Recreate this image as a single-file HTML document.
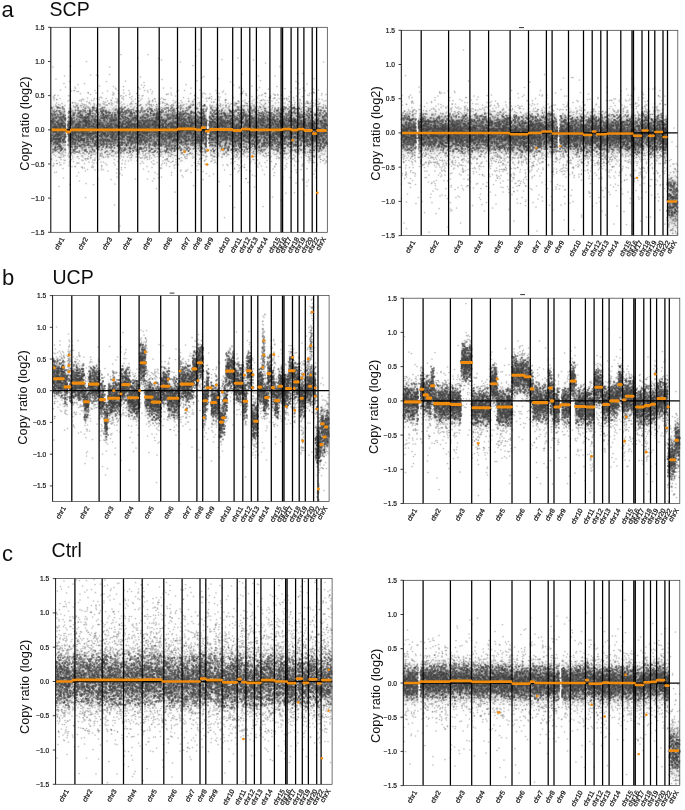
<!DOCTYPE html><html><head><meta charset="utf-8"><title>CNV scatter</title><style>
html,body{margin:0;padding:0;background:#fff}
svg{display:block}
text{font-family:"Liberation Sans",sans-serif;fill:#111}
.p{fill:none;stroke:none;marker-start:url(#d);marker-mid:url(#d);marker-end:url(#d)}
.q{fill:none;stroke:none;marker-start:url(#e);marker-mid:url(#e);marker-end:url(#e)}
.v{fill:none;stroke:#000;stroke-width:1.25}
.o{fill:none;stroke:#f28c0d;stroke-width:2.2;stroke-linecap:round}
.f{fill:none;stroke:#333;stroke-width:.7}
.k{fill:none;stroke:#111;stroke-width:.8}
.t{font-size:6.6px;text-anchor:end;stroke:#111;stroke-width:.2px}
.x{font-size:6.8px;text-anchor:middle;stroke:#111;stroke-width:.22px}
.yl{font-size:12.75px;text-anchor:middle}
.lt{font-size:22px}
.tt{font-size:19.5px}
</style></head><body>
<svg width="685" height="810" viewBox="0 0 685 810">
<defs><filter id="bp" x="-2%" y="-2%" width="104%" height="104%"><feGaussianBlur stdDeviation=".7"/></filter><filter id="bl" x="-5%" y="-5%" width="110%" height="110%"><feGaussianBlur stdDeviation=".35"/></filter><filter id="bt" x="-20%" y="-20%" width="140%" height="140%"><feGaussianBlur stdDeviation=".3"/></filter><marker id="e" markerWidth="6" markerHeight="6" refX="3" refY="3" markerUnits="userSpaceOnUse"><circle cx="3" cy="3" r="1.7" fill="#5a5a5a" fill-opacity=".36"/></marker><marker id="d" markerWidth="6" markerHeight="6" refX="3" refY="3" markerUnits="userSpaceOnUse"><circle cx="3" cy="3" r="2" fill="#404040" fill-opacity=".55"/></marker></defs>
<rect width="685" height="810" fill="#fff"/>
<g><linearGradient id="gAL" x1="0" y1="0" x2="0" y2="1"><stop offset="0.000" stop-color="#585858" stop-opacity="0.002"/><stop offset="0.036" stop-color="#585858" stop-opacity="0.003"/><stop offset="0.071" stop-color="#585858" stop-opacity="0.006"/><stop offset="0.107" stop-color="#585858" stop-opacity="0.012"/><stop offset="0.143" stop-color="#585858" stop-opacity="0.023"/><stop offset="0.179" stop-color="#585858" stop-opacity="0.043"/><stop offset="0.214" stop-color="#585858" stop-opacity="0.076"/><stop offset="0.250" stop-color="#585858" stop-opacity="0.128"/><stop offset="0.286" stop-color="#585858" stop-opacity="0.202"/><stop offset="0.321" stop-color="#585858" stop-opacity="0.297"/><stop offset="0.357" stop-color="#585858" stop-opacity="0.400"/><stop offset="0.393" stop-color="#585858" stop-opacity="0.497"/><stop offset="0.429" stop-color="#585858" stop-opacity="0.574"/><stop offset="0.464" stop-color="#585858" stop-opacity="0.623"/><stop offset="0.500" stop-color="#585858" stop-opacity="0.640"/><stop offset="0.536" stop-color="#585858" stop-opacity="0.625"/><stop offset="0.571" stop-color="#585858" stop-opacity="0.579"/><stop offset="0.607" stop-color="#585858" stop-opacity="0.505"/><stop offset="0.643" stop-color="#585858" stop-opacity="0.410"/><stop offset="0.679" stop-color="#585858" stop-opacity="0.308"/><stop offset="0.714" stop-color="#585858" stop-opacity="0.213"/><stop offset="0.750" stop-color="#585858" stop-opacity="0.137"/><stop offset="0.786" stop-color="#585858" stop-opacity="0.083"/><stop offset="0.821" stop-color="#585858" stop-opacity="0.048"/><stop offset="0.857" stop-color="#585858" stop-opacity="0.027"/><stop offset="0.893" stop-color="#585858" stop-opacity="0.015"/><stop offset="0.929" stop-color="#585858" stop-opacity="0.008"/><stop offset="0.964" stop-color="#585858" stop-opacity="0.004"/><stop offset="1.000" stop-color="#585858" stop-opacity="0.002"/></linearGradient>
<clipPath id="cAL"><rect x="50.8" y="27.3" width="276.5" height="205"/></clipPath>
<g clip-path="url(#cAL)" fill="url(#gAL)">
<rect x="50.8" y="88.2" width="14.9" height="83.3"/>
<rect x="67.9" y="90.2" width="2.4" height="83.3"/>
<rect x="70.3" y="88.2" width="27.5" height="83.3"/>
<rect x="97.8" y="88.2" width="21.5" height="83.3"/>
<rect x="119.3" y="88.2" width="18.5" height="83.3"/>
<rect x="137.8" y="88.2" width="21.5" height="83.3"/>
<rect x="159.3" y="88.2" width="18.5" height="83.3"/>
<rect x="177.8" y="87.3" width="18" height="83.3"/>
<rect x="195.8" y="88.2" width="5.5" height="83.3"/>
<rect x="201.3" y="86.1" width="4" height="83.3"/>
<rect x="205.3" y="89.5" width="1.7" height="83.3"/>
<rect x="209.1" y="89.5" width="0.2" height="83.3"/>
<rect x="209.3" y="87.8" width="8.5" height="83.3"/>
<rect x="217.8" y="87.8" width="15" height="83.3"/>
<rect x="232.8" y="88.8" width="8.5" height="83.3"/>
<rect x="241.3" y="87.5" width="8.5" height="83.3"/>
<rect x="249.8" y="88.2" width="6.5" height="83.3"/>
<rect x="256.3" y="88.2" width="13.5" height="83.3"/>
<rect x="269.8" y="88.2" width="11.5" height="83.3"/>
<rect x="281.3" y="88.2" width="1.5" height="83.3"/>
<rect x="282.8" y="87.5" width="8.5" height="83.3"/>
<rect x="291.3" y="88.5" width="6.5" height="83.3"/>
<rect x="297.8" y="87.5" width="6" height="83.3"/>
<rect x="303.8" y="88.8" width="8.5" height="83.3"/>
<rect x="312.3" y="91.9" width="4.5" height="83.3"/>
<rect x="316.8" y="88.8" width="10.5" height="83.3"/>
</g>
<g filter="url(#bp)" transform="scale(.5)"><path class="p" d="M102 282l1-39 0 40 0-34 0-21 0 14 0 34 0-5 0-56 0 62 0 2 1 3 0-38 0-27 1 53 0-23 0 14 0-31 0 13 0-6 0-5 1 48 0 19 0-44 0-11 0 60 0-50 0-15 1 50 0-51 0 11 0-21 0 49 0 1 0-39 0 2 0 4 0 29 0-12 0 3 1-30 0 38 0-18 0 8 0-9 0 31 0 1 0-25 1 12 0-25 0 16 0 13 0-53 0 28 0-21 1 11 0 57 0-27 0-15 0-29 0 50 0-18 0-7 0 31 0 12 0-39 0 44 0-23 1-29 0-19 0 40 0 25 0-14 0 5 0-27 0 36 0-33 0-26 0 58 0-32 0-8 1-31 0 58 0-19 0 11 0-8 0 19 0-14 0-7 0-9 0 35 0 12 0-40 0-4 0-5 1 35 0-51 0 27 0 15 0-34 0 19 0 1 0-6 0-24 0 21 0-2 1 15 0-24 0-23 0 65 0-9 0-17 0 39 0-31 0-12 0 23 0-2 1-4 0-2 0 17 0-10 0-63 0 79 0-6 0-43 0-30 1 52 0 12 0-25 0-24 0 19 0 10 0 14 0 11 0 1 0-44 1 5 0 13 0 19 0 3 0-29 0-3 0 20 0-9 0 11 0-56 0 77 0-25 0-19 0-4 1 34 0-1 0-43 0-12 0 48 0-13 0 35 0-12 0 9 0-7 0-18 0 41 1-68 0 40 0 17 0 3 0-30 0 16 0 1 0-14 0 0 1-15 0 3 0-18 0 49 0-31 0 34 0-63 0 52 0-29 0-36 0 32 0 14 0-37 0 24 0 14 0 17 1-15 0 17 0-12 0-14 0-1 0 7 0-27 0 26 0 15 0-23 0 24 0 25 0-47 0 38 0-29 0 14 1-28 0 26 0 21 0-51 0 27 0-44 0 55 0 11 0-61 0 66 0-51 0-12 0-11 1 24 0 12 0-20 0-2 0 17 0-8 0 51 0-32 0-21 1 1 0 20 0-16 0 11 0-25 0 11 0 49 1-34 0 16 0-34 0 51 0-80 0-3 0 49 0-29 0 8 1 31 0-30 0 42 0-33 0 30 0-3 0-46 1 31 0-11 0 29 0-31 0-18 0 28 0-5 0-26 1 4 0 44 0-9 0-23 0 7 0-16 0-19 0 61 0-18 1 15 0-53 0 16 0 17 0-3 1 46 0-47 0-21 0 43 0 0 0-4 0 14 0-26 0 5 0-26 1 1 0 2 0 44 0-33 0 18 0-21 0 9 0-1 0-20 1 37 4-16 0-6 0 10 0-18 0 7 0 40 0-42 0 5 0 15 1 4 0-46 0 33 0-5 0 8 0-17 0-11 0 32 0 15 1-35 0 23 0-6 0 0 0 14 0-54 1 39 0-8 0-6 0 15 0-40 0 57 0-37 0 14 0 18 0-20 0 9 1-28 0 68 0-33 0 15 0-60 0 23 0 33 0-28 0 20 0-18 1 43 0-56 0 33 0-31 0 24 0-44 0 53 0 12 0-52 0 37 0-58 1 6 0 70 0-7 0-38 0 26 0-14 0-20 0 35 0-15 0-11 1 19 0 37 0-58 0-4 0-2 0-5 0 35 0-36 0 54 0-19 1-19 0-9 0 6 0-10 0 6 0 2 0 37 0-19 0-7 0 23 0 14 0-25 0-5 0-26 0 37 0 3 0-2 1-8 0-7 0-16 0 31 0-14 0 10 0 10 0 5 0-22 0 18 0-11 1-6 0 23 0-33 0 44 0-24 0 28 0-73 0 39 1-12 0 9 0 11 0-51 0 19 0-4 0 2 0 16 1 18 0-11 0-37 0 70 0-15 0-49 0-7 0 52 1-22 0 43 0-14 0-26 0-1 0 17 0-6 0-9 0 36 0-30 0-14 1 31 0-30 0 7 0-37 0 39 0 25 0 3 0-29 1 22 0-23 0 7 0-4 0-16 0 29 0 19 0-77 0 45 0 18 0 10 1-13 0 23 0-53 0 28 0-27 0-4 0 22 0-14 1 5 0 4 0 10 0 18 0-38 0-5 0 9 0 15 1 22 0-37 0 3 0-13 1 4 0-4 0 39 0 5 0-60 0 71 0-16 0-24 0-8 1-1 0 2 0 15 0-56 0 28 0 36 0-1 0-59 0 7 0 49 1 6 0-34 0 0 0 7 0 10 0-14 0 19 0 2 0-26 0 28 1 0 0-15 0-3 0 26 0-30 0 25 0 14 0-25 0 17 0-57 0 79 0-51 0 11 1-25 0 9 0 7 0-33 0 79 0-68 0 15 1-5 0 19 0-4 0-15 0-18 0 66 0-11 0-36 0-14 0 61 0-37 1 25 0-7 0 11 0-35 0 3 0 23 0-52 0 6 0 45 0-39 1 9 0 27 0 7 0-43 0-13 0 8 0 35 0 14 1-24 0 22 0-19 0 34 0-29 0-31 0 32 0-4 0 20 1-22 0 20 0-13 0 14 0-48 0 37 0 12 0-44 0 43 0-48 0 58 0-25 0 0 1 8 0-2 0-24 0 11 1 11 0-10 0-19 0 3 0-7 0 34 0-2 0-5 0 3 0 0 0-9 0-5 0 19 0-47 0 58 0-15 1 5 0-51 0 60 0 5 0-28 0 32 0-10 0-27 0 4 0-7 0-7 0 10 1 26 0 11 0-46 0 39 0-29 0 28 0-3 0-15 0-27 0 42 1 2 0 5 0-19 0-29 0 64 0-9 0-51 0-7 0 28 0-21 0 1 1 7 0-7 0-19 0 44 0-4 0-24 0 2 0 59 0-79 0 39 0-21 0 28 1-15 0-9 0 1 0 15 0 43 0-57 0 5 0-15 0-18 0 40 0-22 0 6 1 45 0 5 0 8 0-65 0 2 0 15 0 18 0-27 0 0 0 5 0-17 0-5 1 25 0-12 0 5 0 5 0-3 0 1 0-11 0 34 0-17 0 23 0-25 0 28 0-15 0 20 0-38 1 26 0 13 0-39 0 22 0-3 0 40 0-61 1 22 0-31 0 20 0-11 0 24 0 12 0-4 1-16 0 12 0-44 0 63 0-55 0-6 0 11 0-4 0 32 0-21 0-14 0 37 0 12 0-4 0-18 0 30 1-32 0-17 0 10 0-7 0 11 0 29 0 4 0 0 0-28 0 12 1-31 0 54 0-62 0 8 0 21 0-14 0-4 0-7 0 11 0 22 0-8 0-32 0 23 0-25 1 26 0-37 0 30 0 5 0 14 0-38 0 47 0-6 0-1 1 35 0-20 0-57 0-3 0 3 0 65 0-69 0 9 0-10 0 0 0 47 0 1 0-2 1-8 0-10 0 4 0-25 0 15 0 15 0 15 0-1 0-4 1 8 0 16 0-14 1 17 0-26 0-2 0 37 0-72 0 13 0-3 0 25 1-8 0-36 0 48 0-32 0 12 0 2 1 40 0 5 0-18 0 20 0-65 0 48 0-5 0-25 0 24 0-57 0-5 0 18 1-18 0 37 0 6 0 27 0-22 0-16 0 33 0-14 0-39 0 5 0-16 0 52 0-9 0 19 0-21 1 20 0-11 0-5 0-8 0 21 0-9 0-16 1-9 0-3 0 16 0 39 0-44 0-28 1 81 0-40 0 28 0 14 0-47 0 11 0-51 0 51 0 20 0-45 1 20 0-14 0-5 0 0 0 44 0-48 0 0 0-11 0 63 0-2 0-23 0 16 0-28 0 7 1-2 0 7 0-31 0-3 0 33 0 1 0 6 0-28 1 17 0 22 0-25 0 14 0 2 0-22 0 21 0-50 0 51 0 11 0-29 0 11 0 16 0 6 1-6 0-33 0 9 0 26 0-41 0-23 0 45 0-45 0-5 1 76 0-67 0 55 0-48 0-7 0 15 0 49 0-41 0 49 0-18 0-27 0 22 0-34 0-21 0 31 1 2 0-27 0 14 0 57 0-5 0-49 0 14 0 13 0-49 0 42 0-2 0 33 0-25 0-14 1-25 0 30 0 21 0-51 0 32 0-13 0 16 0 12 0-13 0-1 0 15 0-12 0 20 0-34 1 5 0-9 0 39 0 3 0-18 0-25 0 35 0 18 1-5 0-44 0 2 1-3 0 15 0-16 0 45 0-34 0-19 0 5 1 27 0-16 0 1 0-12 0 3 0 34 0-10 1-31 0 10 0-33 0 18 0 44 0-1 0 6 0 2 1 3 0-29 0 8 0-46 0 8 0-9 0 32 0 9 0-15 0 23 1 9 0-27 0 37 0-19 0-10 0 13 1-40 0 11 0-21 0 75 0-35 0-39 0 12 0 35 0 10 0-55 0 23 0 39 0-21 0-51 1-2 0 62 0-29 0 19 0-14 0-17 0 30 0-43 0 41 1-33 0 47 0-25 0-33 0 39 0 0 0-2 0-29 0 66 1-10 0-16 0 15 0 8 0-10 0 6 0-52 0-14 0 7 0 21 0 2 0-21 0 0 0 53 0-23 1-25 0 32 0-13 0-16 0 51 0-24 0-30 0 6 0 13 0 12 0 15 0-14 1 20 0-18 0-27 0 14 0 13 0-11 0-20 0 34 0-39 0-18 1 54 0-13 0 10 0 14 0 25 1-82 0 57 0-11 0 10 0-12 0-34 0 25 1-22 0 26 0-32 0 2 0-10 0 13 0-10 0 48 0 16 0-39 0 6 0 47 1-9 0-50 0 38 0-30 0 3 0 3 0-32 0 57 0 3 0-52 0-9 1 46 0-16 0 33 0-15 0-12 0 30 0-18 0-12 0 32 1-58 0 44 0 0 0-8 0-20 0-13 0-7 0 23 0-7 0 18 1-9 0 11 0 13 0-32 0 23 0 12 0-27 0-24 1 22 0 26 0-33 0 23 0-11 0 2 0-37 0 30 0 6 0-31 1-3 0 57 0-31 0 11 0-27 0 25 0-3 1 23 0-20 0-30 0 50 0-29 0 36 0 6 1-49 0 38 0-45 0 15 0-27 0-1 0 17 0 8 0 2 0 16 1-27 0 19 0 2 0 2 0 10 0-18 1-9 0 9 0 14 0 22 0-40 0-14 0 46 0-9 0 14 0-1 0 8 0-61 0 22 1-27 0 39 0-4 0-3 0-14 0-16 0 18 0-8 0 6 0-5 1-13 0 28 0 16 0-14 0 16 0 18 0-28 0 9 0-39 0 38 0-34 0 42 0-27 1 14 0 3 0-31 0 15 0 27 0-18 0-1 0-8 0 14 0-44 0 77 0-50 0-19 1 7 0 30 0-33 0 25 0 39 0-55 0 32 0-2 0-4 1-32 0 27 0 19 1-47 0 19 0-10 0 42 0-22 0-2 1 13 0-45 0 4 0 36 0 8 0 13 0-55 0 38 0-49 1 15 0-15 0 26 0-30 0 37 0-13 0 22 0-20 0 13 0-32 1-13 0 10 0 11 0 45 0-10 0-11 0-24 0 40 0-2 1-41 0 17 0-4 0-3 0 11 1 1 0 2 0 17 0-41 0 15 0 21 0-39 0 38 0-3 1-20 0 14 0 5 0-29 1 13 0 13 0 26 0-41 0 32 0-58 0 67 1-47 0 60 0-52 0 26 0-10 0-43 0 25 0-29 0 68 1 1 0-37 0 31 0-28 0 6 0-31 0 30 0-2 0 7 1-34 0 14 0 7 0 9 0 30 0-31 0-9 0 6 0 42 0-13 1-28 0 32 0-68 0 20 0 24 0-48 0 65 0-33 0 26 0-20 0 7 0-28 0 62 0-53 0-18 0-11 0 12 1 67 0-40 0 20 0-32 0-18 0 11 1-11 0 64 0 15 0-9 0-73 0 8 0 54 0-25 0-9 1-12 0 30 0-5 0-17 0 31 0-12 0-13 0 17 0 30 1-48 0 5 0-42 0 68 0-17 0 24 0-3 0-27 0 6 1-45 0 31 0 20 0 6 0-23 0 47 0-50 0-1 0-32 0 67 0-53 0 52 0-22 0-39 0 31 0-31 0 32 0-6 0 17 0-49 0 42 0-30 0 49 0-4 0-24 0 46 0-64 1 14 0 43 0-46 0 19 0 10 0 13 0-20 0 6 0-2 0-10 0-5 0-6 0 0 0 4 1-16 0 37 0-27 0 7 0 9 0-28 0 26 0-32 1 14 0-2 0 26 0-5 0-29 0 23 0-38 0 7 0 48 1-25 0 38 0 14 0-43 0 3 0-35 0 33 0 22 0-24 0 9 0 9 1 11 0-23 0-1 0-46 0 86 0-30 1-48 0 41 0-9 0-18 0 12 0 21 0 27 0-37 0-18 0-8 0-5 1 18 0 13 0-26 0 22 0 11 0 32 0-60 1 21 0-35 0 21 0 10 0-29 0 42 0 19 0-29 0-1 0-3 0-33 1 70 0-40 0 38 0-24 0 24 0-23 0-14 1 25 0-24 0-29 0 10 0 19 0-10 0 8 0-9 0-22 0 33 0 51 1-42 0 11 0 6 0-7 0 13 0-39 0-11 1 19 0-5 0 40 0-53 0 45 0-36 0 12 0-13 1 23 0-30 0-14 0 17 0 19 0 0 0-3 0-2 0 30 0 1 1-37 0 17 0-5 0-4 0-10 0-4 0 31 0-21 0 21 0-53 0 29 0 30 1-14 0-34 0 26 0-13 0 32 0-16 0 34 0 2 0-53 0 24 0-45 0 73 0-14 0-2 0-41 0 15 1 21 0-12 0 2 0 39 0-75 0 31 0-10 0 14 0 17 1-36 0-2 0 13 0 21 0-16 0 3 0-22 0 61 0-7 0 2 0-14 0-40 0 37 0-1 0-28 0-26 0 6 1-12 0 58 0-46 0 58 0-40 0-26 0 46 0-43 0 47 0 1 1 12 0-33 0 34 0-64 0 3 0 24 0-2 0 23 0 16 0-37 0 24 0-21 0 6 0-19 1 17 0 16 0-6 0-21 0 1 0 35 0-44 0-11 0 28 0-25 1 51 0-55 0 9 0 38 0-15 0 38 0-14 0-14 0-8 1 4 0-13 0 32 0-34 0 26 0 1 0 24 0-66 0 13 0 22 0 17 0-37 1 8 0-8 0-1 0 17 0-28 0 26 0-24 0 62 0-30 1 21 0-68 0 40 0-4 0-26 0 15 1 7 0-31 0 60 0-5 0-32 0 31 0-22 0 20 0-24 0 5 0-10 0 18 0-13 0 3 0-4 0 43 1-43 0-4 0-18 0 12 0 33 0-19 0 3 0-11 0-13 0 48 1-50 0 2 0 58 0-36 0-22 0 22 0 12 0-6 1-12 0 34 0-64 0 32 0-13 0 43 0 15 0-24 0-36 0 35 0-7 0-12 1-17 0-1 0 12 0 53 0-22 0 4 0-60 0 39 0-30 0 45 0-2 0 2 0-11 1-51 0 31 0 20 0 6 0-42 0 47 0-56 0 14 0 31 1 2 0 6 0 24 0-67 0-6 0 21 0 3 0 14 0 10 1-27 0-5 0 19 0 0 0 26 1-17 0 5 0-53 0 41 0 9 0-21 0 12 1-1 0-20 0 18 0 40 0-29 0-26 0 11 0 48 0-52 0 10 0 19 0-17 0-3 0 8 1-24 0 5 0 3 0 22 0-7 0-5 0-1 0-2 0 2 0 20 0 2 1 12 0-27 0-22 0 6 0 36 0-9 0-55 0 37 0 35 0 1 1-29 0-17 0 27 0-23 0 15 0-30 0 16 0 12 0 11 0-35 0-10 0 26 0-3 0 18 0 0 0 21 1-52 0 7 0-30 0 60 0 6 0-3 0 10 0-11 0-20 0-28 0 19 1 24 0-29 0 21 0-24 0-29 0 80 0-34 1-10 0 10 0-6 0 9 0 15 0-67 0 25 0 10 0 25 1-3 0-30 0-9 0 22 0 16 0 8 0-45 0 18 0 20 0 3 1-42 0 39 0-6 0-9 0-15 0 61 0-39 0 24 0-50 0 24 0 3 1-23 0 4 0 14 0-6 0 35 0-29 0-10 0 30 0-51 0 18 0 31 1-56 0 52 0-6 0-20 0 17 0-15 0 46 0-39 0 23 0-15 0-4 0 1 1-5 0-3 0 9 0 19 0-47 0 32 0-20 0-3 1 33 0-12 0 37 0-51 0 30 0-7 0 12 0 8 0-72 0 19 0 6 0-2 0 20 1 21 0-2 0-56 0 43 0-29 0-6 0 30 0-8 0-22 1 22 0 3 0 29 0-38 0 31 0-41 0 25 0-17 0 4 1 26 0-25 0 12 0 29 0-66 0 35 0-4 0 39 0-24 0-12 1-19 0 17 0-43 0 50 0-29 0 13 0 14 0-9 0 26 0-2 0-54 0 17 1-3 0 24 0-12 0 22 0-22 0 17 0-31 0-8 1 33 0-17 0-25 0 27 0 0 0-20 0-7 0 57 1-47 0 46 0-24 0-14 1 15 0-2 0-7 0 55 0-51 0 1 0 20 0-29 0 13 1 39 0-57 0-23 0 68 0-38 0 43 0-25 0 2 0 26 0-27 0-45 0 58 0-37 1 62 0-13 0-39 0 20 0 12 1-64 0 24 0-17 0 6 0 16 0-20 0 42 0 7 0-2 1-13 0 14 0-22 0 5 0-16 0-15 0 43 1 12 0 16 0-33 0-47 0 22 0-18 0 56 0-57 1 28 0-28 0 77 1-31 0 23 0-39 0-1 0-9 0 9 0 21 0-34 0 3 1-10 0 31 0-5 0-13 0 5 0-25 0 24 0 14 1-26 0 23 0 6 0-17 0 1 0-18 1 13 0 37 0-20 0-6 0-25 0 41 0-24 0 38 0 20 0-77 0 63 0-3 0-14 0-15 1 17 0 17 0-4 0-23 0-16 0 20 0-12 0-26 0 21 0-9 0 20 1-20 0 59 0-10 0-50 0 14 0 46 0-56 0 39 1-37 0-4 0-9 0 51 0-57 0 25 0-1 0-2 0-3 0-10 1 20 0-12 0 23 0 18 0-23 0 19 0-40 0 21 0-12 0 37 0-24 1-21 0-3 0 47 0-54 0 26 0-32 0 6 0 2 0 1 0 20 0-5 0-35 1 12 0 37 0-8 0-21 0-1 0-6 0 2 0 12 0 13 0 0 0-36 0 6 0 23 0 29 0-8 0-8 0-17 1-21 0 14 0 33 0-3 0-30 0-15 0 25 0 55 0-75 0 45 0-46 1 39 0-6 0-22 0-5 0 47 0-31 0 16 0 31 0-58 0-1 0 52 0-18 0-21 1-33 0 19 0-3 0 56 0-7 0-29 0 24 0-43 1-8 0 33 0 27 0-20 0-12 0 11 1 19 0-52 0 20 0-30 0 48 0 28 0-49 0 24 0 14 0-42 0 35 1-22 0-16 0 19 0-38 0 62 0-43 0 8 0-16 0 5 0 23 0-4 0 14 0-14 0 5 0 17 0-57 0 32 0-3 1-8 0 21 0-7 0 44 0-12 0-19 0-9 0 27 0-50 0-12 0 39 1 1 0-18 0 26 1-52 0 65 0-64 0 58 0-14 0-33 0 56 0-72 0 14 0 22 0 31 0-25 0 1 0-23 1 38 0-21 0-6 0 23 0-16 0-11 0 26 1-26 0 37 0-12 0 6 0-8 0-30 0 10 0 11 0-2 0-5 0-4 0 2 1 27 0-58 0 22 0 6 0 21 0-46 0 30 0-12 0 25 1-26 0 31 0-11 0 16 0-38 0 21 0 17 0 11 0-40 0 13 0-6 0-2 0 5 2 24 0-13 0 15 0 17 0-21 0-38 1 34 0-9 0-12 0-25 0 29 0 35 0-76 0 28 1 13 0 16 0-5 0-6 0-9 0 8 0 40 0-59 0 44 0-42 0 37 0-21 1-21 0 16 0 34 0 13 0-24 0-25 0 0 0-4 0 19 0-46 0 19 0 35 0-37 0 7 0 6 0 18 1 12 0-68 0 24 0 14 0 48 0-2 0-36 0 29 1-35 0 14 0 26 0-68 0 61 0 5 0-10 1-16 0 29 0-65 0 31 0-7 0-27 0 46 0-26 0-14 1 20 0-6 0 54 0-89 0 13 0 21 1 47 0-34 0-28 0 32 0-19 0 26 0-7 0 1 0-30 0-16 0 51 0 19 0-16 0 14 1-70 0 33 0 24 0-29 0 39 0-13 0-6 0-38 0 39 1 3 0-24 0 28 0-10 0-4 0-24 0 46 0 9 1-20 0-10 0-27 0 62 0-27 0 2 0-12 0 29 0-3 1-34 0 47 0-50 0 15 0-19 0-9 0 8 0 30 0-3 0 12 0-50 1 45 0-22 0 19 0-59 0 31 0 7 0-33 0 52 0-19 0 14 0-2 1-18 0 19 0 1 0 2 0-4 0-5 0-9 0 2 0-10 0-14 0 71 0-9 1-19 0-1 0-11 0 29 0-55 0 20 0 42 0-2 1-46 0-25 0 23 0-33 0 32 0 37 0-31 0-24 0 68 0-48 0 31 1-9 0-9 0 20 0-62 0 32 0 3 0-24 0 11 0 40 0-43 0 27 1-11 0 2 0-23 0-2 0 12 0-21 1 54 0-40 0 53 0-25 0-11 0 25 0-61 0 60 0-25 0 6 0 38 0-32 0-19 0 27 1 20 0-11 0-51 0 49 0 22 0-81 0 45 0 4 0 32 0-31 0 26 0-39 0 23 0-54 1 19 0 53 0-12 0-29 0-15 0 3 0 33 0-11 1-14 0 38 0 0 0-55 0 21 0 21 0-24 0 18 0-37 1 45 0-1 0-45 0 45 0-21 0 10 0-38 0 30 0 6 0 13 0-36 0 34 0-23 0 8 1-33 0 25 0 27 0-32 0 8 0 9 0 29 0-59 1-5 0 66 0-81 0 31 0 24 0-39 0 52 0-55 0 17 1-21 0 31 0-14 0 1 0 1 0 42 0-19 0-32 0 53 0-20 0-21 0 15 1-23 0 8 0 27 0-60 0 60 0-6 0-29 0 15 0-8 0 10 0-34 0 74 0-21 1 3 0 2 0-2 0-1 0-42 0 61 0-49 0 14 0 5 0 8 0-3 0-8 0-13 0 17 1-5 0-15 0 15 0-2 0 5 0-18 0 3 0 21 0-16 0-28 0 33 0 2 0-29 0 6 1-5 0 37 0-30 0 32 0-37 0 57 0-66 0 10 0 33 0 15 0-13 0-41 1-2 0 66 0-11 0-7 0-21 0 5 0-8 0-8 0-21 0 40 0-13 1 48 0-44 0-38 0 46 0 1 0-40 0 43 0-31 0 11 1 6 0-23 0 32 0-29 0 50 0-42 0-1 0-26 0 70 0 16 0-74 0 31 0 22 0-28 0 7 0 11 0 3 1-21 0 3 0 7 0 25 0 11 0-47 0-12 0 44 0-35 0 10 0-29 0 53 1-28 0 15 0-31 0 36 0-26 0 15 0-30 0 22 0 1 0 5 0-17 0-6 1 14 0-28 0 36 0 5 0 10 0-29 0 11 0-28 1 61 0-68 0 51 0-13 0-2 0-7 0-22 1-1 0 1 0 9 0 25 0-6 0 19 0-33 0 8 0-6 0 3 0-7 0 43 1-31 0 15 0 10 0-31 0-11 0 18 1 5 0 12 0-21 0 22 0-34 0 34 0-21 0-11 0 15 0-8 0 48 0-44 0-24 1 38 0 15 0-32 0-15 0 18 0-6 0 43 0-48 0 37 1-6 0-49 0 5 0 32 0-4 0 46 0-26 0 7 0 3 1-12 0-4 0 14 0-57 0 53 0-47 0 22 0-16 0 3 0 8 0 39 1-23 0 10 0 6 0-15 0 26 0-10 0-31 0-35 0 66 1-61 0 78 0-2 0-8 0-61 0 16 0 19 0-13 0 17 0 14 1-36 0 18 0 2 0 3 1-40 0 7 0 14 0 3 0-1 0 22 0-20 0-16 0 26 0 25 1-53 0 22 0 45 0-83 0 55 0 28 0-45 0 21 0-11 0 28 0-14 1-16 0 15 0-35 0-31 0 15 0 11 0 38 1-25 0-37 0 19 0-1 0 30 0-1 0 10 0-18 0-14 0 3 0-9 1 63 0-53 0 34 0-35 0-6 0-8 0 33 0 0 0 5 0-32 1 30 0-14 0 12 0-14 0 11 0-3 0-7 0-6 0-31 0 68 1-16 0 24 0-67 0 29 0 8 0-5 0-6 0-23 0 6 0 32 0 23 0-60 1 42 0-46 0 54 0-28 0-4 0 1 0 21 0-27 1 12 0-10 0 39 0-35 0-9 0 17 0-21 0 6 0-14 0 50 0-31 1 43 0-1 0-24 0 9 0 11 0-35 0 29 0-17 0-12 0 1 1 42 0-34 0 16 0-21 0 24 1-7 0-2 0 19 0-5 0-12 0 13 0-34 0-22 0 31 1-23 0 35 0 6 0-38 0 7 0 54 0-50 0 10 1 4 0-35 0 11 0 26 0-3 0-1 1 8 0 14 0 7 0-18 0 17 0-31 0 37 0-14 0-13 0-20 0-4 0 21 0-6 1-8 0 16 0 19 0-40 0 10 1 14 0-19 0-9 0 40 0-36 0 20 0-2 0 40 1-54 0 13 0-10 0-21 0-13 0 68 0-6 0-48 0 20 0 36 1-8 0-5 0-31 0 34 0-4 0-33 0 15 1 30 0-25 0-26 0 22 0-11 0 35 0-36 0 26 0-10 0-43 0 25 0 26 1-16 0 29 0-48 0 49 0-19 0-39 0 51 0-21 0-8 0 36 1-44 0 59 0-25 0-28 0-4 0 21 1-11 0 29 0-36 0 32 0 8 0-47 0 38 0-4 0-10 0-13 1 9 0 30 0-10 0-22 0-2 0 39 0-26 0-39 0 58 0-23 1-27 0 46 0 0 0-21 0-13 0 42 0 13 1-45 0-10 0 57 0-10 0-46 0 48 0-60 0 1 0-8 0 41 1 29 0-35 0-11 0 29 0 13 1-76 0 39 0-30 0 16 0 41 0-64 1 61 0-28 0 21 0 21 0-69 0 10 0 11 0 14 1-41 0 37 0-12 0-4 0 29 0-8 0-24 0 59 0-42 0-19 0 29 0 9 0-26 0 31 1-46 0 26 0 17 0-43 0-21 0 75 0-8 0-52 0 29 0 14 0 12 1-6 0-10 0-3 0-1 0-16 0-23 0 17 0-2 0 22 0-33 0 54 0-31 0-32 0 52 0 1 0-3 1-13 0 7 0 2 0 3 0-34 0-9 0 33 0-1 0-18 0 24 0-11 1-15 0 9 0 3 0-1 0 16 0-7 0 20 0-46 0 33 0-9 0-18 0 27 0-53 0 2 0-2 0 31 1-3 0 37 0-1 0-7 0-35 0 57 0-46 0 44 0 13 1-12 0-9 0 8 0-36 0 41 0-30 0-16 0 58 0-30 0 13 1-65 0 71 0 0 0-31 0-18 0 4 0 37 0-46 0 11 0-4 0 20 0 12 0-16 0 27 0-31 0 10 1-20 0 28 0-30 0 5 0-9 0 28 0 12 0-1 0-62 0 46 1 37 0-33 1-28 2 36 1 0 0-8 0 17 0-38 1 22 0-34 0 45 0-24 0 15 0-39 0 44 0-34 0 7 0 27 0-25 0 10 1 23 0 6 0-27 0-30 0 22 0 18 0-14 0-16 0 27 1-1 0 2 0-27 0-1 0 14 0 10 0-17 0-4 0-1 0-21 0 48 1 6 0-52 0 38 0 36 0-47 0-10 0 22 0-6 0 29 0-43 0-8 0 10 0-33 0 70 0-13 0-55 0 32 0-13 1 23 0-7 0-8 0 34 0-40 1 20 0-7 0 29 0-15 0-33 0 12 0 24 0 10 0-5 1-42 0 12 0 34 0-56 0-2 0 66 0-21 0 27 0-63 0 12 1-8 0 48 0-36 0 14 0 20 0-16 0 36 0-19 0-39 1 11 0 15 0-19 0 10 0-23 0 8 1 11 0-20 0 22 0 20 0-50 0 41 0 36 0 0 1-58 0-22 0 40 0 23 0-47 0 7 1 23 0 12 0-36 0 18 0 14 0-48 0 63 1 1 0-32 0-13 0 12 0 8 0-18 0 4 0 0 0-15 0 16 0 11 0 11 1-22 0-7 0 18 0 19 0-20 0-8 0-29 0 1 0 49 0 8 1-12 0-33 0 32 0-38 0 38 0-52 0 43 0 5 0 19 0-39 0-29 1 60 0-14 0-29 0 16 0 6 0 6 0-48 0 65 0-53 0-2 1 45 0-33 0 4 0 23 0 0 0 5 0-11 0-17 0 10 0-11 0-9 1 10 0 14 0 19 0-12 0 20 0-67 0 32 0-10 0 35 0-11 0 13 0-44 0 3 0 53 0-35 0-13 1 10 0 5 0 11 0-3 0-36 0 54 1-35 0 24 0-17 0-30 0 51 0-35 0 50 0-16 0-20 0-14 0 16 0-19 0 24 1-12 0 25 0-7 0-8 0 6 0-35 0 23 0 10 1 22 0-13 0-30 0 52 0-59 0 16 0 37 0 4 1-25 0-2 0-26 0 41 0-44 0 13 0-2 0 29 1-33 0 9 0 2 0 24 0-4 0-31 0 5 0-8 0-11 0 9 0 47 1-48 0 59 0-26 0 30 0-39 0 10 0-22 0-25 0 6 0 14 0 24 1-46 0 79 0-48 0 7 0-25 0 39 0-32 0 9 0 20 0-24 0 4 0 2 0 22 0-47 0 18 0 19 1-7 0-3 0 11 0-31 0 20 0-9 0 36 1-22 0-15 0-4 0 20 0 4 0 14 0-11 1-22 0 17 0 18 0-16 0-12 0-4 1 24 0-30 0 39 0-38 0 31 0-46 0 25 0 14 0-1 0 6 0-44 0 25 0-27 1 24 0 17 0-20 0 51 0-32 0 4 0-39 0 1 0 66 0-19 0-7 1-17 0-12 0 2 0 33 0-21 0-29 0 43 0-41 0 62 1-1 0-28 0-25 0 9 0 16 0-16 0 42 0-23 0-35 0 44 0 13 0-23 0 11 1-43 0 35 0 37 0-27 0-43 0 42 0 9 0-33 0 28 0-19 0-9 0-4 1-2 0 14 0 26 0-50 0 37 0-40 0 47 0-19 0 6 0-11 0 17 1-8 0-22 0 32 0-29 0 24 0-8 1 3 0-24 0 35 0 20 0 3 0-35 0-18 0 11 0 21 1-35 0 58 0-59 0-10 0 36 0-17 0-15 0 24 0-16 0 57 1-7 0-25 0 29 0-51 0 9 0 12 0-25 1 51 0-24 0-10 1 16 0 1 0-57 0 67 0-40 0 14 0-30 0 37 1 20 0-41 0-21 0-4 0 56 0-47 0 29 0-38 0 36 0-25 0 10 0 26 0-21 0 23 0-30 0 23 1-11 0 26 0-8 0-33 0 22 0-16 0 38 0-38 1 23 0-44 0 9 0 46 0-28 0 50 0-60 0-17 0 24 1 27 0-22 0 2 0-15 0 43 0-36 0-10 0 18 0 12 0-11 0-7 1 41 0-42 0 30 0-53 0 40 0-27 0 36 0 7 0 20 0-69 0 34 0-11 0 17 0-30 0 57 0-27 0-45 1 20 0 41 0-37 0 16 0-21 0 25 1 1 0 31 0-4 0-41 0-27 0 39 0 15 0-63 0 44 0 6 0 5 1-31 0-5 0 18 0 10 0 24 0-18 0-15 0 1 1 2 0-13 0-19 0 28 0-24 0 55 0 5 0-19 0-27 0 44 0-18 0-49 0 44 1 7 0-10 0 12 0-23 0-2 0 30 0-2 1-39 0 41 0-2 0-59 0 44 0-33 0 4 0 47 0 1 0 13 0-14 0-20 0 7 1 0 0-13 0 9 0-13 0 2 0 32 0-48 0 31 1-19 0-29 0 60 0 18 0-26 0-37 0 32 0 22 0 9 1-18 0-10 0-23 0-29 0 35 0-6 0 5 0-3 1-13 0 12 0 8 0 39 0-39 0-24 0 29 0-27 1 39 0 4 0-17 0 17 0 25 0-74 0 22 0 7 0-21 0 19 0 29 1-39 0-29 0 7 0 52 0-29 0 33 0-17 0 7 0 0 1-2 0 20 0 9 0-18 0-1 0-64 0 56 0-11 0 6 0-12 0-18 1 17 0-24 0 10 0-14 0 41 0 19 0-39 0 3 0 19 0 24 0-17 0-33 0 12 0 33 1-24 0 12 0 0 0 7 0-24 0-3 0-14 0 10 0 15 0-36 0 13 0 13 1 30 0-30 0-23 0 69 0-83 0 75 0 1 0-34 0 3 0 14 0-34 1 43 0-28 0-23 0 20 0-4 0 17 0 22 0-16 0 0 0-48 0 39 0-23 1-16 0 14 0-17 0 65 0-47 0 21 0 23 0-23 0 29 0-30 0-22 0 36 0-15 0 28 1-53 0 18 0-19 0-4 0 57 0-44 0 22 0 7 0-11 1-24 0 27 0-32 0 11 0 54 1-61 0-5 0 35 0-49 0 41 0-15 0-13 0 36 0 13 1-46 0 11 0 13 0 18 0-19 0 2 0-35 0 11 0 8 1-18 0 2 0 3 0 49 0-8 0 21 0-72 0-1 1 52 0 0 0 16 0-8 0 23 0-30 0-41 0 21 0 15 0-14 0 28 0-19 0 9 1 28 0-76 0 70 0-22 0-11 0-4 1 8 0-34 0 26 0 13 0-20 0-22 0 21 0 1 1 1 0 20 0-40 0 13 0 16 0 24 0-13 0-41 0 18 1 28 0-35 0-5 0-3 0 62 0-49 0 37 0-45 1 29 0-4 0-18 0-4 0 19 0 11 0-21 0-5 0 17 1 13 0 9 0-26 0-16 0 23 0 34 0-41 0-28 1 68 0-34 0-5 0-26 0 41 0-29 0-4 0 13 0 23 0-35 0 31 0-22 1 12 0-31 0 37 0-49 0 21 0 9 0-1 1 8 0-3 0 25 0-24 0 29 1-27 0 24 0-57 0 52 0 10 0-37 0 13 0 22 0-53 0 41 0-20 0-6 0-8 1 30 0 3 0 26 0-12 0-18 0 5 0 21 0-55 1-8 0 39 0-42 0 21 0 22 0-18 1-3 0 18 0-28 0 7 0 6 0 37 0-27 0-2 1-26 0-18 0 34 0 7 0-25 0 12 0 31 0 20 1-54 0 28 0-48 0 62 0-13 0 0 0-28 0 23 0 7 0 15 0-20 0-22 1-9 0 24 0-14 0 27 0-40 0 48 0-55 0 12 1 54 0-29 0-26 0 28 0-3 0-40 0 66 1-35 0-2 0 30 0-45 0 35 0 10 0 7 0-43 1 7 0-14 0 27 0 38 0-60 1-6 0-17 0 47 0 10 0-2 0-21 0 34 0-17 0-23 1 40 0-18 0-15 0 10 0 0 0-24 0 43 0 6 0-18 1 22 0-37 0-7 0 34 0-9 0-29 0 24 0-16 0 38 0-42 0-8 0 31 0-15 0 35 0 5 0-25 1-8 0-9 0-11 0-10 0 23 0-3 0 8 0 7 0 0 0-45 0 9 0 47 0-52 0-12 0 23 1 6 0-23 0 21 0 16 0-35 0 71 0-29 0 14 0-43 0 27 0-16 0 4 0 2 0 0 0 21 0-10 0-42 1 47 0-2 0 7 0 10 0-57 1 21 0-4 0 49 0-18 0-2 0-14 0 24 0-27 0 7 0 23 0 3 0-30 0 2 1 25 0-42 0 18 0 17 0-52 0 23 0 3 0 19 0 7 0-20 0 2 0-19 0 31 1-1 0-37 0 46 0-15 0 17 0-41 0 36 0-59 1 13 0 18 0 35 0-34 0-15 0 29 0-26 0 6 1 12 0 36 0-2 0-51 0 14 0-26 0 71 1-17 0-45 0-13 0 56 0 13 1-57 0 42 0-14 0 14 0-12 0-25 0 2 1-30 0 43 0 6 0-15 0-1 1-16 0 8 0 62 0-57 0 5 0-19 0 37 0-27 1 52 0-57 0 6 0-15 0 29 0 13 0-20 0 25 0-5 0-3 1-16 0-13 0 28 0 28 0 7 0-48 0-14 0 3 0 24 0 22 1-43 0-7 0-13 0 64 0-27 0-11 0 1 0 7 0 46 0-13 1 0 0-33 0-20 0 30 0-28 0 25 0-36 0 14 1-10 0 13 0 5 0-22 0 36 0-4 0-16 0-13 0 33 0 3 0-25 0 43 1-35 0 30 0-12 0-34 0 47 0-8 0 12 0 13 0-73 0 41 0 0 0 13 0-42 0 51 1-44 0 18 0-46 0 71 0 2 0-49 0 35 1-11 0-5 0 26 0-33 0-32 0 52 0-39 0 51 1-68 0 24 0 51 0-35 0 19 0-29 0-8 0-8 0 46 0-16 1-7 0 0 0 12 0-3 0 8 1-10 0-7 0 6 0 8 0 11 0 6 0 3 0-37 1 15 0-11 0-5 0 44 0-60 0 45 0 2 0-29 0 8 0 10 0-46 1 42 0 10 0-46 0 13 0-8 0 4 0 47 1-16 0 15 0-36 0-10 0-2 0 27 0-23 0 26 0-16 1 12 0-38 0 23 0 10 1 13 0-14 0 1 0 29 0 3 0-53 0 19 0 0 0 5 0-22 1 44 0-33 0-24 0 46 0 2 0-29 0 15 0 15 0 7 1 4 0-29 0-17 0 38 0-3 0 17 0-47 1-8 0-4 0 30 0-10 0 19 0-2 0 0 0-38 0 28 0 18 0-19 0 24 1-42 0 9 0 24 0 12 0-41 0-5 0 10 0 10 0-34 1 52 0 15 0-4 0-16 0-43 0 54 0-11 0-21 0 45 0-41 0-17 1 52 0-46 0 52 0-63 0 40 0-48 1 53 0 1 0-43 0 52 0 1 0-42 0 26 0-32 0 42 0-17 0-22 1 2 0 11 0 12 0-31 0 42 0-42 0 31 1-12 0 13 0-21 0-15 0 64 0-44 0-6 0 18 0-38 1 11 0-8 0 35 0-1 0 14 0-41 0-4 0 34 0 7 0-1 1 12 0-7 0-3 0-16 0 22 0-61 1 22 0 41 0-44 0-23 0 28 0 28 0 6 0 2 0-40 1 15 0-3 0 6 0-19 0 58 0-68 0 12 0 18 1 26 0-39 0 1 0 9 0 7 0 3 0-5 1 35 0-22 0-28 0 45 0-25 0 25 0-15 0-10 0 0 0-35 0 24 0 12 1-48 0 63 0-19 0 13 0-40 0 14 0-9 0 18 0-40 0 44 0 36 1-37 0-15 0-28 0 39 0-8 0 14 0-27 0-12 0 52 1 10 0-39 0 40 0-52 0 6 0 53 0-25 0 11 0 18 0-51 0 53 0-44 1-8 0 17 0-6 0-8 0 1 0 0 0 16 0 15 0-23 0-1 0 8 0-22 0 13 0 33 0-78 1 9 0 70 0-6 0-15 0-10 0 2 1-24 0 9 0 18 0-6 0 10 0-10 0 27 0-47 1 42 0-41 0 24 0-22 0 39 0-19 0-24 0-10 0 33 0 21 0-40 0-19 1 41 0-34 0 37 0 2 0-33 1 7 0 5 0-24 0 49 0-14 0-30 0 37 0-42 0 35 0-15 0-5 0 5 1-21 0 63 0 4 0-22 0-1 0-19 0 23 0-5 0-2 1-9 0 30 0-10 0-58 0 26 0-12 0 42 0-5 0 7 0-62 1 43 0 16 0 15 0-45 0 52 0-54 0-4 0 5 0 4 0 6 0 17 0-27 0 0 0 27 0-1 0 23 0 1 1-53 0-19 0 30 0 9 0-2 0 12 1 29 0-22 0-32 0 2 0-10 0 8 0 11 0-7 0-32 0 3 0 23 1 43 0 9 0-61 0-22 0 4 0 66 0-25 0 5 0-16 1-9 0 6 0-12 0 17 0-6 0 17 0 3 0-8 0 19 0 3 0 4 0-27 0 33 0 14 0-36 1 30 0-46 0 31 0-5 0-15 0 12 0-18 0 3 0 19 1 11 0-14 0-34 0 22 0-12 1-23 0 24 0-36 0 40 0-15 0-11 0 25 0-18 0 23 0 16 0-1 1-5 0-22 0 37 0-23 0-1 0-24 0 5 1 33 0-20 0 18 0-40 1 58 0-39 0 1 0 11 1 11 0-37 0-19 0 10 0 65 0-46 0 43 0-23 1-8 0 27 0-28 0-18 0 4 0 18 0-20 0-3 0-8 1-4 0 25 0 26 0-28 0-26 0 47 0 7 0-18 0 12 0-29 1 31 0-34 0 16 0-33 0 19 0 15 0-21 0 23 1 8 0-3 0-22 0-12 0 57 0-36 0 17 0 6 0 20 0-73 0 67 0-25 1-27 0 68 0-62 0 1 0 33 0-40 0 5 0 1 0 45 0-52 1 28 0-24 0-7 0 24 0 28 0-52 0 28 0-2 0 6 0 10 0-10 1 11 0-8 0-6 0-36 0 43 0 18 0-27 0 12 0-15 0-31 0 74 0-73 0 46 0-11 0 4 0 4 1 32 0-84 0 22 0 46 0-43 0 18 0 1 0-11 1-2 0-4 0 17 0 5 0 0 1-24 0 8 0 18 0-52 1 9 0 33 0 33 0-54 0 6 0-5 0 55 0-78 0 60 0-19 1 6 0-46 0 30 0 10 0 25 0-19 0-1 0-14 0 4 0 38 0-40 0-7 1 11 0-37 0 2 0 36 0-32 0 38 0 14 0-34 0 3 0-3 1 35 0-48 0 47 0-31 0 57 0-34 0-6 0-20 0 49 0-46 0-5 1 53 0-25 0 8 0-13 0-21 0 51 0 12 0-44 0-14 1-2 0 34 0-26 0 6 0-2 0 12 0 23 0-1 0-44 0 1 0 37 0-57 0-8 0 45 0 22 1-33 0-7 0 23 0-12 0-24 1 9 0 9 0 3 1 10 0-12 0 25 0-3 0 20 0-75 1 38 0 26 0 3 0-24 0-14 0 41 0-62 0 67 0-17 0-54 0 42 0-36 0 36 1 4 0 35 0-26 0 15 0-32 0-13 0 21 0-12 0 44 1-74 0 7 0 39 0-33 0 8 0-13 0-17 0 0 0 29 1 6 0 4 0 41 0-33 0-35 0 20 0 23 0-31 0 38 0-44 1 35 0-11 0-26 0-3 0 19 0 42 0-24 0 10 0-15 1-13 0-5 0 33 0 4 0-25 0-21 0 1 1 37 0-16 0 43 0-46 0-12 0 2 0 43 0 4 0-48 0 13 0 0 0 1 0 33 1-33 0-16 0 4 0 10 0-9 0 7 0-5 1 12 0 11 0 10 0-27 0 19 0-15 0-24 0 49 0-28 0-25 0 45 0-8 1-18 0 14 0-16 0 1 0 1 0-16 1 39 0-25 0 23 0 0 0 7 0-25 0 12 0-14 1 21 0-30 0 18 0-25 0 37 0 2 0-39 0 8 0 7 1 54 0-48 0 41 0-57 0 22 0 5 0 6 0-25 0-19 0 66 1-47 0-2 0 0 0 18 0 12 0-13 0-23 0 24 0-37 0 22 0 36 0-40 0 20 0 0 0-15 0 34 0-38 1 53 0-15 0-29 0 26 0-32 0-10 0 54 0 13 0-60 0-1 0 19 0-12 1 2 0-12 0 15 1-18 0 42 0 4 0-8 0-1 0-27 0 25 1-5 0-16 0 8 0-31 0 23 0 12 0 7 1-3 0 2 0 12 0-2 0 11 0-24 0-4 0 16 0-56 0 60 0 3 1-29 0 24 0-30 0-19 0 56 0-15 0 17 1-17 0-28 0-4 0 27 0-3 1 17 0-62 0 15 0 13 0 31 0-57 0-5 1 45 0-24 0 51 0-54 0-1 0-7 0 66 0-27 0-18 0 4 0 15 1-18 0-20 0 16 0 15 0 24 0 20 0-45 0-5 0 17 1-24 0 41 0-33 0 13 0-4 0 11 0-23 0 18 0 30 1-43 0-11 0 31 0-15 0 13 0 14 0-48 0 39 0-38 0 48 1-73 0 84 0-77 0 27 0 15 0-43 0 33 0-9 0-17 0 50 0-14 0-19 0 2 0 28 1 9 0-17 0-15 0-19 0 12 0-15 0 34 0-15 0-28 0 2 1 48 0-35 0-7 0 21 0 15 0-6 0 22 0-38 0 11 0-4 0 10 0 19 0-8 0-33 1 56 0-6 0-12 0-27 0 27 0-23 1 32 0-39 0-13 0 14 0 63 0-44 0-19 0-6 0 31 0-32 0 17 0 21 0 3 0-26 1 24 0-31 0 28 0-18 0 19 0-4 0-23 0 0 0 1 1 47 0-48 0 18 0-23 0 11 0 35 0 8 1-46 0-1 0-9 0 30 0-46 0 17 0 2 0 24 0-28 0 36 0-33 1 10 0 26 0-10 0-9 0 7 0 0 0-24 0 25 0 4 0-3 0-9 1 13 0-7 0-39 0-1 0 9 1-12 0 20 0 9 0 23 0 2 0-24 1-13 0-3 0 11 0 17 0-17 0 46 0-23 1-2 0-10 0 11 0-26 0 15 0-15 0 11 0 2 0-36 0 60 1-44 0-1 0 34 0 11 0-45 0 20 0 12 0-16 0 11 1-8 0-41 0 48 0 25 0-49 0-21 0 54 0-7 0 19 0-19 0-13 0 24 0-32 0 18 0-36 0 29 0 4 0 8 0 22 1-24 0-4 0 4 0 35 0-65 0 9 0 32 0-20 1 3 0 10 0-12 0 15 0-17 0 6 0 20 0-21 0-32 1 27 0 3 0 2 0 34 0-17 0-16 0-1 0 39 0-34 0 18 0-28 0 9 0 18 1 11 0-17 0 18 0-17 0-54 0 33 0 33 0-49 1 50 0-64 0 44 0-3 0-13 0-36 0 21 0 47 0-8 0-39 0 56 1-6 0-32 0-16 0 44 0 0 0-29 0-10 1 19 0 4 0-28 0 27 0-4 0-22 0 1 0 17 0 38 0-80 1 40 0-6 0-14 0 10 0 9 0-15 1 32 0-5 0 13 0-50 0 30 0 29 1-60 0-18 0 80 0-12 0-51 0 44 0-14 0 20 0-28 0-29 1 41 0 15 0-3 0 3 0-1 0-34 0-9 0 57 1-35 0 35 0-72 0 18 0 27 0 9 0 10 0-34 0 39 0-41 0 15 0 4 0-19 1-4 0 6 0 5 0-23 0 17 0 14 0-35 0 10 0 22 0 15 1 8 0-64 0 10 0 19 0 39 0-26 0-7 0-9 0 31 0-25 0 37 0-50 1 23 0-25 0 18 0-17 0 32 0-30 1 4 0 38 0 2 0-26 0-2 0-42 0 43 0-11 0 18 0-16 0-8 0-16 0 39 0-35 0 45 0-10 1-37 0 56 0-13 0 16 0-6 1 5 0-35 0-1 0 38"/><path class="q" d="M102 256l0 31 1 0 0-46 0 11 0 21 0 46 0-2 0-61 1 37 0-59 0 29 0 43 0-24 0-55 0 25 1 1 0-29 0 17 0 20 0-40 0 45 0-4 0-7 1-121 0 113 0 43 0 10 0 32 0-109 1 31 0-58 0 26 0 109 0-33 0-105 0 46 0-25 0 28 0 27 0-24 1 54 0-74 0-25 0 127 0-43 0 25 0-89 1-24 0 62 0-35 0 122 0-126 0 52 0-21 0-59 0 108 0-40 0 29 1-41 0 56 0-21 0-23 0-20 0 11 0-3 0-57 1 59 0-14 0 77 0-21 0-81 1 51 0 18 0-43 0 31 0-109 0 75 0 45 0-65 0 70 0-12 1 73 0-145 0 85 0 37 0-68 0-41 0-6 0 78 1-57 0 58 0 42 0-83 0 83 0-128 0 28 1 5 0 53 0 18 0-27 0 22 0-68 0 29 1-26 0 46 0-19 0-7 0-19 0-43 0 65 1 41 0 17 0-105 0 63 0-31 1 10 0-7 0 25 0-46 0 64 0-2 0 14 0-48 0 122 0-119 0-38 1 109 0-60 0-13 0 15 0-13 0 39 0-11 0 24 0-66 0 33 1-23 0-11 0-29 0 105 0-118 0 65 0 53 0 15 0-109 0 31 0 39 0-9 0-45 0 15 1 9 0-37 0 36 0-11 0 46 0-74 0-41 0 82 0 5 1 43 0-3 0-78 0 63 0 27 0-57 0-10 0 77 1-58 0 23 0-21 0 19 0-57 0 79 0-87 1-20 0 55 0-39 0 17 1-1 0 66 0 3 0-41 1-7 0-35 0 54 0-51 0 6 0 103 0-123 0 81 0-65 0 43 1-12 0 95 0-101 0 27 0-18 0 9 0 37 0-7 0-56 0 5 0 14 0 47 1-23 0 10 0-16 0-57 0 55 0-21 0 65 0-105 0 99 0-64 0-89 1-15 0 88 0 32 0-34 1 25 0-25 0 21 0-4 0 66 0-10 0-100 0 71 1 19 0 4 0-75 0-56 0 116 0-28 0-19 0 55 5 13 0-32 0-21 0-22 0-34 1 80 0-22 0 47 0-55 0-61 0 58 0 4 1 35 0-44 0 30 0 57 0-17 0-83 0 3 1 1 0 78 0-43 0 1 0 6 0 15 0-49 0-80 0 163 0-70 0-56 0 95 0-79 0-24 0 57 0 74 0-84 0 14 1 38 0-32 0 19 0-3 0-66 0 41 0 119 0-128 0 73 1-52 0-32 0-4 0 48 0-25 0 51 0-58 0 35 0 45 0-57 0-133 0 79 0-33 0 99 1 15 0 15 0 3 0-29 0-4 0-16 0-14 0 31 0 3 0-37 1-25 0 59 0 30 0-30 0 41 0-88 0-49 0 118 0-23 1-21 0 28 0-52 0 101 0-38 0-5 0 4 0-9 0-55 1 67 0-53 0-38 0-1 0 80 0-40 0-24 0 91 0-65 1 39 0-40 0 17 0-14 0-25 0 0 0 4 0 26 0 62 1 7 0-65 0-10 0-22 0 57 0 23 0-94 0 90 0-49 1 33 0-72 0 39 0-19 0 51 0 8 0-19 0-93 0 104 0-18 0-21 1-65 0 62 0-3 0-35 0 55 0 47 1-4 0-89 0 82 0 37 0-159 0 88 0-18 0 8 0 28 0 26 0-65 1 2 0-25 0 34 0 5 0-43 0 71 0-108 0 95 0 17 0-5 0-18 0 33 0 34 1-79 0-44 0 67 0 5 0-10 0-65 0 56 1 8 0-41 0 8 0-25 0 83 0-57 1-7 0 25 0 69 0-84 0 110 0-97 0 59 0-56 0-21 0 14 0-40 0-28 0 56 0-28 1 115 0-78 0-27 0 63 0-54 0-18 0 67 0-5 0 11 0-25 1-22 0-30 0-39 0 144 0-66 1 33 0-47 0 27 0-34 0-11 0 14 0-4 0 45 0-44 0 119 0-162 1 143 0-105 0 20 0-8 0 18 0 31 0-48 0 83 1-70 0 10 0 105 0-71 0-34 0-6 0-50 0 53 1 35 0-22 0-16 0-15 1 52 0-17 0-36 0-48 0 65 0 43 0-31 0 14 0-67 0 96 0-42 0-22 1 18 0-17 0-44 0 75 0-14 0-50 1 123 0-132 0 12 0 98 0-16 0-52 0 26 0-30 1-33 0 20 0 38 0 36 0-21 0-9 0-9 0 17 0-54 0 10 0 7 0 78 0-26 0-65 0 69 1 36 0-71 0-44 0 15 0 62 0 40 0-138 0 98 0-86 0 101 0-22 1 32 0-22 0 15 0-45 0-24 0 61 0 0 0-74 0 50 0-44 0 22 1-61 0 37 0 16 0 43 0-61 0 45 0-65 0 46 1-46 0 92 0-41 0-56 0 83 0-22 0-17 0-27 0 30 1-40 0 111 0-90 0 8 0-35 0 85 0-128 0 169 0-55 1-46 0 34 0 1 0 5 0 43 0-16 0-63 0 70 1-60 0 68 0-23 0-37 0 32 0 106 0-53 1-128 0-4 0 89 0 68 0-65 0 18 1-48 0-15 0-20 0 21 0-18 0 19 0-136 0 106 1-16 0 104 0-114 0 31 0 53 0-3 0-9 0 28 1 36 0-97 0 25 0-45 0 36 0-62 0 84 0-12 0 16 0-56 1 52 0 7 0-66 0 96 0-47 0-42 0 32 0-8 0 66 0-103 0 54 0-84 1 29 0 92 0-120 0 73 0 24 0 30 0-51 0 46 1 16 0-65 0-23 0-30 0 17 0 52 1 32 0-21 0-35 0 55 0-101 1 69 0 26 0-80 0 8 0 24 0 18 0-2 0 2 0-44 0 34 0-34 1 12 0-30 0 106 0-59 0 29 0-40 0 26 0-81 0 128 0-57 0-24 0 8 0-94 0 71 1 94 0-50 0 46 0-35 0 10 0 24 0-62 0 31 0-45 1 44 0-17 0-3 0 18 0-5 0-70 0 22 0 111 0-47 0-43 1 0 0 7 0-25 0 14 0 67 0 3 0-54 1 21 0-25 0 78 0-6 1 11 0-15 0 13 0-115 1-18 0 169 0-65 0-29 0-11 0 19 1-76 0 119 0-24 0-63 0-25 0 28 0-31 0 52 0 45 0-43 0 8 0-4 0-55 0 85 1 21 0-88 0-23 0-12 0 90 0-46 0 16 1 31 0-13 0 41 0 4 0 20 0-85 0-34 0 52 0-7 0 7 0-92 0 85 1 43 0-36 0-31 1 46 0 6 0 12 0-24 0-22 0 23 0-97 1 55 0 56 0-4 0-143 0 142 1-82 0 72 0 44 0-92 0-37 0 80 1-27 0-39 0 102 0-101 0 58 0-5 0-8 0 48 0 2 1-67 0-88 0 133 0 73 0-151 0 113 0-37 0 15 0 42 0-60 0-36 1 48 0-34 0-34 0 9 0 15 0 32 0 14 0-31 0-26 0-2 1 4 0-30 0 90 0-56 0 27 0-71 0 94 0-41 1-80 0 61 0-8 0-30 0 24 0 99 0-55 1-35 0 51 0-19 0 5 0 22 0 24 0-63 0 59 0-95 0-4 0 105 1-48 0 45 0-2 0-25 0-73 0 33 0 7 0 16 0-9 1 44 0-30 0-77 0 51 0 7 0 24 0-5 0 53 0-92 0-12 0 37 1 29 0-15 0 35 0-70 0 75 0-15 0 35 0 9 0-4 0-110 1 40 0 47 0-39 0 1 0-18 0 10 0 65 0-42 0-13 0 30 0-111 1 49 0 42 0-8 0-93 0 124 0-81 0 26 1 16 0-26 0-38 0 77 0 3 0 6 0-4 1 25 0-37 0-74 0 55 0-36 0 93 0-93 0-6 0 72 0-52 0 88 0-97 0 112 1-115 0 11 0 30 0 0 0-56 0 32 1-19 0 30 0-23 0 16 0 6 0-45 0 14 0 19 1 30 0 8 0-1 0-14 0 1 1 8 0-29 0 85 0-71 0-9 0-25 0 51 0-16 0 40 0-93 0 6 0 104 1-33 0-4 0-20 0 1 0 36 0-54 0-43 0 79 0-57 1 14 0-70 0 63 0 69 0-26 1 27 0-86 0 120 0-99 0 20 0 58 0-99 0 92 1 10 0-81 0 10 0 68 0-43 0-84 0 43 0 66 0 11 0-100 0 63 0 15 1-26 0 50 0-82 0 120 0-27 1-29 0 3 0-30 0 21 0 0 0-23 0-9 0 65 1-106 0 25 0 51 0-5 0 17 0 14 0-58 0-7 0-37 0 48 0 2 1 51 0-35 0-8 0 3 0 11 0-145 0 15 0 112 0 1 0 26 0-68 1 87 0-11 0-32 0-15 0 13 1-13 0-13 0 11 0-16 0 38 0-11 0 43 0-62 1 0 0 37 0-24 0 26 0 81 0-120 0 17 0-7 0 16 0-65 0 8 0 74 1-77 0 91 0-62 0-33 0 104 0-38 0-30 0 63 0-49 0 16 0-4 0 48 0-44 1-37 0 12 0 58 0-90 0 69 0 0 0 32 1-24 0-98 0 88 0 24 0-12 0-93 0 22 0-11 0 73 0-24 1-10 0-61 0 99 0-49 1 48 0-93 0 65 0 30 0 6 0 22 0-140 0 49 1 44 0 11 0 1 0-13 0 45 0-67 0 18 0-74 0 90 0-61 0 72 0-28 0 66 1-92 0 69 0-60 0 47 0-21 0 17 0 33 0-49 0-6 0 146 0-148 0-16 0-17 0-4 1-21 0 48 0-22 0 35 0-10 0 75 0 38 0-149 0 47 1-2 0 26 0-114 0 129 0-42 0 44 0-50 0-2 0 20 1 32 0-129 0 98 0-64 0-15 0 40 0 1 0-21 0 13 1 116 0-111 0 50 0-39 0 58 0-72 0 15 0-18 0 84 0-95 1 120 0-134 0 14 0 136 0-134 0 2 0 6 0 10 0 52 0-37 0-50 0 84 0-27 0-5 1-14 0-35 0 28 0 45 0-8 0-28 0 32 1-52 0 100 0-94 0-30 0 54 0-55 0 3 0-20 0 121 0-52 1 14 0-42 0 71 0-106 0 115 0 11 0-76 0 60 0-55 0 50 0-10 0-28 1 58 0-17 0-25 0-67 0 104 1-14 0-54 0 5 0 20 1-17 0 56 0 13 0-109 0 9 0 2 0 129 0-69 0 174 0-163 1 18 0-39 0-44 0 68 0-46 0 64 0-93 0-25 0 72 0 2 0-30 1 1 0-128 0 197 0-34 0-43 1-25 0 10 0 91 0 34 0-4 0-66 0-78 0 122 0-24 0-20 0-6 0-15 1-23 0 5 0-8 0-26 0 90 0 64 0-61 0-44 0 7 0 6 0 29 0 40 0-47 0-70 0 74 1-30 0 66 0-43 0-22 1 7 0-4 0 22 0-11 0-41 0 37 0-69 0 103 0 4 1-2 0-121 0 115 0-53 0-49 0 121 0-88 0-53 0 131 0-105 1 108 0-99 0 62 0-16 0 23 0-91 0 71 0 16 0-36 0 28 1 33 0-77 0 52 0 17 0-5 0 11 0-54 0 16 1 70 0-58 0 65 0-112 0 61 0 11 0-49 0-6 0-25 0 25 0-18 0 56 0-16 1 2 0-102 0 104 0 56 0-108 0 77 0-4 0-18 0-40 0 55 1-49 0 31 0-27 0-48 0 71 0-23 0 24 0 36 0-1 0-35 0-4 0-10 0 8 1-18 0 24 0 4 0-5 0 6 1-10 0-7 1 63 0-56 0-38 0 1 0-10 0 55 0-47 0 8 0 51 0 18 1-9 0-11 0-58 0 82 0-59 0-10 1 56 0 19 0-85 0 40 0-44 0 42 0 63 0-62 0 7 0-2 1-12 0 12 0-34 0-10 0 85 0 5 0-93 0-37 1 121 0-70 0-43 0 112 1-92 0-23 0 85 0 21 0-26 0 37 0-60 0 73 0-121 0 72 1-23 0-5 0 53 0-85 0 18 0 20 0 12 0-9 0-14 1 86 0-53 0 16 0 15 0-67 0 54 0-72 0 44 0 50 0-70 0 73 1-103 0-9 0 111 0-17 0-58 0 81 0-73 0-38 0 110 0-62 1 6 0-65 0 64 0-49 0 55 1-44 0 31 0 61 0-92 0 29 0 57 0-54 0 23 1-72 0 35 0 26 0 17 0-40 0 31 0-32 0 30 1 0 0 1 0-3 0-15 0 44 0-58 0-20 0 29 0-31 0 4 1 19 0-18 0 46 0-18 0-8 0 56 0-66 0 34 1-10 0 45 0-34 0-38 0 51 0-47 0-18 1 61 0-29 1 6 0 106 0-86 0 7 0 13 0-85 0 83 0-92 0 92 0-10 1-25 0-15 0 26 0 48 0-62 0 37 0-29 1 49 0-51 0-36 0 47 0 27 0-24 0 27 0-41 0-26 0 5 0-30 0 55 0-5 0 20 1-90 0 88 0 3 0 29 0 14 0-35 0-99 0 115 0-92 0 103 1-31 0-10 0-43 0-10 1 69 0-56 0 40 0 36 0-192 0 59 1 0 0 110 0-73 0 31 0-40 0 103 1-21 0 2 0-96 0 5 0 6 0 74 0 38 0-29 0-32 1 11 0-54 0 86 0-58 0 70 0-21 0-53 1 56 0-8 0-71 0-33 1 32 0 32 0 8 0-50 0 49 0 48 0-61 0 91 0-11 0-162 1 82 0 5 0 75 0-92 0-4 0 53 0-64 0 52 1 18 0-27 0 44 0-65 0 29 0-90 1 132 0 21 0-26 0 2 0-102 0 88 0-33 0-14 0 45 0-62 0 43 0-72 0 72 0-12 1 22 0-54 0 38 0 57 0-81 0 34 0 29 0-73 1 39 0-46 0 23 0 47 0-64 0 2 0 82 0-116 1 120 0-13 0-33 0-33 0 3 0 37 0 54 0-63 0-8 0 2 0-82 0 83 0 80 0-81 1-92 1 60 0 4 0-58 0 113 0 33 0-136 0 50 1 29 0-23 0 40 0 3 0-10 0 41 0-35 0 15 0 23 0-76 0 34 1-6 0-9 0 5 0 5 0-22 0 2 0 62 0-56 1 62 0-94 0 86 0-72 0-26 1 22 0 28 0-7 0 18 0-59 0 52 0 26 0-20 1 10 0 34 0 20 0-48 0 30 1-107 0-27 0 177 0-77 0-45 0 33 0-35 0 1 0 84 1-101 0-2 0-32 0-75 0 178 0-42 0-40 0 43 0 25 0-14 0 47 1-109 0 81 0 16 0-35 0 30 0 54 0-90 1-12 0-38 0 4 0 90 0-66 0 75 0-97 0 82 0 1 0 0 0-13 1-3 0-28 0 70 0-114 0 92 0-95 0 114 0-38 0 33 1-59 0-9 0 70 0-26 0-12 0-24 0 49 0-44 0-6 0 22 0 33 0-95 1 51 0-50 0 51 0-82 0 122 0-44 0-38 0 28 1-16 0 25 0 14 0-35 0 37 0-20 1 72 0-113 0 86 0 8 0-69 0 1 0 62 0-90 0 57 0 17 0 33 0-80 1-18 0 72 0-45 0 18 0 3 0-53 0 122 0-148 0 58 1 60 0-43 0 100 0-135 0 78 0-102 0-2 0 85 0-4 0-3 0-25 0 6 0-77 1 145 0-19 0-68 0 63 0-17 0-87 0 47 0-4 1-33 0 95 0-24 0 40 0-22 1-36 0 94 0-104 0 58 0-1 0-64 0 11 0 40 1-70 0 49 0-16 0-63 0 131 0-109 0 19 1-18 0 94 0-116 0 52 0-30 0 54 0 71 0-79 0-44 0 71 1-20 0-27 0 18 0-61 0 92 0-33 0-4 1 28 0-22 0 33 0-60 0 48 0-15 0 30 0-16 0 7 0-65 0-13 1 32 0 52 0-77 0-11 0 168 0-71 0-59 0 14 0 5 1-1 0 14 0-7 0 20 0-63 0 45 0-65 0 116 0-97 1 56 0-15 0 79 0-135 0 24 0 76 1-79 0 38 0-13 0 12 0 26 0-33 0-2 0-34 0 30 1 5 0 33 0 60 0-239 0 110 0 15 0 8 0-19 0 22 0 55 0-38 0 17 1-20 0-35 0-26 0 82 0-18 0-45 1 40 0 43 0-44 0-45 0 94 0-25 0-57 0-10 0 26 1 32 0-76 0 69 0 63 0-104 0 15 0-48 0 19 0-10 0 22 0 50 0-16 0-8 1 8 0 13 0 34 0-80 1 40 0-35 0 70 0-90 0 89 0-63 0-10 0 106 0-25 0-67 0 12 0 3 1 70 0-40 0-50 0 36 0-50 0 128 0-18 0-86 0-54 0 41 0 22 0 40 0-179 1 168 0-129 0 149 0-73 0-15 0 39 0 32 1-87 0 75 0 48 0-24 0-28 0-18 0 24 0-59 0-6 0 50 0 16 0-76 1 97 0 11 0-72 0 80 0-45 0-28 1 14 0-46 0 43 0-8 0-47 0 84 0-1 0-3 0-43 0-44 0-22 0 53 1 61 0-48 0 47 0-48 0 31 0-73 0 40 1 87 0-66 0-14 1-20 0-11 0 105 0-113 0 50 0-20 0 66 0-26 1 30 0-96 0 30 0 22 0 56 0-66 0 16 0-70 0 56 1 5 0 28 0-29 0-7 1 17 0-20 0 77 0-73 0 27 0 1 0-54 0-7 0 110 0-141 1-1 0 44 0-24 0 77 0 35 0-30 0-81 0 109 0-110 0 109 0-51 1 11 0 41 0-64 1-12 0 33 0 47 0-85 0 2 1-18 0-33 0 125 0-103 0 57 0-52 0 95 0-84 0 78 1-11 0-4 0-12 0 24 0-43 0 65 0-38 1-3 0-46 0 23 0 47 0-26 0 53 0-101 1 63 0 11 0 6 0-85 0 17 0 36 0-35 0 31 1 16 0-80 0 42 0 59 0-78 0 18 0-25 0 58 0-37 1-63 0 83 0-6 0-16 0 15 0-14 0 77 0-97 0 81 0-52 0-81 0 43 0 56 1-60 0 93 0-118 0 91 0-49 0-22 0 101 0 39 0-133 0 128 0-134 0 57 1-55 0 77 0-56 0 48 0-55 0 15 0 63 0-17 1-79 0 11 0 28 0 32 0 43 0-57 1 0 0 56 0-76 0-14 0 30 0 23 0-31 0 55 0-70 0 31 0 46 1-88 0-17 0-10 0 20 0 13 0 26 0 4 0-54 1 121 0-98 0 69 0-27 0 19 0-28 0-60 1 38 0 51 0-44 0 34 0-12 0 8 0-4 0-23 0-7 0 4 0-17 0 102 0-77 1 70 0-105 0 87 0 73 0-104 0-5 0 36 0-32 1-87 0 89 0-47 0-9 0 58 0-78 1 12 0 50 0 16 0 15 0 21 0 5 0-121 0 87 0-27 1-2 0-28 0-22 0 74 0-24 0-16 0-4 0 49 1 20 0 116 0-182 0 17 0 51 0-129 0 60 0 86 0-103 0-10 1 17 0 3 0-28 0 59 0-14 0 17 0 20 0-91 0 84 1-5 0 2 0-50 0 55 0-3 1-101 0 101 0 7 0 28 0 12 0-45 0-11 0-15 1-18 0-26 0 58 0-18 0 63 0-64 0 7 0-48 0 72 0-78 0 85 1 27 0-87 0 41 0-19 0 64 0-74 1 36 0-40 0 53 0-33 0-5 1 16 0-146 0 136 0 14 0 48 0-111 0 131 0-56 0-16 0-48 0 53 0-64 0 84 0-29 1 74 0-78 0-61 0 70 0 17 0-46 0 63 0 3 0-98 1 105 0-67 1 19 0 38 0-75 0 75 0 46 0-95 0-51 0 73 0-13 0 56 0-37 0 5 0 18 0-49 1-41 0 16 0 30 0 7 0 15 0-73 0 94 0-52 0 33 0-32 1 18 0-22 0-16 0 25 0 94 0-69 0-11 0-64 0 89 1-65 0-17 0 38 0-60 0 114 0-86 0 6 0 4 1 26 0 24 0-56 0 60 0 23 0-55 0-29 0 74 0-91 0 65 0-19 1 26 0 9 0-109 0 43 0 61 0-26 1 55 0-55 0-10 0 55 0 10 1-46 0-12 0-16 0 56 0 21 0-30 0-46 0 101 1-83 0 4 0 33 0-15 0 3 0-115 0 72 0 2 1 0 0 34 0 33 0-102 0 134 1-25 0-4 0-94 0 50 0-1 0-41 1 112 0-58 0 16 0-46 0 32 0 11 0-49 0 64 1-1 0-69 0-24 0 67 0-4 1 11 0-92 0 89 0-84 0 30 0 9 0-14 1 73 0-88 0 83 0-23 0 24 0-93 0 29 0 29 1 3 0 15 0 28 1-45 0 26 0-26 0-27 0-24 0 96 1-92 0 91 0-119 0 52 0 66 0-23 1-72 0 47 0-81 0 70 0-38 0 37 0 100 0-62 1 25 0-55 0 1 0-18 0 36 0 14 1-75 0 63 0 57 0-67 0 3 0-7 1-58 0 96 0-25 0 43 0-47 0 38 0-102 0 64 0 18 0 4 0-67 1 88 0-102 0 52 0-26 0-27 0 65 0-143 0 79 1 20 0 42 0 99 0-168 0 5 0 82 0-64 0 23 1-39 0 62 0-10 0 16 0 37 0-116 0 40 0 36 1-12 0-72 0 134 0-33 0-41 0 37 1-90 0-8 0 70 0-44 0 56 0 16 1 49 0-144 0 77 0 40 0-85 0 51 0 26 1-90 0 80 0 26 0-54 0-22 0-130 1 182 0-26 0 8 0-49 0 1 0 25 0-37 0 66 0-45 0 19 0 41 1-136 0 146 0-75 0 5 0 44 0-26 0 77 0-97 1-27 0 33 0 23 0-1 1-7 0 24 0 11 0-95 0 43 0 88 0-53 0-24 0 25 0 65 1-31 0-85 0 99 0-36 1-82 0-106 0 160 0 17 0-3 0 54 1-121 0 19 0-13 0 29 0-16 0 0 0 15 0 70 0 9 1-139 0 104 0-75 0 108 0-52 0 7 0 57 0-56 1 44 0-54 1 35 0-16 0-44 0 18 0 46 0 31 0-46 0 3 0 6 0-39 0-31 1 79 0-17 0-11 0-30 0 30 0-73 1-49 0 162 0-8 0-72 0-47 0 107 1-22 0 29 0-51 0-66 0 7 0 109 0-62 0 6 1 96 0-33 0-70 0 119 0-136 0 75 0-21 0 7 0-52 1-12 0 65 0 18 0-49 0 1 0-26 0 37 0-43 0 46 1-13 0 5 0 18 0-48 0-78 0 158 0-82 0-43 0 57 1 28 0 50 0-25 0 1 0-31 0 56 0-53 1 37 0-62 0 29 0 55 0-67 0 42 0-55 0-1 1-59 0 24 0 69 0-5 0 38 1-44 0-11 0-40 0 74 0-96 0 122 0-47 0-3 1 78 0-35 1-16 0-100 0 20 0-2 0 99 0-96 0-15 2 127 1-78 1-55 0 1 0 88 1 67 0-68 0-44 0-6 0 8 0 30 0 15 0-24 0 29 1-97 0-7 0 65 0-41 0-2 1 64 0 32 0-62 0 2 1 20 0-11 0 56 0 12 0-100 0 42 0-19 0 26 0-16 0 53 1-52 0-53 0 54 0-60 0 14 0 110 0-66 0 46 0-35 0-22 0-52 1 59 0 38 0-18 0 18 0-43 0 33 0 37 0-55 0 22 0 9 0 17 0-63 0 2 1-38 0 79 0-13 0 35 0-50 0 27 1 31 0-30 0 14 0-90 0 67 0-51 0 69 0-50 0 0 0 6 1 1 0-18 0-34 0 109 0 35 0-123 0 78 0-31 1-68 0 48 0 6 0 36 0-3 0 10 0 5 0 8 0-45 0 14 1-54 0 75 0-56 0 16 0 48 0-91 0 52 0-34 0 86 1-47 0-31 0 19 0-45 0 2 0 97 0-7 0-46 0-52 0 92 0-42 1-16 0 51 0-1 0-9 0 34 0-125 1 35 0 45 0-98 0 94 0-15 0 13 0 7 1-70 0 104 0-21 0-21 0-26 1 8 0-46 0 75 0 44 0-29 0-75 0 63 0 18 0 5 0-123 1 22 0 60 0 47 0-43 0 17 0-43 0 7 1 34 0-21 0-8 0 23 0-87 0 77 0 14 0-92 0 114 0-76 1-7 0 86 0-4 0-28 0 10 0-77 0 101 0-49 0-106 1 41 0 49 0-46 0 58 0 37 0 67 0-176 0 61 0-37 1 37 0-9 0-19 0 53 0 10 0-41 0 1 0 13 1-49 0 83 0-4 0-92 1 19 0 40 0 8 0-50 0 82 0-84 0 93 1-58 0 27 0-48 0 31 1-7 0 32 0 5 0-4 0-47 0 33 1 17 0 30 0-71 0-123 0 173 0-19 0-33 0 31 0-14 0 58 1-98 0 38 0-8 0 1 0-64 0 52 0 72 0-17 0-10 0-10 1-32 0 36 0 4 0-69 0 86 0-53 0 8 0 79 1-51 0-5 0-92 0 126 0-45 0-19 0 58 0-38 0 1 0-3 0-46 0 32 1 58 0-45 0 11 0-9 0 46 0-42 1-34 0 67 0 9 0-2 0-48 0 19 0 62 0-107 0 202 1-167 0-23 0-18 0 65 0-71 0 28 0 45 1-52 0 48 0-90 0 46 0-41 0 91 0-1 0-56 0-38 0-1 0-12 0 67 0-22 0 49 1-71 0 1 0-2 0 96 0-58 0 0 0-49 0 16 1 68 0-12 0 25 0-29 0 26 0-21 0-25 0-3 0 68 0-25 0-39 1 59 0 22 0-98 0-3 0-2 0 23 0 43 0-16 0-4 0 8 1-38 0 14 0-14 0-14 1 53 0-74 0 37 0 87 0-34 0-34 0-9 0 55 0-93 1 16 0 3 0 37 0 37 0-47 0-32 0 41 1-33 0-25 0 7 0 36 0 10 0 25 0-21 0 31 0-74 0 6 0-17 1-4 0 68 0-5 0 11 0 10 0-55 0 46 1 85 0-118 0 10 0-7 0 21 0-29 1-85 0 73 0 112 0-77 0 17 0-81 1 75 0 43 0-42 0 34 0-54 0 3 1-33 0 22 0-8 0 22 1 47 0-25 0-54 0-31 0 98 0-25 0-18 0-1 1 62 0-33 0-7 0-18 0-44 0 109 0-24 1 11 0-70 0 79 0-7 0 7 0-14 0-56 0-37 1 35 0-28 0 58 0-23 0 15 0-8 0 9 0-31 0 71 0-122 0 54 0 4 0 61 0-4 0-140 0 60 1-22 0 49 0 21 0-10 0 6 0 32 0-67 0 20 0 27 0-45 0-6 1 16 0 61 0-77 0-24 0 92 0-61 0 173 0-138 0 61 0-35 0-3 0 36 1-13 0-118 0 81 0 11 0 2 0-91 0 58 0-20 1-26 0 95 0-104 0 58 0-32 1 43 0-4 0 17 0 6 0-92 0 84 0-18 0-65 0 53 0 17 0 31 0-8 0-61 0-21 1 79 0-91 0 26 0 49 0 31 0-23 1 20 0-32 0-65 0 50 0 20 0 0 0-77 0 72 0-71 0 103 0-54 0 26 0-36 0-32 1 52 0 63 0-111 0 21 0 75 1 30 0-103 0 19 0 42 0-100 0-86 0 98 0-1 1 8 0-6 0 5 0 88 0-106 0 76 0 40 0-46 0-24 1-29 0-16 0 128 0-50 0 60 0-64 0-101 0 125 0-95 0 58 1-51 0 78 0-117 0 84 0 38 0 40 0-68 0 47 0-78 0-4 0 55 0-9 1-10 0 25 0-30 0 2 0-44 0 48 1 42 0-97 0 62 0-89 0 52 0 43 1-47 0 99 0-67 0-47 0 164 0-77 0-53 0 17 0 53 0-110 0 49 0 7 0-12 1 18 0-4 0 41 0 8 0-111 0 18 0 92 0-59 0-25 0-15 0 81 0-78 0 48 0 9 1-48 0-9 0-48 0 7 0 111 0-15 0 52 0-184 0 63 0 14 0 43 1-82 0 114 0-30 0 17 0-70 0-30 0 120 1-61 0 27 0-14 0-5 0-25 0-2 0 81 0-34 0-63 0-9 1 33 0 74 0-21 0-106 0 32 0 92 0-40 1-16 0 25 0-9 0-3 0-7 0 9 0-53 0 18 0 104 1-22 0-89 0 61 0-54 0 99 0-104 0 42 0-56 0 69 0-61 0 116 1-95 0 22 0-62 0 63 0 13 0-36 0 66 0-95 0 59 0-65 1 43 0 18 0-33 0 40 0 31 1-57 0-41 0 151 0-129 0-41 0 80 0 30 0-16 0-92 0 107 0-4 0-35 0 22 0-20 0-14 0 112 1-68 0-36 0 40 0-59 0 106 0-77 0-52 0 42 0-29 0 3 0-36 0 44 0 53 1 26 0-107 0 30 0 47 0-2 0 22 0-13 0 12 1-57 0 6 0-13 0-32 0 40 0-36 1 154 0-97 0 44 0-100 0 36 0-32 0 36 0 15 0 4 0 25 0-38 1-35 0 71 0-24 0-8 0 16 0 26 1 0 0-37 0 9 0-9 0 8 0-38 0 1 0 15 0-9 0-41 1 75 0-29 0 69 0-85 0 34 0-29 0 42 0-13 1-29 0 48 0-38 0 53 0-25 0-24 0-27 0 102 0-93 0 21 0 12 1-32 0 51 0-75 0 8 0 47 0 76 0-50 0-77 0 9 0 20 0-28 1 30 0-32 0 109 0-51 0-59 0 87 0-27 0-55 1 41 0-27 0 23 0-10 0 6 0-13 0 5 0 46 1-82 0 98 0-112 0-21 1 107 0-77 0 18 0 88 0-48 0 90 1-65 0-16 0 50 0-79 0-10 0 39 0-19 0-39 0 10 0 76 0-25 0-17 1-22 0 21 0 52 0-89 0 47 0-144 0 136 1 14 0 49 0-40 0-67 0 12 0-25 0 62 0-16 0-36 0 98 0-42 0-10 1-33 0-3 0-6 0 161 0-75 0-32 0 46 0-57 0 0 1-21 0 117 0-129 0 103 0-95 0 25 0-41 0 46 0-37 0 85 0-72 1-23 0 46 0-42 0 38 0 34 0-34 0-21 1 59 0 2 0-91 0 53 0-31 0 32 0 54 0-59 0-9 0-7 0-16 1 81 0-29 0-62 0 20 0 35 0-20 0 25 0 31 0-38 1-61 0 74 0 25 0 28 0-118 0 44 0 5 0 36 0-23 0-70 0 75 0 27 0-66 1 8 0 49 0-104 0 84 0-98 0 17 0 39 0 84 0-77 1 91 0-56 0 22 0-25 1-51 0-8 0 9 0-73 0 133 0-5 0-25 0 26 1-17 0 19 0-10 0 0 0-82 0 137 0-23 0-79 1 4 0 1 0 35 0 59 0-78 0-34 0 81 0-69 0 7 0 59 0-116 0 83 0 15 1-67 0 25 0 77 0-95 0 70 1-57 0 80 0-4 0-62 0 42 0-81 0 99 0-139 0 135 0-25 0 28 1-56 0-1 0 16 0-5 0-26 0 21 0 29 0-50 0 21 0 7 1 43 0-107 0 28 0 18 0-36 0 66 0-58 0 123 0-31 0-26 0 1 0 10 1-86 0 90 0-64 0 19 0-19 0 30 0-17 0-3 1-47 0 65 0 37 0-16 0 65 0-107 0 0 1 180 0-143 0-22 0 9 0-26 0 5 0-24 0 99 0-64 1-33 0 78 0-5 0-59 0 32 0 50 0-111 0 34 1-21 0 76 0-28 0 32 0 2 0-47 0 54 0 1 0-68 0 25 0-3 0 16 1 41 0-78 0 58 0-9 0 65 0-87 0-7 0-10 0 19 0-10 0-45 0 47 1-69 0 112 0-113 0 96 0-60 0-21 0 124 1-99 0-3 0-97 0 136 0 44 0-113 0 106 0-45 0-48 0 86 0-85 1 52 0 48 0-10 0 17 0-127 0 63 0 57 0-45 0 1 0-22 0-20 0 6 0 23 1-12 0-1 0 74 0-83 0 24 0 82 0-110 1 43 0 17 0 2 0-6 0-37 0 48 0 30 1-37 0-4 1-11 0 23 0-61 0 23 0 36 0-9 0-38 0 68 0-110 1 40 0-27 0 18 0-54 0 82 0-16 0 33 0 28 0-68 0-12 0 0 0 63 0-31 1 1 0 53 0-116 0 111 0-75 0-26 0 25 0 9 1 31 0 47 0-26 0-60 0 32 0-10 1-57 0 33 0 54 0 32 0-86 0 26 0 21 0-5 0 14 0-90 1 58 0-4 0-58 0 97 0-9 0-86 0 85 0-50 0 48 0 0 1 2 0-26 0 17 0-21 0-20 0 40 0 4 0-17 0 4 0-39 0 93 1 10 0-80 0 15 0 26 0-21 1-11 0-40 0 53 0-47 0 68 0-84 1 13 0 56 0 2 0 15 0-54 0 6 0 43 0 111 0-137 1 11 0 70 0-127 1-14 0 48 0 49 0-66 0 58 0-98 0 118 0-13 0-56 0 8 1 106 0-112 0 30 0 4 0-19 0 46 1 45 0-11 0-25 0-56 0 26 0-15 0-35 0-33 0 99 0-61 0 32 0-42 1-28 0 136 0-66 0-35 0-41 0 109 0-44 0-5 0-98 0 63 0-25 0 78 1-18 0 39 0-10 0-20 0-53 1 73 0-54 0 103 0 0 0-73 0 18 0 36 1-45 0 22 0-33 0-1 0 65 0-62 0 23 1-78 0 38 0-16 0 91 0-140 0 55 0 58 0-37 0 58 0-74 0 8 0-13 1 17 0-10 0 23 0 7 0-27 0-49 0 91 0-2 0-4 0 1 1-55 0 23 0 49 0-20 0 27 0 2 0-12 0 4 0-60 0-43 0 93 1-31 0 63 0-84 0 54 0-62 0 41 0-35 0-9 0 49 0-50 0-14 1 25 0 87 0-62 0-12 0 41 0-87 0 60 0 43 1 15 0-82 0 62 0 13 1-43 0-13 0 53 0-1 0-40 0-31 0 14 0-10 0-9 0 44 0-139 1 109 0-23 0 68 0-30 0 20 0-44 0 64 0-59 0 47 0 21 0-27 0 4 1-9 0 33 0-49 0 23 0-52 0 39 0-6 0 18 0-13 0 133 0-110 0-43 0-29 1-28 1-38 0 119 0-19 0-95 0 106 0 51 0-123 0 52 0 6 0-50 1 40 0-8 0-10 0 95 0-99 1 95 0 42 0-45 0-60 0-2 0 24 0 25 0-90 0 48 1 62 0-41 0-17 0-17 0 26 0-41 0 39 1-33 0-34 0 81 0 29 0-82 0 10 0 10 0 61 0-43 1-67 0 107 0-1 0-25 0 4 0 25 0-30 0-63 1 101 0-38 0-26 0-45 0-29 0 161 0-92 0 25 1-54 0 78 0-62 0 42 0 22 0 10 0-90 0 40 0-2 0 76 1-44 0 99 0-166 0-4 0 91 0-61 1 88 0-15 0-53 0-70 0 92 0-57 0-34 0 49 1 60 0 21 0-85 0 14 0 19 0-33 0 66 0-108 0 57 0 35 1-37 0 22 0 12 0-32 0 8 0-12 0 24 1-68 0 44 0-4 0 26 0-44 1 46 0 39 0-37 0-10 0-71 0 102 0-63 0 69 1-103 0 21 0-31 0 21 0 71 0 0 0-23 1-28 0-31 0 70 0 39 0-91 0 2 0 64 0-71 1 139 0-76 0 23 0-53 0 37 0-73 0 56 0-36 1-21 0 82 0-47 0 13 0 40 0-28 1 44 0-8 0-29 0-31 0 47 0 16 0-106 0 118 0-139 0 63 0 12 0 48 0-52 1-24 0 42 0 16 0 54 0-115 0 67 1-45 0 7 0-28 0 58 0-49 0 11 0 46 1-45 0 34 0-65 0-9 0 79 0 29 0-40 0-18 0-34 0 5 0 15 0 22 1-3 0 8 0-34 0 12 0 33 0-41 0 44 0-44 0 20 0 54 1-93 0 57 0-86 1 55 0 50 0-54 0-11 0 41 0 40 0-40 0-18 0 43 0-46 0-30 0-25 0 46 0-29 0 55 0 38 0-53 1 0 0 4 0 124 0-172 0 118 0-106 0-10 0 105 0-65 0 7 0-53 1 59 0-47 0 53 0-10 0-20 0-17 0-22 0 51 0 12 0 22 1-35 0 21 0 14 0-6 0 29 0-13 1-12 0 5 0 9 0-26 0-113 0 99 0 104 0-43 0-147 0 164 0-36 0-42 1-5 0-11 0-54 0 107 0 6 0 40 0-54 1-69 0 43 0 6 0 4 0-7 0-30 1 12 0-103 0 95 0-2 0 41 0-16 0 33 0-14 0 15 0-29 0 0 0-70 0 105 0-41 0 2 1 42 0-3 0-85 0 31 0-12 0 12 0 25 0-62 1 57 0-57 0 108 0-61 0 12 0-41 0 50 0-115 1 110 0-53 0 23 0-61 0 32 0 13 0 27 0-23 0-28 1 3 0 97 0-52 0 6 1-57 0-25 0 91 0-53 0-17 0 37 0 33 0-57 0-14 0 64 0 3 1 9 0-12 0-35 0 60 0-69 0 24 1 56 0-53 0 1 0 31 0-52 0 75 0 38 0-54 0-13 1-1 0-20 0-5 0-2 0 0 0-21 0 92 0-108 0 16 0-5 1 29 0 83 0-96 0 24 0-29 1-36 0 38 0 36 0 93 0-2 0-91 0 65 0-33 0-84 0 42 0-9 1 18 0 62 0-181 0 158 0-44 0-85 0 71 1 13 0 25 0-31 0 50 0-23 0-25 0-17 0 18 0-5 0-2 0 26 0 22 0-20 0-32 0 55 1-53 0 4 0 0 0 137 0-91 0-22 0-2 0 3 0 15 1-34 0 34 0-17 1 35 0-129 0 82 0 27 0-14 0-44 0 41 0 20 0-60 1-13 0 66 0 21 0-5 0-34 0-22 0 9 0-48 0 43 1-37 0 0 0 29 0-12 0-1 0 24 1 15 0-12 0 20 0 5 0-78 0 109 0-32 0 9 0-27 1 0 0-32 0 43 0 99 0-167 0 159 0-196 0 169 0-74 1-73 0 12 0 102 0-98 0 20 0 65 0-60 0 1 0 60 0-67 0-19 0 46 0 53 0-68 1-22 0 41 0 65 0-114 0 20 0 26 0 3 1-52 0 105 0-41 0 92 0-93 0-10 0 57 1-95 0 106 0-11 0-107 0 79 0-55 0 18 0-58 0 55 0 37 0-67 0 72 1 29 0-38 0-92 0 132 0-88 0 22 0-35 0 43 1 52 0-71 0 6 0 11 0-42 0-5 0 109 1-68 0-6 0-28 0 55 0-12 0 55 0-110 0 87 0-47 0 59 0-84 1 16 0 67 0-71 0 34 0 42 0-73 1-23 0-13 0 3 0 15 0 63 0 23 0-119 1 61 0 30 0 10 0-42 0-34 0 94 1-45 0 24 0 36 0 1 0 3 0 0 0-46 1-41 0 18 0 0 0 32 1-81 0 119 0-65 0 6 0-7 0 22 0-97 0 82 0-88 0 127 0-93 0-27 0 85 0-28 1-85 0 103 0 54 0-18 0 52 0-122 0 32 0-5 1-67 0 73 0 11 0 12 0 31 0-39 0 51 0-11 1-85 0 113 0-100 0 69 0-55 1-3 0 39 0-30 0 19 0-8 0-43 0-21 0-3 0 65 1 6 0 15 0 4 0-96 0 77 0-65 0 143 0-154 0 50 0 87 1-48 0-42 0-17 0 28 0-7 0 2 0 21 0 57 0-46 0-23 0 46 1 21 0-41 0-71 0 59 0-14 0 2 0-9 0-27 0 99 0-82 0-9 0 18 1-24 0 26 0 38 0-20 0 8 0-1 0-47 0 62 0-32 1-44 0-18 0 97 0-64 0 64 0-85 0-6 0 37 1-33 0 63 0-3 0-36 0 41 0-50 0 31 0-16 0-29 0 20 0-54 1 18 0 77 0 2 0 23 0-75 0 68 0-85 0 107 1-37 0-13 0 0 0-32 0-20 0 99 0-85 0-6 0-14 1 41 0-22 0 88 0-82 0-13 0-13 1 59 0 7 0 46 0 6 0-103 0 90 0-50 1 21 0-62 0 43 0-33 0 89 0-94 0 66 0-27 0-51 0 47 1 4 0-20 0 8 0-62 0 67 0 50 0-92 0 36 1 28 0-34 0-14 0 47 0-3 0-76 0-12 0 67 0-8 1 43 0-42 0 0 1 52 0-23 0 45 0-57 0 7 0 11 0-5 0 32 0-57 1 16 0 53 0-66 0-39 0-92 0 88 0-3 0 57 1-17 0 30 0-77 0 19 0 32 1-2 0 40 0 27 0-10 0-22 0-23 0-13 1-6 0 83 0-63 0-6 0-29 0 11 1-29 0 36 0 55 0-90 0 41 0-12 1 80 0-58 0-33 0 94 0-97 0-38 0 12 1 73 0 49 0-90 0-1 1 55 0-55 0 82 0-1 0-79 0 42 0 16"/></g>
<g filter="url(#bl)">
<path class="v" d="M70.3 27.3V232.3M97.6 27.3V232.3M118.9 27.3V232.3M137.7 27.3V232.3M159.2 27.3V232.3M177.5 27.3V232.3M195.5 27.3V232.3M201.2 27.3V232.3M217.5 27.3V232.3M232.7 27.3V232.3M241.3 27.3V232.3M249.8 27.3V232.3M256.4 27.3V232.3M269.9 27.3V232.3M281.1 27.3V232.3M282.6 27.3V232.3M291.1 27.3V232.3M297.8 27.3V232.3M303.9 27.3V232.3M312.2 27.3V232.3M316.6 27.3V232.3"/>
<path class="v" d="M50.8 129.8H327.3"/>
<path class="o" style="stroke-width:2.8" d="M52.4 129.8H65.4M67 131.8H69.7M71.3 129.8H97M98.6 129.8H118.3M119.9 129.8H137M138.6 129.8H158.6M160.2 129.8H176.9M178.5 129H194.8M196.4 129.8H200.6M202.2 127.7H204.7M206.3 131.2H208.8M210.4 129.5H216.9M218.5 129.5H232M233.6 130.5H240.7M242.3 129.1H249.2M250.8 129.8H255.7M257.3 129.8H269.2M270.8 129.8H280.4M282 129.8H281.9M283.5 129.1H290.4M292 130.1H297.1M298.7 129.1H303.2M304.8 130.5H311.5M313.1 133.6H315.9M317.5 130.5H325.7"/>
<path class="o" style="stroke-width:2.5" d="M184.3 151.7h.3M207.7 150.3h.3M206.8 164.6h.3M222.5 149.6h.3M252.3 156.5h.3M292.5 140.3h.3M317.1 192.7h.3"/>
<rect class="f" x="50.8" y="27.3" width="276.5" height="205"/>
<path class="k" d="M50.8 27.3V232.3"/>
<path class="k" d="M48 27.3h2.8M48 61.5h2.8M48 95.6h2.8M48 129.8h2.8M48 164h2.8M48 198.1h2.8M48 232.3h2.8"/>
</g>
<g filter="url(#bt)"><text class="t" x="44.4" y="29.8">1.5</text><text class="t" x="44.4" y="64">1.0</text><text class="t" x="44.4" y="98.1">0.5</text><text class="t" x="44.4" y="132.3">0.0</text><text class="t" x="44.4" y="166.5">−0.5</text><text class="t" x="44.4" y="200.6">−1.0</text><text class="t" x="44.4" y="234.8">−1.5</text><text class="x" transform="translate(59.6 243.7) rotate(-60)" y="2">chr1</text><text class="x" transform="translate(83.1 243.7) rotate(-60)" y="2">chr2</text><text class="x" transform="translate(107.4 243.7) rotate(-60)" y="2">chr3</text><text class="x" transform="translate(127.4 243.7) rotate(-60)" y="2">chr4</text><text class="x" transform="translate(147.5 243.7) rotate(-60)" y="2">chr5</text><text class="x" transform="translate(167.5 243.7) rotate(-60)" y="2">chr6</text><text class="x" transform="translate(185.6 243.7) rotate(-60)" y="2">chr7</text><text class="x" transform="translate(197.4 243.7) rotate(-60)" y="2">chr8</text><text class="x" transform="translate(208.5 243.7) rotate(-60)" y="2">chr9</text><text class="x" transform="translate(224.2 245.3) rotate(-60)" y="2">chr10</text><text class="x" transform="translate(236.1 245.3) rotate(-60)" y="2">chr11</text><text class="x" transform="translate(244.7 245.3) rotate(-60)" y="2">chr12</text><text class="x" transform="translate(252.2 245.3) rotate(-60)" y="2">chr13</text><text class="x" transform="translate(262.2 245.3) rotate(-60)" y="2">chr14</text><text class="x" transform="translate(274.6 245.3) rotate(-60)" y="2">chr15</text><text class="x" transform="translate(280.9 245.3) rotate(-60)" y="2">chr16</text><text class="x" transform="translate(285.9 245.3) rotate(-60)" y="2">chr17</text><text class="x" transform="translate(293.5 245.3) rotate(-60)" y="2">chr18</text><text class="x" transform="translate(299.9 245.3) rotate(-60)" y="2">chr19</text><text class="x" transform="translate(307.1 245.3) rotate(-60)" y="2">chr20</text><text class="x" transform="translate(313.5 245.3) rotate(-60)" y="2">chr22</text><text class="x" transform="translate(321 244) rotate(-60)" y="2">chrX</text><text class="yl" transform="translate(29 123.7) rotate(-90)">Copy ratio (log2)</text><text class="lt" x="1.5" y="17.3">a</text><text class="tt" x="49.6" y="16.2">SCP</text></g></g>
<g><linearGradient id="gAR" x1="0" y1="0" x2="0" y2="1"><stop offset="0.000" stop-color="#585858" stop-opacity="0.000"/><stop offset="0.036" stop-color="#585858" stop-opacity="0.001"/><stop offset="0.071" stop-color="#585858" stop-opacity="0.002"/><stop offset="0.107" stop-color="#585858" stop-opacity="0.003"/><stop offset="0.143" stop-color="#585858" stop-opacity="0.006"/><stop offset="0.179" stop-color="#585858" stop-opacity="0.012"/><stop offset="0.214" stop-color="#585858" stop-opacity="0.024"/><stop offset="0.250" stop-color="#585858" stop-opacity="0.050"/><stop offset="0.286" stop-color="#585858" stop-opacity="0.103"/><stop offset="0.321" stop-color="#585858" stop-opacity="0.197"/><stop offset="0.357" stop-color="#585858" stop-opacity="0.333"/><stop offset="0.393" stop-color="#585858" stop-opacity="0.488"/><stop offset="0.429" stop-color="#585858" stop-opacity="0.621"/><stop offset="0.464" stop-color="#585858" stop-opacity="0.705"/><stop offset="0.500" stop-color="#585858" stop-opacity="0.735"/><stop offset="0.536" stop-color="#585858" stop-opacity="0.712"/><stop offset="0.571" stop-color="#585858" stop-opacity="0.637"/><stop offset="0.607" stop-color="#585858" stop-opacity="0.513"/><stop offset="0.643" stop-color="#585858" stop-opacity="0.366"/><stop offset="0.679" stop-color="#585858" stop-opacity="0.231"/><stop offset="0.714" stop-color="#585858" stop-opacity="0.134"/><stop offset="0.750" stop-color="#585858" stop-opacity="0.074"/><stop offset="0.786" stop-color="#585858" stop-opacity="0.042"/><stop offset="0.821" stop-color="#585858" stop-opacity="0.024"/><stop offset="0.857" stop-color="#585858" stop-opacity="0.014"/><stop offset="0.893" stop-color="#585858" stop-opacity="0.009"/><stop offset="0.929" stop-color="#585858" stop-opacity="0.005"/><stop offset="0.964" stop-color="#585858" stop-opacity="0.003"/><stop offset="1.000" stop-color="#585858" stop-opacity="0.002"/></linearGradient>
<clipPath id="cAR"><rect x="401.3" y="30.3" width="276.5" height="205.3"/></clipPath>
<g clip-path="url(#cAR)" fill="url(#gAR)">
<rect x="401.3" y="88.9" width="14.9" height="88.1"/>
<rect x="418.4" y="88.9" width="2.4" height="88.1"/>
<rect x="420.8" y="88.9" width="27.5" height="88.1"/>
<rect x="448.3" y="88.9" width="21.5" height="88.1"/>
<rect x="469.8" y="88.9" width="18.5" height="88.1"/>
<rect x="488.3" y="88.9" width="21.5" height="88.1"/>
<rect x="509.8" y="90.2" width="18.5" height="88.1"/>
<rect x="528.3" y="88.9" width="13.5" height="88.1"/>
<rect x="541.8" y="87.5" width="4.5" height="88.1"/>
<rect x="546.3" y="87.5" width="5.5" height="88.1"/>
<rect x="551.8" y="89.6" width="5.7" height="88.1"/>
<rect x="559.6" y="89.6" width="8.7" height="88.1"/>
<rect x="568.3" y="89.6" width="15" height="88.1"/>
<rect x="583.3" y="90.9" width="8.5" height="88.1"/>
<rect x="591.8" y="87.5" width="4.5" height="88.1"/>
<rect x="596.3" y="90.2" width="4" height="88.1"/>
<rect x="600.3" y="90.2" width="6.5" height="88.1"/>
<rect x="606.8" y="89.6" width="13.5" height="88.1"/>
<rect x="620.3" y="89.6" width="11.5" height="88.1"/>
<rect x="631.8" y="89.6" width="1.5" height="88.1"/>
<rect x="633.3" y="91.6" width="8.5" height="88.1"/>
<rect x="641.8" y="86.5" width="6.5" height="88.1"/>
<rect x="648.3" y="91.6" width="6" height="88.1"/>
<rect x="654.3" y="88.1" width="8.5" height="88.1"/>
<rect x="662.8" y="93" width="4.5" height="88.1"/>
<rect x="667.3" y="135.3" width="10.5" height="132.2" fill-opacity="0.54"/>
</g>
<g filter="url(#bp)" transform="scale(.5)"><path class="p" d="M803 268l0-30 0 40 0-12 1 19 0 5 0-38 0 6 0 35 0-30 0-3 0 4 1 11 0 4 0-29 0 19 0 4 0 24 0-66 1 28 0 30 0-21 0-32 0 35 0-7 0 8 0-35 0 14 0 23 0-3 1 1 0 11 0-23 0 6 0 1 0-4 0 28 0-7 0-11 0 7 0-9 0-16 0 39 0-54 1 48 0-23 0 30 0-30 0-8 0 24 0-43 0 35 0-20 0 0 0 29 1 2 0-2 0-21 0-1 0 20 0-17 0-11 0 33 0-17 0 2 0-38 0 31 0 9 1-36 0 39 0-7 0-5 0 36 0-21 0-24 1 37 0-46 0-10 0-4 0 56 0-6 0-7 0-17 0-9 0 29 1-28 0 12 0-15 0 23 0 3 0-12 0 17 1-20 0 43 0-47 0 20 0 16 0-9 0-14 0-22 0 14 0-8 0 6 0 6 0 26 0-30 0 21 0-19 0 17 1 16 0-54 0 27 0 13 0-19 0-26 0 61 0-20 0 10 1-49 0 28 0-3 0 5 0 34 0-16 0-46 0 37 0-7 0-3 1-16 0 50 0-24 0-1 0-16 0 27 0-27 0 31 0-5 0 5 0-26 1-16 0 29 0-9 0-10 0 10 0-13 0-3 0-20 0 36 0 8 0-5 0 28 0-60 0 17 0 12 1-12 0 3 0-4 0 30 0-50 0 6 0 6 0 6 0-19 0 22 0 25 0-1 0 9 1-51 0 29 0 34 0-33 0 14 0 1 0-32 0 47 1-56 0-1 0 48 0-45 0 36 0-4 0-29 0 32 0-2 0 0 0-10 1-3 0-4 0-2 0 10 0-7 0-13 0 7 0 9 0-23 0 32 0 12 1-13 0 24 0-8 0 3 0-6 0-28 0 19 0-34 0 49 1 12 0-7 0-23 0-24 0 22 0-15 0 4 0-18 0 60 0-40 1 17 0-39 0 41 0-13 0-5 0 11 0 8 0 6 0-10 0-5 0-21 1-13 0 15 0-22 0 8 0 39 1-16 0 0 0 20 0-3 0-15 0 8 0-12 0 39 0-26 0-4 0 24 0-2 0-62 0 60 1-1 0-38 0 19 0 17 0-48 0 51 0-42 0 29 0 9 0-41 0 11 0 0 0-1 1 22 0-14 0-7 0 16 0-11 0 7 0-7 0 11 0-2 0-18 0 10 1 10 0-3 0 1 0-21 0 36 0-33 0 32 0-2 0 0 1-19 0-7 0 29 0-19 0 31 0-41 0 22 0-21 0-3 1-6 0 14 0 15 0-3 0 10 0-13 0 27 0-35 0-22 0 34 0 10 0-10 0 3 1-6 0-9 0 32 0-13 0-27 0 31 0-47 2 38 1 1 2-29 0 2 0 6 0-2 0 17 0-6 0-23 0 27 0-24 0 22 0 3 0-27 0 24 0 1 1 6 0 19 0-26 0 9 0-2 0-28 0 1 0 28 0-23 0 30 0-27 0 12 1 5 0 4 0 13 0-32 0 9 0 15 0-5 0-28 0 3 0 3 0 3 0 3 0 7 0-15 1-8 0 25 0 17 0-32 0-1 0 24 0-32 0-1 1-13 0 48 0-36 0 52 0 8 0-65 0 64 0-32 0-10 1-6 0-2 0-8 0 6 1 28 0-6 0-8 0 16 0-30 0 12 0 20 0-42 0 57 0-43 0 33 0-35 0 14 0-27 1 36 0-11 0 6 0-27 0 46 0-49 0 27 0-12 0 21 0-41 0 31 1-16 0 40 0-27 0-25 0 14 0 6 0 10 0-23 0 0 1 40 0-47 0-9 0 50 0-16 0-27 0 34 0 18 0-29 0 0 0 0 0 29 0-10 0-36 1 15 0-15 0 8 0 26 0-25 0 2 0 20 0 18 0-53 0 30 0-6 0 17 0 1 1 11 0-42 0 39 0-10 0-25 0 6 0-16 0 14 0-24 0 28 1 12 0-1 0-1 0-29 0 42 0 2 0-37 1 3 0 22 0-24 0-12 0 28 0-23 0-9 0 13 0 0 0 38 1-18 0 0 0 2 0 0 0 9 0-17 0 11 0-29 0 19 0-5 0 27 0-37 0 25 0 26 0-29 0 16 1 3 0-17 0-3 0-22 0-4 0 17 0-6 0 12 0-37 0 20 1 18 0-15 0 9 0-3 0 5 0-5 0-14 0 38 0-18 0 28 0-42 1-6 0 17 0 5 0 19 0-31 0 16 1 3 0 4 0-1 0-25 0 38 0-26 0 13 1-21 0 7 0 16 0-3 0-17 0-17 0 0 0 19 0 39 0-45 0 35 0-29 0-16 0 4 0 27 0-19 1-11 0 16 0 6 0 17 0-28 0 3 0-10 1 10 0-15 0 15 0 18 0-33 0 5 0 43 0-14 0 7 0 8 0-15 0-34 1 40 0 6 0-36 0-12 0 28 0-3 0 8 1-9 0 22 0-4 0-24 0 31 0-22 0 13 0-13 1-13 0-11 0 14 0-22 0 66 0-47 0 35 0-18 0 5 0-34 0 45 1-38 0 6 0 30 0-36 0-6 0 25 0 1 1-13 0 14 0-3 0 26 0-10 0 0 0-11 0-1 0 0 0-6 0-11 0 35 1 4 0-64 0 55 0-41 0 30 0-9 1 10 0-12 0 0 0 3 0 1 0 3 0-6 0-4 0 0 1 14 0-16 0-6 0-9 0 44 0-11 0 7 0-8 0 1 0-17 0 3 0 6 0-1 0 3 0-8 1-19 0 23 0 5 0 17 0-31 0 6 0 8 0-8 0-2 0 4 1 22 0-6 0-15 0 25 0-3 0-46 0-4 0 34 0-16 0 24 0-29 0 0 1 34 0-29 0-3 0-7 0 0 0 1 0 30 0 12 0-20 0 1 1 3 0-31 0 15 0 8 0-11 0 7 0 29 0-8 0-39 0 21 0 21 0-14 0-29 0 35 0-15 0-10 0 5 1-2 0 15 0-12 0-8 0 0 0 21 0-7 0 8 0 6 0-24 0 31 1-17 0-26 0 40 0-29 0 11 0 19 0 3 0-13 1-15 0 5 0 9 0-6 0 15 0-42 0-1 0 42 1-11 0-23 0-4 0 25 0 12 0-7 0-20 0 12 1-7 0 7 0-5 0 14 0 19 0-57 0 38 0-12 0-3 1 37 0-23 0-27 0 19 0-6 0-15 0 15 0-4 0-3 1-15 0 37 0 10 0-22 0 30 0-21 0-11 0 35 0-30 0 8 0-5 0 8 0-19 0 11 1-35 0 2 0 57 0-24 0-1 0 22 0 3 1-52 0 37 0 17 0-57 0 8 0 31 0 3 1-20 0-1 0 26 0-35 0 11 0 8 0-12 0 20 0-17 0 6 0 21 1-19 0 15 0-18 0-6 0 29 0-1 0-25 0 25 0-34 0 25 0-18 0 19 0-13 0 7 0 3 0-32 0 32 1-10 0 36 0-33 0 21 0-3 0-4 0-12 0-5 0-17 0 27 1-27 0 31 0 8 0 8 0-17 0-7 0 3 0-7 0-11 0 3 0-25 1 26 0 3 0-21 0 11 0-9 0 20 0-3 0 28 0 0 0 3 1-25 0 22 0-33 0 31 0-13 0 0 0-19 0 20 0 1 0 8 0-43 0 9 0 1 0 6 0 24 1-20 0-4 0-4 0 49 0-57 0 14 0 14 0 3 0 7 1 8 0-50 0 55 0-32 0 7 0-7 0 34 0-24 0-23 0 5 0 43 0-10 1 3 0-34 0 1 0-6 0 12 0 19 0-22 0 11 1-19 0 4 0-2 0 37 0-33 0 4 1 17 0-11 0-15 0 8 0 4 0 3 0-21 0 18 0-6 1 32 0-36 0 10 0-17 0-16 0 52 0 8 0-33 0-10 0 17 0-13 1-11 0 42 0-43 0 16 0 28 0-11 0-28 0 23 0-18 1 6 0 35 0-35 0 14 1-7 0-11 0 32 0-48 0 55 0-17 0-12 1-5 0-2 0-5 0 22 0 11 0-20 0 3 0 4 0-7 0 15 0 0 0-1 1-2 0 23 0-68 0 16 0 24 0-10 0 5 0-3 0-24 0 26 0 7 0 4 0 6 1-45 0 34 0-7 0-6 0-28 0 47 0-21 0 7 0-15 0 30 0-3 0-21 0 10 0 8 0 14 0-6 1 12 0 0 0-33 0 27 0-12 0-33 0 60 0-29 0-9 0 9 0 8 0-6 0-23 0 29 0-40 0 35 1-11 0 2 0-35 0 11 0 23 0 31 0-41 0 22 0-18 1-3 0 26 0 10 0-22 0-10 0 11 0-1 0-42 1 43 0 4 0-8 0 0 0 29 0-35 0 6 0-2 0 36 0-53 0 25 0-12 0-20 1 23 0 15 0-9 0-21 0 26 0 17 0-26 0-13 0 1 0 3 0 17 1-40 0 2 0 10 0-8 0 23 0 11 0 5 0-11 1 24 0-8 0-33 0-2 0 21 0-13 0-13 0 17 0 3 0 19 0-36 1 27 0 5 0-15 0-10 0-8 0 17 0-3 0-18 0 3 0 24 1-7 0 0 0 1 0-14 0 33 0 19 0-49 0 37 0-46 0-2 0 63 0-17 0-27 0 19 1-16 0-3 0 16 0-8 0-17 0 25 0 28 0-27 0-28 0 3 0 2 0 0 0 11 0-5 1 11 0-11 0-9 0 38 0-35 0 10 0 0 0-30 0 25 0 4 0 6 1-10 0 2 0-5 0 17 0-6 0-21 0-1 0 6 0 20 0 18 1-22 0 5 0-28 0 17 0-11 0 29 0-10 0-15 0 14 0-15 0 46 1-15 0-30 0 22 0-20 0 23 0-1 0-8 0 23 0-11 0-6 1-43 0 56 0-29 0-24 0 61 0-49 0 34 0-17 0 6 0 13 0-23 0 26 1-14 0-14 0-17 0 39 0 6 0-14 0-22 0 15 0-6 0 0 0 0 0 39 0-31 0 10 0 21 0-35 0-16 0-16 0 27 0-7 0-4 1 0 0 10 0 5 0-18 0 16 0 11 0 14 0 5 0-41 0 7 0-14 0 28 0 13 1-16 0 13 0-27 0 3 0 19 0-13 0 20 0-24 0 40 0-15 1-42 0 49 0-27 0 3 0 4 0 3 0 17 0-10 0-27 0-6 0 22 0-21 1 54 0-53 0 41 0-49 0 37 0 2 0-16 0 9 0-9 0-36 0 31 0 3 0-8 0 24 1-44 0 41 0 2 0-6 0 14 0-10 0-32 0 57 1-40 0-15 0 20 0-17 0-7 0 12 0 20 0 11 0-23 0-6 0 14 1-11 0 3 0 6 0 19 0-41 0 39 0 3 0-23 0 27 1-19 0 10 0 11 0-41 0 10 0-8 0-4 0 29 0-2 0-15 0 22 0-28 0 26 0-24 0 44 1-33 0-23 0 11 0 22 0 0 0-36 0 17 1-19 0 20 0 21 0-17 0 9 0 24 0-40 0 7 0 23 0-26 0-27 0 46 0 2 0-27 0 7 0 17 0 17 0-20 1-6 0 24 0 8 0-41 0 41 0-63 0 28 0-26 0 20 0 22 1 2 0-28 0 40 0-52 0 16 0 1 0 22 0-3 0-8 0-19 0 21 0-8 0 23 0 0 0-24 0-26 1 42 0-46 0 30 0 22 0-8 0 0 0-49 0 30 0 15 1-29 0 44 0-36 0 1 0 10 0 4 0-34 0 51 1-40 0 17 0-17 0 6 0 10 0-16 0 27 0-8 0-34 1 28 0 26 0-12 0-41 0 41 0-33 0 49 0-19 0-20 0 14 1 0 0-8 0 5 0-10 0 27 0-11 0-22 0 19 0 14 1-42 0 33 0-40 0 19 0 15 0-15 0 18 0 20 0-7 0 17 1-68 0 27 0 11 0-17 0-8 0-12 0 23 0-23 1 32 0 22 0-14 0-13 0 17 1 0 0 18 0-16 0 3 0 0 0 11 0-27 0 28 0-8 0-4 0 10 0-39 1 5 0 26 0-46 0 17 0 29 0 3 0-15 1-4 0 28 0-19 0-5 0 14 0-19 0-17 0-2 0-5 0 18 0 0 0 0 0 35 0-37 0 44 1-55 0 1 0 1 0 18 0-12 0 40 0-1 0-20 1 8 0-23 0 21 0 9 0-23 0 19 1-21 0 10 0 3 0 22 0-14 0-16 0-12 0 45 0-26 0 6 0-25 0 5 0-9 0 25 1-15 0-21 0 14 0 20 0-42 0 39 0 2 0-3 1 11 0-27 0 9 0-6 0-2 0-18 0 16 0 28 1-26 0-11 0 39 0-25 0 18 0 0 0-14 0-17 1 37 0-2 0 17 0-30 0 11 0-7 0-30 0-2 1-1 0 38 0-19 0 2 0-11 0 52 0-30 0-2 0 23 0-12 0-13 0 36 0-36 0 7 1 28 0-23 0-36 0 39 0-28 0 11 0-4 0 20 0-39 0 40 1-22 0 36 0-17 0 17 0-40 0 15 0-8 0 21 0-29 1 26 0 5 0-16 0-18 0 28 0-10 0-15 0 25 0-24 0 14 1 17 0-38 0-5 0 19 0 26 0-37 0-12 1 14 0 17 0 29 0-22 0-22 0-1 0-13 0 34 0-7 0-29 1 46 0-26 0-8 0 23 0 6 0-11 0 17 0-57 0 40 0-13 0-26 0 28 1 14 0-11 0-5 0-12 0 12 0 22 0 5 1-28 0 5 0-33 0 41 0-26 0 56 0-19 0-4 1 20 0-44 0 19 0-19 0 39 0-13 0-5 0-27 0-11 0 40 0 16 1-1 0-26 0-16 0-15 0 3 0 40 0 14 0-25 0 31 1-38 0 18 0-12 0 20 0 4 1-37 0 22 0 23 0-55 0 59 0-40 0 6 0-24 0 36 0-13 1 0 0 6 0-3 0 15 0 3 1 11 0-17 0-16 0 8 0-20 0 37 0-20 0-33 0 35 0-4 0 18 1-12 0-33 0 41 0-13 0 6 0 1 0-36 0 44 0-16 0-19 0 47 0-17 1-7 0-10 0 0 0-10 0 40 0-11 0-28 0-10 0-10 0 36 0 5 1-19 0 22 0-8 0-6 0 2 0-16 0 10 1 10 0 5 0-41 0 44 0 18 0-49 0 21 0 6 0-2 0 19 0-16 1 9 0-19 0 8 0-39 0 32 0 11 0 28 0-34 0 15 1-15 0-27 0 9 0-3 0 5 0 23 0-10 0-3 0-19 0 35 0-9 0-13 0 17 1-11 0 15 0 4 0-12 0 12 0-27 0-16 0 35 0-12 0-18 1 52 0-59 0 15 0 11 0 16 0 10 0-13 0-8 0-29 0 41 0-34 0 15 0-28 1 40 0-5 0-25 0 33 0 25 0-36 0 7 0-1 0-7 0-6 0-3 0 29 0-14 0 2 0 10 0 2 0 5 1-4 0-21 0-1 0-5 0-4 0 7 0 1 1-27 0 3 0 26 0-24 1 57 0-32 0 9 0-39 0 22 0 15 0-38 0-6 0 34 0 28 0-9 0 3 1-3 0 8 0-39 0 31 0-26 1 7 0-29 0 49 0-17 0-15 0-10 0-3 1 42 0-4 0-20 0 9 0-21 0 42 0-7 0-10 0 11 1-28 0-9 0 39 0-16 0-21 0 30 0 18 0-35 0 28 0-29 0 1 0 11 1 4 0-16 0 9 0 10 0 17 0-26 0 19 0-6 0 11 0-5 0-34 0 39 0 2 0 4 1-35 0-15 0 18 0-6 0 7 0 23 0-27 0 20 0 5 0-27 0-4 0 7 1 10 0 19 0-20 0 3 0-15 0 3 0 7 0-7 0 30 0-33 0 25 0-18 1 16 0-22 0 17 0 21 0-52 0 54 0-55 1 6 0-1 0-5 0-1 0 53 0-30 0-8 0 19 0-20 1 18 0-48 0 13 0 20 0-25 0 3 0 56 0 7 0-20 0-12 1-25 0 0 0 4 0 16 0 1 0 25 1-21 0-27 0-2 0 29 0-8 0-2 0-9 0-22 0 38 0 19 0-11 0 17 0-34 0 21 1-3 0-3 0-21 0 25 0 6 0-13 0-3 0 0 0 32 0-39 0-11 0 24 1-27 0 12 0 29 0-30 0-12 0 26 0 2 0 11 0-37 0 2 0-4 1 39 0 2 0-43 0 54 0-31 0-4 0 29 0-58 0 10 0 21 1 10 0-13 0-2 0-2 1 16 0-1 0-3 0-2 0-10 0-10 0 11 1 4 0 33 0-16 0-17 0-1 0-5 1 19 0 18 0-19 0-12 0 21 0-14 0 19 0-4 0-23 0 22 0 16 1-32 0 31 0-37 0-26 0 32 0-1 0-19 0-1 0 19 0 10 1-4 0 29 0-42 0 13 0 15 0-23 0-17 1 26 0-20 0-2 0 11 0 0 0-2 1 25 0-44 0 19 0-9 0 9 0-13 0 44 0-17 0 20 0-41 0 11 0 22 0-7 0-14 1 13 0 20 0-37 0 5 0 13 0 9 0-7 0-11 0 22 1-45 0-2 0-8 0 57 0-54 0 20 0-6 0 34 0-19 1-6 0 5 0-36 0 57 0-27 0 13 0 14 1-49 0 55 0-50 0 13 0-4 0 15 0-18 0-1 0 17 0 12 0-31 0 20 1-10 0-5 0 22 0 19 0 6 0-12 0-41 0 24 0 24 0-42 0 16 0-5 0 13 1-10 0 12 0 21 0-51 0 36 0 11 0 1 0-20 0-20 0-14 0 2 1-4 0 14 0 4 0 40 0-47 0 15 0-18 0 35 0-16 0 27 0-14 0-21 1 16 0 17 0 3 0-37 0 16 0-30 0 20 0-5 0 8 1-19 0 1 0 25 0-9 0 0 0 10 1-10 0 2 0 29 0-36 0 13 0 10 0-4 0 6 0-25 0-2 1 2 0-19 0 18 0-27 0 12 0 48 0 4 0-27 0-2 0 9 0-6 0 8 1-19 0 21 0-16 0-1 0-19 0 39 0-6 0 11 0-9 0 14 0-28 0 3 1 23 0-62 0 31 0-27 0 22 0-3 0-9 0 18 0-2 0 33 0-34 0 9 0-4 0-11 0 11 0-5 0-24 1 27 0-5 0 12 0-21 0-8 0 16 0 22 0-22 1 1 0 24 0 14 0-14 0-46 0 21 0-11 0 50 0-53 0 49 0-43 0 20 1-25 0 20 0-2 0 5 0-1 0 9 0-21 0 4 0 39 0 3 0-41 0-6 0 48 1-42 0 20 0-35 0 48 0-53 0 43 0 17 0-42 0 21 0-21 0 2 0 13 0-2 0 8 0-38 0 43 1 10 0-22 0 10 0-3 0-12 0 4 0 34 0-42 0 7 0-19 0 29 0-10 0 13 0-6 0-20 1-4 0 4 0 7 0 18 0-48 0 33 0 8 0 3 0-31 0 19 0 25 0-24 1-13 0 44 0-47 0-7 0 15 0 5 0-13 0-9 0-1 0 39 0-11 1-17 0-17 0 36 0-11 0-12 0 24 0-33 0 26 0 17 0-41 0 7 0 29 1-7 0 19 0-45 0 57 0-22 0 23 0-29 0-15 0 15 1-5 0 23 0-52 0 1 0 6 0 2 0 28 0 1 0 11 0-11 0-25 0 52 1-6 0-39 0 17 0-3 0-4 0-9 0 23 0-17 0 1 0 16 0-22 0 24 0-7 0 22 0-31 0-2 0 18 0-33 0 27 1 19 0-32 0 26 0-24 0-29 0 27 1 10 0 26 0-24 0 9 0-14 0 1 0-39 0 7 0 0 0 29 0-22 0 13 1-18 0 38 0-44 0 25 0-15 0-8 0 30 0-32 0 6 0 7 0 28 1 29 0-39 0 5 0 6 0-33 0 40 0 18 0-26 0-5 0 11 0-23 0 10 0-18 1 19 0 9 0-20 0 21 0-26 0 21 0 0 0-7 0-22 0 31 0 0 0-23 0 17 1-10 0 4 0 32 0-53 0-1 0 27 0 12 0 10 0-31 0 11 0-26 0 44 1-19 0 28 0-3 0-37 0-6 0 37 0-28 0 16 1-9 0 3 0-11 0 8 0 32 0-24 0 24 0-34 0 3 1-5 0-5 0 35 0-10 0-5 0 3 0 3 0-11 0-25 0 25 0-8 1 8 0 2 0-21 0 15 0-31 0 30 0-2 0-27 0 54 0-27 0 10 1-44 0-3 0 57 0 7 0-43 0 17 0-7 1 22 0-24 0 30 0-9 0-15 0 13 0-14 0 20 0-16 0-3 0-31 0 26 0-22 1 5 0 15 0-15 0 21 0 7 0-20 0 12 0 10 0-28 0 21 0-30 0 27 1 6 0-29 0 45 0-27 0 6 0-4 0 22 0-26 0 33 0-33 0-23 0 25 1 29 0-25 0 17 0-25 0-24 0 26 0 22 0-2 0-9 0-10 1 23 0-11 0-14 0 34 0-28 0-29 0 39 0-19 0-21 0 26 0 20 1-16 0 44 0-62 0 28 0-36 0 31 0 1 0 14 0-28 1 23 0-22 0 14 0-6 0 33 0-29 0-18 0 31 1-4 0 7 0 8 0-24 0-2 0-1 0-5 0 11 0-5 0 33 0-25 0-33 1 25 0-29 0 27 0 0 0-19 1 7 0 25 0 1 0 23 0-37 0 0 0 23 0-23 0-26 0 9 0 27 0-39 1 40 0-24 0 8 0 1 0-12 0 47 0-9 1-10 0-26 0 42 0 2 0-2 0 9 1-28 0-22 0 35 0-33 0 49 0-42 0 28 0-8 0 4 0-40 0 18 0 6 0 24 0-24 1-15 0 34 0-9 0-9 0 17 1 19 0-48 0-22 0 30 0 12 0 13 0-13 1 11 0-40 0-6 0 7 0-5 0 59 0-47 0 22 0-18 1 10 0-3 0-13 0 29 0-17 0-1 0-6 0 45 0-68 0 36 0 34 1-31 0-12 0 8 0 1 0-9 0 22 0-15 0-7 0-17 0-3 0 32 0 9 0-32 0 39 0-14 0-30 0 16 1 12 0 11 0-8 0 14 0-18 0-8 0-9 0 10 0-8 0-20 1 37 0-2 0-9 0-16 0 44 0-20 0 15 0-9 0-18 0 32 0 3 0-33 0 17 0-27 0 37 1-5 0-38 0 45 0-3 0-2 0-21 0-3 0 26 0-4 0-18 0 32 0-30 0-2 0 13 1-16 0-4 0-2 0 7 0 22 0-13 0 3 0-29 0 31 1-15 0 9 0-30 0 3 0 30 0 29 0-11 0-34 0-13 1 40 0 7 0-25 0 19 0-26 0 8 0 23 0 2 0-48 0 48 1 7 0-48 0 22 0-9 0-7 0 1 0 23 0-48 0 65 1-31 0 17 0-24 0 15 0 24 0-24 0-10 0-6 0 7 0-5 0-27 1 10 0 53 0-41 0-3 0-4 0 45 0 1 0-22 0 17 0-27 0 18 0-13 0-32 0 32 0-17 1 21 0-7 0-2 0 8 1-5 0-25 0 19 0 17 0 6 1 11 0-53 0 32 0-21 0 8 0 6 0 19 0-32 0 38 0-40 0 21 0-6 1-18 0 36 0-27 0-8 0 6 0 23 0-31 0 13 1 9 0-10 0 6 0 1 0 31 0-27 0-36 0 65 0-43 0-28 0 41 0-28 0 53 0 6 0-9 0-12 1-49 0 57 0-25 0-3 0 21 0-30 0 25 0-27 0 33 0-32 0-3 0-4 0-3 0 30 0 13 0-30 1-11 0 33 0-43 0 15 0 54 0-59 0 29 0-2 0-6 0-14 0 37 0-36 0 35 1-43 0 17 0 6 0 19 0-16 0 31 0-55 0 7 0 14 0 37 0-18 0 7 0-6 0-8 1 10 0 3 0-27 0 4 0 13 0-16 0-37 0 20 0 5 0 17 0-20 0 20 0-10 0-27 0 46 0-4 1-40 0 22 0-1 0-6 0-11 0 28 0 4 0-24 0 0 0 21 0 7 0 25 0-27 0 3 0-42 0 24 1 36 0-43 0 36 0-39 0 17 0-5 0 18 0-18 0 10 0 27 0-14 0-45 1 38 0-17 0-4 0 11 0-6 0-16 0 31 0 14 0-16 0-9 0 2 0 3 0-10 0-9 0-15 0 52 1-31 0 21 0-12 0 7 0 2 0 21 0-25 1 14 0-1 0-29 0 22 0-14 0 2 0 12 0-28 0 11 0 2 0-8 1 31 0-4 0-9 0 1 0 1 0 16 0-10 0-16 0-13 0 17 0-26 0 15 1-15 0 19 0 9 0-34 0 48 0 20 0-69 0 20 0 20 0 14 0-34 0-4 0 25 1-41 0 2 0 61 0-55 0 48 0-16 0-13 0-14 1 50 0-54 0 15 0 2 0 0 0 15 0-28 1 49 0-26 0 6 0-13 0-15 0 30 0 8 1-28 0 35 0-12 0-8 0-7 0 14 0-31 0-9 1 2 0 16 0-11 0-15 0 36 0 5 0-21 0 3 0 1 0-27 0 11 0 40 0 6 0-19 0-5 0 19 0 8 0-38 1-6 0 24 0-2 0 27 0-14 0-6 0-8 0 2 0-7 0 31 0-4 0-26 0 28 0-16 0-15 1 12 0 1 0 30 0-55 0 6 0 4 0 38 0 8 0-50 0 31 0-16 0-13 0 32 0-33 1-13 0 35 0-28 0 40 0 6 0-32 0 17 0-3 0-9 0 16 0-17 1 25 0-14 0 5 0-15 0-6 0-12 0-12 0 40 0-10 0-16 0 23 0-1 0 20 0 10 0-51 0-7 0 22 0 10 1 8 0-45 0 34 0-13 0 24 0-9 0-19 0 12 0 20 0-27 0-15 1 40 0 7 0-54 0 51 0-31 0 6 0-15 0 0 0-2 1-16 0 64 0-39 0 25 0 4 0-28 0-10 0 24 0 15 0-7 0-14 0-13 1-8 0 18 0-12 0-17 0 30 0 14 0-16 1-37 0 35 0 2 0 1 0-1 1-28 0 44 0-28 0 13 0 7 0 21 0-38 0-5 0 7 0 22 0-15 1-7 0 11 0 5 0-8 0-32 0 45 0-1 0-9 0-32 0 34 1-14 0 8 0-2 0-3 0 3 0 5 0 23 0-3 0-21 1 23 0-4 0-13 0 5 0-22 0 30 0-22 0 12 0 10 0-20 0-20 1 11 0 24 0-27 0-14 0 16 0 11 0 17 1 1 0-37 0 52 0-55 0 14 0-22 0 58 0-22 0 2 0-2 1-34 0 34 0 23 0-7 0-53 0 32 0 0 0 29 0-4 0-39 0-17 0 22 0-1 0 18 1-41 0 16 0 40 0-21 0-36 0 28 0-6 1 44 0-27 0-35 0 14 0-5 0 27 0-33 0 45 0-29 0 27 0-12 1-8 0 7 0-40 0 30 0 25 0-24 0-4 0 8 1 10 0-47 0 25 0 8 0 6 0-15 0 19 0-9 0 25 0-9 1-13 0-23 0 9 0 1 0 31 0-8 0-15 0 6 0 0 0-19 1-7 0 40 0-28 0 11 0-35 0 42 0-36 0 40 0-19 0 32 0-18 1 0 0-31 0 36 0 1 0-44 0 50 0-35 0 8 0-25 0 54 1-38 0 7 0 23 0 19 0-16 0-16 0 18 1-32 0 31 0-6 0 21 0-15 0-22 0 38 0-51 0 38 1-19 0-35 0 54 0 13 0-64 0 46 0 18 0-11 0-6 0-12 0-35 1 8 0 40 0-11 0-2 0 14 0 8 0 8 0-44 0-1 0 28 1-11 0 15 0-12 0 12 0-21 0 43 0-31 1 4 0-30 0 27 0-9 0 23 0 4 0-10 0-22 0 6 0 22 0-47 0 11 0 31 0-16 0-2 1 4 0-28 0 13 0 16 0 13 0-27 0 8 0 2 0 21 0-34 0 27 0-31 0 18 0-5 0-19 1 2 0 18 0 14 0-45 0 14 0 31 0-25 0 48 0-33 0-22 0 7 1-7 0 26 0 12 0-16 0 37 0-47 0 38 1-59 0 6 0 47 0 5 0 0 0-59 0 41 0-20 0 10 0 0 1 8 0-1 0-5 0 19 0 2 0 4 0-15 0-16 1-13 0 24 0 21 0-34 0 6 0 18 0-14 1 1 0-32 0 31 0-27 0 35 0 13 0-15 0-13 0 21 0-41 1 28 0 5 0-13 0 22 0-12 0 18 0 12 0-25 1-18 0 5 0 20 0-14 0-17 0 26 0-11 0 24 0-31 0 12 0-13 0 1 0-6 1 14 0 2 0 23 1 7 3 1 0-46 0 15 0-7 0-4 1 36 0-34 0 21 0-18 0-26 0 40 0-1 0-17 0 4 0 7 1-24 0 32 0-2 0-16 0-31 0 44 0-7 1-35 0 32 0 11 0 10 0-28 0-27 0 35 0 19 0-27 0-10 0 6 0 25 0-27 0 0 1-17 0 7 0 44 0-50 0 7 0 50 0-1 0-32 0 3 1-10 0 21 0-17 0 24 0-22 0 9 0 15 0-1 0-26 0-5 1 8 0 3 0-2 0 7 0-4 0 33 0-54 0 24 1 9 0-25 0 12 0 16 0-17 0-10 0 0 0 39 0-26 1-7 0 14 0 11 0-19 0 0 0 25 1-48 0 48 0-46 0 39 0-9 0-12 0 22 0 1 0-41 0 1 0 22 1-14 0 37 0 8 0-10 0-24 0-23 0 14 0 24 0-3 0-14 0 5 0-1 0 7 0 4 0 6 0-21 1-30 0 30 0 32 0-8 0-37 0-9 0 47 0 14 0-14 0-12 0 17 1-21 0 10 0 13 0-4 0-41 0 43 0-46 0 57 0-23 0-44 0 6 0 23 1-5 0-1 0 46 0-64 0 35 0-16 0 12 0 17 0-9 0-9 0-7 0 5 0 5 0 14 1-3 0-24 0 16 0-10 0-9 0-12 0 32 0 5 0-4 1-22 0 16 0 16 0-4 0-34 0 20 0 6 0-21 0-8 0 28 0-6 0 26 1-13 0-27 0-7 0 26 0 0 0-24 0 10 0 12 0 13 1-12 0-8 0 17 0-6 0-17 0-5 0 22 0-11 0 4 1-12 0 6 0-14 0 2 0 24 0-37 0 18 0-10 0 5 0 28 0-47 0 50 1-2 0 2 0 2 0-21 0 14 0-12 0 11 0-5 0 6 0-11 0 19 0-18 1-6 0-1 0 25 0 9 0-23 0-11 0-13 0 17 0-8 0 7 0-1 0 25 1-16 0-25 0 7 0 34 0-8 0-2 0-45 0 21 0-1 0 21 0 9 0-26 0-1 0-1 0 39 1-35 0 12 0 8 0 13 0-24 0-2 0-10 0 10 0 11 0-3 0 20 0 5 0-26 0-8 0 28 0 5 1-18 0-11 0-30 0 37 0-37 0 19 0-14 0 18 0 1 0 4 0 19 0-34 1 28 0-22 0 6 0 1 0-8 0 14 0-23 0 37 0-17 0 13 0-29 1 0 0 18 0-26 0 12 0 12 0 14 0-20 0-1 0-19 0 41 0-26 0 11 0 4 0-33 0 27 0-9 1-9 0 37 0-16 0-24 0-8 0 19 0 38 0-58 0 37 0-12 0-8 0 22 0-6 1 5 0-10 0-1 0 5 0 13 1 7 0 1 0-7 0-37 0-3 1 32 0-25 0 50 0-21 0 1 0 0 0 15 0-4 0-46 0 40 0-17 0-7 1 21 0-29 0 20 0 13 0-33 1 42 0-32 0-11 0 29 0-4 0-6 0 4 0 19 0-38 0 5 0 32 0-3 1-29 0 38 0-8 0-17 0 21 0-30 0-3 0 20 0 3 0-43 0 7 0 29 0 3 0-37 0 17 0 16 0-8 1-3 0 12 0-7 0-21 0 29 0-37 0 21 0-17 0 22 0 16 0-28 0 26 1-38 0 34 0-18 0-1 0 35 0-5 0 8 0-49 0 27 0 21 1-18 0 13 0-14 0-4 0-15 0 16 0 17 0 2 0-25 0 14 0-5 0 17 0-57 1 11 0 29 0-6 0-8 0 39 0-30 0 15 0 20 0-31 0-39 1 27 0 38 0-22 0 19 0 7 0-65 0 17 0 14 0 19 0-15 0-17 0-7 1-5 0 21 0-15 0 28 0-4 1-16 0 18 0 5 0-14 0 0 0 2 0-1 0-20 1 3 0 41 0-7 0-19 0 24 0-26 0 2 1 9 0-6 0-26 0 26 0-10 0 4 0-7 0 32 0 4 0-26 0 1 0-2 1 10 0-35 0 41 0-13 0 11 0-48 0 23 0 4 0-8 0 35 0-16 0-7 0-21 1 20 0 1 0 18 0-41 0 34 0-26 0 55 0-51 0 9 0-6 0 42 0-17 0-10 0 28 0-50 0-5 1 40 0-47 0 44 0-38 0 10 0 26 0-15 0-2 0 7 0 32 0-46 0 8 0 10 0 3 0-41 0 27 0 34 1-36 0-9 0 19 0-18 0-16 0 32 0 14 0-21 0-18 0 24 0 15 0-26 0-17 0 19 0 13 0-34 1 51 0-10 0 11 0-47 0 34 0 26 0-26 0-17 0 21 0-28 1 20 0-20 0 0 1 17 0 31 0-45 0 1 0 24 0-13 0 26 0-59 0 30 0-5 1 18 0 19 0-58 0 27 0 7 0-14 0 22 0 17 0-20 0 20 0 5 0-22 0 1 0-7 0 10 0-26 0 16 0 3 0-1 1-23 0 42 0-44 0 19 1-10 0-4 0 20 0 3 0-16 0 19 0-17 1-4 0 0 0-9 0 12 0 20 0-6 0-36 0 23 0-14 0 36 0 6 1-20 0 22 0-32 0-5 0-3 0 9 0 26 0-3 0-34 0 24 0 21 0-25 0 14 1-17 0-14 0 21 0 27 0 3 0-19 0-32 0-15 1 10 0-5 0 14 0 45 0-22 0-1 0-33 0 16 0 6 0 3 1-1 0-1 0 0 0-28 0 21 0 20 0-4 0 10 0-19 0 1 0-11 0 26 0-30 0 18 0 5 1-29 0 54 0-45 0 40 0-23 0-12 0 6 0-28 0 39 1-15 0 1 0 18 0-2 0-49 0 17 0 7 0-14 0-6 0 33 0-31 0 27 0 15 1-39 0 4 0 11 0 4 0-2 0-23 0 14 0 26 1-19 0-2 0 44 0-13 0-26 0 7 0-12 0 13 0 17 0-42 1 6 0 16 0 36 0-21 0 13 0-54 0 0 0 6 0 43 1-14 0 9 0-48 0 43 0-39 1 49 0-31 0 25 0-30 0-11 0 28 0 17 0-7 0-37 0 27 0-4 0-26 0-8 0 21 0 17 0-15 0 12 1-10 0 16 0 7 0-2 0-9 0-33 0 40 0-20 0 47 0-9 0-15 1-18 0 38 0-33 0-17 0 31 0-37 0 43 0-10 0 5 1-37 0 46 0-12 0 6 0-52 0 35 0 23 0-30 0-23 0 26 0-11 0 5 0 42 0-49 0 21 0-14 0 13 0-32 0 30 1 4 0-14 0 40 0-15 0-10 0-22 0-7 0 12 0 20 0-18 0 13 0-23 0 38 1-40 0-2 0 24 0 6 0-38 0 22 0-26 0 3 0 46 0-11 0-11 0 10 1 7 0-6 0-14 0-18 0 13 0 11 1 19 0-6 0 2 0-19 0-22 0 18 0 46 0-70 0 34 0 3 0-12 0 0 0 17 0-9 1 31 0-55 0 32 0 3 0-9 0 19 0-18 0-9 0 6 0 21 0 12 0-23 0-6 0 18 1-12 0-23 0 34 0-31 0 14 0-25 0 41 0-31 0-4 0 3 0 28 0-28 0-9 0 34 0-17 0-12 1 20 0-2 0-31 0 18 0-16 0 20 0 6 0-8 0 11 0 12 0-28 1 16 0 23 0 6 0 8 0-40 0 4 0 15 0 0 0-48 0 70 0-14 0-22 0-27 0 6 0 9 0-13 0 1 1 32 0 1 0-2 0-8 0-10 0 5 0 31 0-34 0-12 1 32 0 0 0-26 0 37 0-27 0 29 0-16 0 16 0-26 0-13 0 15 0-5 0 6 1-3 0 15 0-11 0-13 0-15 0 15 0 0 0 3 0-19 0 27 0-6 1-21 0 46 0-15 0-18 0 22 0-4 0 19 1-13 0-27 0 19 0 1 0 1 0 0 0-33 0 49 0-23 0 30 0-58 0 31 0-28 0 11 1 2 0 40 0-36 0 38 0 3 0-50 0 7 0-11 1 1 0 38 0-8 0 23 0-41 0 20 0-1 0 16 0-23 0 1 0 22 0-12 0 14 1 5 0-37 0 32 0-27 0-6 0-10 0 15 1 24 0-24 0 2 0-3 0 13 0 11 0-42 0 43 0-20 1-15 0 28 0-1 0-51 0 11 0 18 0 8 0 16 0-26 0-14 0 20 0 11 0 19 0-7 0-20 1 32 0-37 0 23 0-50 0 49 0-44 0 34 0-2 0-5 0 12 0-10 1 18 0-28 0-4 0 25 0 18 0-29 0-12 0 15 0-36 0 25 0 3 1-4 0 18 0-35 0 31 0 0 0 4 1-12 0 21 0 4 0-46 0 36 0-23 0 4 0 19 1 18 0-52 0 37 0-19 0-7 0 39 0-18 0-29 0 19 1-17 0 12 0 28 0-8 0-6 0 3 0-19 0-9 0 9 0 8 0-6 0-12 1-7 0 19 0 24 0-17 0 18 1-27 0-6 0-11 0 10 0 3 0 20 0 21 1-38 0 21 0-48 0 16 0 19 0-20 0 40 0 0 1-7 0-16 0-14 0 1 0 24 0-21 0 25 0-40 0 14 1-10 0 7 1 3 0-9 0 40 0-1 0 14 0-41 0 16 0 20 0-23 0 30 0-49 0 47 0-68 1 60 0-47 0 28 0 5 0-35 0 40 1-1 0-6 0 5 0-1 0-29 0-3 0-9 0 15 0 6 0-4 0 49 1-18 0-8 0-2 0-17 0 17 0-45 0 26 0 2 0 17 0 4 0-15 0-3 1-4 0 8 0 28 0-31 0-4 0 17 0-7 0-5 0-15 0 27 1 5 0-19 0 9 0 24 0-8 0-12 0 16 0-26 0-14 0 15 0 24 0 1 0-37 0 22 0-5 0 16 0-25 0 28 0-31 0 11 1 15 0-17 0-14 0 37 0-29 0 28 0-19 0-13 0 11 0-6 0 0 0 5 1 16 0-23 0 17 0-7 0-5 0-10 0 27 0-35 0 12 0 5 1 8 0-12 0 5 0-21 0 34 0-11 0-16 0 11 0-8 0-5 1 26 0-11 0 16 0 0 0-9 0 26 1 6 0-36 0-17 0 6 0-5 0 36 0-14 0 9 0 7 0-32 0-13 0 54 1-55 0 20 0 17 0-9 0-27 0 29 0 9 0-23 0 12 1 3 0 12 0-11 0-25 0 50 0-53 0 35 0-53 0 22 0-1 1 44 0-31 0 6 0-10 0 7 0 13 0-4 0 4 0-40 0-7 1 7 0 23 0 10 0 13 0 5 0-9 0-7 0-15 0 10 1 1 0-24 0-1 0-6 0 30 0 1 0 15 0-19 0 8 0 4 0-46 1 43 0-14 0 28 0-47 0 8 0 20 1-21 0 10 0 17 0-30 0 19 0 21 0 7 0-12 1-19 0 22 0-33 0 19 0 7 0-15 0-8 0-13 0 42 0-27 0 20 1-14 0-7 0 36 0-19 0 10 0-27 0 21 0-20 0 15 0-42 0 20 0 4 0 25 0-11 0-12 0-19 0 7 1 12 0 19 0 15 0-39 0 8 0-14 0 33 0-27 0 48 0-36 0 1 1-6 0 15 0 1 0 20 0-21 0-37 0 26 0-15 0 43 0-14 1-28 0 29 0-1 0 4 0-28 0 31 0-40 0 24 0-2 0 21 0-52 1 34 0 32 0-32 0-6 0 15 0-2 0-22 0 18 0-21 0 21 0 15 0-11 0 10 0-37 0 28 1 3 0-18 0 15 0-2 0-41 0 49 0 21 0-37 0-31 0 46 0-23 0 18 0 20 0-35 0-21 0 20 1 29 0-8 0-41 0 35 0-11 0-34 0 14 0 27 1-39 0 40 0 23 0-16 0-16 0-6 0-17 0 23 0-5 0 2 1 9 0-9 0-6 0 8 0-18 0 23 0 9 0 19 0-27 0-9 0 4 0-15 0-2 0 21 0-6 0-6 0-6 1 12 0-13 0 16 0-27 0 8 0 6 0 6 0-4 0 31 0-21 1-3 0 25 0-14 0 25 0-20 0-32 0 5 0 13 0 16 0 15 1-44 0 44 0-34 0-15 0 13 0-3 0 24 0-34 0 16 0 13 0 21 1-28 0 0 0-3 0 27 0-1 0-46 0 21 0-18 0 19 0 19 0-13 0 6 0-26 0 23 1 13 0-16 0-10 0 15 0-23 0 22 0 8 0-25 0 20 1-20 0 31 0-3 0 3 0-1 0-14 0 9 0-39 1 32 0 0 0-18 0-3 0 16 0 14 0-41 1 21 0-14 0-2 0 24 0-25 0 20 0 16 0-23 0 10 0-15 0 12 1-5 0-33 0 64 0-21 0-9 0 34 0-6 0-10 0-8 1 3 0-7 0-5 0 11 0-10 0 5 0 1 0 1 0 2 0 15 0-46 0 55 0-9 0-18 1 1 0 4 0 1 0-45 0 47 1-33 0 3 0 6 0 34 0-19 0-23 0-9 0 55 0-53 0 49 0-3 0-46 0 59 0-37 1 16 0 10 0-29 0 0 0 14 0 27 0-51 0-17 0 33 0 19 0 0 0-18 0 27 0-28 0 30 1-31 0 12 0-36 0 24 0 2 0 8 0-20 0-24 0 50 0-11 0 28 0-56 0 45 0-8 0 3 0-23 1-8 0 15 0 23 0-24 0 6 0-6 0 11 1-35 0 53 0 2 0 3 0-3 0-28 0-6 0 20 0-32 1 23 0 24 0-19 0-8 0 24 0-38 0 21 0-28 0 21 1-31 0 9 0 16 0 19 0-30 0 43 0-14 0-44 0 30 0-26 0 5 1 22 0-25 0 38 0-22 0 35 0-28 0 11 0-7 0-9 0 9 0 12 1-12 0-19 0 25 0-1 0-33 0 19 0 21 0-9 0-6 1-11 0 34 0-56 0 52 0-6 0-18 0-3 0 32 0-25 0-8 0 12 0 20 1-31 0 16 0-44 0 34 0 11 0 14 0-23 0 10 0-29 0 15 0 18 1-6 0 16 0-14 0 4 0-3 0-20 0 40 0-27 0-4 1 22 0-54 0 62 0-30 0-22 0 28 0 2 1-11 0 41 0-45 0 32 0-17 0 27 0-26 0 10 0-14 1-14 0 13 0 18 0 4 0-35 0 27 0 13 0-18 0 8 1-2 0-22 0-9 0 28 0-1 0-8 0 19 0-2 0-19 0 14 0-7 1-7 0-29 0 15 0 46 0-8 0-7 0-41 0 10 0 15 0 31 1-63 0 27 0-32 0 58 0-42 0 16 0-4 0 22 0 0 0-1 0 14 0-39 0 25 0 14 1-54 0 29 0 13 0-17 0 26 0-31 0 3 0 16 1-23 0 20 0-8 0-1 0 36 0-17 1-39 0-6 0 30 0-33 0 65 0-38 0-19 0 18 1 20 0-4 0-9 0-25 0 37 0 15 0 0 1-15 0-3 0-33 0 36 0-49 0 50 1-1 0 10 0-33 0-30 0 38 0-6 0-17 0 45 0-37 1 46 0-21 0-32 0 40 0-31 0 4 0-13 0 5 0-2 0-16 0 32 0 3 0 1 0 19 1-13 0-24 0 47 0-22 0-2 0 4 0-8 0-10 1 9 0-15 0 27 0-34 0 12 0 15 0-8 0-34 1 24 0 31 0-24 0 21 0-23 0-24 0 26 0-21 0 27 0-14 0-15 0 48 0-33 0 10 0 3 1 16 0-23 0 0 1-17 0 39 0-14 0 15 0-40 0 26 0 5 0 6 1 1 0-22 0-9 0-17 0 35 0-45 0 5 0 19 0-27 1 51 0-54 0 27 0 41 0-29 0-19 0-3 0 1 0 7 0 43 0-60 0 63 0-27 0 5 1-8 0 2 0 11 0-51 0 27 0 5 0-2 0 41 0-14 0-24 0-8 0 9 0 0 0 30 0-42 0 6 1 37 0-19 0 24 0-35 0 21 0-12 0-42 1 34 0-14 0-7 0 31 0-42 0 33 0 9 0-7 0-3 0 7 0-6 1 9 0 6 0-21 0 17 0-7 0-4 1 23 0-46 0 19 0 8 0-20 0 6 0 14 0-6 0-28 0 6 0 16 0 6 0-11 0 19 0 2 0-4 1-12 0 10 0-9 0-21 0 38 0-12 0-27 0 23 1-3 0-9 0-6 0 30 1 19 0-12 0-12 0 20 0-22 0 5 0 13 0-44 0 30 0 18 1-44 0 49 0-22 0-13 0 16 0-20 0-17 0 19 0 10 1-4 0-18 0 21 0 3 0 15 0-49 0 37 0-17 1-13 0 38 0 8 0-5 0-13 0-19 0 16 0-3 0-13 0 4 0 24 0-34 0 40 0-30 0-25 1 25 0 41 0-44 0 21 0 8 0 13 0 4 0-13 0 11 1-5 0-37 0 8 0-2 0-1 0 28 0 15 0-40 0-7 0-15 0 36 0 13 0-16 1 17 0-12 0-27 0 55 0-10 0-27 0 19 0-23 0 9 0-13 1 6 0 0 0 8 0 22 0 16 0-62 0 47 0 14 0-16 0-25 0-13 1 44 0-34 0 14 0-26 0 11 0 26 0-27 0 29 0-34 1 49 0-52 0 18 0 13 0-2 0 9 0 13 0-39 0 4 0-22 0 11 0 22 1-9 0 5 0-32 0 17 0-5 0-19 0 35 0-7 0-27 0 0 0 11 0 5 0 22 0-31 1 36 0-42 0 24 0 3 0 12 0 1 0-8 0 25 1-22 0-8 0-3 0-23 0 33 0-6 0 28 0-8 0-8 0 14 0 8 0-5 0-38 1 11 0 17 0-35 0 5 0 37 0-11 0-7 0-18 0 8 1 33 0-56 0 32 0 3 0 0 0 2 0-36 0 56 0-50 0 2 1 55 0-36 0-10 0 0 0-7 0-8 0 16 0-11 1 48 0-16 0 1 0 8 0-31 0-3 0 17 0-12 0-5 1 28 0-42 0 11 0 2 0 6 0 15 1-1 0-38 0 18 0 15 0-31 0 27 0 26 0-21 0 1 1 4 0 1 0 13 0-27 0 0 0 27 0-31 0-4 0 14 0 5 0-7 0 4 0 19 0-24 1-16 0 19 0 30 0-3 0-21 0-12 0 2 0-8 0-20 0 33 0-14 0 17 1 10 0-12 0-21 0 16 0 31 0-43 0 8 0 32 0-62 0 12 0 50 1-36 0 28 0-31 0 21 0 15 0-24 0-5 0 22 0-43 0-6 0 11 0 14 1-25 0 34 0 12 0-20 0-13 0-18 1 33 0-34 0 49 0-32 0-4 0 30 1 6 0-15 0 4 0-7 0-1 0 34 0-29 0-7 0-15 0 29 0-3 0-4 1 3 0 2 0-15 0 21 0-11 0-26 0 10 0 3 0 47 0-49 0 9 0 22 0 12 0-5 0-41 0 42 1-35 0-6 0 11 0 5 0 14 0-2 0-21 0 18 0-7 0-24 1 32 0 6 0 2 0-16 0 27 0-20 0 14 0-34 0 32 0 12 1-40 0 36 0 0 0-33 0 36 0-55 0 36 0-14 0-36 0 35 0 23 0-44 1 39 0-8 0 12 0-41 0 5 0 34 0-15 0-24 0-9 0 29 0 5 0-38 0 14 1 31 0-10 0-23 0 49 0-57 0 6 0 41 0-18 0 8 1-3 0-20 0 1 0 7 0 17 0 0 0-19 0 32 0-20 1 0 0-22 0 22 0 30 0-40 0 26 0-4 0 15 0-31 1-8 0 2 0 5 0 23 0 15 0-2 0-29 0 2 0 12 0 5 0 19 0-48 0 13 0 2 0-23 0 28 0 7 1-22 0-15 0 18 0 28 0 0 0-49 0 41 0 20 0-41 0 3 0-13 0 42 0-38 0 29 1-25 0 16 0 20 0-30 0 6 0-36 0 25 0-15 0 19 0 12 1-11 0 30 0-42 0 27 0-17 0-2 0 14 0-30 0 27 0-16 0 0 0-4 0 11 0 9 0-13 0-16 1 45 0-9 0-7 0-13 0-6 0 47 0-42 0-5 0-3 0 19 1 14 0 8 0 4 0-36 0-4 0-2 0 21 0 15 0-22 0-29 0-4 0 19 0 31 0-41 1 5 0 36 0-1 0-2 0-23 0-19 0 5 0 33 0-26 0 35 1 131 0-162 0 4 0 15 0-13 0-14 0 36 0-48 1 126 0 74 0-71 0 31 0-31 0 13 0 53 1-29 0-5 0 20 0-44 0 20 0 8 0-13 1 36 0-35 0-21 0 5 0 42 0 8 0-13 0-47 0 1 0 4 0 18 1 27 0-29 0 0 0 34 0 3 0-17 0 23 0-17 0-11 0-38 1 65 0-38 0-12 0 19 0 24 1-10 0-23 0 31 0-31 0-20 0 42 0-5 0-15 0 24 0-50 1 25 0 44 0-63 0 59 0-36 0 21 0-14 0-33 0 10 0 18 1-18 0 11 0-10 0 15 0-14 0-10 0 45 0-47 0 5 1 52 0-60 0 35 0 24 0-31 0 26 0-6 1-17 0 36 0-39 0 29 0-52 0 59 0 0 0-3 0-12 1-43 0 22 0 22 0 14 0-35 0 29 0-49 0 10 0 14 0 10 1-15 0-12 0 22 0-30 0 31 0 20 0-11 0-11 0 12 0-18 1-10 0-22 0 31 0 11 0 7 0-43 0 32 0-2 0 31 0 7 1-50 0 18 0 7 0-4 0-42 0 10 0 1 0 15 0 3 0-22 0 53 0-44 0-16 1-2 0 36 0 22 0-52 0-3 0 38 0 1 0 18 0-14 1 14 0-7 0-16 0-19 0 34 0 6 0-27 0-1 0 11 0-14 1 17 0 11 0-55 0 71 0-56 0 52 0-24 0 11 1 2 0-44 0 33 0 2 0-25 0 7 0 10 0-13 1 21 0-37 0 2 0 45 0-26 0-7 0 38 0-37 0 17 0-25 1-14 0 38 0 9 0-36 0 16 0-16 0 60 1-25 0 8 0-41 0 22"/><path class="q" d="M803 397l0-29 0-139 1-4 0 24 0 54 0-100 0 148 0-160 0 118 1-70 0 29 0-58 0 137 0-33 1-88 0 46 0-22 0 23 1-32 0 82 0 2 0-99 0 66 0-38 0 20 0-36 0 80 0-50 0 29 0 12 1 7 0-4 0-21 0-16 0 7 0-7 0 49 0 122 1-223 0 17 0 40 0 13 0-59 0-12 0 10 0 69 0-14 0-1 0-64 0 135 0-71 1-24 0 50 0-16 1 54 0-199 0 115 0-39 0 109 1-39 0-69 0 118 0-107 0-1 0 112 0-19 0 13 0-42 0-66 0 85 1-34 0-3 0 70 0-6 0-78 0-62 0 78 0 118 0-195 0 248 0-212 1-3 0 12 0 62 0-35 0-51 0-6 0 6 1 158 0-121 0-12 0 50 0 2 0-80 1 45 1-9 0 49 0-8 0-85 0 27 0 60 0-55 0 115 1-113 0-57 0 26 0 36 0 47 0 16 0-53 0 19 0-61 0-33 1 73 0 100 0-31 0-47 0-8 0 10 1 7 0 10 0-79 0 25 0 22 0-48 1 33 0-37 0 40 0 4 0 77 0-94 0 67 0-12 0 62 0 8 0-74 0 56 0-167 1 151 0-26 0-64 0 44 0-39 0 7 0 36 0-61 1 25 0-57 0 117 0-71 0 49 1 5 0 2 0-113 0 9 0 37 0-38 0 12 0 98 0-63 1 59 0-29 0-12 0 61 0-127 0 86 0 37 0-13 0-7 0-81 0 0 0 137 0-49 1 23 0-51 0-26 0 28 0 33 0-22 0-47 0-28 0 123 0-124 1 86 0-73 0-28 0 14 0 36 0 20 0 8 1-31 0 43 0-19 0 23 0-13 0-4 0-27 1 90 0-127 0 90 0-72 0 67 0 7 1 0 0 10 0-54 0 4 0 34 0-61 0-17 0 89 0 36 0-62 0-22 0-29 1 84 0-37 0-17 0 79 0 21 1-106 0 144 0-149 0-1 0-36 0 64 0-38 0-20 1-4 4 66 0 25 0-18 0 19 0 80 0-98 1-123 0 45 0 82 0-2 0-61 0 4 0 65 1-55 0 81 0-149 0 131 0-68 1 15 0-43 0 15 0-7 0 68 0-32 0-13 0 56 1-17 0-50 0 10 0 78 0-49 0-67 0 109 0-7 1-43 0 54 0-25 0-38 0-5 0-29 0 96 0-39 0 100 1-141 0 22 0 37 0-19 0 3 0-45 0 37 0 42 1-51 0 134 0-153 0-24 0 43 0 42 0-2 0-48 0 35 1-34 0 25 0-36 0 49 0 14 0-82 0 99 0-22 1 20 0-81 0-12 0 56 1-13 0-12 0-28 0 10 0 57 0-57 0-28 0 40 0-19 0 32 0 19 1 36 0-102 0 48 0 12 0-26 0-33 1-15 0 69 0 30 0-11 0-38 0 72 0-55 0 10 0 135 1-154 0 41 0 15 0-54 0 69 0-86 0 99 1-47 0-70 0 61 0-72 0 25 0 60 0-63 1 75 0-29 0 10 0-17 0 37 1-102 0 132 0-55 0-44 0 52 0 1 0-30 0-2 0-42 0 42 0-56 1-15 0 35 0 25 0 76 0-85 1 15 0-10 0-34 0 59 0 14 0-48 1 34 0 12 0-10 0-10 0 4 0-29 0 78 0-75 0 38 0-44 1 65 0-35 0 83 0-37 0-31 0-40 0 52 0-22 0 38 0-53 1 193 0-217 0-4 0 107 0-22 0-63 0 29 1-31 0 62 0-36 0 3 0 29 0-68 1-32 0 76 0-60 0 14 0 28 0 32 0-30 0-20 0 3 1 60 0-61 0 40 0 92 1-97 0 16 0-79 0 81 0-30 0-38 0 140 1-147 0 84 0-122 0 32 0 49 0-30 0 44 0-80 0 69 0-82 0 102 0 60 1-53 0-54 0 145 0-157 0 28 0-39 0 41 0-51 0 138 0-74 0-28 1 20 0-27 0 12 0 47 0-16 0-54 0 32 0 6 0 14 1-8 0-3 0 16 0-27 0 21 0-13 0 16 0-40 0-31 0 154 0-80 1 14 0 8 0-95 0 63 0-76 0 40 0-21 0-17 0 20 1 27 0-34 0 68 0 64 0-44 0-23 1 11 0-47 0 17 0 48 0 6 0-44 0 2 0 4 1 74 0-82 0-37 0-48 0 63 0 25 0-93 0 24 0 74 0 49 0-17 1-102 0 154 0-62 0 56 0-92 0-52 0 2 1 95 0-29 0-49 0-34 0 215 0-162 0-43 0 112 0-37 1 64 0-43 0-57 0 7 0 9 1 17 0 32 0 2 0-93 0 5 0 61 0 10 0-13 1-61 0 86 0 56 0-138 0 71 1-67 0-53 0 135 0-57 1 7 0-19 0 42 0-92 0 38 0 24 0 80 0-115 0 59 1 37 0-88 0 27 0-23 0 19 0 62 0 89 0-198 0 64 0 25 1-2 0-122 0 105 0-41 0 72 1-136 0 162 0-12 0-67 0 125 0-115 0-25 0-65 0 48 1 41 0 5 0-39 0 63 0-78 0 33 0-2 1-43 0 11 0 26 0 63 0-27 0 65 0-144 0 83 0-21 0 50 1 29 0-56 0-54 0 100 0-59 0-12 0 7 0-90 0 77 0 34 0 39 1-74 0 31 0 0 0 49 0-68 0 116 1-70 0 2 0 11 0-104 1 7 0 52 0-61 0 102 0-50 0 25 0-92 0 15 0 74 1 25 0-70 0 48 0-55 0 28 1-2 0-39 0 125 0-105 0 84 1-100 0 34 0 47 0 20 0-155 0 46 0 100 1-47 0 21 0-13 0 43 0-68 0-33 0 115 0-39 1 80 0-84 0 36 0-72 0-39 0 38 0 24 0 13 0-2 0 22 0-63 1-50 0 100 0 63 0-53 0-98 0-10 0 94 1-19 0 14 0-47 0 22 0 50 0-23 0-39 0-2 1-10 0 29 0-15 0-46 0 103 0-91 0 65 1 11 0 50 0 35 0-126 0 0 1-89 0 272 0-142 0 9 0-10 0-49 0 36 0-18 0-67 1 120 0-24 0-93 0 5 0 90 0-55 1-22 0 59 0-34 0 57 0-4 0-69 1-1 0-1 0 87 0-20 0-43 0-64 0 47 1 34 0-4 0-52 0 93 0-92 0-32 0 67 0 0 1 85 0-102 0 0 0 113 0-124 0 184 0-13 1-31 0-156 0 0 0 76 0-22 0-38 0 188 0-153 1 10 0-57 0 50 0-29 0 89 0 39 0-79 0-60 0 36 0 11 0 12 0 33 0-57 1-59 0 138 0-67 0 13 0-21 0 23 0 17 0-96 0 205 1-212 0 79 0 15 0 19 0 3 0-64 0 8 0 59 0-69 0-6 0 72 0-94 1 44 0 15 0-22 0-39 0 75 0-27 0-75 0 106 1-79 0 110 0-23 0-84 0 98 1-31 0-23 0 41 0-27 0-15 0-28 0 55 0-59 1-19 0 90 0-131 0 154 1-151 0 194 0-49 0-103 1-13 0 73 0 38 0-70 0 35 0-18 0-48 0 97 0-113 0 82 1-2 0 107 0-146 0 24 1-21 0 164 0-118 0-6 0-6 0 3 0-19 0-7 0-5 0 31 0-42 0 0 1 21 0-25 0-27 0 89 1-25 0 34 0 17 0-80 0-26 0 58 1 109 0-59 0-40 0-20 0 102 0-96 0-19 0-2 1 1 0 22 0 14 0 20 0-81 0-20 0 65 0-3 0-32 0 13 0-33 1 102 0-108 0 59 0 25 0-79 1 171 0-144 0 98 0-18 1-64 0-9 0-58 0 87 0-41 0 61 1 140 0-221 0 38 0-24 0 68 0-18 0-14 1-26 0 101 0-20 0-37 0-76 0 47 0 18 1 30 0-85 0 78 0 66 0-79 0-29 0 67 1-129 0 50 0 53 0-9 0 25 0 0 1-14 0 1 0-1 0 30 0-51 0 92 0-80 0 6 0 41 0-4 0-59 0-28 0-24 0 90 1-1 0 6 0-41 0-50 0 105 0-7 1-24 0-47 0-15 0 31 0 30 0-206 0 244 0-2 0-108 0 146 1-129 0 47 0-56 0 116 0-41 0-16 0 8 0-78 0 20 0 49 1 5 0-67 0-17 0-8 0 107 0-92 0-3 0 87 0-57 1 38 0-88 0 102 0-73 0-17 0 89 0-62 0-29 0 59 1 67 0-74 0-20 0-52 0 137 0-59 0-4 0 35 0-32 1-33 0-27 0 7 0 31 0 25 0 28 0-12 1-39 0-22 0 51 0 7 0-62 0 30 0 56 0-117 0 57 0 70 0-78 0-8 0 137 1-131 0 19 0-22 0 55 0-31 1 40 0-81 0-6 0 71 0 84 0-166 0 92 0-78 0 8 0 5 0 93 0-66 1-38 0-2 0 28 0 113 0-43 0-45 0-3 0 102 0-84 0 52 0-41 0 60 0-68 0 16 0 44 1-28 0-30 0-17 0 15 0-46 0 62 0-144 0 121 0-34 0 60 0 15 1-23 0-54 0-9 0 22 1 115 0-47 0-43 0 73 0-50 1-60 0 40 0-35 0 102 0-41 0 23 0-14 0-33 0-1 1-22 0 96 0-87 0 13 0-55 0 92 0-14 1-92 0 94 0-32 0-59 0 86 1 0 0-60 0 78 0-44 0-83 0 102 0-15 0-19 1 8 0-59 0 15 0 45 0-9 0 4 0 33 0-9 0 19 1-50 0 146 0-106 0-98 0 76 0-16 0 27 1 24 0-51 0-21 0 8 0-36 0 119 0-114 0 67 1 86 0-33 0-114 0 30 0 88 0-95 0 26 1 20 0 18 0-77 0 56 0-103 1 121 0-55 0 38 0 39 0-39 0 1 0-22 1-6 0 46 0-81 0 37 0-4 1-30 0 13 0-30 0 80 0-6 0 43 0-117 0 72 1-47 0-37 0 67 0-42 0 18 0-4 0 56 1 65 0-24 0-114 0-4 0 54 0 5 1 41 0-127 0 118 0 0 0 10 0-8 0-25 0-24 0 0 0-14 1 38 0-13 0 3 0-47 0 4 0-1 0-8 0 135 0-96 0-29 1-34 0 95 0-7 0-65 0 27 0 2 0-66 0 27 0 85 1-61 0 9 0-8 0 52 1-3 0 17 0-67 0 49 0 10 0-71 0 100 1 16 0-77 0-1 0 60 0 7 0-71 0-6 0-43 0 177 0-83 1 1 0-51 1 65 0 61 0-87 0 12 0-16 0 102 0-97 0-70 0 80 1-93 0 89 0-62 0 14 0-25 0 142 0-68 0 24 1-52 0 28 0-33 0 50 0-62 1 60 0-50 0-45 0 67 0 113 0-121 1 16 0-1 0-93 0 139 0-133 0 60 0 74 0-120 1 17 0 30 0 91 0-93 1 8 0 50 0-94 0 43 0-49 1 12 0-27 0 134 0-39 1-45 0-43 0 27 0-25 0-6 0 201 1-140 0 26 0-81 0-12 0 100 0-28 1-3 0 22 0-68 0 34 0-47 0 71 0-3 0-6 0-4 1-70 0 21 0 71 0-15 0-45 1 59 0 68 0-120 0 153 0-178 0 25 0 70 0 51 0-80 1 7 0-95 0 34 0 59 0 67 0-174 1 64 0-9 0 53 0-15 0-28 0-41 0 87 1-8 0-57 0-11 0 29 1 58 0 78 0-95 0 32 0-21 0-46 0 17 0 45 0-33 0-2 1 39 0-38 0 42 0-4 0 49 0-127 0 85 0-26 1-40 0 38 0-13 0-18 0 74 0-137 1 9 0 132 0-148 0 94 0-16 1-71 0 172 0-47 0-95 0 75 0-30 0 3 0-66 0 13 1 83 0 12 0-122 0 20 0 76 1-77 0-26 0-13 0 64 0-2 0 70 0-58 0 0 1-41 0 91 0-27 0 40 0-80 0 26 1 76 0 67 0-99 0 0 0-65 1-35 0 18 0 19 0 22 0-17 1 41 0-63 0 61 0-66 0-10 0 56 0 91 0-64 0-42 0 53 1-10 0-42 0 17 0 40 1-55 0-43 0 88 0-59 0-3 0 92 0-46 0-47 0 4 0-41 0 28 0 2 1 33 0 13 0-46 0-19 1 83 0-41 0-17 0 13 0-28 0 91 0 67 0-137 0-51 0 141 0-97 1-31 0 95 0-5 0 18 0-53 0 12 0 31 0 48 0-56 0-15 0 118 1-144 0-7 0 9 0 84 0-121 0 12 0 78 0 17 0-71 0-36 1 12 0 100 0-92 0 29 0 74 0-106 1 18 0 49 0 43 0-47 0-35 0 40 0-6 0 48 0-87 0-44 0-18 0 89 0-49 1 64 0-42 0 33 0-7 0-13 0-74 0 106 0-88 0 41 1 10 0-16 0-47 0 110 0-74 0-39 0 41 0-13 0 1 1 85 0 28 0-125 0 63 1 24 0-23 0-25 0-42 0 95 0-45 0 57 0 11 0-43 0-52 0 64 0 27 0-27 1-29 0 12 0 62 0-98 0-36 0 80 0-2 0-72 0 64 1 73 0-79 0 27 0-90 0 1 1 91 0-41 0-24 0 36 0 87 0-99 0 76 0-27 0-100 0 100 0-8 1-49 0 72 0-45 0 10 0-13 0 25 0-11 0-35 1-33 0 3 0 25 0-33 0 73 0-77 0 53 1 58 0-62 0 19 0-77 0 111 0-109 0 45 0 0 1 118 0-82 0 73 0-13 0-96 0 61 0 16 0-22 0-34 0 40 1-56 0-52 0 6 0-8 1 31 0 35 0-27 0-29 0 111 0-9 0 11 0-65 0 41 0-8 1-65 0 14 0 54 0 8 0 20 0-64 1 12 0-19 0 54 0-98 1 68 0-41 0-14 0-33 0 58 0-8 0 7 0 12 0 14 0-16 0 33 0-48 0 78 1-51 0 47 0-14 0-50 0 70 0-112 0 117 0-33 0-98 1 97 0 0 0 31 0-72 0 23 0 6 0 11 1-2 0-54 0-36 0 27 0 10 0 30 1 44 0-47 0 13 0-34 0 90 0 26 0-110 0 6 0 2 0 43 0-29 1 18 0-35 0-13 0 59 0-83 0 129 1-104 0-6 0 128 0-71 0 17 0-44 0-35 1-6 0-11 0 61 0-70 0 70 0-8 0 138 0-129 0-1 0 96 1-129 0 75 0-27 0 10 0 1 0-29 0-24 1-6 0-59 0 83 0-60 0 42 0-6 0 40 0-18 0-30 0 32 0-75 0 105 0 39 1-52 0-34 0 58 0-33 0 64 0-66 0 50 0-23 1-46 0 28 0 57 0-117 0 18 0 24 0 4 1 56 0-156 0 40 0-9 0 137 0-41 1-52 0 133 0-126 0 99 0-44 1-101 0 98 0-78 0 54 0-50 0-22 1 105 0 2 0 29 0-69 0 10 0 79 0-60 1-33 0-9 0 32 0 53 0-55 0-52 0 95 0-57 0 11 0-29 1 28 0 49 0 94 0-87 0-19 0 47 0-127 0 60 0 67 1-99 0 45 0-89 0 29 0-39 0 80 0-40 0 23 0-46 0-17 0-7 0 127 0-82 1 48 0-66 0 29 0 27 0 61 0-115 1-39 0 97 0-57 0-28 0 49 0-35 0 98 0-52 0-55 1 47 0 89 0-103 0 44 0-71 1 62 0 8 0-42 0 45 1-20 0-63 0 48 0 11 0 113 0-107 0 81 1-37 0-58 0-36 0 140 0 25 1-219 0 148 0-124 0 79 0 72 0-46 0 0 0-76 0 11 1 73 0-128 0 42 0 89 0-52 0-36 0 86 1-43 0 89 0-113 0 29 0-30 0-42 0 82 0 17 0-78 0 54 0 32 0-12 1-93 0 22 0 39 0-32 0 125 0-10 1-63 0 46 0-51 0-80 0 88 1 8 0-25 0 83 0-60 0 7 0-97 0 7 0 183 0-68 1 24 0-138 0 66 0 23 0-2 0-25 0 29 0-28 0-5 0-50 1 35 0 14 0-48 0 81 0 11 0-12 0-17 0 6 0-3 0-55 0 41 0 37 0-42 0 5 0 24 1 85 0-90 0-32 0 36 0 21 0-79 0 37 0-76 0 41 1 58 0-118 0 101 1 30 0-73 0 34 0-52 0 91 0-94 0 56 0-54 1 38 0-17 0 129 0-18 0-146 0 72 0 69 0-39 0-24 1 3 0-109 0 86 0 8 0 13 0-20 0-47 0 55 0 11 0-28 0-22 1 47 0-25 0 45 0 54 0-124 0 47 0 11 0 11 0-137 1 180 0-97 0-25 0 67 0-46 0 40 0 46 1-75 0 83 0-32 0-52 0 147 0-8 0-167 0 109 0 27 0-52 0-30 0-63 1 72 0 17 0 3 0 34 0 19 0-108 0-28 0-7 0 171 1-74 0-18 0 51 0-76 0 41 0-59 0 27 0-61 0 45 0-8 1 50 0-37 0 12 0-92 0 71 0-22 0-12 0 90 0-32 0-70 1 12 0 38 0 14 0 9 0-65 0-3 1 107 1 91 0-197 0 141 0-146 0 12 0 95 0-116 0-15 0 131 0-88 0-10 1 71 0-41 0 74 0-124 1 89 0-54 0-42 0 43 0 92 0-106 0 85 0-58 0-39 1 50 0-3 0-24 0-85 0 127 0 21 0-9 0-80 1 95 0-14 0-45 0 31 0 87 0-91 1 56 0-37 1-26 0-48 0 102 0-33 0-66 0 11 0-5 0-29 1 114 0 31 0-21 0 4 0-74 0 114 1-92 0 21 0-14 0 8 0-10 0-85 0 124 0-130 0 152 0-100 1 48 0 30 0-18 0 92 0-183 0 31 0 19 0 54 0-61 0 6 1-1 0 60 0-98 0 21 0 18 0 27 0-80 0 34 0 3 1 57 0 11 0 9 0-25 0 5 1 3 0-8 0-98 0 96 0 6 0 1 0 1 0 38 0-72 1-56 0 73 0-18 0-41 0 55 0-60 0 22 0-3 1-16 0-19 0 102 0-58 0-21 0-42 0 74 0-15 0 3 0 11 1 10 0-57 0 35 0-7 0 11 0 152 0-162 0 8 0-15 0 27 1-21 0 34 0-42 0 67 0 62 0-120 0 46 0-42 0 54 0-11 1 2 0-74 0 68 0 10 0-1 0-67 0 53 0 52 0-119 0 16 0 41 0 49 0-28 0-61 0 65 0 157 0-189 1-52 0 51 0-64 0 73 0 4 1 9 0-75 0 0 0 179 0-129 0-7 0 19 0-53 0 94 1-26 0 23 0-63 0 82 0-73 0 38 0-38 1 6 0 4 0 115 0-133 0 59 0-62 0 24 0-6 1-4 0 58 0-136 0 103 0-61 0 26 0-14 1 108 0-99 0 29 0-41 1 53 0-113 0 60 0 76 0-37 0 9 0-5 1-43 0 21 0 38 0-20 0 25 0-13 0 34 1-105 0 125 0-54 0-11 0 32 0-35 0 0 1 32 0-118 0 115 0-40 0 10 0-59 0 147 0-91 0 120 0-153 1-51 0 133 0-48 0 49 0-69 0-33 0 180 1-86 0-61 0 51 0-26 0 16 0-35 0 49 0 14 0 12 0 3 0-22 1-103 0 37 0 12 0 8 0 27 0-12 0-34 1 41 0-64 0 35 0-10 0 35 0-12 1 33 0-161 0 150 0-74 0 54 0 17 0-20 0 12 1-66 0 75 0-14 0-67 1 77 0-46 0-2 0-20 0 88 0-59 0-20 0 25 0 60 1-47 0-61 0 158 0-165 0 14 1 76 0-9 0-19 0 40 0 52 0 4 0-54 0-62 0 31 1-19 0 51 0-113 0-6 0 63 0 58 1 66 0-79 0-6 0 13 0-65 0 24 0-17 1 13 0 35 0-22 0-65 0 23 0 20 0-12 0 51 0-22 0 46 1 17 0-2 0-22 0-28 1 10 0-6 0-11 0-26 0 21 0-44 1 60 0 127 0-194 0 72 0-30 0 37 0 8 0-89 1 72 0-26 0-36 0 75 0-72 0 38 1 40 0-72 0 17 0 52 1 61 0-91 0 25 0 11 0-21 0-7 0 34 1-52 0-50 0 1 0 91 0-43 0 43 0 89 1 12 0-194 0 133 0-33 0-84 0 78 0 4 0-66 0 62 0-87 1 27 0-26 0 125 0-53 0 63 0-68 0 94 0-75 1-1 0-1 0 20 0 6 0 15 0-1 0-36 0-78 0 191 0-199 0 29 1 35 0 64 0-45 0-55 0-27 0 114 0-108 0 112 0-41 1-89 0 48 0 31 0-61 0 63 1 9 0-71 0 22 0 31 1-45 0 63 0-2 0-35 0 10 0-35 0 86 1-138 0 85 0-61 0 62 0 31 0 14 0-9 1-19 0-24 0-3 0 61 0-23 0-2 0 76 0-60 0 64 1-94 0 34 0-15 0 35 0-21 0 29 0-91 1 45 0-31 0 47 0 27 0-88 0-9 0 16 1 107 0-113 0-38 0 71 0 31 4-100 0 42 0 116 0-53 0-6 1-20 0 4 0-5 0 73 0-122 0-17 0 109 1-83 0 23 0-8 0 20 0 24 0-5 0-3 0-23 0-31 1 19 0 136 0-117 0 45 0-79 0-80 0 40 1 18 0 66 0 0 0 40 1-93 0 19 0 11 0-25 0 59 0-40 1-2 0 65 0-55 0 61 0-42 0-37 0 7 0-40 0 13 0-7 0 1 0 28 0-23 0 40 0-29 1-26 0-1 0-8 0 89 0 1 0 40 0-63 0 26 0 19 0-24 0-11 0-7 0 83 1-163 0 48 0 48 0-12 0-31 0 73 0-179 0 173 0-54 1 66 0-30 0 3 0-80 0 206 0-137 0-51 0 62 1-44 0 123 0-45 0-58 0 90 0-120 0 22 0-25 0 21 0-86 1 22 0 29 0 100 0 64 1-140 0 112 0-119 0-14 0 19 0-31 0 7 0 63 0 32 1-84 0 19 0 32 0 51 0-120 0 97 0-45 0 7 1 36 0-25 0-112 0 76 0-48 0-1 0 65 0 14 1 27 0 12 0-101 0 56 0 4 0 26 0-111 0 2 0 97 0 31 0-52 1-23 0-29 0 63 0 12 0-104 1 22 0 55 0-30 0 67 0-25 0-93 0 78 0 21 0 7 0-63 0 25 0 13 0 39 1-4 0-28 0 21 1-62 0 70 0-65 0 9 0-14 0 64 0-59 1-18 0 26 0-33 0 16 0-23 0-7 0 132 0-78 0-23 1 41 0 117 0-173 0 93 0-1 0-74 0-26 1 95 0-57 1-41 0 71 0 1 0-30 0 20 0 6 0-14 0 45 0 70 0-105 1-11 0-44 0 96 0-79 0 34 0-127 0 117 1 108 0-81 0-40 1 16 0 40 0-77 0 106 0-9 0-110 0 122 1-51 0-141 0 148 0 14 0 86 0-198 0 46 1 23 0 63 0-3 0 1 0-60 0 32 0-78 1 24 0-29 0 42 0 89 0-81 0 186 0-209 1-12 0 112 1-42 0-73 1 5 0 61 0-23 0-1 1-62 0 78 0-23 0 60 0-23 0 1 1-82 0 59 0-27 0 51 0 4 0-8 0-39 0 42 0-85 1 57 0-29 0-31 0 91 0-59 0-52 0 105 0-64 1-19 0 82 0-42 0-16 1 61 0-4 0 24 0-5 0 11 0-52 0-44 0 60 0-42 0-53 0 91 1-35 0 40 0 15 0-54 0 72 1-75 0 97 0-76 0 71 0-107 1 78 0-30 0-20 0-10 0 12 0-52 0 50 0 43 0-15 0-71 0 86 0-74 0-79 0 170 0-60 0 42 1-20 0-31 0-48 1-28 0 49 0 68 0-16 0-37 0 58 0-28 0-6 0 29 0-56 1 12 0 65 0-59 0-6 0-10 0-19 0 61 0-70 1 106 0-7 0 28 0-7 0-124 0 60 0 73 0-82 0 93 0 70 0-208 0 11 0 201 1-153 0 44 0-97 0 72 0 25 0-64 0 1 0-1 0 12 0 5 0-34 1 40 0 1 0-13 0 38 0-10 0 24 0-60 0 20 1-80 0 22 0 39 0 8 1 43 0-17 0 2 0-44 0 39 0 31 0-13 0 4 0 15 0-78 0 62 0-13 0-62 1 45 0 34 0-10 0-29 0-49 0 3 0 20 0 72 1-98 0 80 0-53 0-47 0 10 1 121 0-29 0-92 0-10 1 101 0 2 0 5 0-7 0-77 0-3 0 82 1-60 0 54 0-60 0-13 0 37 0 0 0 20 1-62 0 81 0 21 0-69 0-29 0 70 0-31 0 12 0 27 1-7 0-31 0 26 0 17 1-91 0 72 0 17 0 27 0-10 0-105 0-27 0 82 0 30 1-66 0 24 0 49 0 6 0-20 0 20 0-84 0 24 0 11 0 64 0-53 0-62 0 63 1 16 0 43 0-83 0 64 0-139 1 195 0 3 0-73 0 44 1-113 0 24 0 48 0 36 0-124 1-30 0 39 0 39 0 110 0 7 0-136 0 18 0-16 0 31 0-3 1-8 0-55 0 42 0-30 0 32 0-37 0 78 0 58 0-25 0-34 1-64 0-13 0 90 0-25 0 9 0-30 0 36 0-53 0 27 0 27 1 7 0-94 0 38 0 34 0 39 0-74 0-19 1 24 0-3 0 68 0-79 1 47 0-64 0-12 0 134 0-139 0 193 0-160 0 6 0-35 0 107 1-98 0 62 0 19 0-90 0 34 0-22 0 13 1-30 0 17 0 5 0 32 0-14 0 63 1-75 0 40 0-65 0 28 0-31 0 90 0-54 0 17 1 6 0-39 0 42 0-33 0 23 0-41 1 10 0 107 0-19 0-15 0-49 0 68 1-108 0 45 0-15 1-43 0 70 0-26 0 11 1 47 0-104 0 31 0 19 0 92 0 56 1-145 0 66 0-66 0 10 0-16 1 4 0 50 0 16 0-17 0-5 0 22 1-61 0 5 0-13 0-59 0-2 0 135 0-6 0-41 1 12 0-62 0 88 0-43 0-22 0 83 0-112 0 81 1-94 0 94 0-72 0 79 0-92 0 105 0-33 0 62 0 38 1-114 0 55 0-30 0 9 0-37 0-5 0 6 0 47 0-86 0 8 0 63 1-17 0-19 0 128 0-109 0 11 0-6 0-71 0 21 1 41 0-52 0 78 0-38 0-49 0 78 0-1 0-56 0 22 0-24 0 84 1 15 0-35 0 5 0 5 0-3 0-22 0-13 1 70 0-125 0 104 0-27 0-12 0-2 0 88 0-5 1-130 0-15 0 77 0 50 0-45 0 15 0-97 0 192 0-121 0-77 1 30 0-4 0-27 0 87 0-28 0 11 0-33 0 58 0-85 0 79 0 25 0-63 1-51 0 27 0-5 0 11 0 125 0-118 0-22 1 78 0-69 0 74 0-55 0 3 0-3 1 44 0 18 0-93 0 88 0-98 0 81 0 85 0-84 0 14 0-19 0-30 0 32 0-14 0 12 1-26 0-45 0 14 0 48 0 20 0-39 0 25 0-38 0 17 1-46 0 16 0-5 0-20 0 57 0-24 0-23 0-3 0 82 0-48 1 47 0 62 0-79 0 133 0-146 1 2 0 32 0-6 0-49 0-39 0 87 0-87 0 62 0 15 0 39 0-70 0-36 1 48 0 45 0-86 0 37 0-27 0 68 0-118 0 83 0 42 0-42 1 8 0-39 0 49 0-117 0 119 0 12 0-51 0 54 0-145 1 116 0-55 0 46 0 0 0-34 0-12 0 46 0-5 0 33 0-51 0-9 0 51 1-47 0 91 0-98 1 49 0-36 0-11 0 66 0 9 1-22 0-48 0 50 0-73 0 95 0 59 0-145 0 113 0-58 0-52 0 80 1-94 0 48 0-75 0 39 0 14 0 86 0 4 0-127 0 41 0 39 0 3 1 29 0-38 0-41 0 13 0-17 0 73 0 36 0-40 0-38 0-16 0 10 0 14 0-5 0 38 0-85 0 33 0 123 1-129 0 19 0 19 0-28 0-16 0 116 0-119 1 64 0-71 0-44 0 42 0-29 0 69 0-25 0 37 0-54 0-11 0 41 1 37 0-70 0 103 0-54 0 27 0 10 0-65 0-27 0 66 0-21 1-13 0 30 0 27 0-37 0-54 0 105 0-25 0-108 0 85 0 4 1-18 0-43 0 90 0-47 0 61 0-97 0 26 1 49 0 23 0-116 1 81 0-93 0 168 0-141 0-12 1 86 0 26 0-53 0 168 0-250 0 101 0 53 0-38 1-92 0 52 0-51 1 133 0-39 0-1 0-22 0 0 0-17 0-17 0-49 1 75 0 58 0 24 0-56 0-114 0 62 1 3 0 65 0 53 0-156 0 18 0 5 1 4 0 44 0-66 0 90 0-49 1 34 0 8 0-89 0 46 0-14 0 13 0-4 0 147 1-89 0-48 0 4 0-21 0 5 1-5 0 35 0-18 0-13 0 44 0-86 0 2 0 3 0 146 1-105 0-6 0 12 0 20 0-48 0-2 1 19 0 25 0-6 0-58 0-21 0 30 0 120 0-81 0 3 0-15 0 62 1 12 0-27 0-8 0-3 0 50 1-61 0-16 0 62 0-125 0 142 0-92 0 0 1-23 0 70 0-104 0 108 0-115 0 47 0-18 1 104 0-61 0 23 0 13 0-25 0 66 0-157 0 120 0-8 0-24 0-35 1 44 0 13 0-30 0 116 0-94 0 80 0-114 0 61 1-49 0 19 0-13 0-58 0 83 0 0 0-15 0 63 1 47 0-51 0-30 0 2 0-30 0 7 0-33 1 30 0-8 0-17 0-40 0 34 0-26 0 86 0-90 0 12 0 99 1-111 0-5 0 42 1 14 0-41 0 65 0-35 0-30 0 66 0 125 1-211 0 149 0-107 0 38 0 68 1-118 0-27 0 83 0-39 0 62 1-18 0 11 0-114 0 110 1-3 0 15 0-10 0 38 1 99 0-199 0-72 0 46 0 70 0 41 0-133 1 157 0-134 0-11 0 41 0 25 1-59 0 64 0 11 0-51 0 62 0-86 1 64 0 27 0-122 0 135 0-24 0-77 0 58 0 40 0 62 1-110 0 29 0-40 0 73 0-50 0-33 0 22 0 18 0-64 0 7 1 88 0-65 0 45 0-25 0-25 0-53 0 111 1-35 0 42 0-75 0 6 0 42 0-16 1 33 0 97 0-208 0 67 0-56 1 37 0 104 0 47 0-123 0 26 0 8 0 41 0-26 1-13 0-62 0 79 0-84 0 109 0-161 1 92 0 6 0-20 0-19 0 62 1-98 0 237 0-98 0-195 0 124 0-73 0 95 1-1 0-55 0-8 0 52 0-64 0 30 0 25 1-90 0 119 0-66 0 139 0-72 0-8 1-62 0 125 0-94 0-55 0 5 0 185 0-112 0-27 0-43 0 121 1-68 0-17 0 97 0-48 0 28 0-107 0 78 0 5 0 9 0-151 1 73 0 16 0 100 0-185 0 89 1 90 0-127 0 26 0 6 0 94 0-66 0-26 0 1 0-10 0 20 1 24 0-93 0 135 0-133 0 23 0 55 1 29 0-54 0 62 0-87 0 145 0-92 0-72 0 30 1 55 0-17 0 22 0-94 0 102 0-16 1-30 0-63 0 38 0 27 0 21 0-14 0 4 0-14 0 59 0-46 0 1 0-21 0 70 1-57 0-51 0 18 0-16 0 75 0-50 1 49 0-55 0 117 0-149 0 112 0-75 1 26 0-75 0 27 0 6 0 79 0-16 0-29 0 15 0-42 0 67 0-77 0 72 0-107 0 58 0 141 0-109 1 22 0-97 0 136 0-85 0 90 0-121 0 46 0 122 0-122 0-9 0-37 1 46 0 60 0-92 0 45 0-30 0 25 0 3 0 27 0-37 0-36 1 50 0 27 0-28 0-1 0-28 0-31 0 140 1-77 0-61 0 68 0 38 0 6 0 98 0-165 0 71 0-95 1 69 0-36 0 21 0-32 1-21 0 100 0-49 0-10 0-31 0 80 0-92 0-23 0 35 0 50 0 82 0-45 1-91 0 39 0 6 0-42 0 73 0-30 0-65 0 38 0 40 0 63 0-74 0 28 0-70 1-50 0 137 0-75 0-1 0 17 0 6 0-115 0 97 0-66 1 35 0 18 0 6 0 19 0-30 0 55 1-19 0-67 0 102 0-139 0 54 0 6 0 0 0 41 0 60 0-168 0 86 0 18 1 18 0-49 0 14 0 5 0 86 0-111 0 21 0 29 0-5 0 9 0-48 0-24 0 4 0 43 1-72 0 50 0 44 0 30 0 5 0-119 0 20 1 2 0 109 0-131 0-11 0 82 0 24 0-115 1 17 0-4 0 95 0-26 1-76 0 75 0-54 0 154 0-155 1 77 0-6 0-76 0 210 0-107 0-92 0 48 0-12 0 53 0 21 1-123 0 43 0-54 0 77 0 6 1-75 0 47 0-4 0-60 0 102 1-53 0 68 0-9 0-42 0-60 0-6 0 133 0-81 0-2 0 29 0 59 0-104 0-12 1 24 0 89 0-100 0 32 0 55 1-39 0-34 0-21 0-7 0-45 0 131 0-83 0 145 0-122 0 63 0 7 1-87 0-10 1 36 0-29 0 5 0 21 0-11 1 115 0-130 0 205 0-62 0-57 0 15 0-63 0 1 0 1 1 3 0-35 1 78 0-28 0 18 0 85 0-76 0-50 1 95 0-32 0-18 0-9 0 9 0-61 0 45 0-64 0 81 0-82 1 55 0-8 0 23 0-8 0 47 0-30 0 28 0-79 0 46 1-22 0-65 0-37 1 60 0 109 0-90 0 55 0-44 0-40 1-8 0 54 0-29 0-23 0 2 0 89 1-3 0-21 0-8 0-74 0 26 0 88 0-83 0 73 0-82 1-53 0 156 0-110 1 173 0-121 0 7 0-38 0 41 0-51 0 62 0 32 1-71 0 113 0-107 0-2 0-46 0 58 0 87 0-47 1-43 0 73 0-126 0 50 0 54 1 2 0-80 0 19 0 50 0 4 0-16 0-11 0-69 0 85 1-38 0-53 0 133 0-104 0-21 0 85 0 56 0-112 0 47 0-64 0 58 0-48 1 25 0-23 0 72 0-97 0 126 0 42 0-154 0 71 0 0 0-2 0-19 0-60 1 35 0 26 0-94 0 40 0 61 0 110 0-210 0 69 1-32 0 98 0-16 0-52 0 39 0 96 0-107 0-30 1 12 0-48 0-13 0 27 0 8 0 111 0-83 0 11 0-20 0 53 1 56 0-177 0-13 0 170 0-41 0-12 0 122 1-144 0-15 0-17 0-37 0 162 0-124 0 64 0 18 1-14 0-1 0-27 0-36 0 62 0-8 1-102 0 56 0 23 0-49 1 33 0 29 0 10 0-57 0 55 0-74 1 5 0-13 0 6 0 118 0-31 0-27 0-15 1-4 0 103 1-100 0 125 0-66 1-75 0 13 0 33 0-11 0-8 0-1 0-10 0 31 0-6 0-5 0-40 0 37 1 61 0-35 0-51 0 74 0-46 0 25 0 63 0-53 0-10 1 28 0-26 0-38 0 40 0-109 0-17 0 89 0 167 0-141 0 18 0-43 0 45 1-48 0 42 0 0 0-112 0 61 1 55 0-48 0-41 0 33 0-37 1 89 0-54 0 42 1-12 0 11 0-24 0-5 0-23 0 82 0-92 0 67 0-77 1 184 0 36 0-94 0 98 0-125 0 111 0-48 0-33 1 49 0 39 0 13 0-96 0-10 0 68 0 41 1-27 0-79 0 13 0 75 0-95 0 55 0 11 0 26 1-54 0-44 0 9 0 0 0 90 0-50 0 55 0-50 1-83 0 91 0 4 1 29 0-82 0 50 0-3 0-29 1 43 0-60 0-19 0 116 0-129 0 27 0 52 0-4 1-88 0 119 0 22 0 0 0-43 0-61 0 1 0 45 0 26 0-71 0 6 0 32 1 33 0-8 0-15 1-30 0 72 0-17 0 2 0-77 0-71 0 77 0 62 0 37 0-16 1-18 0 15 0-80 0 105 0-60 0-23 0-5 0-18 0 50 0-47 0 95 1 9 0-51 0 4 0 41 0-21 0-112 0 129 1-114 0 18 0 92 0-41 1-156 0 72 0 17 0 36 0 61 0-28 0 33 0-63 1 6 0-53 0 109 0-83 0 4 1 14 0 14 0-33 0 80 0 7 1-69 0 8 0 63 0-10 0-57 0-45 0 13 0 86 0-100 0 126 0-65 0 63 0-39 0-24 1 44 0 24 0-16 0-47 1 26 0-47 0-40 0 63 0-79 0-34 0 106 1-35 0 91 0-101 0 35 0-34 1-13 0 126 0-138 0 77 0 59"/></g>
<g filter="url(#bl)">
<path class="v" d="M421.2 30.3V235.6M448.6 30.3V235.6M469.9 30.3V235.6M488.6 30.3V235.6M510.1 30.3V235.6M528.5 30.3V235.6M546.4 30.3V235.6M552.1 30.3V235.6M568.5 30.3V235.6M583.5 30.3V235.6M592.2 30.3V235.6M600.8 30.3V235.6M607.2 30.3V235.6M620.8 30.3V235.6M632 30.3V235.6M633.5 30.3V235.6M642 30.3V235.6M648.6 30.3V235.6M654.8 30.3V235.6M663 30.3V235.6M667.5 30.3V235.6"/>
<path class="v" d="M401.3 132.9H677.8"/>
<path class="o" style="stroke-width:2.5" d="M402.9 132.9H420.2M421.8 132.9H447.5M449.1 132.9H468.8M470.4 132.9H487.5M489.1 132.9H509.1M510.7 134.3H527.4M529 132.9H540.8M542.4 131.6H545.3M546.9 131.6H551.1M552.7 133.6H567.4M569 133.6H582.5M584.1 135H591.2M592.8 131.6H595.5M597 134.3H599.7M601.3 134.3H606.2M607.8 133.6H619.7M621.3 133.6H630.9M632.5 133.6H632.4M634 135.7H640.9M642.5 130.6H647.6M649.2 135.7H653.7M655.3 132.1H662M663.6 137.1H666.4M668 201.4H676.2"/>
<path class="o" style="stroke-width:2.2" d="M536.1 147.8h.3M560 146h.3M636.9 177.8h.3"/>
<rect class="f" x="401.3" y="30.3" width="276.5" height="205.3"/>
<path class="k" d="M401.3 30.3V235.6"/>
<path class="k" d="M398.5 30.3h2.8M398.5 64.5h2.8M398.5 98.7h2.8M398.5 132.9h2.8M398.5 167.2h2.8M398.5 201.4h2.8M398.5 235.6h2.8"/>
</g>
<path d="M519 27.6H524" stroke="#333" stroke-width="1"/>
<g filter="url(#bt)"><text class="t" x="394.9" y="32.8">1.5</text><text class="t" x="394.9" y="67">1.0</text><text class="t" x="394.9" y="101.2">0.5</text><text class="t" x="394.9" y="135.4">0.0</text><text class="t" x="394.9" y="169.7">−0.5</text><text class="t" x="394.9" y="203.9">−1.0</text><text class="t" x="394.9" y="238.1">−1.5</text><text class="x" transform="translate(410.5 247) rotate(-60)" y="2">chr1</text><text class="x" transform="translate(434 247) rotate(-60)" y="2">chr2</text><text class="x" transform="translate(458.3 247) rotate(-60)" y="2">chr3</text><text class="x" transform="translate(478.3 247) rotate(-60)" y="2">chr4</text><text class="x" transform="translate(498.5 247) rotate(-60)" y="2">chr5</text><text class="x" transform="translate(518.4 247) rotate(-60)" y="2">chr6</text><text class="x" transform="translate(536.5 247) rotate(-60)" y="2">chr7</text><text class="x" transform="translate(548.4 247) rotate(-60)" y="2">chr8</text><text class="x" transform="translate(559.4 247) rotate(-60)" y="2">chr9</text><text class="x" transform="translate(575.1 248.6) rotate(-60)" y="2">chr10</text><text class="x" transform="translate(587 248.6) rotate(-60)" y="2">chr11</text><text class="x" transform="translate(595.6 248.6) rotate(-60)" y="2">chr12</text><text class="x" transform="translate(603.1 248.6) rotate(-60)" y="2">chr13</text><text class="x" transform="translate(613.1 248.6) rotate(-60)" y="2">chr14</text><text class="x" transform="translate(625.5 248.6) rotate(-60)" y="2">chr15</text><text class="x" transform="translate(631.8 248.6) rotate(-60)" y="2">chr16</text><text class="x" transform="translate(636.8 248.6) rotate(-60)" y="2">chr17</text><text class="x" transform="translate(644.4 248.6) rotate(-60)" y="2">chr18</text><text class="x" transform="translate(650.8 248.6) rotate(-60)" y="2">chr19</text><text class="x" transform="translate(658 248.6) rotate(-60)" y="2">chr20</text><text class="x" transform="translate(664.4 248.6) rotate(-60)" y="2">chr22</text><text class="x" transform="translate(671.9 247.3) rotate(-60)" y="2">chrX</text><text class="yl" transform="translate(380 133.5) rotate(-90)">Copy ratio (log2)</text></g></g>
<g><linearGradient id="gBL" x1="0" y1="0" x2="0" y2="1"><stop offset="0.000" stop-color="#585858" stop-opacity="0.001"/><stop offset="0.036" stop-color="#585858" stop-opacity="0.002"/><stop offset="0.071" stop-color="#585858" stop-opacity="0.005"/><stop offset="0.107" stop-color="#585858" stop-opacity="0.010"/><stop offset="0.143" stop-color="#585858" stop-opacity="0.022"/><stop offset="0.179" stop-color="#585858" stop-opacity="0.042"/><stop offset="0.214" stop-color="#585858" stop-opacity="0.076"/><stop offset="0.250" stop-color="#585858" stop-opacity="0.129"/><stop offset="0.286" stop-color="#585858" stop-opacity="0.200"/><stop offset="0.321" stop-color="#585858" stop-opacity="0.286"/><stop offset="0.357" stop-color="#585858" stop-opacity="0.377"/><stop offset="0.393" stop-color="#585858" stop-opacity="0.460"/><stop offset="0.429" stop-color="#585858" stop-opacity="0.525"/><stop offset="0.464" stop-color="#585858" stop-opacity="0.566"/><stop offset="0.500" stop-color="#585858" stop-opacity="0.580"/><stop offset="0.536" stop-color="#585858" stop-opacity="0.567"/><stop offset="0.571" stop-color="#585858" stop-opacity="0.528"/><stop offset="0.607" stop-color="#585858" stop-opacity="0.464"/><stop offset="0.643" stop-color="#585858" stop-opacity="0.382"/><stop offset="0.679" stop-color="#585858" stop-opacity="0.292"/><stop offset="0.714" stop-color="#585858" stop-opacity="0.206"/><stop offset="0.750" stop-color="#585858" stop-opacity="0.135"/><stop offset="0.786" stop-color="#585858" stop-opacity="0.081"/><stop offset="0.821" stop-color="#585858" stop-opacity="0.046"/><stop offset="0.857" stop-color="#585858" stop-opacity="0.025"/><stop offset="0.893" stop-color="#585858" stop-opacity="0.013"/><stop offset="0.929" stop-color="#585858" stop-opacity="0.006"/><stop offset="0.964" stop-color="#585858" stop-opacity="0.003"/><stop offset="1.000" stop-color="#585858" stop-opacity="0.002"/></linearGradient>
<clipPath id="cBL"><rect x="52.6" y="295.6" width="276.5" height="205.8"/></clipPath>
<g clip-path="url(#cBL)" fill="url(#gBL)">
<rect x="52.6" y="348.3" width="11.5" height="60.7"/>
<rect x="64.1" y="356.6" width="3.4" height="60.7"/>
<rect x="69.7" y="356.6" width="2.4" height="60.7"/>
<rect x="72.1" y="352.8" width="11.5" height="60.7"/>
<rect x="83.6" y="371.5" width="5" height="60.7"/>
<rect x="88.6" y="353.7" width="11" height="60.7"/>
<rect x="99.6" y="369.3" width="4.5" height="60.7"/>
<rect x="104.1" y="389.9" width="3.5" height="60.7"/>
<rect x="107.6" y="368" width="13.5" height="60.7"/>
<rect x="121.1" y="354.3" width="6.5" height="60.7"/>
<rect x="127.6" y="367.4" width="12" height="60.7"/>
<rect x="139.6" y="332.5" width="5" height="60.7"/>
<rect x="144.6" y="366.7" width="6.5" height="60.7"/>
<rect x="151.1" y="371.8" width="10" height="60.7"/>
<rect x="161.1" y="356" width="6.5" height="60.7"/>
<rect x="167.6" y="368" width="12" height="60.7"/>
<rect x="179.6" y="353.7" width="12.5" height="60.7"/>
<rect x="192.1" y="338.5" width="5.5" height="60.7"/>
<rect x="197.6" y="332.5" width="5.5" height="60.7"/>
<rect x="203.1" y="370.3" width="3" height="60.7"/>
<rect x="206.1" y="357.4" width="2.7" height="60.7"/>
<rect x="210.9" y="372.1" width="8.7" height="60.7"/>
<rect x="219.6" y="391.8" width="2" height="60.7"/>
<rect x="221.6" y="387.3" width="2" height="60.7"/>
<rect x="223.6" y="370.3" width="2" height="60.7"/>
<rect x="225.6" y="340.7" width="9" height="60.7"/>
<rect x="234.6" y="353" width="8.5" height="60.7"/>
<rect x="243.1" y="370.9" width="3.5" height="60.7"/>
<rect x="246.6" y="340.4" width="5" height="60.7"/>
<rect x="251.6" y="390.8" width="6.5" height="60.7"/>
<rect x="258.1" y="356.7" width="5" height="60.7"/>
<rect x="263.1" y="367.2" width="4" height="60.7"/>
<rect x="267.1" y="343.3" width="4.5" height="60.7"/>
<rect x="271.6" y="357.2" width="3" height="60.7"/>
<rect x="274.6" y="370.2" width="3.5" height="60.7"/>
<rect x="278.1" y="356" width="6" height="60.7"/>
<rect x="284.1" y="358.2" width="4.5" height="60.7"/>
<rect x="288.6" y="340.4" width="4.5" height="60.7"/>
<rect x="293.1" y="351.5" width="6.5" height="60.7"/>
<rect x="299.6" y="367.9" width="6" height="60.7"/>
<rect x="305.6" y="356" width="10" height="60.7"/>
<rect x="315.6" y="414.3" width="5" height="60.7"/>
<rect x="320.6" y="393.4" width="3.5" height="60.7"/>
<rect x="324.1" y="406.7" width="0.5" height="60.7"/>
<rect x="324.6" y="396.5" width="4.5" height="60.7"/>
</g>
<g filter="url(#bp)" transform="scale(.5)"><path class="p" d="M106 722l0 44 0-8 0 6 0-4 0 3 0 5 0-10 0-4 1-16 0-16 0 9 0 23 0-33 0-2 0 25 0 40 0-25 0 19 0-28 0 15 0 12 0-37 1 26 0-2 0 10 0-51 0 51 0-50 0 21 0 3 0 10 0-4 0 29 0-53 0 44 0-39 0 10 0-18 1 29 0 7 0-28 0 57 0-31 0 6 0-25 0 37 0-33 0 26 0 14 1-46 0-16 0 25 0 21 0-27 0 34 0 0 0-8 0-14 0 32 0-56 1 28 0-8 0 31 0-50 0 23 0 16 0-38 0 46 0 2 0-24 0 22 0-28 0-29 0 13 1 7 0 23 0-10 1-11 0 30 0-8 0-39 0 17 0 9 0 3 0-2 0-16 0 34 0 1 0 14 0-44 0 9 0 32 1-36 0 38 0-36 0 13 0 26 0-32 0 20 0-7 0-46 0 28 1-7 0 22 0-15 0-11 0-5 0 6 0 19 0-41 0 17 0 9 0-2 0 2 0-9 0 8 0 13 0-25 0 13 1 13 0 18 0-19 0-2 0 5 0 21 0-29 0 9 0-4 0-36 0 18 0 21 0 12 0-26 1 10 0-19 0 15 0-16 0 50 0-39 0 10 0 18 0-16 0 11 0-5 0-1 0-22 0 34 0 8 0-33 0 12 0 20 0-20 0 17 1 10 0-16 0-19 0-20 0 6 0 11 0-11 0 34 0-33 0-7 0 24 0 18 0-45 0 37 0 13 1-37 0-18 0 37 0 0 0 9 0-11 0-8 0 27 0-56 1 35 0-6 0 19 0 2 0-20 0 5 0-41 0 17 1 49 0-11 0-11 0-1 0 13 0 1 0-49 0 34 0-24 0 44 1-10 0 22 0-51 0 27 0-4 0 13 0-28 0 4 0-13 0 15 0-19 0 40 1-12 0 11 0-51 0 22 0 19 0 18 0-36 0-13 0 33 0 7 0 16 0-54 0 33 0-14 0-4 0-12 1 7 0 43 0-52 0-6 0 58 0-55 0 7 0 12 0 1 0 4 0-27 0 44 0-11 0 1 0-10 0-13 0 1 0-2 1 37 0-5 0-19 0-18 0-8 1 36 0-15 0-13 0-2 0 44 0-48 0 12 0 52 0-65 0-7 0 23 0-26 0 51 0-20 0 7 1 2 0-18 0 9 0 17 0-46 0 49 0-28 0 8 0 23 0-24 0 2 1-16 0 39 0 1 0-42 0 26 0-16 0 16 0 5 1 31 0-16 0-35 0 16 0-18 0 28 0-17 0 25 0 11 0-41 0 57 0-52 1 2 0 6 0 14 0-25 0 51 0-4 0-58 0 42 0-43 0 27 0-7 0 10 0 4 1-4 0 26 0-7 0-41 0 37 0 22 0-56 0 13 0-7 0 10 0 38 0-29 0 20 1-23 0-3 0-4 0 3 0-14 1 24 0 5 0-23 0 10 0-18 0 19 0 0 0-14 0-18 0 29 0-8 1 22 0 4 0-9 0-26 0 4 0 14 0-4 0 16 0-28 0 32 0-34 0 20 0 6 0 21 0-28 0 38 1-27 0-14 0 9 0-1 0 4 0-21 0-8 0 25 1 18 0-37 2 5 1-3 0 0 1 38 0-29 0 25 0-15 0 23 0-31 0 9 0 15 0-18 0 21 1-35 0 17 0-18 0 18 0 16 0-44 0 52 0-51 0 36 0 14 1-33 0-6 0-22 0 32 0-36 0 29 0-29 0 35 0-17 1 23 0-14 0 37 0-59 0 19 0-11 0 15 0 26 0-11 0 24 1 0 0-28 0-32 0 62 0-15 0-5 0-20 0 9 0-22 0 33 1-36 0 17 0 16 0-37 0 31 0-20 1-16 0 28 0-27 0 23 0 27 0-23 0 26 0-10 0-26 0 0 1 7 0 13 0-31 0 19 0-7 0-28 0 13 0 24 0 8 0 16 1-30 0-33 0 66 0-43 0 30 0 10 0-21 0-5 0-23 0 40 0-29 1 23 0-28 0 22 0 2 0-3 0-6 0-2 0-10 0-2 0 24 0 9 0-8 0-18 1 19 0 1 0 15 0-19 0-29 0 18 0 16 0-3 0-37 0 46 0-38 1 19 0-8 0 15 0-18 0 23 0-23 0 34 0-8 0-7 0-8 0 4 0-2 0-9 0 30 0-6 1-17 0-1 0 15 0-24 0-10 0 33 0 13 0-31 0-11 0 40 1-40 0 16 0-9 0 19 0-14 0 7 0-39 0 31 0-28 0 17 0-16 0 7 0 26 1-23 0 29 0 1 0-15 0 12 0-19 0-6 0-10 0 4 0 1 1 8 0 10 0 31 0-27 0 23 0 6 0-31 0 5 0-9 0-11 0 30 0-40 0 33 0-17 0 31 0-31 0 25 1 5 0-42 0 56 0-6 0-27 0 19 0-16 1 29 0-26 0 6 0 18 0-4 0-38 0 9 0 6 0 20 0-40 0 6 0 23 0-29 0 16 1 38 0-35 0 9 0-7 0 19 0-28 0-20 0 34 0 9 0-23 0-6 0 35 0-41 0 21 0 2 0 31 0-15 0 6 0-10 0 14 0-49 1 51 0-39 0 18 0 12 0 2 0-23 0-11 0-13 0 17 0 7 0 30 0-41 0 21 0-18 0 4 0 12 0-24 1 15 0 26 0-53 0 31 0-5 1 20 0 0 0-39 0 39 0-16 0 2 0 24 0 5 0-24 0-34 0 16 0-2 0-4 0 9 0-1 0 6 1 7 0 1 0 8 0 16 0-27 0 10 0-5 0 8 0-2 0-22 0-2 0-3 0 2 1 29 0-7 0-3 0-18 0 15 0-8 0-12 1-6 0 41 0-13 0-38 0 56 0-21 0-7 0 3 0 16 0-25 0-10 0 4 0 3 0-18 0 1 0 12 1 22 0 11 0 9 0 0 0-24 0 19 0 4 0-8 0-12 0-28 0 21 0-34 0 42 0-2 0-4 1-14 0-15 0 39 0-12 0-5 0-9 0 44 0-52 0 37 0-9 0 0 0 8 0-10 0 15 1-42 0 69 0-43 0 31 0-32 0-17 0 50 0-34 0 23 0-58 0 18 0 27 0 17 0 10 0-75 0 10 0 56 1-20 0 11 0-38 0 4 0 40 0 4 0-44 0 37 0-1 0-27 0-11 0 60 0-36 0 18 0-15 0-8 1 66 0-29 0 30 0-64 0 35 0 1 0-6 0 34 0-47 0 51 1-45 0-14 0-4 0 43 0-36 0 7 0-9 0-14 0 20 0 9 0 14 0 7 0-5 0-14 0-5 0-18 0 32 0 25 0-2 0-35 0-12 1 56 0-36 0-27 0 65 0-12 0-16 0-4 0 10 1-2 0-39 0 17 0-13 0 3 0 24 0 26 0-19 0-5 0-7 0 2 0 15 1-17 0-12 0 22 0-1 0 20 0-33 0 0 0 34 0-27 0-6 0-1 0 8 1 6 0 0 0-11 0-1 0 11 0-19 0-3 0 3 0 14 0-4 0 1 0 8 0-33 1 15 0 2 0-8 0 0 0 21 0 20 0 5 0-26 0 13 0-21 0 9 0-6 0 5 0 22 0-19 0 1 0-36 1 36 0-5 0-32 0 30 0 8 0-4 0 0 1 14 0-21 0 8 0-10 0 18 0-15 0 11 0-28 0 22 0 0 1-41 0 21 0-46 0 43 0-15 0-16 0 30 0-30 0 13 0 2 0 4 0-16 0 47 0-31 1-4 0 29 0-26 0 0 0 6 0-8 0-29 0 35 0 10 0 9 0-16 1-28 0 16 0 33 0-18 0-28 0-6 0 7 0-4 0 10 0 2 0 28 0-33 1 13 0 22 0-19 0-20 0-20 0 39 0-31 0 11 0-1 0 18 0-4 0 12 0-13 0 8 0-28 0 2 0 15 0 9 0 16 0-1 0-34 1 4 0 9 0-29 0 29 0-15 0 13 0 23 0-5 0 20 0-28 1 0 0-1 0 8 0-4 0-3 0-15 1 9 0-30 0 39 0-3 0-3 0 7 0 7 0 21 0-21 1-17 0-28 0 28 0 4 0 2 0 7 0-29 0-6 0-1 0 41 0-22 0-6 0 12 0 21 0-40 0 44 1-5 0-17 0 30 0-22 0 1 0 3 0-5 0-40 0 38 0 8 0-18 0-24 0 5 0 23 1-20 0 25 0 1 0-37 0 19 0-27 0 43 0 27 0-22 0-1 1-45 0 51 0-28 0 10 0 22 0-18 0-2 0-34 0 32 0-15 0 12 0-22 0 54 0-14 0-27 1 21 0 15 0 9 0-45 0 4 0 8 0-28 0 10 0 22 0-8 0 2 0-20 1-2 0 1 0 34 0 3 0-31 0 13 0-2 0 32 0-33 0-14 0-11 0 53 0 9 0-13 0-13 0 10 1-13 0 17 0-18 0-10 0 5 0 17 0 4 0 18 0-36 0-13 0 25 1-10 0 28 0-12 0-15 0 5 0-6 0 0 0-5 0 18 0-19 0 23 0-36 0-2 0 49 0-6 1-4 0-16 0-4 0 3 0-28 0 14 0-6 0 42 0-59 0 48 1 2 0 5 0-6 0-28 0 5 0-13 0 43 0-31 0 12 1 16 0-31 0 11 0 2 0 9 0 5 0-2 0-16 0 13 0 4 0-35 0 21 0 26 0-55 0 35 0 22 0-37 0 44 1-44 0 21 0 4 0 10 0-28 0 3 1 10 0 9 0-24 0-13 0 33 0-27 0 24 0-9 0 8 0 22 0-58 0 16 0 16 0 10 1-39 0 30 0-26 0 34 0-24 0-1 0 9 0 9 0-1 0-21 0 14 0-20 0 1 1 11 0 13 0 20 0-39 0-13 0 34 0-16 0 11 0 47 0 20 0-90 0 22 0 36 0-35 1 28 0 2 0 14 0-13 0 3 0 25 0-31 0-27 0 13 0 6 0 16 0 10 0-11 0 5 0-9 0 7 0-31 0 47 0-15 1-9 0-1 0-16 0 24 0-16 0 24 0-33 0 5 0-19 0 14 0 15 0-17 1 46 0-22 0 13 0-48 0 26 0-27 0 35 0 12 0-9 0-39 0 50 0 3 1-19 0 14 0-16 0 13 0-17 0 27 0-27 0 34 0-27 0-32 0-1 0 46 1-22 0-20 0 35 0-3 0-6 0 34 0-19 0-25 0 21 0-6 0-38 0 46 0-14 0-23 1 20 0 18 0-25 0 28 0-45 0 32 0 0 0 15 0-15 0 10 0-23 0 8 0 2 0-3 0 16 0-35 1 27 0-9 0-15 0 45 0-29 0-13 0-21 0 46 0-31 0 34 0-14 0 10 0 5 0-29 0 20 0-14 0-28 1 46 0 12 0 8 0-46 0 27 1-30 0-5 0 26 0 37 0-39 0 8 0 5 0-5 0 62 0-62 1 13 0-30 0 68 0-39 0-26 0 53 0-73 1 51 0 1 0 23 0-23 0-15 0 17 0-37 0 38 0-55 0 33 0-28 0 77 1-3 0 3 0 9 0-15 0-13 0 9 1 5 0-30 0 28 0 1 0 12 0-30 0 20 0 6 0 1 0-51 0 67 0-5 0-39 0 14 0 3 1-20 0 36 0-13 0 4 0-42 0 4 0 41 0 23 0-5 0-30 0 24 0-58 0 42 0-13 0 2 0 18 0-47 0-2 0 48 0-19 1 15 0 12 0-42 0-3 0 11 0-13 0 13 0 1 0-6 0-13 0 45 1-48 0 46 0-22 0 11 0-19 0 30 0-27 0 0 1 9 0-12 0-31 0 48 0-39 0-13 0 21 0 57 1-74 0 21 0-23 0 32 0-48 0 19 1-23 0 20 0-9 0-6 0 3 0-14 0 23 0-21 0 36 0 4 0-13 0 23 1-31 0 0 0-3 0-2 0 20 0-1 0-31 0 55 0-45 0 28 0-16 0 15 0-22 0 6 0 38 0-54 0 26 0-21 1-3 0 21 0 18 0-35 0-9 0 42 0-29 0-3 1 43 0-48 0 44 0-20 0 22 0-24 0 19 0-32 0-15 0 29 0 21 0-17 0 5 0-7 1-23 0 38 0-60 0 55 0-13 0 18 0-39 0 9 0-17 0 47 0-26 0 6 0 6 0 8 1-4 0-11 0 26 0-18 0 16 0 2 0-40 0 37 0-17 0-13 0 15 0-2 0-25 0 24 0 18 1-7 0-16 0-17 0 11 0 32 0-44 0 35 0-24 0-11 0 7 0-6 1 41 0-12 0-32 0 57 0-22 0 6 0-16 0-27 0 4 0 36 0-9 0-10 0 25 0-15 0 8 1 0 0-48 0 38 0-7 0 12 0-3 0 3 0-31 0 12 0-11 0-4 0 7 0 2 0 29 1-7 0-17 0 14 0-33 0 1 0 27 0 14 0-9 1-4 0 5 0-7 0 9 0-17 0 2 0-1 0-8 0 2 0 38 0-12 1 6 0-3 0-7 0-17 0-24 0 43 0-22 0 13 0-27 0 31 1 17 0-27 0 4 0 8 0-12 0-14 0 29 0-21 0 10 0-3 0-15 0 18 0 1 0 8 0 14 1-30 0 15 0-6 0-34 0 40 0-30 0 31 0-21 0 8 0-30 0 64 0-51 0-6 0 61 0-16 1-23 0-26 0 1 0 21 0-19 0 36 0-19 0 18 0 2 1-18 0 1 0 21 0-17 0-24 0 24 0-10 0 46 0-31 0-12 0-14 0 31 0 18 0-29 1 23 0-31 0-6 0 9 0 24 0-42 0 14 0 9 0 21 0-54 1 45 0-35 0 42 0-20 0-2 0 36 1-22 0-10 0 0 0 13 0-41 0 26 0 27 0-41 1 29 0-23 0 11 0 10 0-37 0 24 0-12 0-4 0-7 0 47 1-9 0-47 0 0 0 34 0 17 0-45 0 32 0 12 1 11 0-51 0 54 0-34 0 22 0-5 0 22 0-57 0-4 0 41 0 2 0-31 0 17 0-6 1 14 0 24 0-18 0-34 0 9 0 36 0-43 0 31 0-21 0-14 0 16 0 21 1-7 0-24 0 30 0-20 0 9 0 8 0-31 0 1 0-6 0 37 0-20 0-9 0-6 0 25 0-27 1 27 0-20 0-14 0 36 0-9 0-27 0 18 0-16 0-9 0 41 0-4 0-7 0-48 0 32 0-7 0-19 1 21 0 17 0-36 0 4 0 15 0-29 0 48 0 15 0-22 0-11 0-26 1 46 0-10 0 13 0-6 0-32 0 23 0 13 0-10 0 10 0-41 0 42 0-36 0 36 0-51 0 29 1-12 0-24 0 29 0 11 0-34 0 34 0-14 0 40 0-23 0-6 0 13 0 1 0-12 0 22 0 0 1-1 0 4 0-24 0 8 0 0 0-12 0 7 0-23 0 34 0-9 0-37 1 38 0 12 0-37 0 13 0 17 0 4 0-9 0 10 0-15 0-17 0 10 0 0 0 25 1-14 0 29 0-26 0 2 0 17 0-36 0 25 0-43 0 23 0-1 0-14 0 29 0 6 0-2 0 4 1-18 0 11 0-5 0 8 0-18 0 7 0-3 0 12 0 10 1 8 0-47 0 8 0-19 0 39 0-12 0 1 0 20 0-29 0 13 0-29 0 25 0-5 0 16 0-30 0 13 1-12 0 26 0-25 0 9 0 13 0-5 0-28 0 8 0-4 0-2 1 54 0-15 0-27 0 16 0-31 0 15 0 18 0-36 0 2 0 18 0 7 0-8 0 41 0-45 1 46 0-37 0-7 0 22 0-30 0 23 0-16 0 14 0-14 1-18 0 30 0 12 0-34 0 32 0 4 0-14 0-16 0 20 0 20 0-10 0-17 1 32 0-37 0 14 0-39 0 22 0 33 0-51 0 29 0 33 0-42 1-1 0 50 0-33 0-23 0 53 0-14 0-23 0-10 0 37 0-23 0-6 0 13 0-3 0-8 0-4 1 5 0-15 0 24 0 51 0-46 0 20 0-64 0 22 0 42 0 2 0-42 0 31 0 10 0-39 1 29 0 11 0-4 0 20 0-60 0 72 0-12 0-74 0 56 0-1 0-44 0 2 0-25 0 44 0 28 0 6 0-45 0 21 1 11 0-3 0-9 0 29 0-19 0-54 0 32 0-30 0 21 0 18 0-19 0 18 0 16 0-39 0 52 1-43 0 3 0 11 0-32 0 34 0 16 0-11 0-30 0 43 0-30 1 13 0 38 0-31 0 1 0 17 0 11 0-13 0-7 0 1 0-40 0 0 0 8 0 37 0-7 0 13 1-33 0 21 0 0 0-12 0-2 0 15 0-41 0 11 0 32 1 2 0-10 0-9 0-16 0 51 0-21 0-22 0 37 0-21 0-11 0 9 0-21 0 39 0-12 0 4 0-22 1 21 0 27 0-29 0 4 0-18 0 1 0 12 0-28 0 4 0 0 0-5 0 54 0-17 0-15 1-33 0 21 0 31 0-25 0 0 0 13 0-8 0-7 0 20 0 1 0 1 0 10 0-25 1 4 0-31 0 35 0 20 0-54 0 39 0-20 0 21 0-2 0-1 0-21 0 2 0-11 0-7 0 33 0 18 0-25 0 3 1 14 0-26 0-8 0 4 0 17 0-37 0 53 0-30 0 18 0-26 0 49 0-10 0-9 0-12 0 19 1 8 0-13 0 4 0 6 0 1 0-54 0 48 0-33 0-1 0 36 0-31 0 31 0-29 0 34 0 2 1-38 0-12 0 51 0-25 0 14 0-29 0-15 0-3 0 16 0 11 0 31 0-8 0-35 0 28 0-24 0 19 0 32 0-44 0 34 0-43 1 1 0 10 0 17 0-11 0 7 0-17 0 16 0 8 0-29 0-22 0 58 0 0 0-7 0-25 1 30 0-37 0 30 0-6 0-12 0 35 0-31 0-16 1-7 0 44 0-6 0-43 0 34 0 9 0-2 0 18 0-36 0-9 0-1 0 28 0 1 0-29 0 6 0-25 1 34 0-11 0-6 0 7 0 41 0-23 0 15 0-57 0 23 0 12 0-2 0 24 0-12 0-31 0 50 1-32 0 12 0 18 0-59 0 33 0 4 0 26 0-66 0 0 0 8 0 23 0 24 0-42 0-8 0 32 0 34 0-9 0-47 0 9 0 36 0-39 0 9 0 39 0-31 0-28 1 31 0-26 0-5 0 27 0 9 0-20 0-5 0 7 0 2 0-20 0 9 0 46 1-35 0 14 0-22 0 6 0 14 0 20 0-37 0 17 0 13 0 1 0-33 0-16 0 40 0-22 0-2 0 9 1 6 0-3 0-27 0 32 0-24 0 37 0-6 0 6 0-9 0 5 0 2 0-31 0 26 0-38 0-7 0 55 1-2 0-46 0 6 0 35 0-23 0-16 0 36 0-13 0 27 0-33 0 9 0 10 0-24 0 14 1-11 0-16 0 16 0-17 0 23 0 12 0 5 0-1 0-48 0 53 0 1 0-63 0-45 1 16 0-29 0 30 0-34 0 67 0-41 0 1 0 23 0-2 0 6 0 2 0-17 0-5 0 29 0-63 0 30 0 17 0-22 1 17 0-6 0 3 0 5 0-45 0 1 0 23 0 2 0-2 0 13 0 4 0-19 0 16 0-4 0-8 0 24 0-6 0-28 0 17 0 1 1-4 0-12 0 28 0-22 0 47 0-37 0-9 0 28 0 7 0-61 0 41 0-9 0 28 0 8 0-20 0-28 1 17 0-26 0 47 0-27 0 37 0-44 0 44 0-42 0 5 0-6 0 12 0 14 1-33 0 25 0-2 0 23 0-20 0 11 0-44 0 18 0-26 0 32 0 4 0-11 1 38 0-19 0-18 0 29 0-36 0-15 0 39 0-11 0-1 0-15 0 36 0-46 0-2 0 7 0 1 0 18 0 39 0-33 1 25 0-35 0 10 0 25 0-27 0-2 0 13 0 14 0-61 0 18 0 8 0-10 0 22 0-13 0 5 0 5 0-34 1 62 0-15 0 17 0-54 0 15 0-8 0-7 0 43 0-9 0 30 0-31 0 28 1-62 0 53 0-8 0 13 0-25 0 14 0-34 0 39 0-8 0 6 0-14 0 7 0-25 1 32 0 12 0 12 0-58 0 71 0-72 0-8 0 21 0-4 0 18 0-5 0 24 0-63 0 83 1-62 0 44 0-47 0-5 0 32 0-19 0 81 0-90 0-13 0 26 0 57 0-61 0 84 0-91 0 23 0-30 0 20 1-5 0-10 0-12 0 33 0 13 0 41 0-56 0 34 0 13 0 31 0-116 0 100 1-68 0-36 0 121 0-66 0 43 0-48 0-4 0 61 0-14 0-51 0 65 0-74 1 86 0-11 0 10 0-5 0-22 0 20 0-15 0-25 0 15 0 6 0 3 0 26 0 3 1-7 0-16 0 4 0-9 0 0 0 22 0-38 0 14 0-1 1 16 0 8 0-18 0-5 0 16 0 21 0-43 0 38 0-21 0 8 0-17 1-5 0 16 0-14 0-19 0 20 0 16 0 10 0 18 0-37 0 15 0-23 0 15 0 11 0-29 1 3 0-13 0 24 0-11 0 26 0-9 0 5 0-16 0-2 0-7 0 10 0 8 1 0 0-7 0-13 0 12 0-3 0-4 0 16 0 29 0-6 0-13 0 7 0-24 0 9 0-28 0 24 0 2 0-7 0 1 0-8 1-28 0 20 0 21 0-25 0 33 0-8 0-2 0-5 0 7 0-9 0 32 0-27 0-3 0 0 0 2 0-24 0-1 1 33 0-38 0 16 0-5 0 38 0-30 0 21 0-22 0 44 0-44 0 34 0-50 0 16 0 50 0-59 0 21 0-6 0 32 0-30 1 16 0-25 0 23 0 8 0-9 0 5 0-33 0 47 0-30 0 9 0-27 0 10 0 28 0-17 0 11 0 5 0 4 0-2 0 0 1-16 0-8 0-10 0 23 0 9 0-44 0 44 0-23 0 5 0 21 0-12 0-17 0 16 1 8 0 2 0-6 0 19 0-20 0 12 0-37 0 26 0 23 0-12 0 1 0-46 1 37 0-26 0 18 0-4 0-27 0 20 0 31 0-1 0 21 0-32 0-24 0 27 0-28 0 45 0-16 0-28 0 46 0-21 0-20 1-11 0 8 0 21 0 30 0-79 0 66 0-49 0 26 0-9 0 0 0-2 0 6 0 16 1-13 0 41 0-64 0 11 0 19 0-21 0 33 0-12 0 11 0-6 0 9 0-18 1-23 0 39 0-30 0 25 0 1 0-2 0-5 0-29 1 19 0 30 0 7 0 0 0-42 0 6 0 24 0-33 0 21 0-15 0 39 1-48 0-3 0 1 0 28 0 10 0-51 0 13 0 38 0-20 1 10 0 29 0-42 0-8 0 3 0 21 0 2 0-7 0-1 0 4 0-8 0-17 0 9 1 40 0-50 0 0 0 23 0-11 0-14 0 9 0 12 0 14 0 0 0-10 1-3 0-8 0 40 0-48 0 6 0 7 0-18 0 19 0 24 0-7 0-45 1 40 0-22 0 29 0-45 0 26 0 34 0-34 0-3 0-36 0 45 0-3 0 23 0-18 1-27 0 15 0 29 0-23 0 5 0-14 0 14 0-7 0-11 0 28 0-21 0 13 0 22 0-51 0 27 0 19 0-24 0-11 1 16 0 2 0-41 0 35 0 12 0-28 0 12 0 17 0 16 0-63 0-8 0 42 0-32 1 50 0-11 0-14 0 12 0-9 0-15 0 0 0-4 0 24 0-3 0-4 0 1 0 23 0-16 0 14 0-39 0 14 1-18 0 21 0-1 0 2 0 10 0-33 0 51 0-32 0 35 0-46 0 16 0 33 0-17 0-6 0-45 0 17 0 8 0 16 0 1 0 8 0-21 0 11 0-19 0 8 0 5 0-24 1 35 0-36 0-4 0 17 0 4 0 21 0 3 0-21 0 23 0 14 0-34 0-16 0 16 0 4 0-27 1 62 0-21 0 1 0 7 0-27 0 31 0-34 0-12 0 27 0-31 0 26 0-7 1-17 0 19 0-18 0 57 0-7 0-57 0 47 0-38 0 27 0-12 0-3 1-16 0 9 0 0 0-1 0 9 0 16 0 4 0 7 0-16 0 33 1-27 0 8 0-31 0 9 0-5 0 21 0-23 0 20 0 17 1-36 0-12 0-1 0-3 0-46 0 24 0 24 0-25 0 48 0-31 0-12 1 19 0-19 0 5 0 35 0-14 0 7 0-34 0-5 0 14 0 30 0-28 0-1 1 14 0-18 0 9 0-16 0 13 0 0 0 33 0-5 0-30 0 13 0-23 0 3 0 21 0-3 0-3 0 16 1-36 0 31 0 9 0-52 0 28 0-1 0 16 1-46 0 14 0 4 0-11 0-5 0 40 0-8 0 10 0 11 0-28 0 35 0-22 0 5 0-33 0 5 0 34 0-7 1-27 0-12 0 38 0 10 0-15 0 27 0-31 0-6 0-18 0 11 0 1 0 33 0-54 0 8 0 39 0-38 1 43 0-18 0-17 0 11 0-20 0 22 0 5 0-45 0 57 0 8 0-5 0-17 0-23 0 12 0 12 0-5 0 3 0 11 0-32 0 7 1 28 0-25 0 17 0-1 0-12 0-21 0 26 0-38 0 10 0 25 0 21 0-22 1 10 0 16 0 10 0-32 0 2 0-15 0 11 0-17 0 9 0 29 0-19 0-13 0 3 0 10 0 7 1-4 0 22 0-35 0-9 0 19 0-21 0 8 0 14 0-5 0-2 0 21 0-22 0-8 0 7 0-16 0-1 0 48 0-44 0 9 0-5 1 14 0-10 0 5 0 26 0-39 0 16 0 22 0-21 0 2 0 11 0-10 0-11 0 18 1-14 0 2 0-20 0 20 0 11 0 9 0-7 0-26 0-13 0 43 0 10 1-28 0 40 0-31 0 25 0-31 0-27 0 52 0-12 0 26 0-29 0 11 1-30 0 72 0-29 0-45 0-8 0 38 0-31 0 32 0-7 0 37 0-12 0-15 0-1 0 7 0-23 0 33 0-34 0 36 1-71 0 7 0 29 0 29 0-19 0-15 0 46 0-59 0 37 1-28 0 14 0 36 0-27 0 26 0-59 0 0 0-3 0-7 0-6 0 39 0-9 0 35 0 3 0-74 0 38 0 10 0 45 0-23 0-3 0 29 1-13 0-50 0 52 0-4 0-35 0 20 0-30 0 2 0-31 0 40 0 1 0-7 1 10 0-3 0-5 0 18 0-1 0 2 0 23 0-20 0-9 0 28 1-32 0-3 0 17 0-8 0 9 0-3 0-17 0 18 0 8 0-20 0 14 0 2 0-31 0-16 0 34 1 12 0-2 0 18 0-2 0-31 0 16 0-22 0 27 0 4 1 19 0-2 0-50 0 2 0 22 0-5 0 14 0-38 0 39 0-11 0 13 0-23 0-14 0 20 1-6 0-11 0 17 0-18 0 0 0 1 0 5 0-1 0 12 0 12 0 14 0-17 0-4 0-18 1-25 0 66 0-13 0-2 0-22 0-8 0-3 0 7 1-1 0 24 0-15 0-1 0-12 0 17 0-17 0 2 0 12 0 13 0-14 0-11 0 32 0-22 0 4 0 35 1-24 0 29 0-29 0-15 0 34 0-35 0-3 0 26 0-19 0 14 0-11 0-35 1 31 0 7 0-8 0 2 0 5 0-33 0 51 0 6 0 7 0-72 0 40 0 6 0 27 0-20 1-10 0 24 0-37 0-1 0 31 0-31 0 48 0-38 0 18 0-39 0 45 1-43 0 2 0-19 0 32 0 7 0-13 0 10 0 6 0 22 0-32 0-26 0 28 0-25 0 23 0 30 1-39 0 6 0-18 0 35 0-10 0-16 0 32 0-6 0-10 0 9 0-19 0 2 0 30 0 1 1-25 0 27 0 9 0-45 0-3 0-20 0 23 0-22 0 39 1-30 0 46 0-19 0-1 0 9 0 6 0-19 0 6 0-18 0 15 0 23 0-63 0 40 0-24 0 10 0 4 0 26 1-31 0 26 0-2 0-25 0-24 0 45 0 9 0-3 0 17 0-18 0-26 0 22 0 2 0-26 0 19 1 19 0-50 0 18 0-8 0 0 0-2 0-3 0 62 1-4 0-64 0 26 0-16 0 48 0-41 1-7 0 13 0-8 0-6 0 4 0 31 0 2 0-11 0-22 0 42 0-24 0 31 0-42 0 18 0-4 0 1 1-16 0-9 0 11 0 15 0-31 0 19 0 3 1 8 0-6 0-8 0-47 0 52 0-12 0-8 0 13 0 17 0-40 0 48 1-30 0 16 0-22 0-13 0-13 0 44 0-15 0-14 0 8 0-4 0-15 0 17 1 3 0-40 0 39 0 25 0-40 0 19 0-33 1 6 0-7 0 25 1 24 0-52 0 38 0-30 0 11 0-1 0 16 0 14 0-31 0 37 1-18 0-13 0 17 0-34 0 14 0 35 0-41 1 9 0 25 0-39 0-9 0 3 0 16 0-24 0 23 0 37 0-15 0-20 0 8 1-28 0 46 0 15 0-25 0 19 0-20 0-22 0 14 0-17 0 27 0-23 0 23 0-2 0 3 0-15 1 26 0-1 0-21 0-23 0 26 0-4 0 17 0-31 0 6 0 29 0-51 0 26 0 5 0-11 0-6 0 47 0-15 0-1 1-9 0-6 0-3 0 18 0-42 0 7 0 18 0 6 0-6 0 6 0-7 0-12 0 21 0 3 0 1 0 0 0-10 0-8 1 16 0 1 0 7 0 11 0-22 0-10 0-8 0 40 0-28 0-28 0 9 0 32 0 2 0-17 1-13 0 8 0 4 0 23 0 2 0-3 0-5 0-7 0 7 0-28 1 7 0 15 0 18 0-54 0 46 0-24 0-10 0-15 0 19 0 2 0 37 0-50 0-6 0 50 0-19 0 20 1-14 0-17 0 38 0-2 0-11 0 5 0-18 0-12 0 40 0-24 1 22 0-16 0-7 0 3 0 0 0-21 0 42 0-21 0 30 0-40 0 5 0-32 0 35 1-25 0 23 0-19 0 42 0 4 0-24 0 8 0-8 0-1 0-9 0 8 0-6 0 23 0-7 0-10 0 5 0-4 1 29 0-21 0-22 0 42 0 3 0-12 0-14 0 12 0-40 0 3 0-10 0 43 1-11 0 14 0-38 0 22 0-38 0-2 0 15 0 24 0 5 0-10 0 7 0 26 0-17 0-17 0 8 0-10 0 16 0-29 0 40 0-57 0 38 0 5 0 3 0-2 0-1 1-16 0 9 0-15 0 21 0 11 0 0 0-12 0 24 0-55 0 44 0-8 0 0 0-13 0 14 0-4 0-11 0 22 0-6 1-9 0 33 0-47 0-9 0 25 0-23 0 36 0 9 0-56 0 19 0 34 1-60 0 39 0-1 0 4 0-16 0 8 0 24 0-19 0 9 0-28 1 16 0-3 0-22 0 31 0 14 0-1 0 6 0-30 0 25 0 10 0-27 0-2 0-6 0-8 0 17 0-17 0 15 0-39 1 60 0-48 0 26 0-12 0 3 0-6 0 31 0-32 0 2 1 42 0-33 0 15 0-35 0 28 0-7 0 7 0 1 0-25 1 4 0 21 0 7 0 9 0-39 0 18 0-12 0 4 0-2 0 24 0-28 1 3 0-19 0 24 0 19 0-28 0 2 0 8 0 31 0-45 0 14 0-16 0 45 0 1 0-47 0 36 0-5 0 6 1-47 0-20 0 51 0-15 0 45 0-46 1-10 0 9 0-4 0 38 0-21 0-27 0 26 0-37 0 0 0 20 0 50 0-41 0-31 0 47 0 4 1-52 0-5 0 4 0 34 0-44 0 48 0 6 0-37 0 32 0 25 0 5 0-23 0-56 0 94 0-76 0 32 0-22 0 28 0-1 0-6 1-56 0 46 0 17 0-37 0 2 0-14 0 35 0-2 0 9 0-11 0 22 0-27 1-16 0 11 0-37 0 41 0-10 0 10 0-2 0-7 0-16 0 19 1 4 0 20 0-12 0-22 0-2 0 21 0-3 0 8 0 6 0-26 0-2 0 28 0 1 0-37 0 55 0-43 1-15 0 16 0-28 0 18 0 46 0-28 0 1 0 16 1-20 0-30 0 12 0 39 0-27 0 12 0 27 0-25 0-27 0 36 0 1 0-15 1 27 0-30 0-22 0 13 0 17 0 13 0-18 0-8 0-4 0 40 0-39 0 10 0 7 0-22 0 26 0-25 0 26 0-14 0 22 0-56 1 13 0-15 0 56 0-20 0-33 0 8 0 45 0-29 0 21 0-9 0-8 0 24 0-33 0 6 0 32 0-13 0-32 0 20 0-18 0 42 0-25 0 30 0-12 0-11 1-21 0 0 0 28 0 7 0 6 0-33 0 3 0-4 0 10 0-6 0-11 0 36 0-57 0 49 1-20 0-4 0-3 0-27 0 23 0 33 0-17 0-22 1 49 0-43 0-7 0 13 0 18 0-27 0-12 0 33 0 5 0-54 0 19 0 3 0 16 0-31 1 3 0 12 0 27 0 0 0-1 0-17 0-10 0 11 0 7 0 0 0 29 0-12 0-32 0 30 0-34 0-10 0 21 0 22 1-23 0 5 0-19 0 0 0 29 0-24 0 6 0-13 0 21 1-23 0 0 0 33 0-39 0 28 0 18 0-22 0 31 0-42 1-12 0 22 0 11 0-6 0 14 0-20 0-5 0 42 0-11 0 13 0-13 0-20 0 13 0-6 1 2 0-3 0 1 0-28 0 1 0 31 0 10 0-16 0-30 0 51 0-23 0 17 0-24 0-3 0-11 0 45 1-18 0 10 0-27 0 29 0-21 0 30 0-60 0 1 0 39 0-17 1-21 0 41 0-21 0 3 0 17 0-4 0-41 0 17 0-14 0 18 0 7 0 14 0 14 0-48 0 9 0 13 0 5 0-28 0 2 0 17 0 21 1-4 0 6 0-25 0-13 0 4 0 36 0-23 0 12 0-18 0 47 0-63 0 29 1 8 0-37 0 46 0 12 0-37 0 86 0-63 0 57 0-100 0 21 0 31 0-36 0-13 0 25 0 18 0-18 0 7 0-11 0-4 0 24 0-9 1 61 0 28 0 5 0-37 0-2 0 22 0 23 1-19 0-12 0-12 0 8 0 27 0-49 0 32 0-5 1 11 0-40 0 33 0 24 0-42 0-24 0 28 0-9 0 21 0-6 0-4 0-10 0 35 1-34 0 15 0-28 0 18 0 39 0-49 0 42 0-23 0 12 1 9 0-38 0 14 0 2 0-1 0 38 0-24 0-19 0 24 0-27 0 35 0-28 0-2 0 15 0 1 0-16 0-1 1 5 0-17 0 23 0 28 0-23 0-22 0 51 0-41 0 8 0 14 1-24 0-7 0-18 0-4 0 41 0 13 0-31 0-4 0-22 0 28 0 13 0-37 0-25 1 41 0-37 0 17 0 18 0 17 0 10 0-20 0 7 0-2 0-6 0-32 1 8 0 17 0 8 0 21 0-39 0 48 0-40 0 12 0 9 0-54 0 21 0 32 0-17 0-8 0 0 1-25 0 45 0-46 0 44 0-11 0-11 0 6 0-14 0 19 0-22 0 16 0-18 1 15 0-4 0 38 0-50 0 31 0-4 0 11 0-1 0-17 0 17 0-31 0 17 0 7 0-47 0 37 1-28 0 8 3 35 1 17 0-42 0 9 0 19 0 16 1-28 0 46 0-4 0-2 0-9 0-29 0 7 0 20 0-39 0-6 0 65 0-2 0-16 1 7 0-10 0 11 0-11 0-6 0-25 0 34 0-22 0 34 0-7 0-13 0 21 0-8 0-10 0-9 0 24 0-51 0 17 1 4 0 11 0-1 0-2 0 26 0-41 0 27 0-23 0-3 1 24 0-38 0 62 0-9 0-20 0 10 0 17 0-7 0-47 0 3 1 24 0 13 0 10 0-5 0 2 0-30 0-6 0-17 0 45 0 12 0-37 0 30 0 19 0-44 1 1 0 5 0 12 0-27 0 8 0 11 0-3 0-14 1 38 0-14 0-13 0-5 0-21 0 37 0-25 0 30 0-2 0 8 0-29 0 6 0-13 1 40 0-32 0 3 0 10 0-3 0 19 0-32 0-2 0 16 0 3 0-17 0 13 0 8 0 8 0-17 0 5 0 22 1-44 0-10 0 44 0 2 0-9 0-33 0 18 0 18 0-1 1-13 0 23 0 16 0-8 0-18 0 5 0-9 0-4 0 6 0-4 0-11 0-2 1-3 0-13 0 24 0-13 0 12 0 14 0 9 1-31 0-7 0 10 0 0 0 32 1-17 0 7 0-18 0 1 0-1 0-13 0 7 0-3 0 22 0 21 0-10 0-36 0 37 0-46 0 2 0 10 0 16 0 7 0-7 0-28 0 42 0-29 0-5 0 17 0-23 0 31 1 4 0-19 0 0 0-20 0 26 0 21 1-49 0 22 0 15 0-27 0-3 0 35 0-35 0 50 0-45 1 1 0 12 0-17 0-5 0 14 0-6 0 9 0 8 0-8 0-27 0 53 0-14 0-13 0 11 0-7 0-2 0 8 1 6 0 58 0-55 0-40 0 14 0 70 0-43 0-24 0 38 0-15 0 10 0 24 1 7 0-1 0 18 0-19 0 6 0-24 0-12 0 45 0-19 0 9 0 15 0-36 0 5 0 12 0-23 0 3 0-26 0 12 0 17 1-5 0-8 0 16 0-14 0 29 0-9 0-17 0 28 0 6 0-4 0-29 0 41 0-20 0-4 1 7 0-30 0 7 0 7 0 5 0 15 0 6 0-38 1 27 0-3 0-11 0-13 0 7 0 38 0-46 0 46 0-32 0 16 0-22 1-7 0 15 0 18 0-10 0-11 0-24 0 32 0 16 0-18 0-8 0 4 0-11 0 5 0 8 1 8 0-18 0 16 0-4 0 4 0 8 0-44 0 50 0-12 0-21 0 12 0-32 1 12 0 56 0-78 0 66 0-19 0-21 0 23 0-47 0 14 0 19 1 17 0-9 0-76 0 54 0 16 0 27 0-57 0 32 0-77 0 67 0-49 0 18 0 34 0-1 0-14 1 40 0-9 0-7 0-27 0-6 0 4 0 18 0-33 0 36 0-58 0 44 0 38 1-54 0-24 0 90 0-13 0-53 0 61 0-92 0 22 0 38 0 32 0-68 0 12 0-12 0-11 0 49 1-11 0-22 0 27 0-2 0-27 0 27 0-55 0 4 0 59 0-56 0-2 0 25 0 50 0-43 0-3 1-1 0 7 0-17 0 33 0-40 0-68 0 83 0 2 0-41 1 55 0-2 0-84 0 59 0 14 0-63 0 26 0-22 0 74 0-10 0-16 0 41 0-41 0 26 0-60 0-1 0-52 0 31 1 76 0-79 0 60 0-3 0 4 0-26 0-39 0 101 0-100 0-27 0 105 0-22 0-26 0-5 0 47 0-62 0 48 0-44 1 65 0 8 0-39 0-71 0 25 0 16 0 39 0-7 0 16 0-87 0 86 0-58 0 50 0 32 0-7 0-31 1-41 0-14 0 18 0 33 0-12 0 38 0-17 0-40 0 4 0-22 0 15 0-20 0-8 0 31 1 4 0-27 0 18 0-22 0 5 0 45 0-46 0 44 0-22 0-13 0-2 0 16 0-8 1-29 0 24 0-9 0 18 0-12 0 7 0 7 0 19 0-33 0 3 0 9 0 8 0-24 0 10 0-5 0-21 0 21 0 15 0-9 0 0 0-7 0 0 0-27 0 62 1-64 0 14 0 1 0 18 0 19 0-1 0-5 1 12 0-28 0 8 0 37 0-53 0 29 0-39 0 49 0 6 0-4 0 0 0-2 0-45 0 35 0-1 0-23 0 32 1-41 0 7 0 22 0-2 0-7 0 7 0 1 0-20 0 24 0 14 0-11 1-35 0 3 0 51 0-23 0-46 0 49 0-14 0 9 0 1 0-5 0-15 0 20 0-6 0 20 0-16 0-8 1-9 0 7 0-9 0-11 0 53 0-16 0-33 0-4 0 33 0 24 1-35 0-1 0 22 0 9 0-26 0-15 1 12 0 15 0-11 0 17 0-28 0-7 0-3 0 19 0-21 0 32 0-3 0 2 0-38 0 18 0-11 0-2 0-1 0 1 1 19 0 12 0-5 0 15 0-30 0 8 0 18 0-2 0 9 0 12 0-28 0-7 0 22 0-9 0-11 0 4 1-5 0 0 0-9 0-22 0-1 0 33 0-41 0 3 0 52 0-44 0 21 0 13 0-3 0-18 0 41 0-46 0-7 0 24 1 9 0-21 0 19 0-16 0 8 0-18 0 7 1-12 0 7 0 22 0-2 0-16 0 13 0 36 0-20 0 24 0-71 0 55 0-1 0-33 0-1 0 34 1-13 0 0 0-12 0 14 0-26 0 72 0-29 0-3 0-17 0 6 0-30 0 19 0 20 0-11 0 17 0-4 0 23 0-28 0-36 0 42 0-26 1 43 0-18 0-7 0 25 0-25 0 17 0 0 0 8 0-3 0-34 1-10 0 2 0 48 0-6 0-40 0 1 0 42 0-33 0-4 0 8 0 18 0-31 0 32 0-31 1 45 0-8 0-16 0 24 0-25 0-20 0 24 0 8 0-17 0 23 0-23 0 15 0-32 0 16 0-5 1 8 0 1 0-2 0 41 0-1 0-34 0 19 0 6 0-13 0-30 0 49 1-26 0-25 0-17 0 66 0-14 0 16 0-10 0-16 0 14 0 7 1-11 0-7 0-23 0 22 0 12 0-35 0 4 0 20 0-21 0 8 0 21 0-6 0-4 0-25 0 39 0 7 0-30 0 9 1 12 0-10 0-15 0-1 0-16 0 40 0 16 0-31 0-5 0-2 0-1 0 11 0-23 0 56 0-57 0-16 0 21 0 48 1-49 0 31 0 18 0-65 0 62 0-9 0 17 0-31 0 6 0 20 0-33 0-34 0 33 0 16 0 1 0-7 1 7 0 7 0-24 0-12 0 18 0 12 0-19 0 26 0-28 0 28 1-1 0-3 0 18 0-67 0 36 0-10 0 27 0-20 0 31 0-70 0 31 0 2 0 22 0-12 0-9 1 11 0-7 0 5 0-8 0 28 0-53 0 9 0 12 0 28 0-24 0 24 0-5 0-47 1-1 0 36 0 1 0 24 0-23 0 21 0 4 0-48 0 52 0-16 0 0 0-1 1-11 0-26 0 6 0 21 0-5 0-8 0 1 0-8 0-10 0 22 0-27 0 26 0 7 0 11 0-36 0 20 0 6 0-16 0-12 1 8 0-25 0 56 0-25 0-23 0 67 0-69 0 49 0-2 0-22 0 4 0 24 0-40 1 24 0-23 0 30 0-43 0 38 1-2 0-29 0 16 0-4 0-23 0 44 0 10 0-44 0 9 0 52 1-74 0 53 0-27 0-17 0 39 0-5 0 22 0 6 0-19 0 15 0-30 0-18 0 34 0-50 1 49 0 57 0-15 0 8 0-45 0 2 0 8 0 16 0 7 0-24 0-12 1-10 0 24 0 29 0-38 0 21 0-7 0 10 0-26 0 32 0-39 0-3 0 25 1-14 0 35 0-53 0 33 0 34 0-20 0-30 0 1 0-3 0 46 1-43 0-12 0 0 0-4 0 19 0 44 0-33 0 22 0-31 0 25 0-26 0 0 0 9 0 8 1 0 0-18 0 26 0-3 0-35 0 19 0-20 0 24 0 22 0-54 0 0 0 53 0-18 0-33 1 21 0 19 0 9 0-15 0-25 0-10 0 17 0 13 0-8 0 11 0-4 1-78 0 61 0 17 0-84 0 74 0-49 0 55 0-69 0 59 0 28 0 17 1-45 0 33 0-84 0 97 0-104 0 108 0-124 0 96 0-2 0-36 0-15 1-20 0-2 0 34 0-28 0 6 0 2 0-18 0 26 0-40 0 14 0 23 0 60 0-68 1-36 0 36 0-6 0 14 0 13 0-22 0-20 0-10 0 66 0-62 0 28 0 0 1-31 0 58 0-50 0 44 0-43 0 26 0-9 0-9 0 23 0-50 0 70 0-35 0-17 0 29 1-28 0-17 0 16 0 29 0 0 0 0 0 0 0-26 0 42 0-26 0-17 0 53 0-22 1-30 0-8 0 57 0-20 0-30 0 14 0 1 0-21 0 32 0-37 0 23 0-15 1 14 0 2 0-13 0 45 0 2 0-50 0 5 0 16 0-8 0 13 0 19 0-6 0-13 0 2 1 27 0-70 0 7 0 37 0 15 0-16 0-18 0 3 0-12 0 12 0-21 0 6 1 16 0-6 0 18 0-27 0 47 0-14 0-11 0 23 0-54 0 38 0-6 0 10 0-28 1 18 0 4 0 13 0-17 0 3 0-31 0 46 0-17 0-26 0 20 0-7 0 17 1 5 0 71 0 23 0 32 0-47 0 21 0-25 0 0 0-17 0 22 0-3 1 41 0-22 0-4 0-34 0 56 0-32 0 19 0 15 0-21 0 3 0-8 0 2 0-11 0-15 0 17 0 37 0-25 0-8 0-24 0 31 0-25 0 4 1 4 0 13 0 0 0 3 0-36 0 1 0 51 0-39 0 38 1-52 0 46 0-17 0 29 0-36 0 37 0-15 0 22 0-39 0 24 0-3 0 13 0-24 0 2 1 25 0-19 0-15 0 31 0-13 0-31 0 39 0-54 0 44 0 16 0-14 0-26 0 1 0 12 0-16 1 4 0-6 0 13 0 27 0 3 0 0 0-24 0 28 0-6 0-21 0-26 0 19 0-3 1 4 0 3 0 33 0-27 0 6 0-18 0 14 0 15 1-35 0 8 0 39 0-62 0 36 0-21 0 15 0-5 0-35 1 9 0 45 0-44 0 0 0 4 0-2 0 48 0-12 0 0 1 3 0-42 0 46 0-12 0 22 0-29 0-6 0-4 0 34 0-37 0-17 0 8 0 35 0-7 1-24 0 15 0-12 0 2 0 40 0-38 0 10 0 12 0-16 0 11 1-1 0-13 0-5 0-8 0 25 0 10 0-15 0-11 0 17 0 0 1-5 0 15 0 0 0 8 0 7 0-29 0-34 0 2 0 10 0 11 0 2 0 17 0-8 1-62 0-13 0 23 0-20 0-18 0 29 0-16 0 31 0-35 0-15 0 15 1 15 0-13 0-16 0 28 0 23 0-45 0 39 0-8 0 5 0-14 0-37 0 48 0-15 0 21 0-43 1 22 0 18 0-17 0 2 0-22 0 39 0-10 0-30 0 25 0-18 0-20 0 39 0-2 0 3 0-2 0-21 1 29 0 10 0-23 0 17 0 13 0-55 0 23 0 8 0 26 0-59 0 27 0 29 0-39 0 18 0-5 0-26 0 31 1 0 0 19 0-49 0 15 0 43 0-27 0-13 0 0 0-2 0-20 0 36 0-29 0 17 0 1 1 8 0-20 0 17 0 6 0 1 0-11 0-22 0-13 0 8 0 39 0 6 0-38 0 17 0-32 0 7 0 35 0-2 0 24 0-49 1 1 0 14 0-2 0 17 0 5 0 6 0 11 0-9 0-16 0 3 0-15 0 11 0 19 0-37 0 8 0 8 0-9 0-15 0 20 0-10 0 30 1-4 0-32 0 15 0-12 0-20 0 34 0 3 0-10 0 27 0 10 0-53 1 25 0 8 0 3 0 16 0-19 0-9 0-13 0 19 0-20 1-3 0 31 0 20 0-31 0 6 0-6 0 22 0-35 0-13 0 7 0 0 1 63 0-26 0 1 0-27 0 34 0 1 0-17 0 4 0-13 0 4 0 34 0-24 0 13 1-20 0 12 0 17 0-21 0 3 0-12 0 0 0-15 0 29 0 22 0-44 0 24 0 3 0 18 0-20 0 19 0-29 0 42 0-13 1-27 0-1 0-1 0 16 0 12 0-32 0 30 0 2 0-35 0 10 0 10 0-23 0 32 0-36 0 20 0-30 0 40 1-34 0 54 0-6 0-11 0-18 0 21 0-6 0-27 0-23 0 24 0 2 0 9 0-1 0 12 0-26 0 5 0 27 0 9 0-20 0-2 0 26 1-50 0 32 0 5 0-4 0-1 0-11 0 15 0-11 0 1 0 9 1-5 0-10 0 13 0 1 0 5 0-42 0 58 0-48 0 30 0-10 0-13 1 30 0-26 0-14 0 20 0-19 0-2 0 14 0 19 0-7 0-1 0 0 0 3 0-14 1 16 0-15 0-24 0 10 0 16 0-63 0 84 0-39 0 21 1-39 0 30 0-7 0 22 0 9 0-86 0 41 0 35 0-19 0-66 0 91 1 22 0-59 0 44 0-40 0 21 0-27 0 41 0-62 0 20 0 0 0-39 0 25 0 24 0 26 0-66 0 14 0 37 0-31 1 3 0 43 0-13 0-39 0 60 0-24 0-36 0 12 0 2 0-34 0 29 0-5 0 11 1-10 0-8 0 0 0 27 0 43 0-38 0 14 0-47 0 0 0 48 0-53 0 21 0 19 0-26 0 8 0-18 0-29 0 21 0-2 0-2 1-8 0 13 0 22 0-47 0 67 0-18 0-14 0 15 0-2 0-18 0 21 0-19 0 26 1 2 0-35 0 3 0 3 0-7 0 13 0-39 0 66 0-24 0 30 0-7 1-53 0 30 0-15 0 2 0 3 0-12 0-17 0-5 1 51 0-25 0 15 0 10 1-18 0 17 0-4 0-39 0 47 0-43 0 56 0-46 0 12 0 11 0-23 0 33 0 7 0 10 0-29 1 41 0-13 0 6 0 8 0-4 0 4 0-39 0 27 0-14 0-13 1-8 0 13 0 27 0-14 0-14 0 51 0-51 0 7 0 1 0-20 0 68 0-63 0 28 0 25 0-19 0-29 0 21 1-1 0 13 0 6 0-7 0-17 0 12 0 26 0-64 0 9 0 20 0 14 0-34 0 45 0-45 0 21 0-33 0 31 1 16 0-48 0 22 0 11 0-5 0 19 0-13 0 7 0 21 0-38 1 0 0-7 0 18 0 10 0-10 0 9 0 7 0-15 0 17 0-10 0-33 1 33 0 46 0-35 0-27 0 20 0-22 0 38 0-29 0 14 0-24 0 35 0-23 1 43 0-30 0 27 0-46 0-3 0 25 0 13 0 13 0-45 0 16 0 16 0-4 1 4 0 13 0-30 0 25 0 6 0-11 0 5 0 7 0 1 0-40 0-1 0 50 0-11 0-21 0 27 0-36 0 37 0-24 0 23 1-62 0 47 0-1 0-26 0-6 0 23 0 4 0-4 0 2 0-26 0 44 0-12 1 1 0-15 0-5 0-7 0 51 0-36 0 20 0-25 0 0 0 27 0-29 0 11 1 1 0-8 0 20 0-37 0 5 0 10 0 21 0-28 0 29 0-13 0-19 0 1 0 33 0-34 0 43 0-18 0 16 0-17 0-15 0-18 0 28 1 7 0 10 0-1 0 17 0-1 0-52 0 19 0 31 0-9 0-22 0-35 0 34 0 18 0-19 0-20 0 16 1-23 0 11 0 9 0 8 0-16 0 9 0 31 0 1 0 1 0-10 0-21 0 42 1-35 0-64 0 46 0-6 0 11 0-25 0 2 0 22 0 41 0-38 0-17 0 49 0-28 0-19 1 5 0 21 0-13 0-33 0-5 0 34 0-30 0 56 0-37 0 18 0 24 0-11 0-17 1-18 0-27 0 6 0 33 0-14 0 11 0-17 0 43 1-29 0 14 0-27 0-3 0 38 0-8 0-7 0-32 0 43 0-7 0-28 0 20 1-17 0-11 0 30 0-4 0-4 0 23 0-27 0 33 0-45 0 10 0 2 0 9 1-26 0 25 0-5 0 15 0-30 0-4 0 1 0 10 0 23 0-36 0 11 0-7 0 15 0 2 0 6 1 2 0-23 0 1 0 43 0-35 0 21 0-52 0 30 0 17 0 2 0-23 0 44 0-35 0-32 0 19 0 36 1-49 0 49 0 14 0-12 0-21 0-15 0 23 0 8 0-34 0 30 0-41 0 22 0 13 0 0 1-17 0 20 0 5 0-2 0-46 0 34 0-11 0 17 0-21 0 7 0-2 0 6 0-2 1 3 0-1 0 19 0-49 0 52 0-17 0 13 0 8 0-36 0 7 0 19 0-27 0 1 0 9 0-20 1 33 0 19 0-34 0 3 0-13 0 9 0 0 0 19 0 14 0-20 1 26 0-25 0-6 0 25 0 10 0-39 0-9 0-11 0 13 0 28 1-18 0-14 0-10 0 26 0 16 0-15 0 7 0-18 0-4 1 15 0 26 0-52 0 14 0-3 0-9 0 49 0-43 0 27 0-25 0-5 0 50 0-23 0-3 0-22 0 11 0 18 0-4 0 0 0 17 0-36 0-8 0 56 0-30 1 27 0-24 0 27 0-47 0 13 0 10 0 0 0 4 0-2 0-2 0 15 0-5 0-23 0 29 0 0 1-30 0 3 0 20 0-10 0 1 0-28 0 0 0-9 0 41 0 2 0-16 1 8 0-10 0 17 0-19 0-2 0-3 0 17 0-18 0 9 0 8 0-1 1-8 0-17 0 54 0-22 0-21 0 13 0-21 0 5 0 25 0-23 0 28 1 3 0-28 0-18 0 55 0-45 0 28 0 5 0-38 0 16 0-14 0-7 1 18 0 22 0-19 0-4 0 40 0-27 0-21 0 3 0-16 0 10 0 42 0-22 0 14 0 2 0 16 0-25 0-33 0 32 1-22 0 4 0-2 0-5 0 12 0-7 0-7 1-34 0 26 0-5 0 21 0 39 0 1 0-48 0-1 0-6 0-12 1-6 0 46 0 25 0-44 0 24 0-54 0-5 0 31 0-11 0 8 0 54 0-60 0-5 0 56 0-36 1-29 0 36 0-48 0 46 0-53 0 5 0 68 0-71 0 83 0-81 0 74 0-52 0-23 0 58 1-37 0 15 0-23 0 67 0-25 0-40 0-6 0 20 0 56 0-47 0 41 0-23 0 35 0-41 0-9 1-54 0 83 0-36 0 14 0 15 0-45 0 12 0-3 0 17 0-5 0 35 0-46 0 52 1-83 0 33 0-10 0 11 0-19 0-4 0 27 0-9 0 3 0-5 0 37 0-32 1-29 0 27 0-27 0 22 0-3 0 14 0 25 0-7 0-30 0-5 0-15 0 9 0 6 0 46 0-9 0-55 0 28 0-17 1 21 0-8 0 3 0-31 0 18 0 26 0-9 0-27 0 53 0-34 1 5 0-9 0 37 0-36 0 7 0 23 0-35 0 17 0-29 0 33 0 12 0-23 0 26 0-25 0-7 0 28 0-33 0 5 0-14 1 21 0 6 0 22 0-16 0-5 0-4 0 2 0 2 0 42 0-15 0-22 0 13 0-4 0 22 0-51 0-2 0 36 0-29 0 17 0 23 1-43 0 35 0-14 0 12 0-20 0 23 0-7 0 20 0-4 0-32 0 5 0 2 1-11 0-7 0 30 0-41 0 37 0 8 0-7 0-6 0-17 0 20 0-12 0 40 0-45 0 9 1 41 0 2 0-42 0-18 0 13 0 17 0-2 0 13 0-35 0 28 0-26 1 27 0-20 0 30 0-31 0 11 0-35 0 54 0 14 0-26 0-16 0-3 0-15 0 27 0 12 0-10 0 2 0-29 1 4 0 23 0-28 0 26 0 12 0-9 0-9 0 14 0-10 0 3 1 23 0 9 0-54 0 21 0 4 0 0 1 4 0 10 0-29 0 9 0 6 0 1 0-9 0 15 0-14 0-23 0 50 0-44 0 48 0-21 0 18 0-7 0-31 0 6 0-19 1 27 0 18 0-35 0-17 0 44 0 16 0-33 0-12 0 39 0-16 0 22 1-33 0 23 0-13 0 5 0-1 0-11 0 27 0-27 0 8 0-9 0 44 0-53 0 37 1-12 0-33 0 8 0 7 0 21 0-19 0 2 0 26 0-29 0 27 0-28 0 11 0-13 0 15 0-10 0 37 0-27 1 8 0-3 0-28 0 7 0-18 0 36 0 5 0-21 0-17 0 52 0-18 0-37 0 20 1 3 0 12 0-42 0 54 0-22 0-5 0-21 0 19 0 6 0 5 0 14 0-30 0 7 0-27 0 38 0-23 0-2 0 39 0-6 1 18 0 3 0 9 0 11 0-35 0-3 0 16 0-4 0 35 0-21 0-32 0-8 1 32 0 10 0-18 0-7 0 12 0 30 0 11 0 2 0-31 0-5 0-7 0 2 0 27 0-28 0 39 0-34 0-14 0 1 0-10 0 2 0 50 0-19 1-18 0-11 0 40 0-4 0-3 0-37 0 29 0-44 0 27 0 6 0 2 1-10 0 10 0 26 0-50 0 38 0-8 0 14 0 15 0 0 0-43 0 16 0-36 0 31 0-19 0-2 0 4 0 3 0 7 1 14 0-12 0-18 0 38 0-31 0-3 0 42 0-12 0-23 0 4 0-1 0-7 0 22 0-16 0 10 0-2 0 30 1-13 0-44 0 55 0-40 0 17 0-23 0-2 0 5 0 11 0-13 1 4 0 10 0-28 0 54 0-31 0 12 0 5 0-4 0 2 0 5 0-11 0 1 0 16 0-30 1 18 0-16 0 47 0-51 0 27 0-16 0 1 0 9 0-30 0 0 0 23 0 12 0-1 0 7 0-26 1-3 0 12 0 28 0-25 0-29 0 43 0-12 0 5 0 8 0 20 0-39 0-11 1 14 0-4 0 4 0 29 0-35 0 1 0 20 0-7 0 9 0-39 0 54 0-25 0 27 0-31 0-19 0 26 0-25 0 3 1-3 0 20 0-12 0-10 0 15 0 9 0-44 0 60 0-9 0 16 0 3 0-38 0 8 0 22 0-43 0 21 0-8 0 6 0 12 0 1 0 4 1 0 0-30 0 14 0-9 0 5 0 15 0-41 0 45 0 7 1-38 0 9 0-23 0 1 0 2 0-1 0-15 0 25 0 5 0 7 0 2 0 1 0-17 0-5 1-33 0 42 0-7 0-9 0-6 0 18 0 7 0 18 0-34 0-36 0 5 0 32 0 4 1 8 0 12 0-5 0 2 0-17 0-7 0-28 0 39 0-13 0 34 0-14 0-32 0 4 0 26 0-31 0 29 1 2 0 3 0-18 0 10 0 15 0-25 0 14 0-29 0 36 0-12 0-31 0 7 0 37 1-43 0 28 0-39 0 24 0-16 0 27 0 12 0-27 0 47 0-35 0 19 0-3 0-7 0-18 1 27 0-21 0 2 0-1 0 6 0 6 0 21 0-20 0 13 0-30 0-4 0 40 0-24 0 8 1-7 0-8 0 3 0-11 0 1 0 37 0-32 0-13 0 16 0 0 0 20 0-14 0-17 0 21 1 6 0-16 0-8 0-3 0 12 0 32 0-21 0 7 0-25 0-9 0 19 0 3 0 20 0 3 1-1 0-35 0 16 0-18 0 12 0 33 0-6 0-45 0-6 0-10 0 18 1 25 0-13 0-19 0 12 0 32 0-23 0 4 0 9 0-20 0 46 0-24 0-42 0 51 0-33 0-4 0-2 0 42 0-11 0-24 0-13 0 8 0 30 0 3 0 12 0-36 0 12 1-43 0 30 0-12 0 15 0-12 0 32 0 1 0-57 0 36 0-22 0 60 0-46 0 0 0-10 0-1 0 26 1-25 0 28 0-16 0 15 0 25 0-12 0-41 0 9 0 12 0-35 0 54 0-17 0-7 0-5 0-6 1 27 0-5 0-12 0-6 0-17 0 11 0 27 1-15 0 19 0-12 0-8 0-17 1 55 0-52 0 59 0-53 0-17 0 5 0 13 0 18 0-19 0 23 0-23 0 10 0 21 0-25 1 38 0 6 0-40 0 12 0 8 0-8 0-12 0-29 0 33 0-28 0 12 0 10 0 8 0-13 0 9 1 22 0-37 0 17 0 29 0-16 0 4 0-2 0-9 0 3 0-1 0 9 0 9 0-1 0-23 0 1 1-5 0-2 0-7 0 26 0 21 0-32 0 17 0-55 0 47 1-8 0 9 0-29 0 8 0-16 0 16 0 4 0-19 0 31 0 9 0-14 0 6 0-21 0 1 0-1 1 11 0-3 0-22 0 140 0-9 0-117 0-26 0 144 0-95 0 98 0-101 0 10 0 107 0 17 0-143 1 84 0 31 0 25 0 0 0 7 0-42 0 4 0-1 0 20 1 4 0 11 0-15 0 4 0-3 0 16 0-11 0-31 0 33 0 9 0-40 0 35 0-21 1-16 0 24 0-41 0 27 0-17 0 40 0-46 0 30 0 12 0 21 0-52 0 38 0-1 1-8 0-11 0 36 0-5 0 5 0-19 0 2 0 13 0-15 0-1 0-16 0-29 1 24 0 12 0-5 0-22 0 6 0 7 0 5 0 3 0-4 0-6 1-2 0 1 0 5 0-30 0 37 0 1 0 11 0-17 0-23 0 14 0 27 0-3 0 14 1-2 0-43 0 45 0-23 0-1 0-6 0 29 0-19 0-3 0 10 0 8 0-28 0-20 0 52 0-36 0 5 0 15 0-36 0 27 1-24 0 8 0 10 0 30 0-28 0 8 0-4 0-31 0 31 0-18 0 27 0-43 0 11 0 0 1-12 0 35 0-9 0 5 0-12 0 26 0-25 0 46 0-13 0 15 0-50 0 36 0-19 0-14 0 10 0 16 0 2 1-14 0-12 0-4 0 5 0 33 0-25 0-13 0-4 0 52 0-19 0-15 0 16 0-12 0-16 0 1 0 9 1-3 0 12 0 26 0-82 0 56 0 0 0 11 0-49 0 31 0-40 0 9 1 22 0-2 0-21 0-34 0 61 0-48 0 63 0-8 0 12 0-38 0 2 0-31 0-14 0-6 0 62 0-25 1 35 0 4 0-50 0 25 0-4 0-4 0 6 0-8 0-10 0 19 0-24 0 1 0 53 0-47 0 44 0-2 1-23 0 3 0-33 0-18 0 34 0 23 0 0 0 13 0 16 0 5 0-72 0 46 0-47 0 45 0-50 0 23 0-23 0 33 1-22 0 64 0-36 0 29 0-58 0 2 0 38 0-47 0 25 1 21 0-17 0-12 0 9 0-20 0 24 0-1 0 16 1-8 0 3 0 25 0-36 0 37 0-59 0 41 0 30 0-61 1 42 0-12 0-40 0 23 0-42 0 47 0-10 0 13 0 5 0-25 0 52 0-7 0-43 0 47 0-33 0 22 0-38 0-2 1-3 0 31 0-26 0-4 0 39 0 17 0-37 0 9 0 11 0-43 0 32 0-1 0-18 0 8 0-11 0 18 1-34 0 21 0-19 0 44 0-21 0-16 0 36 0-36 0 10 0 3 0-23 0 11 1 17 0-14 0 29 0-30 0 8 0-22 0 3 0-8 0 41 1-36 0 39 0 1 0-39 0 50 0-29 0 32 0-39 0-8 0 36 0-7 0-31 1-21 0 10 0 38 0-39 0 49 0-12 0-8 0 7 0-24 0 30 0 13 0-16 0-24 0-20 1 58 0 3 0-3 0-62 0 37 0-7 0 32 0-35 0 44 0-42 0 32 0-42 0 19 0-10 1 16 0-2 0 20 0-58 0 0 0 11 0-2 0 4 0 0 0 40 1-42 0 19 0-8 0 20 0-2 0 3 0-41 0 47 0-12 0-24 0 33 0-29 0 6 0 20 0-11 1 15 0-26 0-7"/><path class="q" d="M106 817l0 0 0-102 0 62 0-25 0-35 0 24 1 14 0-13 0-25 0 21 0 5 0-25 1 162 0-174 0 29 0 31 0-31 0 9 0-11 0 4 0 13 1 87 0-147 0 143 0-26 0-1 0-65 0 38 0-58 0 21 1 10 0 81 0-66 0 29 0 7 1-105 0 39 0-30 1 90 0-66 0 17 0-15 1-19 0-60 1 116 0-28 0-24 1 85 0-73 0-25 1 109 0-97 2 23 1-3 0 44 0-79 1-12 0 119 0-127 0 31 1 108 0-115 1 90 1 27 0-71 0-35 0-7 0 5 1 23 0 62 0-75 1-22 0 14 0 30 0 3 1-5 0 7 0 4 0 52 0-49 0 8 0-33 0 16 1-38 0 77 0-40 0-35 0 35 0-12 0-2 0-30 0 32 0-6 1 65 0 17 0-65 0-38 0 16 0 23 0-20 1 5 0 126 0-144 0 28 0-21 0-9 1 109 0 3 0-14 0-88 0 59 0-52 0 24 1 65 0 7 0-49 1 32 0-4 1-65 0 80 1 8 0-119 0 56 1 91 0-44 0-91 0 18 1-6 0-31 0 10 0 8 0 22 0-16 0-14 0 30 0 2 1-77 0 65 0-34 0 9 0 30 0-21 0 40 0-24 0 15 0-8 0 9 0-20 0-11 0 33 0 11 0-4 0-8 0 35 1-41 0-51 0 14 0-3 0 23 0-47 0 14 0 36 0-10 0 5 0-17 0 33 0-19 0 34 0 4 0-28 0 20 0 32 1 1 0-61 0-34 0-7 0 45 0 6 0 7 0 0 0-4 0-18 1 49 0-53 0 2 0 45 0-56 0-3 0 47 1-28 0 47 0-49 0 3 0-22 0 56 0-27 1-2 0 77 1 12 0-33 0-30 0 19 0 56 1-133 0 71 0 75 0-160 0 105 1-86 0 85 0-61 0 83 0-117 1 142 0-22 0-74 0 35 0-44 1 122 0-136 0 94 0-108 0 152 1-26 0-21 1-82 0 132 0-50 0 19 1-55 0-46 0 82 1 24 0-105 0 27 0-33 0 45 0-37 0 27 1 34 0-64 0 105 1-22 0 19 1-20 0-45 0 39 0-85 1 95 0-90 1 56 0-94 0 46 1 14 0-14 0 43 0 45 0-23 0 74 0-83 1-78 0 41 0 22 0-57 0-3 1 24 0-20 0 58 0-48 1-10 0 100 0 16 0-14 1-5 1 3 0 52 0-79 1 36 0-29 1 20 0 1 0-28 1 3 0-15 1-3 0 33 0 19 1-40 0-1 1 32 0-99 1 108 0-12 0 58 0-59 1 118 0-117 0 41 0-101 1 93 0 3 0-85 0-7 0 2 1 119 0-66 0-46 1 143 0-77 0-24 0-69 0 122 0-34 0 88 1-106 0 56 1-33 0-82 0 103 0 9 0 44 1-141 0-4 0 71 0-76 1 56 0-20 0 31 0-28 1-59 0 73 0-13 1 69 0-102 0 61 1-96 0 21 0 84 0-56 1-60 0 84 0-75 0 119 0-5 1-69 0 48 0-35 0-46 0-16 1 99 0-30 0-26 1-38 0 79 1 15 0 98 0-109 0 72 1-114 1 12 0-11 0 46 0-10 1 6 1 8 1-6 0-11 0-5 0-32 0-15 1 18 0 44 1-41 0 47 0-43 0 13 1 15 0-57 0 60 0-1 1-27 0 73 0-33 0-86 0 14 0 1 1 64 1-114 0 88 1 31 0-95 0 81 0-77 1 42 0 30 0 13 0 5 1-89 1 78 0 62 0-118 0 136 1-121 0-9 0-9 0 92 0-22 1 59 1-47 0-47 0 14 0 66 0-42 0 11 0 23 0-101 1 113 0-112 0 7 0 59 0 47 0-106 0 0 0 96 0-102 1 6 0 152 0 25 0-133 0 17 1-24 1 72 0 15 0-124 1 106 1-32 0-15 0-61 1 17 0 12 0 27 0 70 0 1 0-144 1 213 0-74 0-23 1 11 0 21 0-29 1 46 0-71 2 11 0 95 0-115 0 66 1-138 0-2 2 91 0-60 1-86 0 150 0-6 0 19 0-53 1-35 1-15 0 89 0 26 0-79 0 88 1-30 0 23 1-22 1-4 0-16 0 39 0-78 0-16 1 111 0-123 0 86 0-7 0-112 0 72 0-59 0 61 1 36 0-94 0 78 0-79 0 37 0-5 0 10 0-40 0 5 0 5 0 3 0 15 0-22 1 94 0-28 0-71 0 94 0-66 0 48 0-57 0 13 0-24 0 7 0 5 0 9 0-15 0 11 0-25 1 0 0 52 0-42 0 16 0 7 0-2 0 9 0-21 0 10 0 2 0-30 0 33 0-27 0 9 0-6 0-13 1 11 0 96 0-74 0 5 0-7 0 10 0-29 0 20 1-17 0 151 0-146 0 7 1 60 0 66 0-81 1-1 0-69 0 2 0 21 0 51 0-75 0-24 1 52 0 64 0-61 0 63 1-93 0 116 0-54 0 30 0 13 1-43 0 37 0-41 0-89 1 128 1-2 1-89 0 71 0-1 1-35 0 51 0-91 1 25 0 93 0-106 0 23 0 30 0-38 0 6 0 1 0 22 1 25 0-40 0 5 0-10 0 31 0-39 1 59 0-139 0 91 0 7 0-42 0-46 0 217 0-147 0-9 0-1 0 22 0 16 0-23 0 33 0-19 0-17 1 54 0-51 0 0 0 8 0 4 0-22 1 15 0 18 0 7 1 19 0-45 0 11 1-129 0 98 0 57 0-40 0 45 1-57 0 40 0 7 0-78 1 89 0-99 0 55 0-29 0-36 0 113 1-122 0 60 1-2 1 50 0-64 0 44 0-91 1 89 0 38 0-7 0-126 0 18 1 99 0 15 0-46 0 29 0-6 1 7 0-3 0-44 0 52 1-49 0-13 1-4 1 36 0 61 0-82 0-13 1-29 0 43 0-35 1 95 0-80 0 190 0-166 0 36 0-31 1 16 0 80 1-135 0 51 0 47 1-6 0-41 1 73 0-12 0-56 1 24 1-75 0 33 0 107 0-102 0 4 0 22 1 30 0-90 0 72 1-25 0 25 0 82 0-66 0-1 1-64 0 44 0-63 1 0 0 40 0 45 1-66 0-21 0 30 0-4 0 57 1-87 0 14 0 77 1 0 0 58 0-85 0-47 0 38 1-4 0-42 0 76 0-26 0 37 0 7 1-58 0-54 1 97 0-45 0 14 1-31 0 68 0-43 0 72 1-14 0-80 0 2 0 12 1-45 0 24 0-9 0 44 0-21 1-15 0-16 0 84 0-2 0-61 0-4 0 2 0 29 1-109 0 29 0 23 0-65 0 82 0 13 0-8 0 12 0-11 0 20 0-3 0 5 0-9 0 2 1 18 0-41 1-98 0 26 0-6 0 34 0 92 1-130 0 8 0 55 0 27 0 1 0-23 0 20 0-50 0 29 1 26 0 57 1-50 0-34 1 15 0-19 0 4 0-13 0-66 1 106 0-54 0-22 0 75 1-65 0-9 0-10 0 48 0-62 0 35 1 26 0-11 0 46 0-37 0-25 0-12 1 47 0-29 0-5 0 2 0-7 0 22 0-2 0-21 1-23 0 155 0-30 0-31 0-71 0 10 0-21 0-12 0 16 1-8 0-6 0 40 0-15 0 2 0 6 0-27 1 164 0-25 0-70 0 63 0-135 0 28 0-48 1 36 0 44 0-1 0 78 1-70 0 40 0-7 0 91 0-122 0-46 0 41 1 90 0-47 0 49 1-45 0-14 0-36 0 18 0 83 1 3 0 59 0-52 0-10 0-15 1 0 1-49 0 53 0 11 0-9 0-83 0 37 1 27 0 35 0-44 0 0 0-2 0 36 1-85 1-10 0 36 1 18 0 69 0-57 1-64 1 100 0-36 0-20 0-73 0 128 1-97 0 19 1 53 0-19 0-20 1 93 0-24 0-70 0-14 0 17 0 12 0-5 0-35 1 125 0-88 0-46 0-2 0 48 0-42 0 34 0-46 0 4 1 85 0 17 0-69 0-18 0 5 0 11 1-22 0 52 0 10 0-61 0 14 1 198 0-109 0-93 0 85 0 20 0-90 1 69 0-28 0-64 0 60 0-71 0 52 0 114 1-90 0-55 0 94 0-121 1 2 0 71 0 75 0-66 1-73 0 106 0-7 0-23 1-134 0 158 0 14 0-11 0-25 1 59 0-128 0 91 0-66 0 48 1-45 0 63 1-18 0-125 0 95 1-22 0 57 0-56 1-9 0-46 0 85 3-35 0 17 0-56 0 70 0-113 0 160 1-39 0-78 0 70 1 19 0 15 0-24 0-37 1 23 0-28 1-49 0 49 0 52 0-30 2-13 0-7 1-37 0 50 0 20 0-17 1 49 0-53 0-30 0 61 0-61 1 44 0-58 0 2 1 32 0 64 0-112 0 51 0-25 0 5 1-35 0 18 0 44 0-21 0-18 0 4 0 23 0 3 0 18 0-24 1 42 0-2 0-36 0-48 0 10 0 19 0-6 0 21 1-54 0 97 0-98 0 69 0 51 0-66 0 2 1 54 0 33 0-26 1 26 0-22 1-32 1 2 0-49 1-14 1 79 0-3 0-8 1-23 0-7 1 28 1-65 0 10 0-2 0 88 0-83 0-4 0 107 1-7 0-99 0 79 0-20 0 24 1 0 0-83 0 89 1-125 1 44 0 45 0 62 0-119 0 4 0-57 1 139 0-78 0 91 1-45 0 27 1-72 0 43 0-12 0 22 1 3 0-59 0 81 1-58 0 72 0 11 1-48 0-99 0 209 0-79 0 58 0-164 1 100 0 48 0-53 0-6 0-111 0 9 0-27 0 66 1-9 0-36 0 28 0-26 0 30 0-24 0 22 0 0 0-7 0-32 0 39 1-46 0 103 0-94 0 97 0-47 0-39 0 16 0-18 0 6 1-4 0 119 0-116 0 111 0-87 0 82 0-97 1-11 0 67 0-27 0-38 0 78 0-84 2-3 0 7 1 126 0-37 0-41 0 59 0-77 1 52 0-43 0-39 0 87 0-96 1 93 0-33 1-30 0-9 1 30 0 52 0 6 1-136 0 158 0-39 0-86 0 87 0 17 0-25 0 24 1-20 0-79 0 0 0 109 0-11 0-30 0 15 0 25 0-17 0-19 1-50 0 85 0-16 0 1 0-4 0 2 1 12 0-89 0 77 0-18 0-70 0 88 0 0 0 5 0-19 0 18 1-82 0-1 0 106 0-28 1-42 1 70 0-125 0 92 0-44 0-45 1 102 0-20 0 7 1 4 0-103 0 121 1-21 0 1 0-71 0 117 1-152 0 45 0 15 0 20 0-7 1-68 0 82 1-15 1-104 0 153 0-38 0 104 1-129 0 55 1-127 0 34 0 98 0-54 0-11 0 36 1-47 0-8 0-2 0 89 0-19 1-26 0 0 0-47 1 57 0-88 1 21 0-23 0-9 0-12 1 112 0-39 1-3 0 40 0-110 1 114 0-42 1-60 0 165 0-100 0 20 0-44 0 36 0 0 1-29 0-55 0 60 0 44 0-101 0 38 0 35 0 16 0-18 0-23 0 28 0 3 0 11 1-80 0-21 0 76 0 10 0 2 0-17 0 12 0-4 0 10 1-99 0 231 0-98 0-55 0 19 1 5 0 9 0-40 0 30 1 4 1 47 0-112 0 14 0 16 0-8 0 3 0 181 1-143 0-83 0 63 0 1 1 23 0-8 0-68 0 0 0-4 0 84 1-22 0-12 0-65 0 22 1 76 0-66 0-32 0 87 1-73 0 55 0-82 0 5 0 160 1-88 0 12 0 90 0-37 0 26 1-30 0-49 0 84 0 8 0-8 0 10 0 2 0-36 0 8 0 31 0-14 1-1 0 14 0-40 0 0 0-72 0 79 0-14 0 22 1 43 0-25 0 12 0-44 0 18 0-5 0 18 0 3 1-4 0-8 1-8 0 13 0-46 0 43 0 10 1 16 0-108 0 59 0 3 1-58 0-31 1 77 0-34 1 105 0-57 0-92 0 28 0 34 1-37 1 18 0-67 0 68 0 83 5-89 0 35 0-17 1 68 0-105 0 23 0-16 0 166 1-61 0-15 0 2 0 0 1-33 0 2 1 47 0-15 0-110 1 145 0-44 0-61 1 32 0 63 0-97 0 4 1 9 0 58 0-35 1-17 0-49 1 37 0 48 0 37 0-81 0-13 0-23 1 45 0 49 0-96 0 82 0-93 0 23 0 22 0-24 0-9 0 23 0 1 0-14 1 89 0 4 0-120 0 20 0 84 0-85 0 14 0-31 0 16 0 19 0 29 1 44 0-83 0 41 0 30 0-34 0-20 0-19 0 48 0-21 0-26 0-1 0 10 0 26 0 22 0-27 1 22 0-43 0 23 0-13 0 7 0 28 1-40 0 64 0-12 0-69 0 48 0-26 0 25 0-23 0 38 0-19 0 0 1 9 0 7 0 58 0-151 0 172 0-105 0 11 0-15 0 29 1 32 0-81 1-40 0 188 0-116 0 0 1-3 1 75 0-60 0 74 0-19 0-33 0 16 0 18 1-4 0 21 0-96 0 19 0 36 0 22 0-71 1 6 0 90 0-70 0-39 0 2 0 0 1-9 0 13 0-2 0-24 0 17 1 71 0 54 0-134 0 3 0 0 0 11 0 21 0-37 0 24 0-17 1-21 0 50 0-17 0 2 1 46 0-42 0-5 1 17 0-9 0-40 1 2 0 98 0-25 1 22 0-95 0 3 1 86 0-95 0 6 1-1 0-16 0 103 1-87 0-44 1 64 0 5 0 34 0-8 0 35 1-86 0-10 1 92 0-55 0-61 0 21 0 28 0 13 0 0 0-81 3-1 1-5 0 54 0-51 1 28 0 26 0 49 0-104 0 83 0 13 1-52 0 29 0-50 0 42 0-29 1 52 0-35 0-27 1-32 0 69 0-52 0-16 0 58 1-4 0-17 1 120 0-67 0-38 0 21 1-17 0 31 0 19 0-54 0-18 0-26 1 87 0-27 0 45 0 18 1-43 0 27 2-18 0-63 0 42 1 13 0-52 0 42 1 34 0-142 0 64 1-20 0 112 0-59 0-43 0 111 1-46 0-59 1-8 0 51 0-40 1-2 0 41 1 53 0-91 0-4 1 84 1-44 0 0 1 47 0 18 0-24 2-2 0 21 0-25 1 10 0-3 1-50 0 48 1-9 0-12 0-9 0-11 0-21 0 29 1-46 0 47 1 122 0-83 0-63 0 21 0 11 0-13 1 30 0-31 0 56 0-66 0 1 0-7 0-8 0 29 0-10 1 63 0-25 0 51 0-96 0 2 0-4 0-17 0 30 0-27 1 40 0 68 0-3 0 3 0 108 0-193 0 8 1 29 0-37 0 29 0 53 0-105 1 84 0 27 1-61 0 41 0-48 0-15 1-35 0 39 0-2 0-87 1 106 0-7 0-28 1-21 0-30 0 80 1-118 0 76 1 7 0-61 0 83 0-79 1 45 0-22 1 29 0-47 1 57 0-52 0 23 0-36 0 54 1 69 0-116 0 71 0 16 0 2 1-13 0 33 0-52 0 10 0-17 0 33 1 106 0-65 0 69 0-108 0-34 0 5 0 6 0-15 0 33 0-1 0 26 0-22 0-11 0-11 0 37 0-9 0-1 1 70 0 54 0 5 0-21 0-65 0 1 0-32 0-33 0-39 0 44 0-11 0 26 0-33 0-29 0 31 0 36 0-12 0-13 0 38 0-25 0-8 1 127 0-41 0 47 0-22 0-102 0-37 0 30 0-19 0 44 0-12 0-27 0 6 0 83 0 12 0-3 0 22 1-97 0 100 0-90 0 56 0-3 0 9 0 4 0-42 0-6 0 0 1 7 0 2 0-3 0-14 0 94 0-36 0-129 0 150 0-59 0 73 0-30 0-5 0-48 0-24 0 36 0 15 0 20 0-28 1-11 0 79 0-25 0-42 0 15 0 17 0-14 0 24 1-68 0 82 0 21 0-63 0-24 0 58 0 41 0-92 0 87 1-107 0 31 0 53 0 7 0-109 0 74 0-79 0 18 0 75 0-86 0 47 0-6 0 16 0-12 1 17 0-53 0 17 0 24 0 10 0-21 0-5 0 67 0-31 0-42 0 36 1-22 0 73 0-59 0 52 0-25 0-17 0-20 0 40 0-3 0-13 1-86 0 37 0 69 0-87 0 25 0 71 0-103 0 16 0 7 0 52 0 26 0 1 1 24 0 2 1-98 1-22 0-9 1 34 1-17 0-55 1 32 0 51 0-39 1-62 0 31 0 60 0-19 0 25 0-105 1 186 0-70 0-117 0-5 0 2 0-10 1 81 0-75 0 47 0-27 0 85 0-120 0 5 0 38 0-8 0 4 1 151 0-48 0-16 0-67 0 43 0-103 0 24 0 7 0 24 0-53 0-1 0-47 0 35 0 46 0-58 0 47 0-15 0 44 0-50 0-23 0 51 0-13 0 37 0-92 0 48 0-38 0 40 0 6 0 21 0-91 0 30 0 21 0-35 0 38 1-16 0-3 0-6 0 22 0-11 0 48 0 4 0-3 0 28 0-38 0 29 0-31 0-15 0 26 0-11 0 16 0-94 0 15 0 11 0 48 0 32 0-16 0-15 0-55 0 60 0-38 0 23 0-42 0 66 0-33 0 31 0-46 0-51 0 78 0-24 0 10 1 80 0-99 0-18 0 29 0-7 0-1 0 22 0 21 0-44 0 38 0-5 0-19 0 18 0 52 0-41 0 0 0-8 0 24 0-3 0-85 0 41 0 4 0 21 0-19 0 46 0-33 0 12 0-12 0-10 0 11 0 11 0 16 0-6 0-61 0 3 0 12 0 23 1 19 0 168 0-223 0 28 0-16 0-6 0 36 0-6 0-23 0 25 0-1 0-11 0 9 0 11 0-17 0 6 0 26 0-19 0 24 0-19 0 6 0-19 0 36 0-40 0-14 0 37 0-40 0 45 0-96 0 29 0 114 0-101 0 27 0-16 1 100 0-40 0-16 0 105 0-137 0-26 0 7 0 27 0 11 0-19 0-7 0 30 0 5 0-15 0 12 0-32 0 19 0 12 0-49 0 22 0-34 0 39 0 9 0-11 0 36 0-41 0 29 1 114 0-87 0-7 0-31 0 35 0-118 0 121 0-123 0 84 0 22 1 59 0 38 0-150 0 5 0 46 1 24 0 105 0-69 0 5 1-20 0 143 0-90 0-15 1-4 0 25 0 16 0 4 0-28 0-45 1-49 0-19 1 78 0-50 1 48 0 28 1-63 1 88 1-110 0 53 1-64 0-12 0 38 0 36 1-92 0-12 0 70 0-54 0 96 0 3 0-64 0 15 1 17 0 32 1 6 0-83 0 111 0-15 1 5 0-62 0 56 0-29 0 50 0-113 0-26 1 121 0 28 0-22 0-112 1 106 0-97 0 21 0-32 0-30 0 39 1 49 0 47 0 7 0 28 0-42 0-72 0 2 0 18 0 26 0 20 0 49 0-123 0-45 0 24 0 10 0-7 0-5 1 96 0 53 0-128 0 9 0-10 0-15 0 4 0-24 1 95 0 20 0-116 0 37 1 149 0-146 0 120 0-101 0 35 0 106 1-117 0-12 1 21 0 39 0-62 1 78 0-70 1 86 0-92 0-6 1 41 0-7 0-5 0-43 1 16 0 52 0-94 0 91 1-18 1 29 0-20 0-14 1-20 0 15 0 47 1 60 0-46 0-5 0-34 1-99 1 143 0-109 0-50 0 47 0 38 1-61 1 80 0-55 0 83 1-94 0 42 0 37 0 13 1-39 0-16 1 39 0 24 0-26 0 11 1 17 0-53 0 14 0-12 1 64 0-29 0 29 0-36 0 8 1 17 0 1 0-98 0 111 0-12 0-21 1-5 0-71 0 63 0 31 0-17 0-7 0 20 0-12 0-9 1 2 0-17 0-11 0 30 0 26 0-14 0-7 0 40 0-40 1 5 0 12 0-9 0-6 1-26 0-18 0 50 0-14 1 24 0-103 0 75 1 32 0-68 0 78 0-52 1-97 0 12 0 83 0-28 0-21 1 56 1-75 0-11 0 81 1 59 1-123 0 90 0-39 0-84 0 7 1 15 0 26 1 14 0 19 0 44 0-59 0-65 0 15 0 6 0-9 1 109 0-1 0-73 0-9 0-28 0 1 1 94 0-76 0 15 0 118 0-144 0-4 0 15 0-3 0 0 0 18 0 8 0-19 0 44 1-28 0 66 0-92 0-17 0 14 0 25 0 31 0 31 0-1 0-28 0 46 1-88 0-7 0 56 0 22 0-20 0 2 0-2 0 5 0 10 0 10 0 39 0-24 0 15 0-18 0 11 1-20 0-10 0 17 0-74 0 22 0 14 0 22 0 29 0 17 0-20 0 4 0-11 0-2 0 18 1-127 0 69 0 9 0 5 0-4 0 16 0 10 0 14 0 8 0 8 0-15 0 19 1-121 0 4 0 33 0 27 0-18 0 38 1 7 1-34 0-52 0 45 0 32 0-101 1 88 0-32 0-20 1 10 0 28 0-34 0 60 0-64 0 44 1 14 0-61 1 76 0-100 1-52 0 66 0 93 0-54 0-13 0-38 0 82 0-21 1 30 0-40 0 8 0-50 0 76 0-66 1 108 0 53 1-83 0 9 0-50 1 136 0-56 0-111 0 20 0 0 0-20 0 164 1-62 0 18 0-53 0 33 0-32 0-61 0 4 0-5 0 12 0 11 0-4 0-30 0 164 0-5 0-2 0-33 1-5 0-72 0 55 0-152 0 83 0-20 0 23 0-42 0-6 0 36 0 109 0 9 1-42 0-50 0-18 0-23 0 4 0 10 0 3 0 134 0 5 0-22 0 6 1-111 0-21 0-3 0-23 0 26 0 4 0 29 0 95 0-13 0-6 0 33 0-10 0-19 1-72 0-46 0 148 0-22 0-17 0 8 1-143 0 5 0 51 0-14 0 35 0-50 0-19 0 9 0 19 0 143 1-128 0-44 0 14 0 15 0-14 0-22 0 38 1 76 0-33 0 41 0-116 1 104 0 6 0 14 0 35 1-161 0 52 0 78 1-126 0-58 0 107 1 16 0-28 0 7 0 25 0-75 0 27 1-20 0 86 0-37 0-51 0-30 1 114 0-59 0 92 0-130 0 5 0-25 0 37 0-16 0 6 0 2 0-3 0 1 1 13 0-16 0 23 0-15 0-13 0 17 1-8 0 186 0-112 0-20 0-24 0-31 0 11 0-79 0 10 0 61 1 96 0-2 0-87 0 67 0-108 0 2 0 53 0-18 0 36 1 28 0 53 0-147 0 19 0 27 0-6 0 42 0-28 0-32 0 38 0 8 0-154 0 64 0 60 0-42 0 25 0-18 0 51 0-40 0 3 0-9 0-28 0 24 1 52 0-73 0 12 0 1 0-35 0 37 0-2 0-9 0 84 0-28 0 2 0 10 0-89 0-39 0 53 0 17 0-21 0 43 0-20 0-17 0 1 0 62 0-56 0-27 0 4 0 17 0 14 0-4 0 59 0-76 0-22 1 79 0-57 0-3 0 11 0 13 0 74 0 1 0-9 0-135 0 24 0 38 0 10 0 5 0-20 0 19 0-1 0-29 0 15 0 2 0 90 0-94 0-9 0-8 0 47 0-6 0 35 1 12 0 28 0-54 0-48 0 4 0 2 0 26 0 50 0-4 0-146 0 8 0 0 0-24 0 1 0 66 0-5 0 6 0-9 0-3 0 53 0-36 0-1 0 70 0-74 0-5 0 49 0-25 0 60 0-27 0 33 0 21 0-100 1 61 0 90 0 80 0-174 0-32 0 12 0 3 0 67 0-47 0-119 0 2 0 21 0-6 0-15 0 78 0-27 0 5 0 62 0-64 0 60 0-32 0 5 0 0 0 1 0-25 0 0 0-22 0 27 0 102 0-132 0 14 0 26 0-9 0-2 1 105 0 27 0 10 0-67 0-117 0-23 0-11 0 60 0 25 1 116 0-27 0 12 0 10 0-190 0-16 0 28 0 22 0-23 1 161 0 6 0 12 0-190 0 9 0 146 0-9 0 60 0-30 1-18 0 84 0-108 0 17 0 11 1 20 0-6 0-94 0 79 0 62 0-44 0-38 0-9 0 39 0-17 0 15 0-22 0 36 0 13 0-37 1 35 0 20 0-68 0 21 0-4 0 15 0-16 0-10 0 10 0 2 0 16 0-23 0-8 0 38 0-32 0 16 1-58 0 150 0-89 0-1 0-23 0 35 0 4 0 3 0-14 0 3 0-8 0 17 0-7 1 109 0 16 0-172 0 23 0 20 0-11 0 20 0 0 0-11 0 63 0-63 0 38 1 73 0 24 0-132 0 22 0 11 0-2 0-10 0-33 1 121 0-52 0 83 0-36 0-84 0-12 0 16 0 8 0-12 0 1 0 19 0-16 0 169 0 7 0-43 1-41 0 24 0-55 0 7 0-41 0 65 0-108 0 17 0-4 0 181 0-13 0 12 0-32 1-55 0-13 0 29 0-88 0-23 0 175 0-2 0 3 0-21 1-27 0-73 0 69 0-38 0-24 0 126 0-19 0 1 0 0 0 16 1-127 0 3 0-38 0 109 0-16 0 44 0-2 0 29 0-15 0-17 0-95 0 41 0-54 0 28 0-52 0 26 1-20 0-1 0 55 0-25 0 69 0-96 0 39 0 10 0 4 0-69 0 60 0-25 0-6 1-7 0 23 0-44 0 38 0 44 0 2 0-59 0 35 0-46 0 36 0 47 1-3 0-98 0 75 0 30 0 6 0-45 0-64 0 3 0 10 0 5 0 34 1-112 0 71 0 50 0 17 0-90 0 43 0 17 0-53 0 46 0-25 0 13 0-9 1 104 0-102 0 11 0 31 0-51 0 3 0 77 0-65 0 32 1 1 0 22 0-23 0-95 0 121 0 22 0-104 0 3 0 67 1-145 0 44 0 52 0 23 0-33 0 2 0 39 0-32 0 14 1 72 0-92 0 45 0-12 0-12 0 71 0-44 0-28 0-2 0-20 0-22 1-51 0 64 0 19 0 6 0 16 0 37 0-25 1-21 0 64 0-87 0 54 0 84 0-93 0 0 0-6 0-37 0 47 0-92 0 31 1-13 0 34 0 13 0-2 0 10 0 30 0-25 1-32 0 24 0 16 0-24 0 23 0-18 0-15 0 47 1-88 0 114 0-124 0 32 0 46 0-21 0 17 0-4 0-18 0-32 0 60 1-8 0 20 0-41 0 35 0-23 0 3 0-25 0 45 0 23 0-14 1-93 0 100 0 34 0-110 0 34 0 39 0-23 0-1 0-17 1-52 0 56 0 5 0-59 0 69 1-72 0 89 0-5 0-16 0 17 0-1 0 13 0-39 0-10 0-4 0 20 1-75 0 84 0-37 0-7 0-27 0 81 0-33 0 51 1-93 0-25 0 97 0-79 0 79 0-76"/></g>
<g filter="url(#bl)">
<path class="v" d="M71.8 295.6V501.4M99.1 295.6V501.4M120.4 295.6V501.4M139.1 295.6V501.4M160.7 295.6V501.4M179 295.6V501.4M196.9 295.6V501.4M202.7 295.6V501.4M219 295.6V501.4M234.1 295.6V501.4M242.8 295.6V501.4M251.3 295.6V501.4M257.8 295.6V501.4M271.3 295.6V501.4M282.5 295.6V501.4M284 295.6V501.4M292.5 295.6V501.4M299.2 295.6V501.4M305.3 295.6V501.4M313.6 295.6V501.4M318 295.6V501.4"/>
<path class="v" d="M52.6 390.7H329.1"/>
<path class="o" style="stroke-width:3.1" d="M54.2 378.7H63.3M64.9 386.9H69.8M73 383.1H83.8M84.4 401.8H88.5M89.6 384.1H98.1M100.4 399.6H104.6M105 420.2H107.5M108.6 398.3H118.8M122.6 384.6H129.2M128.6 397.7H137.6M141.2 362.8H145.4M145.4 397.1H152M152.1 402.1H159.8M162 386.3H169M168.4 398.3H177.8M181 384.1H192.7M193 368.9H195.8M198.4 362.8H201.6M204.1 400.7H206.6M207.1 387.8H211M211.5 402.5H215.7M220.6 422.1H222.4M222.6 417.7H224.4M224.2 400.7H226.6M226.4 371.1H233.2M235.4 383.3H241.8M244.1 401.2H246.8M247.3 370.8H250.4M254.6 421.2H257.2M259 387.1H261M265.6 397.6H268.2M268 373.6H269.8M272.4 387.6H273.6M275.4 400.6H278.6M279.1 386.3H281.6M286.4 388.5H290.6M289.4 370.8H294M294.6 381.9H298M301.2 398.2H302.4M309.4 386.3H310.6M320.8 444.6H322.2M323.9 437H325.3M321.8 423.7H323.2M325.5 426.9H326.9"/>
<path class="o" style="stroke-width:2.8000000000000003" d="M54.1 367.9h.3M63.2 367.3h.3M69.1 355.2h.3M68.8 365.4h.3M69 371.7h.3M113.6 390.7h.3M113.4 379.9h.3M120.8 393.9h.3M139.5 390.7h.3M145.2 352h.3M154.8 383.1h.3M168.2 379.3h.3M180 371.1h.3M186 409.8h.3M197.8 380.6h.3M203.8 417.7h.3M216.2 385h.3M217.8 397.7h.3M222.2 392h.3M244.2 375.2h.3M252.8 374.9h.3M252.4 387.6h.3M263.7 340.6h.3M263.7 355.2h.3M262.5 367.3h.3M273.6 354.6h.3M292.4 357.4h.3M294.2 388.5h.3M286.2 406.6h.3M294.6 410.4h.3M301.7 378h.3M303.5 374.4h.3M302.5 440.8h.3M308.1 359h.3M310.6 345.7h.3M310.6 375.2h.3M312.1 312.1h.3M315.1 387.8h.3M315.1 396.4h.3M316.6 409.1h.3M318.2 489h.3"/>
<rect class="f" x="52.6" y="295.6" width="276.5" height="205.8"/>
<path class="k" d="M52.6 295.6V501.4"/>
<path class="k" d="M49.8 295.6h2.8M49.8 327.3h2.8M49.8 359h2.8M49.8 390.7h2.8M49.8 422.4h2.8M49.8 454.2h2.8M49.8 485.9h2.8"/>
</g>
<path d="M169.7 293.1H174.5" stroke="#333" stroke-width="1"/>
<g filter="url(#bt)"><text class="t" x="46.2" y="298.1">1.5</text><text class="t" x="46.2" y="329.8">1.0</text><text class="t" x="46.2" y="361.5">0.5</text><text class="t" x="46.2" y="393.2">0.0</text><text class="t" x="46.2" y="424.9">−0.5</text><text class="t" x="46.2" y="456.7">−1.0</text><text class="t" x="46.2" y="488.4">−1.5</text><text class="x" transform="translate(61.1 512.8) rotate(-60)" y="2">chr1</text><text class="x" transform="translate(84.5 512.8) rotate(-60)" y="2">chr2</text><text class="x" transform="translate(108.8 512.8) rotate(-60)" y="2">chr3</text><text class="x" transform="translate(128.8 512.8) rotate(-60)" y="2">chr4</text><text class="x" transform="translate(149 512.8) rotate(-60)" y="2">chr5</text><text class="x" transform="translate(168.9 512.8) rotate(-60)" y="2">chr6</text><text class="x" transform="translate(187.1 512.8) rotate(-60)" y="2">chr7</text><text class="x" transform="translate(198.9 512.8) rotate(-60)" y="2">chr8</text><text class="x" transform="translate(209.9 512.8) rotate(-60)" y="2">chr9</text><text class="x" transform="translate(225.6 514.4) rotate(-60)" y="2">chr10</text><text class="x" transform="translate(237.5 514.4) rotate(-60)" y="2">chr11</text><text class="x" transform="translate(246.1 514.4) rotate(-60)" y="2">chr12</text><text class="x" transform="translate(253.6 514.4) rotate(-60)" y="2">chr13</text><text class="x" transform="translate(263.7 514.4) rotate(-60)" y="2">chr14</text><text class="x" transform="translate(276 514.4) rotate(-60)" y="2">chr15</text><text class="x" transform="translate(282.4 514.4) rotate(-60)" y="2">chr16</text><text class="x" transform="translate(287.4 514.4) rotate(-60)" y="2">chr17</text><text class="x" transform="translate(295 514.4) rotate(-60)" y="2">chr18</text><text class="x" transform="translate(301.4 514.4) rotate(-60)" y="2">chr19</text><text class="x" transform="translate(308.6 514.4) rotate(-60)" y="2">chr20</text><text class="x" transform="translate(314.9 514.4) rotate(-60)" y="2">chr22</text><text class="x" transform="translate(322.4 513.1) rotate(-60)" y="2">chrX</text><text class="yl" transform="translate(27.3 397.5) rotate(-90)">Copy ratio (log2)</text><text class="lt" x="1.9" y="284.6">b</text><text class="tt" x="52.5" y="284.2">UCP</text></g></g>
<g><linearGradient id="gBR" x1="0" y1="0" x2="0" y2="1"><stop offset="0.000" stop-color="#585858" stop-opacity="0.001"/><stop offset="0.036" stop-color="#585858" stop-opacity="0.002"/><stop offset="0.071" stop-color="#585858" stop-opacity="0.005"/><stop offset="0.107" stop-color="#585858" stop-opacity="0.011"/><stop offset="0.143" stop-color="#585858" stop-opacity="0.024"/><stop offset="0.179" stop-color="#585858" stop-opacity="0.046"/><stop offset="0.214" stop-color="#585858" stop-opacity="0.084"/><stop offset="0.250" stop-color="#585858" stop-opacity="0.141"/><stop offset="0.286" stop-color="#585858" stop-opacity="0.219"/><stop offset="0.321" stop-color="#585858" stop-opacity="0.312"/><stop offset="0.357" stop-color="#585858" stop-opacity="0.408"/><stop offset="0.393" stop-color="#585858" stop-opacity="0.495"/><stop offset="0.429" stop-color="#585858" stop-opacity="0.563"/><stop offset="0.464" stop-color="#585858" stop-opacity="0.606"/><stop offset="0.500" stop-color="#585858" stop-opacity="0.621"/><stop offset="0.536" stop-color="#585858" stop-opacity="0.610"/><stop offset="0.571" stop-color="#585858" stop-opacity="0.571"/><stop offset="0.607" stop-color="#585858" stop-opacity="0.508"/><stop offset="0.643" stop-color="#585858" stop-opacity="0.425"/><stop offset="0.679" stop-color="#585858" stop-opacity="0.332"/><stop offset="0.714" stop-color="#585858" stop-opacity="0.241"/><stop offset="0.750" stop-color="#585858" stop-opacity="0.163"/><stop offset="0.786" stop-color="#585858" stop-opacity="0.103"/><stop offset="0.821" stop-color="#585858" stop-opacity="0.062"/><stop offset="0.857" stop-color="#585858" stop-opacity="0.036"/><stop offset="0.893" stop-color="#585858" stop-opacity="0.021"/><stop offset="0.929" stop-color="#585858" stop-opacity="0.012"/><stop offset="0.964" stop-color="#585858" stop-opacity="0.007"/><stop offset="1.000" stop-color="#585858" stop-opacity="0.004"/></linearGradient>
<clipPath id="cBR"><rect x="403.3" y="298.2" width="276.5" height="205.3"/></clipPath>
<g clip-path="url(#cBR)" fill="url(#gBR)">
<rect x="403.3" y="371.2" width="14.9" height="61.4"/>
<rect x="420.4" y="358.5" width="2.4" height="61.4"/>
<rect x="422.8" y="364.2" width="3.5" height="61.4"/>
<rect x="426.3" y="367.4" width="4.5" height="61.4"/>
<rect x="430.8" y="355.1" width="3" height="61.4"/>
<rect x="433.8" y="372.9" width="16.5" height="61.4"/>
<rect x="450.3" y="373.9" width="10.5" height="61.4"/>
<rect x="460.8" y="331.8" width="11" height="61.4"/>
<rect x="471.8" y="377" width="18.5" height="61.4"/>
<rect x="490.3" y="353" width="6.5" height="61.4"/>
<rect x="496.8" y="376.3" width="15" height="61.4"/>
<rect x="511.8" y="344.5" width="12.5" height="61.4"/>
<rect x="524.3" y="346" width="6" height="61.4"/>
<rect x="530.3" y="358.2" width="2.5" height="61.4"/>
<rect x="532.8" y="371.9" width="15.5" height="61.4"/>
<rect x="548.3" y="357.4" width="2" height="61.4"/>
<rect x="550.3" y="370.2" width="3.5" height="61.4"/>
<rect x="553.8" y="376.3" width="5.7" height="61.4"/>
<rect x="561.6" y="374.1" width="8.7" height="61.4"/>
<rect x="570.3" y="350.4" width="4.5" height="61.4"/>
<rect x="574.8" y="375.8" width="10.5" height="61.4"/>
<rect x="585.3" y="376.3" width="8.5" height="61.4"/>
<rect x="593.8" y="356.5" width="8.5" height="61.4"/>
<rect x="602.3" y="373.9" width="6.5" height="61.4"/>
<rect x="608.8" y="370.2" width="9" height="61.4"/>
<rect x="617.8" y="353.9" width="4.5" height="61.4"/>
<rect x="622.3" y="369" width="3" height="61.4"/>
<rect x="625.3" y="365.6" width="9.5" height="61.4"/>
<rect x="634.8" y="376.3" width="9" height="61.4"/>
<rect x="643.8" y="374.9" width="6.5" height="61.4"/>
<rect x="650.3" y="373.6" width="6" height="61.4"/>
<rect x="656.3" y="367.8" width="11.5" height="61.4"/>
<rect x="667.8" y="429" width="7" height="61.4"/>
<rect x="674.8" y="409.5" width="5" height="61.4"/>
</g>
<g filter="url(#bp)" transform="scale(.5)"><path class="p" d="M807 797l0-7 0 10 0 31 1-4 0-40 0 22 0 10 0-10 0-3 0-4 0-16 0 14 0 2 1-24 0 53 0 3 0-38 0 40 0-39 0 16 0 25 0-48 0-12 0 50 0-31 0 39 0-43 0 8 1 9 0-1 0-19 0 9 0 14 0-4 0 21 0-23 0-3 0-31 0 22 0 20 0 4 0 3 0-28 0-14 1 22 0 24 0-44 0-3 0 15 0 29 0-42 0 7 0 26 0-7 0-1 0 26 1-35 0 28 0-30 0-6 0 13 0-25 0 32 0-20 0 16 0-13 0 1 0-9 1-16 0 50 0-25 0 2 0 14 0-12 0 23 0-22 0 7 0 19 0-31 1-15 0 34 0-7 0-19 0 25 0-12 0 22 0-12 0-20 0-2 0-11 0 49 1 17 0-65 0 24 0 19 0-32 0 9 0 25 0-37 0 24 0 13 0-14 0-11 0-10 0 8 1-6 0 1 0 10 0-11 0 41 0-13 0-31 0 19 0 18 0-19 0-21 1 41 0 11 0-52 0 28 0-31 0 28 0 14 0-20 0 31 0-11 0-43 0 36 0-1 0-21 0 28 0-50 0 14 0 12 1 4 0-18 0 24 0 17 0-15 0 3 0-6 0 32 0-4 0-36 0 25 0-11 0 0 0 1 0 0 1-2 0-8 0-22 0 22 0 20 0-22 0 11 0-28 0 38 0-42 1 60 0-55 0 21 0-19 1 39 0-29 0 1 0 14 0-11 0 30 0-21 0 7 0-31 0 48 0-28 0 1 1-9 0-21 0 16 0 19 0-22 0-9 0 51 0-38 0 29 0 8 0 0 0-53 1 12 0-23 0 63 0-38 0 10 0-8 0 3 0 3 0 18 0 11 1-40 0 21 0-10 0 39 0-37 0 0 0 12 0-45 0 53 0 2 0-43 0 34 0-34 1 18 0 22 0-31 0 40 0-32 0 6 0 32 0-57 0 32 0-4 0-10 0 12 0-3 0 2 0 22 0-2 0-21 0 15 1-11 0-4 0 14 0 6 0 11 0-41 0 13 0 23 0-3 0-24 0 20 1-17 0-8 0 2 0-36 0 62 0-19 0 22 0-25 0 5 0-2 0 13 0-2 0-28 0-8 0-4 0 28 0 2 0-13 1-3 0 44 0-30 0 6 0-6 0-24 0 17 0 31 0-55 0 60 1-32 0 14 0-29 0 37 0-19 0-7 0-9 0 18 0-44 0 20 0 40 0-25 0 4 0-6 1-11 0 37 0-52 0 18 0-7 0-16 0 42 0-17 0-9 0 16 1 8 0 1 0-15 0 1 0 10 0-3 0 3 0-8 1 14 0-2 0-9 0-2 0 11 0-17 0 1 0 13 0-18 0 31 0 0 0-28 1 32 0-10 0-27 0 7 0 31 0-57 0 47 0-29 0 38 0-36 0 22 0-13 0 14 0-23 1 16 0-9 0 6 0-16 0 27 0 1 0 10 0-13 0-23 0 16 0 2 0-27 0 29 1-23 0 58 0-41 0-23 0 5 0 19 0 9 0 3 0 27 0-59 0 11 0 8 0-21 0 4 0 9 0 25 0-9 0-7 0 19 1-35 0 1 0 51 0-45 0 3 0 11 0-12 0 0 0 0 0 8 0 13 0 14 0-17 0 25 0-32 0 9 0 1 1-9 1-40 3 7 0 18 0-3 0-31 0 21 0-11 0 45 0-32 0 19 0-17 1 20 0-20 0 14 0-5 0-9 0-32 0 0 0 30 0 36 0-14 0-16 0 1 0 4 1-14 0-3 0 21 0-27 0 2 0 4 0 22 0-29 0-11 0 17 0-12 0 10 1 30 0 9 0-66 0 20 0 25 0-29 0 41 0-19 0 29 0-36 0 37 0-28 0-19 1 15 0-10 0 36 0-29 0 4 0 7 0-11 0 7 0-4 0-1 0-20 0 18 0 10 0 6 0-8 0-14 1 39 0-24 0-41 0 13 0 16 0-24 0 37 0-7 0 4 0-15 0 42 1-32 0-14 0 7 0 31 0-20 0 17 0-10 0-14 0 8 0 10 0-25 1 32 0-19 0 37 0 8 0-39 0 10 0-32 0 33 0 2 0-45 0 44 0-8 0-35 0 34 1-24 0 33 0-4 0-11 0-16 0 43 0-26 0 5 0-20 0-7 0 8 0 21 0-15 0 1 1 2 0 37 0 2 0-7 0-27 0-13 0 23 0-9 0-12 1 43 0-18 0-10 0-16 0 7 1 8 0-20 0 41 0-18 0-16 0 4 0 10 0 25 0-42 1-6 0-4 0 32 0-20 0 47 0-31 0-39 0 9 0 13 0 11 0-20 1 32 0 3 0-10 0-23 0 40 0-9 0-3 0-8 0 25 0-10 0 19 0-40 0 5 0 8 0-29 0 28 0-42 0 29 0 27 0-23 0-5 1 20 0-22 0 5 0 40 0-12 0-31 0 12 0-1 0 17 0 7 0-10 0-9 0-5 0 5 0-14 0 13 0-5 0-14 0 20 0 20 0-29 0 10 1 17 0-15 0 5 0-42 0 42 0-53 0 46 0-15 0 22 0 2 0 0 0-8 0-28 0 4 0 20 0-17 1-13 0 34 0 1 0 7 0-20 0-11 0 11 0 20 0-3 0-42 0 66 0-24 0 5 0 8 0-16 0-14 0 21 0 0 1-3 0 9 0-14 0 34 0-35 0-19 0 7 0-15 0 42 0-28 0 1 1-27 0 64 0-52 0 44 0-43 0 8 0-8 0 12 0 23 0 14 0-25 0 8 0 10 0-33 0 1 0 26 0-13 0-9 0 39 0-13 1-3 0 19 0-33 0-30 0 62 0-10 0-49 0 25 0-20 0 17 0-11 0 25 0-23 0 8 0 18 0-20 1 41 0-11 0-37 0 16 0 6 0 4 0 11 0-21 0-24 0 25 0 36 0-70 0 26 0-21 1 32 0-23 0-12 0 32 0 27 0-59 0 38 0-70 0 49 0-7 0 34 0-65 0 51 0-14 0-16 0 26 1-10 0-26 0 36 0-41 0 38 0-10 0-15 0 6 0-23 0 35 0 24 0-7 0-23 0-6 0 59 1-65 0 28 0 18 0-26 0 9 0 2 0-56 0 32 1 1 0 5 0-8 0 3 0 23 0-51 0 25 0-16 0 11 0 17 0 29 0-55 0 34 0-27 0-2 0 18 0-22 0 2 0 29 0 11 1-22 0 20 0-47 0 47 0-52 0 12 0-17 0 62 0-58 0 31 1-4 0 29 0-52 0 56 0-23 0-13 0 28 0-31 0 23 0 14 0-2 0-2 0-17 0 16 1 15 0-22 0 2 0-13 0-36 0-5 0 38 0 5 0-6 0-20 0 58 0-57 0 43 1-14 0 28 0 7 0-65 0 59 0-11 0-13 0-9 0-8 0 59 1 4 0-37 0-5 0 18 0-29 0 49 0-10 0-14 0-17 0 45 0-37 0 13 0-3 0-13 0 21 0-11 1 20 0-18 0 28 0-11 0-24 0-2 0-13 0 24 0 0 1 10 0-37 0 5 0 47 0-18 0-10 0-7 0 9 0 11 0-22 0-8 0 10 0 4 1-10 0 19 0 9 0-7 1 28 0-44 0 16 0-16 0 25 0-22 0 1 0 12 0-1 0 4 0 10 0-15 0-41 0 64 1-19 0-3 0-6 0 3 0-9 0-16 0 26 1-3 0 10 0-5 0-41 0 14 0 15 0-29 0 29 0 0 0 1 0 13 0-8 1-9 0 17 0-41 0 33 0-6 0-10 0 33 0-21 0 27 0-20 0-28 1 43 0-14 0 25 0-51 0 16 0 0 0-9 0 14 0-19 0 25 0-20 0 27 0 14 0-14 0-32 0 10 1-6 0 14 0 39 0-34 0-3 0-2 0 18 0 3 0-26 0 29 0-14 0 25 0-24 0 25 1-44 0-25 0 47 0 22 0-53 0 32 0 5 0-40 1 45 0-26 0 16 0-17 0 2 0 34 0-44 0 0 0 31 0-22 0-16 0 6 0 17 0-21 0 41 1-43 0 4 0-6 0-2 0 19 0 17 0-10 0 13 0-3 0 4 0-6 0-13 0 5 0-5 0 29 0 3 0-29 0 35 1-44 0 20 0-20 0 38 0-3 0-43 0 14 0 17 0 4 0-35 0 40 0-55 1 15 0 55 0-44 0 5 0-24 0 18 0 29 0-8 0-5 0 4 0-4 0-40 1 8 0 9 0 12 0-13 0 13 0 11 0-4 0 1 0-34 0 16 0 2 0-8 0 42 0-59 1 54 0 3 0-2 0-18 0-10 0-14 0 43 0-43 0 3 0 46 0-30 0-1 0 6 0 5 0-6 0-12 0 24 0-18 0 10 1-8 0 7 0-10 0 7 0 14 0 3 0-2 0-26 0 4 0 36 0-24 0 10 0-21 0 20 1-8 0-2 0-23 0 17 0 5 0-1 0-1 0-17 0-1 0 38 0-29 0 12 0 13 0-26 0-11 1-9 0 8 0 28 0 11 0-43 0 43 0-17 0 18 0-14 0 10 0-12 1-20 0-9 0 22 0 26 0-23 0 2 0-28 0 19 0-3 0-4 0 20 0 6 0-18 0 35 0-67 0 61 0-29 0 10 1-24 0 9 0 9 0-15 0 31 0-38 0 25 0-32 0 43 0-7 0 4 0 14 1-24 0-29 0 63 0-28 0-16 0 9 0-23 0 51 0-8 0-4 0-13 1-22 0 39 0-25 0 7 0 0 0 22 0-42 1-3 0-14 0 66 0-14 0-21 0-3 0 26 0-6 0-8 0-21 0 20 0-32 0 39 0 0 0 2 0-45 0 47 0-44 0 8 1-2 0 28 0 19 0-28 0 10 0-17 0 17 0-9 1 13 0-2 0 25 0-44 0-5 0 25 0 9 0-13 0-9 0 27 0-8 0 15 0-27 0 9 0 11 0-37 1 21 0-3 0-3 0 22 0-15 0-38 0 19 0 5 0 9 0-1 0 30 1-34 0 11 0 19 0-38 0 3 0 26 0-35 0 32 0 16 0-42 0 0 0-5 0 1 0 21 0-4 0-17 0 7 0-19 1 43 0-21 0-17 0 5 0 18 0-8 0-3 0 8 0 12 0-27 1 21 0 16 0 10 0-19 0-19 0-13 0 28 0 11 0-36 0 12 0 2 0-11 0 28 1 15 0-42 0 25 0 15 0 1 0 0 0-59 0 34 0-20 0-6 0 54 0-21 0-4 0-6 0-5 0 21 0 15 0-14 1-12 0 21 0-28 0 11 0 6 0-11 0 3 1-3 0-19 0-3 0 44 0-31 0 1 0 10 0-27 0 22 0-6 0 21 0 9 0-11 1 2 0-6 0 3 0-26 0 32 0-40 0 63 0-41 0-8 0 5 0 3 0 11 0-20 0-3 0 26 1 13 0-52 0-9 0 54 0-50 0 35 0-35 0 40 0-19 0 16 0 8 0-21 0 36 0-45 0 23 0 6 0 10 1-37 0-8 0 44 0-29 0-15 0-7 0 51 0-7 0-26 0 7 0-17 0 31 0-1 0 1 0-6 0-2 0-15 0 19 0-25 0 32 0-44 0 32 1 3 0 2 0-4 0 6 0-8 0 25 0-36 0-7 0 11 0 5 0 7 1 21 0-49 0 19 0 10 0-10 0-1 0-6 0 30 0-1 0-34 0 29 0-35 0 51 0-11 0 2 0-16 1 4 0-12 0 4 0 7 0-1 0-10 0 25 0-42 0 5 0 25 0 5 0 17 0-26 0 2 0 23 0-35 0-12 0 56 0-34 1-18 0 43 0-20 0-27 0 48 0-55 0-2 0 22 1 8 0-2 0 1 0-20 0 42 0-55 0 58 0-10 0-38 0 33 0-11 0 1 0-5 1 30 0-27 0-7 0 25 0 5 0-27 0-10 0 2 0 1 0-11 0 34 0-15 0 5 0-7 0 1 0-13 0 34 0 10 1-19 0-35 0 35 0 8 0-26 0 13 0 2 0-1 0 2 0 1 0 1 1-18 0 40 0-34 0 24 0-24 0-4 0 17 0-31 0 31 0 1 0-29 0 20 1-15 0-16 0 6 0 17 0-10 0 31 0-4 0-5 0-12 0 13 0-14 0 16 0-20 0 9 0 13 0-21 0 20 0-22 0 28 1-11 0 12 0 8 0-36 0 12 0-23 0 24 0-14 0 41 0-38 1-12 0 22 0 6 0 4 0 5 0 5 0 1 0-24 0-14 0 28 0 9 0-40 0 27 0-19 0 18 1-16 0 4 0-10 0 46 0-46 0 1 0-6 0 47 0-13 1 1 0 3 0-32 0 55 0-32 0-10 0 26 0-37 0 23 0 6 1-16 0-4 0 36 0-69 0 57 0-15 0-29 0 26 0-14 0 35 0 9 0-26 0-30 0 7 1 47 0-14 0-14 0 21 0-10 0-4 0-1 0 30 0-47 0-17 0 51 0-28 0 22 0-6 1-99 0 76 0-26 0 59 0-19 0 2 0 4 0-11 0 4 0-19 0 40 0-90 0-20 0 98 1-92 0 5 0-8 0 12 0 14 0-14 0 91 1-83 0-38 0 23 0-11 0 14 0-4 0-12 0 19 0-4 0 1 0-28 1-3 0 21 0 7 0-13 0-29 0 13 0 9 0-23 0 46 0-25 0 50 0-22 0-14 0-4 0 12 0-27 1-12 0 38 0 18 0-42 0-8 0-5 0 28 0-7 1-4 0 3 0 4 0-28 0 33 0-21 0 18 0 25 0-19 0 26 0-20 0 19 0-40 1 7 0-18 0 56 0-21 0 11 0 11 0 3 0-12 0-14 0-20 0 42 0-15 0-37 1 8 0 12 0-21 0 45 0-7 0 0 0-46 0-5 0 5 0 25 0 11 0 6 0-29 0 48 0-41 0 21 0-42 0 49 1-22 0-13 0-4 0 45 0-29 0 9 0 23 0-6 0-1 0-20 0 8 0-17 0 34 0-6 0-11 0-26 0-6 0 1 0 33 0-20 0 5 0 5 1-11 0-8 0 34 0-34 0 12 0 44 0-53 0 13 0 40 0-24 0-17 0 17 0-8 0 4 0-36 1 1 0 65 0-31 0-14 0-19 0 28 0-6 0 20 0-7 0-3 0 27 0-10 0-30 0 28 0 0 0-15 1 3 0 5 0-10 0-15 0-5 0-8 0 42 0 10 0-7 0-9 0-16 0-24 1 5 0 55 0-32 0 23 0-28 0 38 0-3 0-22 0 4 0 21 0-24 1-1 0 2 0-38 0 41 0-22 0-9 0-7 0 19 0-2 0-20 0 37 0 16 0-28 0-6 0-14 1 21 0-16 0 14 0 25 0-18 0 2 0 11 0-22 0 5 0 3 0 20 0-11 1 6 0-28 0 16 0-22 0 47 0-22 0-10 1-4 0 22 0 1 0-1 0-4 0-34 0-2 0 24 0 10 1-8 0 28 0 8 0-31 0-38 0 42 0 9 0-32 0 22 0-14 0 30 0 3 0-42 0-5 0 21 0-31 0 33 0-1 0-4 1 13 0-13 0-27 0 30 0 23 0-26 0 6 0-17 0-6 0-11 0-6 0 25 0 35 0-3 1-39 0 5 0-6 0 43 0-56 0 6 0 30 0-13 0 14 0-17 0 2 0-3 0 2 0 47 0-47 0 3 0 6 0 8 0-16 1 26 0 0 0-34 0 19 0-35 0 18 0 46 0-8 0-10 0-19 0-3 0 46 0-14 0-27 0-20 0 37 0-3 0-17 0-17 1 130 0-119 0 97 0-96 0-14 0-2 0 112 0-95 0 131 0-134 0 96 0 8 0-76 0-17 0 6 0 93 0-84 1 93 0-5 0-18 0 23 0-19 0 10 0 3 0-11 0 3 0 16 0-2 0 7 0-30 0 21 0-12 0 2 0-28 0 21 0-24 1 51 0-47 0 56 0-44 0 32 0 13 1-33 0-32 0 10 0 17 0 9 0 4 0-36 0 35 0-17 0-24 0 34 0-2 0-36 0 51 0-30 0 8 0 2 0-15 1 14 0 12 0-13 0-7 0 31 0-25 0 7 0 38 0-19 0-15 1 2 0-36 0 34 0 14 0 16 0 3 0-13 0-60 0 34 0-5 0 28 0-11 0-31 0 8 0-18 0 30 1-3 0 9 0-20 0-3 0 25 0 5 0 2 0-10 0 7 0 11 0-30 0-17 0 45 0-38 0 23 1 28 0-25 0 12 0-6 0-1 0-14 0-25 0 16 0 29 0-23 0 26 0-11 1-21 0 37 0-33 0 23 0-11 0-3 0-1 0 33 0 4 0-28 0 2 0-18 0 31 0-9 0 11 1-17 0 12 0 5 0-16 0-10 0-14 0 6 0 4 0-18 0 26 0 7 0-37 0 18 0 23 0 18 1-47 0 45 0-48 0 22 0-17 0 29 0-7 0 11 0-18 0 29 0-47 0 2 1-1 0 6 0 13 0 19 0-13 0 11 0-23 0-3 0 35 0-6 0-51 0 24 1 10 0-2 0 25 0-51 0-1 0 6 0 28 0 14 1-27 0 5 0 23 0 1 0-27 0-3 0 12 0-9 0-18 0 21 0 5 0 6 0 23 1-35 0 27 0-22 0 9 0-37 0 39 0 8 0-32 1-3 0 17 0 1 0 5 0-29 0-15 0 20 0-23 0 24 0-10 0 4 0 31 0-8 0 0 1-13 0-10 0-9 0 16 0 14 0-9 0-24 0 22 0-2 0-13 0 14 0 4 0-13 0 19 0-8 0-4 1-18 0 46 0-31 0-24 0 11 0 28 0 23 0-55 0-11 1 25 0 22 0-18 0 37 0-34 0 12 0-9 0 9 0 22 0-30 1-9 0-17 0 28 0-17 0 53 0-47 0-11 0 24 0-5 0-9 0 23 0 10 1-25 0 21 0-49 0 25 0-3 0 14 0 2 0 24 0-55 0 15 1 13 0-8 0-1 0 3 0-18 0 39 0-13 0-3 0-18 0 25 0-9 0 30 0-32 1 14 0-34 0 26 0 13 0 11 0-44 0 4 0 27 0 4 0-52 0 37 0-19 0-10 0 26 0-20 0 2 0 17 0-15 0 3 0-11 0 31 0-11 1-3 0-3 0 19 0-23 0-9 0 35 0-4 0 0 0-35 0 8 0 19 0 29 0-36 0-8 1-1 0 27 0-41 0 9 0 23 0-10 0-28 0 39 0 17 0-11 0 23 0-18 0-37 0 28 0 20 0-46 1-2 0 27 0-33 0 47 0 1 0-44 0 42 1 1 0-18 0 19 0-24 0 11 0-33 0 21 0 1 1-3 0-8 0 32 0-2 0-23 0 26 0-3 0-52 0 47 0 2 0-36 1 60 0-65 0 5 0 61 0-40 0 18 0 4 0-24 0 29 0-39 0 3 0-3 0 6 0 29 0-4 1-15 0 16 0-9 0 0 0-11 0-18 0 33 0 3 0-24 0-4 0 9 0 5 1 11 0 25 0-24 0-25 0-10 0 24 0-11 0-11 0-19 0 39 0-32 1 50 0-15 0 19 0-39 0 24 0 16 0-9 0-44 0 21 0 17 0-9 0-10 0 14 0 31 0-15 0-17 0-25 1 1 0 32 0 4 0-17 0-8 0 29 0-9 0 24 0-25 0-26 0 30 0-5 0-25 0-19 1 26 0-4 0 23 0-12 0 21 0-56 0 48 0 8 0 7 0-39 0 13 0 15 1-3 0-21 0-4 0 37 0 6 0-40 0 32 0-11 0-27 0 29 0-4 0-36 0 7 1 5 0 32 0-22 0 30 0-26 0 31 0-41 0 18 0 6 0 17 0-11 1-7 0-18 0 26 0-18 0-11 0 14 0 7 0-12 0 30 0-31 0 29 0-21 1 4 0-26 0 50 0-27 0-29 0 27 0-28 0 52 1-90 0 10 0-16 0 23 0 19 0-17 0-19 0 8 0 50 0-36 0-43 0 43 1-14 0 17 0-18 0 42 0-59 0-7 0 26 0 15 0-39 0 16 0 0 0-1 0 11 0-5 0 6 0 18 1-17 0 13 0 8 0-13 0-15 0 5 0 6 0 13 0-28 0 2 0 9 1 17 0 8 0-20 0-21 0 15 0 12 0-19 0-1 0 0 0-3 0-11 0 2 0 0 0 15 1 13 0 18 0-7 0 6 0-27 0-28 0 30 0-4 0 20 0-29 0 18 0 26 1-10 0 3 0-39 0 33 0-3 0 18 0-41 0 12 0 17 0-56 0 32 0-10 0 6 1-2 0 28 0-3 0 12 0-51 0 26 0-4 0 11 1-21 0-19 0 44 0-27 0 8 0 5 0 40 0-28 0 17 0-64 0 38 0 20 0-19 0 11 0-20 0 16 0-5 1 13 0-24 0-12 0 41 0-26 0 28 0-6 0-40 0 7 0-4 0 36 0 2 0-48 0 21 1 15 0-3 0-33 0 15 0-13 0 32 0-17 0 35 0-4 0-30 0 28 0-19 0 8 0-37 0 62 1-36 0-10 0 5 0 32 0-29 0-5 0 24 0-44 0 11 0 2 0 44 0-21 0-29 0 21 0-5 0-15 0 31 0-11 0-16 1 43 0-24 0 23 0-40 0 41 0-26 0 9 0 23 0-24 0 8 0 5 1 2 0-38 0 42 0-16 0-31 0 4 0 48 0-10 0-50 0 42 0-38 0 18 0 9 0 10 0-8 0-13 0-1 0-7 1 53 0-28 0 67 0-39 0-26 0 27 0 32 0-44 0 9 0 42 0-38 0-20 0 13 1 17 0-12 0-24 0 36 0 25 0-51 0 53 0-56 0 3 0 47 0-52 0 15 0 9 0 22 1-38 0 25 0 7 0-33 0 27 0 5 0 17 0-45 0 6 0 15 0-25 0 13 1 7 0-1 0-6 0 1 0 40 0-6 0-14 0 9 0-17 0-6 0 2 0 29 0-14 1-9 0-1 0 27 0-49 0 7 0 7 0 0 0 20 0-22 0-18 0 7 0-4 0 7 0 38 0-19 0-31 0 61 1-2 0-2 0-30 0 4 0 1 0-4 0 27 0-59 0 16 0 15 0-6 0 38 0-26 0 1 1 4 0-12 0 31 0-30 0-10 0 40 0-24 0-37 0 42 0 26 0-19 0-18 0 14 0 6 1 3 0-7 0-10 0 20 0-15 0 2 0 13 0-45 0 28 0-30 0 32 0 1 1 5 0-31 0 5 0-15 0-4 0 29 0-2 0 30 0-42 0 1 0-17 0 43 0 2 0 3 1-2 0-25 0-4 0-9 0 40 0-38 0 41 1-34 0 9 0-10 0-7 0 18 0-4 0 19 0-1 0 20 0-9 0-1 0-28 0 7 0 30 0-47 1 32 0-34 0 16 0 15 0 8 0-25 0 4 0 22 0 6 0-11 0-30 0 19 0-4 0-23 1-11 0 63 0-27 0-2 0-1 0-2 0-25 0-4 0 44 0-13 0 20 0-9 0 25 0-46 0-8 0 28 0-6 0-1 0-29 0 49 1-51 0 57 0-32 0-7 0 3 0-4 0-5 0 52 0-39 0 10 0 0 1 7 0 12 0-17 0 1 0-20 0 17 0-20 0 25 0-15 0 4 0-12 1 14 0-20 0 4 0 16 0-1 0-28 0 30 0-25 0-4 1 55 0-10 0-3 0-13 0 10 0-12 0 18 0-4 0-42 0 37 1 1 0-36 0 11 0 35 0-3 0-5 0-13 0-6 0 44 0-8 0-8 0-22 0-10 1 0 0 40 0-19 0 8 0-55 0 37 0 3 0-1 0 4 0 18 0-30 0 26 0 9 0-15 1-10 0-20 0-8 0-9 0 57 0-10 0 0 0-16 0 4 0-6 0 24 0-31 1 32 0-28 0 16 0 23 0-23 0-43 0 60 0-48 0 39 0-22 0 21 0-36 0 45 0 2 0-32 0 0 0 23 1-36 0 27 0 4 0-35 0 40 0-28 0-26 0 15 0 7 0-23 0 28 0 6 0-14 1 53 0-73 0 72 0-52 0 22 0-16 0 19 0-32 0 43 0-19 0 32 0-72 0 48 0-9 0-17 0 25 0-30 0 40 0-4 1-23 0 40 0-13 0-32 0 6 0 22 0-34 0 44 0-28 0-16 0-14 0 7 0 58 0-27 0 6 0-19 0 9 0-22 0 27 1-10 0-17 0 11 0 3 0 24 0-39 0 5 0 42 0-43 0 5 0 11 0 2 1-31 0 9 0 11 0 19 0-28 0 36 0-30 0 14 0 16 0-12 0 19 0-39 0 30 0-4 0-9 1-4 0 13 0 3 0 22 0-16 0 5 0-60 0 21 0 23 0-8 0 28 0-41 0 23 0-26 0-17 1 24 0-4 0 15 0-13 0 27 0-5 0-11 0 31 0-37 0-7 0 15 0 36 0-35 0-9 0-24 0 55 0-25 0-3 0 0 1-29 0 48 0 16 0-21 0 11 0-6 0-16 0 10 0-15 0 14 0-1 0-27 1 18 0 4 0-7 0 8 0 8 0-11 0 12 0-19 0 4 0 11 0-13 0 35 0-52 0 35 1-5 0-60 0-28 0 103 0-55 0 42 0-112 0 104 0 12 0-95 0 22 0 33 0-26 1 3 0-41 0 18 0 19 0-14 0 38 0-30 0 16 0 3 0-31 0 10 0-15 0 0 0 5 1 44 0-24 0 0 0-26 0-8 0 31 0-20 0 18 0-14 0 20 0-23 0 0 0 23 0-32 1-18 0-1 0 22 0 27 0-19 0 5 0 32 0-32 0 31 0-38 0-27 0 9 0 35 0-18 0 10 1 3 0 7 0-45 0 30 0 10 0 12 0-29 0-19 0 54 0-25 0-1 0-11 0 33 1-16 0-3 0 17 0-2 0-25 0 12 0-32 0 45 0-22 0 34 1-41 0 35 0-47 0 3 0 3 0 16 0-3 0 41 0-38 0 38 1-26 0-10 0-22 0 1 0-15 0 47 0 0 0-48 0 31 0 28 0-39 0 32 0-38 0 1 0 54 1-48 0 32 0-19 0 1 0-28 0 34 0 16 0-4 0-34 0 15 0-29 0 6 1 42 0-26 0-12 0 7 0 3 0 8 0 1 0-1 0-23 0 44 0-10 0 15 0-1 0-28 1 3 0 41 0-29 0-17 0 2 0-5 0 24 0-21 0 31 0-48 0 60 1 4 0-41 0 7 0-8 0-18 0 38 0-53 0 67 0-13 0-13 0-14 0-8 0 0 1 10 0 32 0-4 0-34 0 21 0-18 0-8 0 24 0-12 0 28 0-31 0 3 0-13 0 39 1-31 0 28 0 7 0-6 0-11 0 5 0-6 0 16 0-34 0 8 0-4 1 16 0 24 0-34 0 1 0 16 0-33 1 13 0 35 0-32 0 26 0-41 0 12 0 0 0-10 0 25 0-18 1-3 0 38 0 7 0-15 0-11 0 3 0-16 0 26 0-42 1 58 0-53 0 47 0-33 0 13 0 24 0-55 0-1 0-8 0 18 0 26 0 3 1-5 0-2 0-10 0 32 0-29 0-12 0 14 0 8 0-7 0-13 0-19 1 6 0 22 0-22 0 15 0-4 0-7 0-17 0 53 0-22 0-16 0 0 0 6 0 6 1-2 0 18 0-3 0-1 0-40 0 31 0 23 0-40 0 8 0 2 0-14 0 12 0 8 0 1 0 6 0 0 1-16 0 19 0-4 0 0 0-5 0-19 0 16 1 14 0-32 0 9 0 43 0-57 0 52 0-46 0 9 0 22 0 20 0-41 0 48 0-13 0-22 0 5 0-18 0 0 0 17 0-5 0-9 0 15 1-24 0 47 0-46 0 28 0-6 0-29 0 36 0-22 0 31 0-27 0 28 0-6 0-19 1 41 0-18 0 6 0-46 0 31 0-38 0 35 0 17 0-39 0 26 0-11 0 36 0-24 1-32 0 45 0-43 0 26 0 14 0 12 0-51 1 25 0 2 0-11 0 13 0-6 0-3 0 28 0-39 0 0 0-20 0 64 0-32 0 11 1-7 0 22 0-38 0 14 0-9 0 22 0-11 0 6 0 16 0-23 0 4 0-17 0-23 0 39 0-8 0 3 1-19 0-4 0-3 0 23 0-23 0 25 0-27 0 35 0-10 0-19 1 13 0 37 0-26 0 2 0 12 0-25 0-5 0 22 0-23 0 17 0-23 0-2 0 30 1-1 0-6 0 10 0-5 0-2 0-4 0-29 0 51 0 17 0-34 1-22 0 39 0-43 0-15 0 27 0 26 0-41 0-6 0 64 0-27 1-11 0-25 0 42 0 6 0-2 0 15 0-21 0-12 0-24 0 35 0 4 0-6 0-3 1-8 0-25 0 47 0-2 0-31 0-4 0 44 0-35 0-6 0 2 0 7 0 5 0 15 0-14 0-17 0 20 0-41 0 31 0 15 0 9 0-7 1-12 0-6 0 12 0 23 0 5 0-19 0-13 0 9 1-12 0 13 0 0 0-27 0 35 0 20 0-19 0-52 0 32 0 3 0 1 1-17 0 44 0-17 0-13 0 8 0 15 0-27 0 13 0 6 0-16 0 3 0-11 0 19 0-5 0 17 0-34 0 28 1 9 0 22 0-28 0 18 0-2 0-19 0 1 0 7 1-30 0 2 0 40 0-19 0-8 0 21 0-23 0 7 0 46 0-15 0 6 1-51 0 22 0 30 0-55 0 17 0 13 0 8 0-20 0 7 0 2 0-8 0-28 0 48 0-2 0-46 0 73 0-36 0 9 0-18 1 27 0-18 0 16 0-8 0 15 0-17 0 12 0-18 1 0 0-7 0-18 0 70 0-50 0-27 0 71 0-36 0 27 0-8 1 40 0-31 0-23 0-3 0 26 0 25 0-68 0 58 0-62 0 45 0-4 0-50 0 43 0-37 0 22 0 21 0-35 1 41 0-13 0-27 0 23 0-7 0 26 0 2 0 6 0-23 0-17 0 53 0-32 0-3 0 20 0 23 1-50 0 18 0 28 0-24 0 14 0-36 0 48 0-35 0-19 0 50 1-18 0 20 0-43 0 34 0-6 0-26 0 17 0 10 0-14 1 16 0-47 0 21 0 30 0-9 0-3 0 6 0-16 0 2 0-4 0-2 0 6 0-33 0 59 0-30 0 2 0-34 1 48 0-23 0-16 0 18 0 30 0-12 0 11 0-35 0-8 1 7 0 21 0 6 0-1 0-28 0 29 0-19 0-19 0 46 0-17 0-37 0 46 0-14 0 3 0 30 0-5 1-19 0-37 0 23 0-25 0 50 0 9 0 7 0-6 0-39 0-15 0 31 0-7 0-11 1-17 0 18 0 31 0-21 0-21 0 40 0-28 0 24 0-25 0 0 0 39 0-30 0-5 0-12 1 34 0 2 0-26 0 4 0-13 0 34 0 4 0-10 0 14 0-50 0 4 0 31 0-16 0 16 0-32 1 48 0-45 0 45 0-2 0 10 0-1 0-19 0-11 0 6 0-34 1 15 0 40 0-16 0-28 0 12 0 10 0-20 0-5 0 52 1-36 0 10 0-12 0 19 0-16 0-37 0 75 0-72 0 35 0 18 1-22 0 7 0-30 0 23 0 3 0 36 0-9 0-14 0 10 0-40 0 26 0-22 0 30 0-7 0-19 0 10 0-22 1 30 0-15 0 2 0 10 0 27 0-62 0 42 0 4 0 4 0-26 0 5 0-22 0 6 0 47 0-35 0 30 0-22 0-16 1 9 0-24 0 40 0-9 0-32 0 24 0 29 0-32 0-2 0-2 0-5 0 28 1-2 0-15 0 17 0-27 0 19 0 5 0 31 0-54 0 3 0 7 0-12 0 11 0 12 0-27 0 35 0 2 0 11 1-14 0-15 0 20 0-26 0 15 0-10 0-9 0 22 0 5 0-3 0-14 0 6 0-13 0 4 0 7 0 9 1 9 0-20 0-13 0 51 0-31 0 4 0-19 1 2 0-1 0 7 0-28 0 13 0 23 0-41 0 33 0 1 0 3 1-8 0 37 0-52 0 29 0-10 0-27 0 22 0 9 0 2 0-2 0 20 0-17 0 7 0 2 0 3 0 15 0-35 0-2 1 7 0-26 0-8 0 25 0 14 0 11 0-10 1 20 0-1 0-23 0-9 0-27 0 24 0 17 0 17 0-26 0 0 0 23 0-8 0-7 0-25 0-21 0 45 0 10 0-16 1 4 0-1 0-2 0-19 0 21 1 24 0-43 0 5 0-26 0 10 0 41 0-9 0-39 0 45 0-5 0-2 1 29 0-10 0-8 0-15 0-26 0 14 0 25 0-8 0-16 0-27 0 22 0 2 0-8 0 30 1-24 0 19 0-14 0 0 0 25 0 18 0-55 0 7 0 17 0 8 0-24 0 14 0-3 0 23 1-36 0 48 0-29 0 9 0-15 0-7 0 9 0-11 0 15 0 21 0-43 0-1 1 38 0-26 0 39 0-52 0 40 0-10 0-24 0 44 0-25 0 0 1-29 0 19 0-4 0 14 0-9 0 4 0 11 0-19 0-2 0-15 0-2 0 24 1-26 0 22 0-14 0 37 0-36 0 8 0 23 0-45 0 9 1 6 0-27 0 26 0-40 0 7 0 10 0-4 0 20 0-40 0 68 0-37 0-7 0-21 1 52 0-26 0 16 0 17 0-11 0-22 0 19 0 19 0-13 0-25 1 23 0 2 0-48 0 25 0-23 0 29 0-9 0-17 0 0 0-3 1 26 0 12 0 4 0-2 0-10 0 19 0-25 0 14 0-29 0 37 0-52 0 26 0 13 1 6 0 9 0-24 0-19 0 34 0 37 0-20 0-2 0-28 0 23 0 23 0 7 0-7 0-22 0 15 0-13 0 13 1 11 0-20 0-12 0-47 0 83 0-45 0-26 0 28 0-17 0 18 1 21 0-25 0-10 0-14 0 68 0-8 0-31 0 12 0-32 0 35 0-43 0 64 0-26 0-45 0 43 0-17 1 31 0-45 0 26 0-24 0 33 0 9 0 22 0-59 0 13 0-1 0 21 1-19 0 17 0 2 0 7 0 4 0-43 0-2 0 68 0-55 0 25 0-15 0 5 0-26 0 26 1 12 0-18 0 10 0 9 0-8 0-1 0-25 0 33 0-1 0-17 0 48 0-49 1 25 0 8 0-27 0-1 0 21 0-34 0 0 0 6 0 12 0-1 0-31 0 40 0-29 0 32 1-4 0-30 0 47 0 15 0-47 0 20 0-10 0 23 0-5 0 24 0-36 0 4 0-12 0 0 0 22 0-15 0-18 1 43 0-31 0 16 0 2 0 1 0-15 0 0 0-18 0 23 0-31 0 70 1-19 0 6 0 1 0-17 0 9 0-9 0-14 0 20 0-23 0-1 0 39 0-10 0-5 0-11 0-3 0-14 1 35 0-27 0 36 0-17 0-36 0 29 0 0 0-3 0-16 1 34 0-25 0 35 0-19 0-8 0-8 0 19 0-35 0-4 0 43 0-11 0-1 0-14 0 11 0-6 0 2 0 23 1-31 0 6 0 5 0-15 0 35 0-19 0 35 0-39 0-10 0-7 0 28 0-35 1 29 0-6 0 23 0-9 0-6 0-10 0 21 0-36 0 3 0 29 0-1 0-36 0 21 0-19 0 3 0-14 0 27 1 3 0 8 0 7 0-14 0 10 0-6 0 4 0-7 0-2 0 33 0-59 0 15 0 19 0-16 0 42 0-67 1 31 0 10 0-37 0 56 0-29 0-24 0 23 0-9 0-21 0 39 0 1 0 22 0-36 0-1 0-12 0 16 0 33 0-15 1-15 0 9 0-6 0-28 0 30 0 27 0-19 0 26 0-37 0 16 0-17 0 20 0-28 0 41 1-42 0 21 0 12 0-50 0 40 0-4 0-11 0-3 0 10 0-14 0 3 0 5 0 0 0 14 0 19 0-44 1 25 0-47 0 62 0-37 4 0 0-8 0 16 0 29 0-30 1 5 0 16 0-10 0-28 0 5 0-1 0-7 0 20 0 26 1 0 0-31 0-6 0 2 0-20 0 42 0 4 1 14 0-44 0-13 0 31 0-19 0 10 0 10 0 12 0-32 0-9 0 39 1-45 0 16 0 2 0 21 0-10 0-12 0-1 0 25 0 5 0-28 0 8 1-14 0 4 0 9 0-4 0 19 0 9 0 5 0-10 0-30 0 16 0-20 0 2 0 0 0-5 1 22 0 12 0 10 0 5 0-29 0 13 0-19 0 19 0-30 0 39 0-22 0 12 0-39 0 65 0-35 0 25 0-33 1-19 0 8 0 44 0-32 0-14 0-12 0 7 0 6 0 14 1 9 0-26 0 2 0 38 0-28 0 6 0-28 0 68 0-34 0 6 0 15 0-13 0-14 0-7 0 23 0-21 1 18 0 2 0 9 0-9 0-37 0 16 0 20 0 15 0-45 0 15 0-12 0 39 0-10 0-2 0-20 1-2 0-15 0 15 0 18 0 2 0 10 0-3 0-4 0-18 0-15 0 11 1 8 0-4 0 25 0-20 0 16 0-22 0 5 0-12 0 30 0 24 0-45 0 3 0-1 1 38 0-21 0-20 0 38 0-51 0 20 0 3 0-20 0 42 0-13 0-6 0-37 1 56 0-41 0 17 0-7 0-8 0 4 0-14 0 18 0 29 0-36 0-6 0 40 0-10 0-18 0 4 1 10 0 8 0-10 0-12 0 12 0-31 0 43 0-46 0 11 0 31 0-7 0-38 0 27 0 3 0 14 1-6 0-10 0 18 0 22 0-21 0 21 0-53 0 33 0 22 0-19 0-25 0 24 0-24 0-13 1 29 0 3 0-19 0 4 0-30 0 17 0 27 0 24 0-43 1 21 0-4 0-3 0 7 0-54 0 66 0-26 0 21 0-87 0 37 0-56 0 101 0-38 0 52 0-64 0 26 0 16 1-76 0 31 0-13 0 37 0-15 0-31 0 7 0 24 0-18 1 3 0-36 0 27 0-1 0 9 0 3 0-20 0-3 0 6 0 1 0 24 1 0 0 6 0-24 0 23 0-25 0-2 0 33 0-23 0-6 0-12 0 35 0-20 0 5 0-7 0-29 1 39 0-27 0 17 0 15 0 16 0-21 0 0 0-15 0-17 0 43 0-35 0 4 0 11 0 10 0-10 1-9 0 1 0 26 0-15 0-13 0 32 0-38 0 5 1-16 0 32 0-7 0-12 0 18 0 17 0-19 0-5 0-11 0 17 0 29 1-20 0-30 0-6 0 46 0-44 0 15 0 2 0 33 0-21 0-12 0-12 0 46 0-32 1 40 0-30 0-17 0 19 0-2 0 7 0-7 0-10 0 7 0 13 0-28 0-8 0-15 0 33 0 27 1-20 0-15 0 47 0-50 0 45 0-11 0-57 0 45 1-17 0 19 0-37 0 16 1 56 0-53 0-4 0 57 0-20 0-18 0-12 0 41 0 2 0 12 0-81 0 54 1 36 0-15 0-37 0-7 0 3 0 43 0-29 0 61 0-34 0 41 0-1 0-75 0 44 0-4 1 1 0 12 0-17 0-17 0 36 0-10 0-15 0 7 0 9 0-1 1 27 0-28 0 15 0 13 0-34 0 1 0-9 0-9 0 22 1-2 0-3 0 14 0-1 0-21 0 26 0 12 0-11 0-14 0 27 0-59 1 17 0 45 0-32 0-5 0 1 0 0 0-7 1 49 0-45 0-3 0 23 0-16 0 0 0-22 0-11 0 27 0 29 0-25 0-2 0-1 1 25 0 21 0-59 0 22 0-30 0 41 0-28 0-15 0 41 0-11 0-7 0-5 0 27 0-30 0 32 0-37 0 4 0 34 0-34 0 26 1-34 0 35 0-18 0-22 0 18 0 16 0 17 0-39 0 38 0 0 0-29 0 25 0 1 0 4 0-49 0 25 0 32 0-39 0 17 0-16 1 1 0-25 0 11 0 37 0-23 0 22 0-25 0 30 0-38 0 28 0-1 0-21 0 13 0 1 1-6 0 21 0-14 0-19 0 25 0-28 0 11 0-4 0 1 0 9 0 10 1 17 0-4 0-8 0-15 0 29 0 0 0-43 0 4 0 34 0-59 0 38 0 7 1-19 0 11 0-23 0 26 0 25 0-11 0 16 0-43 0 12 0-9 0 32 0-34 0 10 0 9 0-35 0 64 0-39 1-7 0 25 0-13 0-1 0-4 0 12 0-21 0 14 0 6 0-7 0-16 0 34 0-34 0 2 0 8 0 24 0-36 1 21 0-9 0 22 0-3 0-6 0-41 0 27 0-10 0 23 0 5 0-40 1 15 0 10 0 1 0-1 0-13 0 17 0 18 0 14 0-46 0 29 0-38 0-5 0 14 0-7 0 15 0 28 0-7 0-35 1 30 0 18 0-56 0 51 0-26 0 8 1-42 0 1 0 34 0-16 0 7 0-12 0 36 0-10 0-14 0 2 0-15 1 7 0 42 0-2 0-33 0-21 0 10 0 29 0-28 0 9 0 15 0-30 0 10 1 11 0 18 0-52 0 34 0 29 0-37 0 12 0 8 0-6 0-3 0-13 0-1 0 13 0 22 1-35 0-1 0-11 0 15 0 13 0-25 0 33 0 5 0-6 0-21 0 14 1 21 0-30 0-21 0 3 0 3 0 9 0 2 0 8 0 21 0-20 0 5 0 2 0-6 1 9 0-6 0-23 0 40 0-38 0 24 0-6 0 27 0-29 0 27 0-34 0 8 0 1 1-28 0 8 0 34 0 5 0-38 0 0 0 54 0-50 0 27 0 25 0-57 0 23 0-9 0 10 0 13 0-42 0 2 1 57 0-43 0 10 0 20 0-18 0-35 0 5 0 34 0 15 0-32 0 3 0 33 0-31 1-21 0 25 0 8 0-11 0-7 0 13 0-23 0 20 0-21 0 20 0 38 0-20 0-8 0-14 0 45 0-34 0-20 0 25 0-13 0-29 0 44 1-35 0 38 0 6 0-21 0-7 0 13 0 14 0-22 0 25 1 8 0-6 0-17 0 18 0 10 0-15 0-48 0 25 0 18 0-30 0-21 0 12 0 43 1-18 0 15 0 1 0-43 0 16 0-14 0 27 0 4 0 24 0-19 0-27 0 45 0-43 0-11 0 19 1 3 0 28 0 5 0-17 0-1 0-30 0 32 0-10 0-28 0 31 0-12 0-14 0 34 1 18 0-47 0-13 0 20 0-8 0 23 0-21 0 30 0-18 0 19 0-2 1-10 0-16 0 26 0-21 0 36 0 6 0-64 0 58 0-26 0-19 1 14 0 3 0-17 0 19 0-31 0 40 0-3 0-19 0 24 0-43 0 12 0 15 0 27 0-44 0 28 1 6 0 4 0-29 0-23 0 57 0-27 0 6 0 13 0-21 1 12 0-18 0 29 0-23 0 0 0 4 0-19 0-13 0 20 0 36 0-61 0 22 0 35 0-15 0 10 0-29 0-1 0 29 1-16 0-4 0 24 0 6 0-7 0-33 0 13 0 15 0-25 1 44 0-18 0 9 0-20 0 16 0-13 0-21 0 24 0 4 0-20 0-19 1 20 0 20 0 17 0-14 0-63 0 22 0-6 0-3 0-5 0 28 1-46 0 27 0 19 0-35 0 5 0 13 0 8 0 3 0-49 0 17 1 15 0-16 0-9 0-3 0 37 0-18 0-13 0-2 0 17 0 12 1-26 0 35 0-48 0 12 0 15 0-12 0-13 0 25 0-30 0 43 0-42 0 10 0 6 1 27 0-39 0-5 0 25 0 6 0 24 0-20 0 7 0-27 0 29 0-18 0 35 0-29 0 14 0-16 0-12 0 20 1-20 0 28 0-18 0-32 0 34 0-11 0 0 0 26 0-13 0 34 0-49 0-8 0-13 0 19 0 26 0 17 0-39 0 9 1-17 0 41 0-50 0 5 0 48 0-36 1-1 0-3 0 1 0 3 0 5 0 8 0 15 0-11 0-6 0 20 0 2 0-17 0-7 1-20 0 19 0-18 0 31 0-9 0-38 0 47 0 21 0-62 0 31 0 5 0-16 0-6 0 33 0 9 0-54 0 39 0-8 0-11 0-1 1 42 0-35 0 17 0-42 0 11 0 18 0-21 0 1 0 12 1 16 0-9 0-11 0-9 0 21 0 21 0-56 0 57 0-24 0-31 0 61 1-46 0 48 0-40 0 41 0-34 0 24 0-18 0-15 0 48 1-61 0 6 0 15 0 7 0 4 0-20 0 39 0 2 0-31 0 2 1 19 0-15 0-3 0 1 0 5 0-6 0-12 0-13 0-1 0 15 0 41 0-32 0 7 0-11 0 21 1-7 0 11 0-10 0-16 0 15 0-27 0-1 0 50 0-20 0-14 0-3 0-24 0 32 0-35 0 36 0 14 1 14 0-54 0 32 0 0 0 11 0-23 0 12 0 8 0-12 0 9 0 5 0-19 0-11 0 23 0-8 1-12 0 0 0 8 0 5 0-2 0-21 0 50 0-31 0-14 0-9 1 37 0-36 0 83 0-29 0 7 0-25 0 20 0 14 0-4 0-4 0-18 0-29 0 57 0-37 0-22 0 25 1 1 0 28 0 20 0-22 0-11 0 0 0 22 0-4 0-12 0-11 0-12 0 15 0 2 0-1 0 28 1-59 0 24 0 26 0 3 0-37 0 29 0-16 0 15 1-45 0 32 0-26 0-3 0 36 0-20 0 5 0 23 0-6 0 3 0 8 0-22 0-3 0-4 1-5 0 45 0-19 0-13 0 10 0-40 0 31 0-33 0 29 0 25 0-28 0-23 0 48 0-40 0 28 1-7 0-1 0-6 0 2 0-9 0 14 0 7 0 4 0 24 0-54 0 44 0 17 0-57 0 0 1 21 0-3 0 1 0-14 0-17 0 12 0 20 0-17 0 42 0-42 0-20 0 47 1 4 0-16 0-7 0 17 0-18 0 13 0 24 0-30 0 28 0-33 0-24 0 58 1-52 0 3 0-1 0 21 0-5 0-1 0 43 0-56 0 18 0-16 1 13 0 14 0-34 0 37 0-29 0 22 0 7 0-26 0 23 0 4 0-1 0-21 0 15 1 17 0-12 0 3 0 0 0-36 0 13 0 26 0-3 0-5 1 0 0-30 0 8 0-20 0 6 0 17 0 6 0 0 0 26 0-11 0-16 0-7 0 8 1-8 0 13 0 27 0-48 0 14 0 20 0-14 0 33 1-45 0-3 0 26 0 19 0-11 0-64 0 67 0-29 0-27 0 43 0 27 1-63 0 1 0 25 0-4 0 4 0 8 0-15 0-22 0 9 0 27 0-34 0 26 0-5 0-6 1-10 0 9 0-3 0 23 0-21 0-26 0 23 0 35 0-19 0-7 0-10 0 36 0-4 0-43 0 4 0 16 0-2 0-6 0 9 1-7 0-17 0 23 0 6 0-4 0 35 0-34 0 6 0-11 0-33 0 34 1-13 0 7 0-9 0-7 0 65 0-47 0 1 0 16 0 0 0 2 0-22 0 26 0 6 0-39 1 10 0 0 0 11 0-3 0 27 0-45 0 38 0-43 0 15 0 3 0-23 0 25 0 15 0 0 1-25 0 4 0-11 0 10 0 9 0 10 0-27 0-3 0 60 0-50 0 13 0 3 0 5 1-17 0 20 0 2 0 4 0-47 0 20 0-15 0 40 0 22 0-9 0-56 0 6 1 5 0-1 0 13 0 20 0-6 0-18 0 14 0-3 0-3 0-12 0 13 0 4 0-17 0 28 1-21 0-24 0 44 0-25 0 5 0 10 0 17 0 4 0-41 0-10 0 15 0 10 0 10 0 0 0-1 0 0 0 8 1-15 0 19 0-40 0 39 0-14 0-43 0 65 0-55 0-12 0 31 0 16 1-11 0 17 0 18 0-23 0 2 0-16 0 26 0-47 0-5 0 16 1 24 0-12 0 26 0-8 0-23 0 19 0-42 0 27 0 16 0-18 0 30 0-18 0-23 0-7 1 0 0 15 0 0 0-14 0 28 0-10 0-7 1 3 0 34 0-19 0 6 0-32 0 54 0-46 0 1 0 14 0-35 0 15 0-11 0 25 0-10 0 3 1 5 0 14 0-36 0 16 0-3 0 22 0-1 0-25 0 29 0-23 0 26 0 9 0-23 0-21 0-8 0-6 0 17 0-8 1 55 0-37 0-3 0 27 0-47 0 11 0 2 0 26 0-22 0 6 1-5 0-13 0 5 0 18 0-13 0 4 0 8 0-15 0 44 0-33 0-5 0 20 0-13 0-4 1-15 0 9 0 11 0 9 0 3 0-42 0-1 0 49 1-30 0-7 0 7 0 5 0-6 0 13 0 18 0-4 0-18 0 16 0-14 0-11 0 2 0 12 0-13 1-53 0 26 0 54 0-38 0 46 0-49 0-8 0 6 0 27 0 15 0-67 0 40 0-35 0-5 0 46 0 2 1-14 0-16 0 9 0-12 0 6 0-4 0 17 0 15 0-12 0-37 0 23 0 16 0-21 0 38 0-1 0-46 0-3 0 29 1-15 0 23 0-53 0 68 0-33 0-17 0 4 0 24 0 3 0-35 0 42 0-56 0 35 0 16 0-38 0-14 0 53 1-18 0-20 0 19 0 21 0 4 0-36 0 11 1 24 0 4 0-19 0-7 0 9 0-16 0 19 0-3 0-22 0 3 0 31 0-40 0 11 0 2 0 20 0 8 0-22 0-38 0 13 0 10 1 16 0-18 0 17 0 36 0-43 0 9 0 10 0-2 0 0 0-8 0-11 0 47 0-29 0-16 1-9 0 12 0 2 0-12 0 1 0 11 0-17 0 53 0-22 0 27 1-15 0 10 0-22 0 37 0-81 0 81 0-20 0-19 0-11 0-14 0-14 0 8 0 37 0-8 0 5 0 15 0-27 0 22 0-1 0 24 0 7 0-34 0 27 0-18 1 2 0 1 0-12 0 19 0-12 0-25 0 47 0-40 0 30 0-30 0 22 0 22 0-52 1 34 0-1 0 5 0-8 0 20 0-24 0-10 0-16 0 48 0 7 0-11 0 3 0 0 0-16 0-17 0 8 0-11 0 12 1 4 0-1 0-9 0 34 0-25 0 10 0-18 0 25 0-24 0 2 1 15 0-2 0-22 0 2 0 38 0-49 0 37 0 13 0-33 0 7 0 13 0-10 0-1 0 16 0-22 0 22 0-20 1-10 0 10 0 44 0-44 0 25 0-18 0-15 0-1 0 6 0 21 0-31 0 7 0 8 0-26 0 6 1 22 0-22 0 29 0-17 0 22 0-39 0 36 0-9 0-37 0 70 1-43 0-28 0 44 0-31 0 49 0-17 0-2 0-17 0 9 0-7 0 2 0 11 0-39 1 50 0-18 0-16 0 6 0 24 0-14 0-10 0 8 0-10 0 27 0-1 0 10 0-54 0 14 0-16 0 50 0-55 0 22 0 20 0 9 1-4 0 11 0-40 0 18 0 30 0-51 0 21 0-20 0 7 0 26 0 2 0-28 1-3 0 25 0 12 0-15 0 12 0-5 0-24 0 3 0 29 0-24 0 22 0-32 0 40 0-32 0-1 0 2 1-2 0-16 0 15 0 33 0-34 0 36 0-9 0-19 0-20 0 21 0 1 0 2 1 3 0 19 0-12 0-31 0-13 0 44 0-29 0-7 0 29 1-32 0 8 0 14 0 27 0-21 0-34 0 21 0 4 0 5 1 17 0-22 0 20 0-26 0 14 0 1 0-13 0 21 0 6 0-17 0-37 1 48 0 27 0-46 0-3 0 21 0 1 0-39 0 12 0-12 0 25 0-1 0-14 0 38 0-23 1 9 0 14 0 4 0-38 0 21 0 9 0-13 0-34 0 26 0 3 0-6 0 0 0-23 0 6 1 17 0-2 0-2 0 4 0 27 0-2 0-16 0-9 0-29 0 73 0-47 0 28 0-9 1-10 0 25 0 4 0-11 0-29 0 14 0-14 0-13 0 35 0 14 0-17 0-12 0 23 1 14 0-40 0 13 0 5 0-28 0 26 0 20 0-45 0 29 0-14 0-8 0-2 1 3 0 4 0-4 0 5 0 21 0-26 0 32 0-7 0 11 0-27 0-17 1 3 0 14 0 9 0 16 0-50 0 6 0 4 0-6 0-6 0 14 0-18 1 51 0 0 0-9 0-35 0-5 0 64 0-40 0-25 0 47 0-1 0-38 0-16 0 20 0 22 1 19 0-15 0 29 0-55 0-10 0 39 0-39 0 41 0-17 0-5 1-4 0 6 0 28 0-18 0-5 0-33 0 40 0 9 0-8 0 2 0-33 0 44 0-14 0 21 0-61 1 32 0 28 0 11 0-10 0-25 0-6 0 3 0-5 0-3 0 16 1 3 0 0 0 1 0 22 0 1 0-30 0 2 0-17 0 17 0 12 0-10 0-8 1 12 0 12 0 18 0-47 0 34 0-14 0 17 0-37 0 21 0-27 0 6 0 26 0-13 1 25 0-1 0 8 0-24 0 5 0 17 0-26 1 26 0-28 0 20 0-44 0 44 0-5 0-2 0 10 0-33 0 51 0-17 0 6 0-15 1-1 0 5 0-6 0-1 0-17 0 15 0 21 0-12 0-9 0-9 0 28 0-17 0 22 0-37 0 16 0 22 0-36 0-14 0 16 1 6 0 17 0-33 0 15 0-19 0 14 0 5 0 18 0-24 0 16 0 4 0-16 1-21 0-1 0 25 0 42 0-44 0 4 0-1 0 21 0-32 0 50 0-5 0-22 0-25 0 23 0 4 0-11 0 22 1-31 0 0 0-2 0 13 0-4 0-21 1 40 0 17 0-34 0-9 0 13 0 21 0-9 0-27 0-5 0 12 0 17 1 8 0-22 0 4 0-8 0-23 0 16 0-12 0 4 0 41 0-39 0 24 0-17 0 39 0-19 1 24 0-51 0-13 0 34 0-30 0 5 0-1 0 23 0 1 0 19 0-44 0 14 0 10 0-21 0 14 0-9 0 53 0-65 0 22 0 25 0-6 0 17 0-30 0 3 0-26 0 9 1-9 0-7 0 10 0-2 0 43 0-29 0 40 0-48 0 25 0-5 0-23 1 45 0 8 0-14 0-10 0-45 0 42 0-18 0 10 0 23 0-35 0 21 0-24 0 46 1-42 0 16 0-2 0 0 0 9 0 0 0 6 0 1 0-31 0-4 0 15 0-34 0 38 0 5 0 12 0 18 0-62 0 43 0 13 1-52 0 26 0-15 0 27 0-2 0-18 0-30 0 24 1 11 0-13 0-14 0 34 0 28 0-21 0 4 1-11 0-7 0-5 0-10 0 39 0-22 0-13 0 2 0-25 0 38 0-2 0-6 0-10 0 15 0-9 1-6 0 15 0-10 0 0 0 34 0-11 0-5 0 27 0-39 1 31 0-60 0 6 0 29 0-18 0-5 0 10 0 15 0-28 0 47 0-59 0 41 0-39 0 40 0-37 1 10 0-6 0 52 0-44 0-15 0 36 0-37 0 4 0 33 0 5 1 23 0-44 0 12 0-20 0 28 0-27 0 17 0-38 0 49 0 5 0-10 0-30 0 48 0-27 0-14 0 22 0 16 0 2 0-20 0-36 0 27 0-9 1 52 0-64 0 31 0-39 0 58 0-7 0-16 0 4 0 7 0-3 1-20 0 15 0-2 0 38 0-18 0-22 0 28 0-46 0-19 0 49 0 5 1-54 0 65 0-52 0 15 0-12 0 16 0 27 0-9 1-15 0 15 0 10 0-38 0 39 0-32 0-1 0-4 0 21 0-17 0 11 0 19 0-8 0-47 0 38 0 10 0 13 1-8 0-23 0 42 0-15 0 10 0-22 0-15 0-2 0-14 0 41 0-27 0-4 1 18 0-1 0 4 0-44 0 41 0-14 0 1 0 10 0 18 0-26 1 22 0-16 0-18 0 44 0-54 0 45 0-10 0-28 0 25 0-24 0 48 0-24 0 6 0-17 0-33 0 49 0-12 0 37 1-16 0 10 0-11 0-18 0 10 0 0 0-15 0 8 0 3 0-4 0 6 1 6 0-11 0 2 0-1 0 0 0-9 0-1 0 7 0-30 0 36 1-34 0 53 0-21 0-40 0 25 0-9 0 36 0-1 0-13 0 0 0-16 0 14 0-10 0-17 0 16 0-13 0 56 0-19 0-11 0 14 0-28 0 43 1-12 0-6 0-21 0-8 0-1 0 35 0-8 0 23 0-57 0 19 0-16 0 0 0-14 0 15 0 31 1 15 0-67 0 12 0 24 0-9 0 47 0 0 0-40 0 16 0 15 0-31 0-5 0 20 0-24 1 20 0 13 0-31 0 14 0-18 0 42 0 5 1-37 0 33 0-16 0 6 0-46 0 25 0-1 0-9 0-9 0 2 0 19 0 11 1-17 0 25 0-29 0 1 0-4 0 8 0 7 0 6 0-11 0-21 1 14 0 38 0-16 0-12 0-12 0-11 0 9 0 35 0-29 0 3 0 22 0-31 1 43 0-3 0-27 0-14 0-4 0 11 0 26 0-3 0-23 0 7 0 7 0 0 0 24 0-55 1 48 0-37 0 36 0-21 0 16 0 10 0-19 0 0 0-46 0 74 0-53 0-15 1 14 0 26 0 12 0-28 0-15 0 21 1 2 0 9 0-24 0 15 0-13 0 40 0-26 0 13 0-12 0-6 0 7 0 10 0 4 1-20 0 0 0 9 0-34 0-1 0 20 0 43 0-32 1 16 0-20 0 3 0-26 0-4 0 4 0 22 0-11 0 1 0-21 0 22 0-4 0 25 0-31 0 47 0-14 1 2 0 8 0-13 0-24 0-26 0 57 0-36 0 35 0 4 0-48 0 40 0-49 0 17 0 17 0-7 0 15 0-17 0 29 0-47 1 15 0 25 0-3 0-13 0 14 0 1 0-30 0 25 0-37 0-4 0 2 0 2 0 54 0-6 1 0 0-29 0-27 0 54 0-7 1-42 0 20 0-14 0 24 0-26 0 10 0-9 0 24 0-16 0 22 0 8 0 9 0-13 0-38 0 24 0-5 1 44 0-40 0 21 0-6 0 7 0-29 0 15 0-3 0 13 0-34 0 31 0-20 0 14 0-9 1-35 0 70 0-23 0 21 0-29 0 15 0-31 0 0 0 0 0 24 0-5 0 9 0-18 0 33 0-14 0-8 0-37 1 34 0-38 0 35 0 26 0-19 0-10 0 13 0-39 0 29 0-4 0 13 0-15 1-26 0 23 0-19 0-6 0 38 0-38 0 33 0 14 0-9 0 4 0-42 0 21 0 48 0-60 0 48 0-2 0-23 0-15 0 17 0-1 1 17 0 7 0-47 0 7 0 7 0 35 0-8 0-36 0 28 0-6 0-12 1-3 0 18 0 5 0-5 0-14 0 23 0 1 0-27 0 22 0-12 0-23 0 25 0-4 1 37 0-10 0-5 0-58 0 24 0 25 0 12 0-3 0 3 0-4 0-52 0 20 0 45 1-23 0-10 0 19 0-36 0 20 0-33 0 56 0-33 0 10 1-29 0 26 0 28 0-26 0 7 0-22 0 21 0 8 1-2 0-25 0 11 0-4 0-1 0 12 0-21 0 23 0 0 0-39 0 51 1-20 0 8 0 21 0-37 0 39 0-35 0 14 0-7 0 0 1-10 0 11 0-36 0 28 0 15 0-9 0 6 0-7 0-30 0 11 0 22 0-6 0-7 0 6 0 9 0 22 0-41 0 17 1 28 0-4 0-45 0-7 0 6 0 18 0-28 0 15 0-11 0 3 0-3 1 15 0 17 0-47 0 35 0 1 0-12 0 22 0-25 0-11 0 42 0-19 0 3 0 30 0-25 0-11 0-6 0 10 0-12 0 26 0-18 1 22 0 2 0-19 0 14 0-23 0 36 0 2 0-29 0 4 0-4 0-24 0 6 0 50 1-27 0-16 0 43 0-32 0 0 0-26 0 26 0-3 1-1 0 7 0-1 0 21 0-13 0 14 0-38 0 37 0-4 0 12 0-42 0 4 0 17 0 14 0-30 1 43 0-22 0-48 0 48 0-26 0 6 0 28 0 13 0-27 0-29 0 10 0 135 1 0 0 1 0-23 0 55 0-64 0 45 0-19 0 32 0 8 0-21 0 8 1-34 0 39 0-21 0 3 0-18 0-19 1-1 0 26 0 2 0 15 0-29 0 27 0-25 0-4 0 33 0-22 0-14 0 14 0 2 1-11 0 37 0-28 0 24 0-18 0-2 0 17 0-24 0 32 0-8 0-2 0 16 0-33 0-17 0 7 0 11 1-1 0 7 0-10 0 35 0-6 0-36 0 16 0 34 0-38 0 18 0-24 0-3 0-7 1 23 0 13 0-14 0-17 0 8 0 39 0-33 0 12 0-33 0 15 0-22 0 26 0 14 0-11 0-9 0 16 0-7 1 0 0 9 0-20 0 23 0 16 0-26 0 11 0-12 0-5 0 10 0-12 0 9 1-2 0-11 0 3 0 4 0-2 0 15 0 27 0-28 0-24 0 21 0-23 0 10 1 40 0-49 0-8 0 17 0 24 0-38 0 21 0 10 0 0 0-13 0-21 0 25 0 6 0-41 0 41 0-37 0 28 1 25 0-2 0-20 0-30 0 21 0 36 0-47 0 25 0-19 0 20 0-29 0 38 1-32 0 18 0-22 0 28 0 21 0-37 0-9 0-15 1 26 0 18 0 10 0-32 0 2 0 15 0-16 0-2 0 35 0-19 0-14 0 10 0 8 0-8 1-6 0 18 0-12 0-5 0-23 0 51 0-61 0 45 0-9 0 0 0-11 0 34 0-15 0 12 1-37 0 7 0-16 0 64 0-47 0-10 0 30 0-9 0-21 0 22 0-2 0 33 0-50 0 25 1-1 0-37 0 32 0-18 0 2 0 10 0-15 0-43 0 60 0 19 1-72 0 25 0 54 0-86 0-3 0 77 0 4 0-87 0 80 0-34 0 23 0-29 0-19 1-7 0 38 0-35 0-1 0 3 0 7 0 4 0-24 0 43 0 19 0-31 0-28 0 29 0 11 0-10 0 20 1-21 0-21 0 12 0 19 0-34 0 10 0 12 0 27 0-47 1 26 0 3 0-30 0 41 0-28 0-1 0 10 0-13 0 11 1 19 0-37 0 22 0-33 0 8 0 32 0-16 0 11 0 16 0-18 0-42 1 27 0-12 0 39 0 11 0-56 0 43 0-30 0 36 0-28 0 11 1-26 0 43 0-27 0 11 0 3 0-42 0 11 0 6 0 9 0 10 0-9 0 12 0-7 0 26 0 12 0-36 0-3 1-18 0 50 0-15 0 22 0-10 0-36 0 12 0-6 0-15 0 46 0-22 0-12 0 9 0 9 0-9 0 19 0-28 0 4 1-5 0 2 0 0 0 8 0-10 0 21 0-6 0-2"/><path class="q" d="M807 787l1 33 0 10 0-38 0 23 1 30 0 9 0-181 1 217 0-129 0 148 0-117 0-39 0 4 1 188 0-102 0 53 0-120 1 112 0-68 0-19 0 43 0-52 1-39 0 12 0 115 0-41 0-59 0 3 1 104 0-53 0-79 1 39 0 45 0-59 1 19 0 26 0-61 1 132 0-42 0-62 0 20 0-52 1 126 0-75 0-107 0 164 0-41 0 49 1-119 0 20 0 93 0-58 1 26 0-50 1-9 0 67 0-26 0-15 1 40 1-138 0 137 0-84 0 33 1 13 0 27 0 100 0-110 0-20 0 100 0-57 0-21 1 15 0 36 0-38 0 13 0-46 1 43 0-99 0 52 0 87 0-8 0-104 1 8 0 62 0-80 0 94 0 67 0-14 0-53 1-36 0-8 1 14 0-15 1-86 0 180 0-51 1 0 0-101 0 131 0-27 0-11 1-79 0 76 0-84 0 97 0-106 1 42 0 30 0-67 1 119 0-145 0 104 0 1 0 10 0 0 0-20 0 38 0 2 0-90 0 65 1 6 0-13 0 24 0-75 0 62 1-35 0 19 0-80 1 53 4 73 0-50 0-86 1 33 0-39 0 44 0 100 0-142 1 43 0-46 0 77 1 37 0 15 0-28 0-28 0 78 1-135 0-11 0 90 0-61 0 25 0-17 0 2 0 32 1-17 0-57 0 67 0 36 1-100 2 10 0 84 0-47 1 39 0-6 0-62 1 38 0 28 0-32 1 49 0-34 0-48 0 37 1 36 1 31 0-108 0 18 0-22 1 5 0-29 0 196 0-66 0-28 1-35 0 118 0 34 0-150 1 31 0 44 0-30 0 14 1 23 0-5 0-60 1 61 0 23 0-60 0 11 0-7 0-76 0-14 1 14 0 109 0-70 0 33 0-15 0-54 0-5 0 88 1 1 0-3 0-30 1 19 0-79 0 50 0 5 0-48 0 1 1-15 0 25 0-1 0 64 0-83 0 57 1-72 0-23 0 168 0-132 0-4 1 72 0-35 0 32 0-14 0-20 1-17 0 68 0-40 0 32 1 2 1-13 0-78 0 93 0-13 0-7 0 54 1 21 0-116 0 3 0 30 1-99 0 74 0 41 1 17 0 45 0-73 1 9 0 36 0-88 0 42 0-23 0 71 0-95 0 74 1-67 0 9 0-12 1 40 0 43 0-102 0 210 0-75 0-28 1-4 0 36 1-124 0 52 0 39 0-38 0-53 0 103 1-7 0-38 0-27 0 56 0-37 0 50 1-16 0-81 0 103 0 112 1-187 0 46 0-29 1-32 0 80 1 32 0-41 0 17 0-22 1-47 0 15 0-66 0 68 0-70 1 112 0-44 0 5 1-21 0 60 0 8 0-28 0-52 1-18 0 91 1-35 0-8 0 67 0-32 0-8 0-71 0-2 1 13 0 84 0 33 1-49 0-78 0 75 0 19 0 9 0-126 0 20 1 23 0 26 0 16 0-30 0-8 1 14 0 28 0-75 0 26 1 43 0-45 0 68 0-103 0 11 1 125 0-34 0-4 0-7 0-77 0 91 0 1 0-88 0 67 0-70 1 23 0 120 1-45 0 3 0-10 0 1 0-26 1-97 0 136 0-34 0-57 0 69 0 79 1-167 0 115 0-61 0 22 1-8 0 33 0 43 1-137 0-22 0 120 0-81 0 153 1-142 0 4 0 31 0 35 0 6 0-17 1 58 0-136 0 61 0 10 0-80 0 94 0 47 0-142 0 3 1 31 1 4 0 81 0-5 1-107 1 58 0 13 0-58 0 73 0-16 0 6 0-80 1 34 0 3 1-16 0-38 0 75 1 90 0-91 0 20 0 25 0-113 1 69 0-40 0 112 1 3 0-49 0 14 0 3 0-131 0 57 1 21 0-21 0 78 0-33 0-65 0 90 1-67 0 51 0-81 1 68 0-66 0 135 0-98 1 9 0 82 0-27 1 22 0-29 0-19 0-87 0 57 0-48 1 33 0 85 0-92 0-6 1-34 0 87 0-74 0 148 0-165 0-59 1 134 0 26 1-39 0-42 0-3 0 21 0 72 1-14 0-18 0 38 0-108 0 81 0 12 1-91 0 70 0 114 0-99 0-44 0 38 0-63 0 84 0-17 1-12 0-21 0-5 1-37 0-15 0 46 2-36 0-22 0 10 0 50 1-65 0 13 0-8 1-12 0 82 0-82 0 51 0-92 0 75 1 15 0-40 0 15 0 44 0-62 0-1 0 17 1-48 0 22 0 46 0-26 0 17 0-38 1-43 0 77 0 56 1-43 0-86 0 58 1 10 0 9 0-77 1 29 0-32 0 82 0-157 0 156 0-98 0 73 0 77 1-17 0-115 0 50 0 75 0-83 0-54 0 42 0-29 1 0 0 72 1-84 0 113 0-26 0-80 0 70 1 121 0-81 0-21 1-2 0-12 0 23 0-107 0 90 1 9 0-41 0-49 0 73 0-57 0 35 1-3 0 71 0 62 0-187 1 113 0-105 1 72 0-67 0-4 1 66 0 55 0-32 0-87 0 107 0-11 1-78 0 51 0-15 1 24 0 1 0 146 0-138 0 97 1 17 0-60 0 13 0 78 0-36 1-17 0 27 0-63 0-35 0 53 1 20 0-34 0 33 0 10 1-40 0-79 1 104 0-23 0 71 0-138 0 113 0 0 1-126 0 91 0-13 0 0 1-13 0 44 0-80 1 9 0-38 0 51 0 87 0-15 1-1 0-123 0 103 0-83 1-28 0 27 0 28 0 46 0 4 1-21 0 43 0-100 0 131 0-9 0-9 0-23 0 56 0-21 1-53 0-63 0 29 0 23 0-57 0 88 0 23 0 8 0-16 1 110 0-218 0 156 0-80 0 42 0 19 0-120 0 101 0-18 0 7 1-93 0 10 0 72 0-80 0 53 0 1 1 13 0 19 0 22 1-87 0 50 0-33 1 30 0-40 0 18 1-14 0 48 0 0 0-20 0 17 0-93 2 91 0-47 0-11 0 10 0-54 0 10 0 88 1-40 1-48 0 49 1 74 0-57 0 11 0 10 0-92 0 71 0 62 0-74 1 69 1-11 0 13 1-75 0-48 0 131 0-134 0 139 1-79 0-1 0-66 1 44 0 110 0-130 0 32 0 53 1-17 0-23 0 112 1-101 0 18 0-37 0-66 0 62 0-32 0 148 1-75 0-30 0-23 0 97 0 28 0 16 0-105 0-76 0 5 1 67 0-4 0-34 1 80 0-40 0-30 1-9 0 44 0-48 0 95 0-40 1 45 0-162 0 134 0-39 0-34 1 180 0-208 0-7 0 63 1-91 0 69 0-44 0 106 1-103 0 56 0-110 0 43 0 127 0-74 1-7 0-80 0 121 0-23 1 54 0-117 0 22 0-72 0 109 0 47 0-107 2 24 0-15 0-11 0 57 1-38 0-15 1 51 0-50 0-16 0 19 0 101 0-48 1 11 0-97 1 197 0-19 0-178 1 84 0 21 0 18 0-58 0-38 1 11 0 52 0-12 0 6 0-60 0 0 1 57 0 5 0-4 0-80 0 59 0 101 0-39 0-57 0 18 0-43 0 15 1 8 0 78 0-13 0 68 0-137 0-11 0-10 1 46 0 46 0-52 0 45 0-84 0-13 0 17 0 7 1 81 0-4 0 34 0-5 0-112 0 124 0-127 0-24 1 113 0-87 0 38 0 83 0-132 1 124 0-88 0 6 1 24 0 23 0 33 0-51 0 61 0-108 1 36 0-39 0 16 0 80 1-15 0-65 0 29 0 45 0-2 0-94 1 125 0-119 0-36 0 101 0 40 0 3 1-36 0-24 0-62 0 101 1-46 0 41 0 11 0 11 0 32 0-65 0-74 1 104 0-138 0 31 0 43 1 44 0-68 0-9 1 67 0-37 0-28 0 71 1 19 0-93 0 79 0 30 1-54 0-107 0 182 1-101 0 24 0 14 0 52 1-11 0-194 0 146 0 38 0 2 1-60 0 42 0-115 0 66 0 41 1-3 0 62 0-150 0-3 0 87 1 12 1 21 1-40 0-25 0 85 1-68 0-66 1 134 0-174 0 56 0 94 1 33 0-64 0-98 0 217 1-16 0-98 0 37 0-22 1-66 0-22 0 97 0-105 0 104 0-24 0 6 0-46 1 85 0-52 0 35 0 0 1-8 0-34 0 64 0-120 0-17 1 97 0-146 0 26 1 52 0 65 0-86 1-34 0 85 0-63 0 60 1-24 0 32 1-131 0 6 0 96 0-24 1 55 0-41 0-31 0-51 0 71 0 13 1 4 0 99 0-103 0-53 0 27 0 58 0-115 1 51 0-16 1-5 0 43 1 61 1-54 0-27 0 12 0 38 2-106 0-24 1 88 0 12 0-25 1 66 0-97 0-3 0 55 0 96 1-181 0 3 0 14 1-7 0 124 0 10 1-128 0-17 0 157 1-26 1-21 0-20 1-72 0 87 0-30 0 61 0-121 1-5 0 4 0 4 0 69 0-88 0 122 0 66 1-80 1-99 0 43 0 103 1-136 0 74 0-59 0 15 0 12 0 103 0-147 1 65 0 17 1-19 0-64 1 140 0-47 0-36 0-23 0 48 1-6 1-20 0 34 0 5 1-5 0 5 0-49 0 39 0 43 0-47 1-77 0 64 0 48 1-63 0 35 0-20 0 25 1-92 0-12 0 85 0 22 1-16 0-22 0 56 0-48 1 2 0 63 0-95 0 37 1 19 0-55 0 61 1-9 0 28 0 15 0-37 0 20 0-30 1 96 0-140 0 60 0 89 1-102 0-63 0 48 0 44 0 19 1-16 0-75 0 31 1-52 0 160 0-46 0-47 1 34 0 20 1-108 0 36 0 3 1 102 0-99 0 27 0 0 1 72 1-47 0 25 0-58 1-21 0 11 0-39 1 87 0-79 0 16 0 31 0-23 1 30 0 33 0 25 0-59 0 17 0-71 0 1 0 2 0 129 0-36 0 19 0 47 1-149 0 60 0 119 0-108 0 2 1-34 0-76 0 108 0-82 0 4 0-23 0 6 0 76 0 2 1 6 0-13 0 31 0-90 1 50 0-40 1 99 0-47 0-76 0 15 0 58 0-14 0 23 1-97 0 123 0-176 0 107 0-21 0 67 1 25 0-18 1 125 0-98 0-53 1 1 1 10 0-42 0 22 0 30 1 9 1-38 0-49 0 86 0-24 1-5 0-35 0 62 0-20 0-2 1-83 0 84 0 75 0-116 1 47 0 99 0-91 0-9 0 74 0-41 1-47 0 35 0-11 0 59 0 1 1-110 0-21 0 90 0-100 0 131 0-14 1-26 0 36 0-187 0 134 0-27 0 32 0 33 1-40 0 0 0 19 0-3 1-30 0-52 0 87 0 32 0-16 0-91 0-15 0 67 0-9 1 118 0-116 0-3 0 68 1-72 0 34 0 8 0-8 1-126 0 127 1-104 0-27 0 78 0-51 0 66 0-72 1 28 0 14 0 53 0-32 1-37 0 41 0 13 0 7 1 3 0-62 0-35 0 111 1-73 0 50 0 103 0-142 1-30 0 105 0-41 0 17 0-18 0-76 0 85 0 74 1-31 0-5 0-64 0 22 1 36 0 27 0-32 0-5 0-23 1 0 0 148 0-163 0-15 0-41 0 92 0-85 0 120 1-62 0 14 0-38 1 57 0-96 0-12 0-22 1 99 0 47 1 14 0-53 0-65 0 39 0 3 0 57 1 19 0-31 0 1 0-13 1 21 0-2 0-92 0 70 0-61 0 74 1 22 0-21 0-39 1 59 0-25 0 15 0-16 1-18 0 44 0-57 1 7 0 86 1-20 0-18 0-28 0 49 0 5 1-135 0 124 0-127 0 12 0 5 0-19 0 107 1 29 0-29 0-1 0 61 5-173 1 82 1 38 0-53 0 38 0-41 1 22 1 41 0-38 1 10 0-61 0 75 0-6 1-75 0 32 0 16 0-117 0 143 1-7 0-77 0 2 0 102 1-75 0 121 1-96 0 33 0-26 0-21 0 41 0 7 0-16 1-32 0 50 1-42 0-50 0 22 1 182 0-145 0 40 0-106 0 29 1 35 0-76 0 15 0-7 1 120 0-28 1-19 0-76 0 107 0-4 1-82 0 82 0-43 0 143 0-185 0 44 0-22 0-2 1 71 0-7 0 41 0-95 0 51 1-76 0 9 0 21 0-75 0 151 0-157 1-19 0 101 1-39 0 7 0-27 0 9 0-8 1-28 0 80 1 4 0-15 0 74 0-136 0 62 1-62 0 26 1 44 0 7 1-10 0-34 1 5 0 0 1 184 0-235 0 169 0-49 0-136 1 85 0 97 1-73 1 78 0-52 0 25 0-36 0 90 1-64 0-16 0-60 0 87 0-60 0-2 1 30 0 52 0 26 0-173 0 97 1 73 0-54 0-95 0 75 0 18 1 24 0 35 0-48 0 6 0 3 0-64 0 58 1 54 2-82 0 13 0 26 0-32 0 4 1-50 0 2 0 78 0-15 1 45 0-130 0 1 2 19 0 40 0-14 1 40 1 54 0-103 0 8 0-2 0-26 0 99 0-114 0 94 1-84 0-13 0 44 1 70 0 50 0-164 0 35 1 69 0-87 1-19 0 194 0-103 0-80 1-3 0 81 0-9 0 27 1-10 0-6 0-10 1 4 0-25 0 49 0 1 0-14 0-16 1-18 0-17 1 97 0-59 0-31 0 1 1-6 0 42 1 23 0-31 0-18 0-56 1 31 0-18 0 71 0 21 0-21 1-82 0 132 0-64 0-45 0 63 1-98 0 1 0 56 0-4 0-44 0 212 1-132 0 8 0-28 0-23 0 92 0-10 0-42 0-80 0 70 0 78 0 3 0-5 0 14 1-73 0-3 0-62 0 71 0 51 0-152 0 20 0 160 0-6 1-111 0 13 0 19 0-53 0-38 0 122 0-122 0 139 0-22 0 36 1-101 0 7 0 21 0 16 0 79 0-56 0 1 1-32 0-24 0 45 0-17 0 15 0 60 0-5 1-78 0 19 1 23 0-118 0 7 0-19 0 109 1-14 1-132 0 30 0 61 1 48 1-98 0 30 1-48 0 57 0-31 0-3 0-6 0 44 0 5 0-85 0 47 0 0 1 48 0-31 1-51 0-31 0 117 0-65 0 6 0 15 0 13 0 18 0-19 0-20 0 59 1-23 0 26 0-106 0 50 1-32 0 98 0-121 1 113 0-24 0-36 1 65 0-14 0-64 0 41 0-49 1 1 0 57 1 34 0-123 0 73 1 24 0-95 0-16 0 156 0-111 0 98 1-22 0-56 1 84 0-11 0-36 0-55 0 44 0 42 0-115 0 68 1-3 0-24 0 10 0-28 1 68 0-1 0 4 0 75 0-162 0 107 1-10 0-32 1 64 0-15 1-60 0 88 0-15 0 1 0 12 0 3 0-57 1 43 0-75 0-2 0 48 0 33 0 25 1 7 0-64 0 60 0-117 0 38 0-25 1 50 0 26 0-109 1 44 0 24 1-49 1 70 0-11 0-41 0 25 0-38 1-22 0 45 0 60 0-148 1 166 0-67 1-163 0 222 0-30 1-16 0-96 0 126 0-115 0 133 0-66 1 35 1-91 0-9 0 122 0-115 1 31 0 4 0 24 0-10 0-20 0-32 0 99 0-33 1 26 0-5 0 52 0-40 0-14 0 94 0-192 1 15 0-4 0 48 0-25 0 15 0 14 1 2 0-74 0 90 0 92 1-89 0-20 0 0 0-21 0 100 1 22 0-109 0 54 0-83 0 51 0 3 2-31 0 132 0-116 0 34 1-122 0 60 0 98 0-64 0-3 0 28 0 32 0-15 1-14 0-35 0 57 0-78 0 63 1 11 1 58 0-162 0 26 0 14 0-31 1 42 0-51 0 49 0-92 0 95 1 58 0 66 0-90 0-96 0 8 0 96 1-49 0 15 0-2 1-56 0-1 0-8 0-22 0 26 0 59 1-5 0 22 0-72 1 8 0-1 0 24 0-14 0-1 1 33 0 33 0-56 1 40 0 36 0-85 0 39 0-138 0 41 0 97 0-34 1 11 0-91 0 121 1-84 0 13 0 94 1-64 0 3 0 10 0-21 0 41 0-20 1 104 0-142 0 40 0 19 0-86 1 109 0 59 0 20 0-81 0-113 1 39 0 105 1-20 0-88 0 25 0 51 0-33 0 34 0-23 0-57 0-11 0 48 0 72 0-46 0 74 0 2 0 4 0-13 1-64 0 2 0 14 0-16 0-76 0 168 0-22 0 17 1-81 0 25 0-36 0-58 0 87 0 34 1-118 0 0 0 160 0-78 0 6 0 10 0-93 0 66 0-4 0 77 0-23 1-66 0 14 0-45 0 77 0-63 0 22 0-3 0 10 0 47 0 13 1-136 0 82 0 21 1 5 0-23 0-88 0 81 0-30 0 31 0 7 0 7 0 4 0 2 1-112 0 121 0-90 0 66 0-62 0 54 0 106 0-160 0 61 0-3 1-37 0 39 0 0 1-11 0-90 0 200 0-127 0-27 1 84 0 28 0-49 0-54 0 49 0 67 0-160 1 61 0 51 0-14 0-12 0 52 0 18 0-152 1 34 0 140 0-171 0 82 0-15 0-64 0 61 0 23 1 38 0-2 0-32 0 57 0-132 1 112 1-30 0-45 0 80 1-55 0 75 0-62 0-46 0-46 1 99 0-96 1 61 0 64 0-85 0-20 0 42 0-53 0 127 1-69 0-30 0 47 1-64 0-1 0 82 0-6 1 10 1-14 0-5 0-84 0 5 0 46 1 57 0-42 0 33 0-57 0-10 1 64 0-40 0 45 0 3 1-3 1 33 0-109 0 28 0-27 0 101 0-48 0 28 1 7 0-24 0-54 1 68 0 8 1 4 0-27 0-30 1 46 0-49 1 70 0-26 0 67 0-67 0-19 0 22 1-20 0-65 0-21 0 106 0 13 0-49 0-11 1 14 0-64 0 56 0 67 0-134 0 105 0 0 0-93 1 1 0 94 0-49 0 47 0-38 1 2 0-6 1 59 0-14 0-84 0 28 0 1 1 68 0 2 0 18 0 31 0-143 0-15 0 99 1-6 0-29 0-24 1 43 0 22 0 3 0 57 0-163 0 102 1 6 0-65 1 50 0-21 1 43 0-27 1-85 0 61 0-61 0 78 0 47 1-70 0 40 0-71 0-34 0 56 0 28 0 43 0-8 1-56 0-23 0 60 0-89 0 134 0-3 0-18 0 17 0-6 1-20 0-115 0 1 0 38 0 25 0 94 0-28 0 34 1-96 0-55 0 50 0 127 0-105 0-73 0 15 0 134 0-5 1-84 0 38 0 44 0-61 0-96 0 131 1-172 0 138 0 12 0-58 1 3 0 174 0-86 0-126 0 8 0 17 0-24 0 140 1-117 0 52 0 58 0-44 1-36 0-72 0 18 1 15 0 0 0 76 1-94 0 64 0 165 0-138 0-7 0-83 1 23 0 12 0-36 0 101 0-41 0 39 0-19 0 85 1-126 0 5 0 93 0-58 0 17 0-101 1 92 1-42 0 2 0 28 0 120 0-151 0-34 0-12 1 134 0-80 1-39 0 33 0-46 1 73 0-103 1 116 0-5 0-81 0-21 0-17 1 27 0 101 0-34 0 47 0-11 0-115 0-23 0 37 1 90 0-83 0 93 0 8 0-21 0 4 0-107 0 6 0-16 0 15 1 101 0-70 0 97 0-132 0 184 0-99 0-31 0-66 0 9 0 0 0 33 1 38 0-17 0 55 0 16 0-102 1 17 0 82 0-125 1 96 0-18 0-3 0-12 0-14 0 76 0-25 0 0 1-20 0-30 0 2 0-8 1-15 0 11 0 29 1 13 0-31 0 95 0-28 0-83 1 9 0 70 0-19 1-9 0 13 0-23 1-57 1 7 0 17 0 90 1-129 0 81 0-13 1 0 0-75 0 74 0-52 0 109 1-163 0 53 0 38 0 47 0-28 1 24 0-84 1 61 0 58 0-102 0 67 0 6 0-48 0 8 1-79 0 127 0-72 0-27 1 83 1-35 0 24 0 34 0-138 0 97 0 103 1-63 0-74 0 61 0-24 0 42 1 28 0-49 0 10 0-37 0 23 0 15 0-42 0 53 0-13 0-2 1-69 0 57 0-21 0 3 0 40 0-10 0 18 0-11 0 3 1 56 0-163 0 94 0-11 0-9 0 38 0-6 0-17 0 46 1-72 0 43 0 113 0-204 0 35 0-27 0 87 0-21 1 130 0 32 0-27 0-32 0-129 0 26 1 65 0-27 0 126 0-107 0-18 0-76 0 11 0 12 1 54 0 64 0 43 0-19 0-28 0 27 0-21 0-78 0-21 0-42 0 27 0 3 0-31 1 95 0-57 1 51 0 75 0-3 0-10 0-22 0-13 0-32 1 86 0-97 0 81 0-16 0-35 0-55 0 48 0-44 0 29 0 21 0-26 1 50 0-72 0 16 0 5 0 73 0-74 0 50 0-48 0 4 0 38 0-32 0 69 0-69 0 21 1 62 0-23 0-78 0 100 0-13 0-22 0-15 0 20 0-4 0-55 0-1 0 27 1 4 0 60 0-16 0 3 0-96 0 29 0 89 0-7 0-65 1 57 0-59 0 17 0 17 0-15 0-46 0-48 0 68 0 26 1-26 0 48 0-45 0-26 1 112 0-30 0-58 0 17 1 4 0 65 0 1 0-117 0-11 0 24 0 39 0-68 0 48 0-5 1 12 0-2 0-10 0 19 0-10 0-36 0-11 0 20 0 23 0 19 0 30 1-111 0 77 0-1 0-44 0 43 0-82 0 108 0-18 0-2 0 65 1-60 0-33 0 8 0-52 0 70 0 12 0-11 0-56 0 69 0-5 0 45 0-49 0-12 1-87 0 97 0-58 0 41 0-64 0 49 0-109 0 130 0-52 0 49 0-11 0 52 0-28 0 45 0-64 0-21 1 112 0-92 0-19 0-56 0 54 0-10 0 30 0 34 0-12 1-30 0-63 0 106 0-8 0 15 0-19 0-72 0 43 1-56 0 80 0-73 0 83 0-40 0-4 1 35 0-84 0 25 0 23 0 47 0-60 0 31 0 32 0-18 1 13 0-22 0-30 0-8 0 63 0-65 1 65 0-2 0-27 0 39 0 12 0-75 1 74 0-42"/></g>
<g filter="url(#bl)">
<path class="v" d="M423.1 298.2V503.5M450.4 298.2V503.5M471.7 298.2V503.5M490.4 298.2V503.5M512 298.2V503.5M530.3 298.2V503.5M548.2 298.2V503.5M554 298.2V503.5M570.3 298.2V503.5M585.4 298.2V503.5M594.1 298.2V503.5M602.6 298.2V503.5M609.1 298.2V503.5M622.6 298.2V503.5M633.8 298.2V503.5M635.3 298.2V503.5M643.8 298.2V503.5M650.5 298.2V503.5M656.6 298.2V503.5M664.9 298.2V503.5M669.3 298.2V503.5"/>
<path class="v" d="M403.3 400.9H679.8"/>
<path class="o" style="stroke-width:3.1" d="M405.2 401.9H420.2M420.8 389.2H422.8M424.2 394.9H427.4M427.2 398.1H430.8M431.4 385.8H433.8M434.4 403.6H449.4M451.4 404.5H460.6M461.7 362.5H471.6M473 407.7H489.4M491.5 383.7H496M497.8 407H511.4M512.8 375.2H524.2M525.2 376.7H530M531.2 388.9H533M533.4 402.6H547M549.7 388.1H551.4M551.2 400.9H552.8M555 407H559.6M560.8 404.8H569.2M571.2 381.1H575.2M575.6 406.5H585M587 407H593.8M595.8 387.2H601.6M603.5 404.5H608.6M610.6 400.9H618.2M618.8 384.6H621.2M623.5 399.7H625M626.2 396.3H633M636.6 407H643.4M645.4 405.6H649.4M651.4 404.3H654.6M658 398.5H664.8M670.6 459.7H674.6M675.8 440.2H677.6"/>
<path class="o" style="stroke-width:2.8000000000000003" d="M478.1 443.3h.3M496.9 379h.3M591.4 456.3h.3M626.1 416.9h.3M624.4 441.2h.3M646.1 452.2h.3M655 374.2h.3M668 407h.3M666.6 427.9h.3"/>
<rect class="f" x="403.3" y="298.2" width="276.5" height="205.3"/>
<path class="k" d="M403.3 298.2V503.5"/>
<path class="k" d="M400.5 298.2h2.8M400.5 332.4h2.8M400.5 366.6h2.8M400.5 400.9h2.8M400.5 435.1h2.8M400.5 469.3h2.8M400.5 503.5h2.8"/>
</g>
<path d="M520.2 294.6H525" stroke="#333" stroke-width="1"/>
<g filter="url(#bt)"><text class="t" x="396.9" y="300.7">1.5</text><text class="t" x="396.9" y="334.9">1.0</text><text class="t" x="396.9" y="369.1">0.5</text><text class="t" x="396.9" y="403.4">0.0</text><text class="t" x="396.9" y="437.6">−0.5</text><text class="t" x="396.9" y="471.8">−1.0</text><text class="t" x="396.9" y="506">−1.5</text><text class="x" transform="translate(412.4 514.9) rotate(-60)" y="2">chr1</text><text class="x" transform="translate(435.9 514.9) rotate(-60)" y="2">chr2</text><text class="x" transform="translate(460.2 514.9) rotate(-60)" y="2">chr3</text><text class="x" transform="translate(480.2 514.9) rotate(-60)" y="2">chr4</text><text class="x" transform="translate(500.3 514.9) rotate(-60)" y="2">chr5</text><text class="x" transform="translate(520.2 514.9) rotate(-60)" y="2">chr6</text><text class="x" transform="translate(538.4 514.9) rotate(-60)" y="2">chr7</text><text class="x" transform="translate(550.2 514.9) rotate(-60)" y="2">chr8</text><text class="x" transform="translate(561.2 514.9) rotate(-60)" y="2">chr9</text><text class="x" transform="translate(577 516.5) rotate(-60)" y="2">chr10</text><text class="x" transform="translate(588.9 516.5) rotate(-60)" y="2">chr11</text><text class="x" transform="translate(597.5 516.5) rotate(-60)" y="2">chr12</text><text class="x" transform="translate(605 516.5) rotate(-60)" y="2">chr13</text><text class="x" transform="translate(615 516.5) rotate(-60)" y="2">chr14</text><text class="x" transform="translate(627.3 516.5) rotate(-60)" y="2">chr15</text><text class="x" transform="translate(633.7 516.5) rotate(-60)" y="2">chr16</text><text class="x" transform="translate(638.7 516.5) rotate(-60)" y="2">chr17</text><text class="x" transform="translate(646.2 516.5) rotate(-60)" y="2">chr18</text><text class="x" transform="translate(652.7 516.5) rotate(-60)" y="2">chr19</text><text class="x" transform="translate(659.9 516.5) rotate(-60)" y="2">chr20</text><text class="x" transform="translate(666.2 516.5) rotate(-60)" y="2">chr22</text><text class="x" transform="translate(673.7 515.2) rotate(-60)" y="2">chrX</text><text class="yl" transform="translate(378.3 406.9) rotate(-90)">Copy ratio (log2)</text></g></g>
<g><linearGradient id="gCL" x1="0" y1="0" x2="0" y2="1"><stop offset="0.000" stop-color="#585858" stop-opacity="0.001"/><stop offset="0.036" stop-color="#585858" stop-opacity="0.001"/><stop offset="0.071" stop-color="#585858" stop-opacity="0.002"/><stop offset="0.107" stop-color="#585858" stop-opacity="0.004"/><stop offset="0.143" stop-color="#585858" stop-opacity="0.007"/><stop offset="0.179" stop-color="#585858" stop-opacity="0.011"/><stop offset="0.214" stop-color="#585858" stop-opacity="0.019"/><stop offset="0.250" stop-color="#585858" stop-opacity="0.032"/><stop offset="0.286" stop-color="#585858" stop-opacity="0.053"/><stop offset="0.321" stop-color="#585858" stop-opacity="0.087"/><stop offset="0.357" stop-color="#585858" stop-opacity="0.135"/><stop offset="0.393" stop-color="#585858" stop-opacity="0.192"/><stop offset="0.429" stop-color="#585858" stop-opacity="0.247"/><stop offset="0.464" stop-color="#585858" stop-opacity="0.287"/><stop offset="0.500" stop-color="#585858" stop-opacity="0.301"/><stop offset="0.536" stop-color="#585858" stop-opacity="0.284"/><stop offset="0.571" stop-color="#585858" stop-opacity="0.241"/><stop offset="0.607" stop-color="#585858" stop-opacity="0.184"/><stop offset="0.643" stop-color="#585858" stop-opacity="0.126"/><stop offset="0.679" stop-color="#585858" stop-opacity="0.079"/><stop offset="0.714" stop-color="#585858" stop-opacity="0.046"/><stop offset="0.750" stop-color="#585858" stop-opacity="0.025"/><stop offset="0.786" stop-color="#585858" stop-opacity="0.014"/><stop offset="0.821" stop-color="#585858" stop-opacity="0.008"/><stop offset="0.857" stop-color="#585858" stop-opacity="0.004"/><stop offset="0.893" stop-color="#585858" stop-opacity="0.002"/><stop offset="0.929" stop-color="#585858" stop-opacity="0.001"/><stop offset="0.964" stop-color="#585858" stop-opacity="0.001"/><stop offset="1.000" stop-color="#585858" stop-opacity="0.000"/></linearGradient>
<clipPath id="cCL"><rect x="55.6" y="578.6" width="276.5" height="205.7"/></clipPath>
<g clip-path="url(#cCL)" fill="url(#gCL)">
<rect x="55.6" y="623.1" width="16.5" height="116.7"/>
<rect x="72.1" y="621.7" width="3" height="116.7"/>
<rect x="75.1" y="621.6" width="27.5" height="116.7"/>
<rect x="102.6" y="621.6" width="21.5" height="116.7"/>
<rect x="124.1" y="621.6" width="18.5" height="116.7"/>
<rect x="142.6" y="621.4" width="19.5" height="116.7"/>
<rect x="162.1" y="623.1" width="2" height="116.7"/>
<rect x="164.1" y="623.1" width="18.5" height="116.7"/>
<rect x="182.6" y="623.1" width="18" height="116.7"/>
<rect x="200.6" y="620.4" width="5.5" height="116.7"/>
<rect x="206.1" y="621.7" width="16.5" height="116.7"/>
<rect x="222.6" y="623.9" width="15" height="116.7"/>
<rect x="237.6" y="620.7" width="4" height="116.7"/>
<rect x="241.6" y="623.8" width="4.5" height="116.7"/>
<rect x="246.1" y="624.5" width="8.5" height="116.7"/>
<rect x="254.6" y="624.5" width="6.5" height="116.7"/>
<rect x="261.1" y="621.7" width="13.5" height="116.7"/>
<rect x="274.6" y="623.1" width="11.5" height="116.7"/>
<rect x="286.1" y="623.1" width="1.5" height="116.7"/>
<rect x="287.6" y="624.8" width="8.5" height="116.7"/>
<rect x="296.1" y="620.4" width="6.5" height="116.7"/>
<rect x="302.6" y="624.5" width="6" height="116.7"/>
<rect x="308.6" y="621" width="8.5" height="116.7"/>
<rect x="317.1" y="625.2" width="4.5" height="116.7"/>
<rect x="321.6" y="621.7" width="10.5" height="116.7"/>
</g>
<g filter="url(#bp)" transform="scale(.5)"><path class="p" d="M112 1390l0-55 0-12 0 35 0-24 0 34 0-6 0-26 0 44 0-12 0 22 0-58 0 74 0-52 1-20 0 28 0-37 0-1 0 87 0-39 0-10 0 1 0 40 0-1 0-68 1 20 0-10 0 13 0 49 0-57 0-11 0 3 0 47 0-64 0 25 0 20 0-7 0 5 0-36 0 50 0 15 0-53 0-17 0 48 1-22 0-12 0 55 0-52 0 18 0-1 0 38 1-28 0 30 0-53 0 6 0-5 0-33 0 44 0 20 0-27 0-37 0 22 1 46 0-18 0 3 0 13 0 8 0-38 0 10 0-7 0 6 0-2 1-7 0-23 0 36 0-53 0 54 0-30 0 3 0 25 0 9 0-30 0 40 0-2 1-14 0-6 0-32 0 57 0 16 0-25 0-55 0 72 0-38 0 37 1-19 0-34 0 6 0 22 0 24 0-57 0-1 0 31 0-44 0 70 0-60 1 43 0 11 0-27 0 24 0 6 0-72 0 29 0 43 0-54 0 39 0 26 0-54 0 11 0-18 0 6 0 5 1 11 0 20 0-30 0-15 0 29 0-8 0 13 0-24 0 31 0-18 0-2 0 29 0 6 0 2 0-61 0 4 0 2 1 61 0-28 0 15 0-51 0-23 0 44 0 14 0 25 1-38 0 11 0 37 0-23 0-39 0 34 0-7 0-31 0 0 1 1 0 1 0 17 0-31 0 48 0-16 0-32 0 12 0 24 0-3 0 4 1-16 0 8 0 1 0-11 0 31 0-20 0 40 0-28 1-52 0 71 0-17 0-40 0 31 0-27 0 36 0-31 0 17 0 30 0 20 1-1 0-40 0 24 0-26 0 22 0-54 0 6 0 56 0-50 0 8 0 6 1-16 0 31 0-7 0-38 0 63 0-27 0 33 0-18 0-64 0 42 0 48 0-2 0 3 0-9 0-31 1-1 0 19 0-50 0 16 0-28 0 48 0-29 0 28 0-33 0 31 0-20 0 32 0-11 0-41 0 37 0 18 1-14 0 1 0-44 0 31 0 12 0-11 0-15 0 54 0-44 0 20 0-1 1-24 0 9 0 55 0-25 0-12 0 0 0-20 0 7 0 39 0-36 0 7 0 5 0-20 1-5 0 28 0 3 0-18 0-45 0 21 0-3 0 7 0-20 1 38 0 19 0-45 0 39 0-26 0 41 0-12 0-47 0 10 0 44 0-29 0 15 0 31 0-16 0-6 0-37 0 5 1 25 0 0 0-36 0 8 0 37 0-21 0-16 0 0 0-30 0 42 0 0 0-31 0 22 0 46 0 8 1-27 0 33 0-77 0 65 0 16 0-67 0 18 0 5 0-51 0 71 0-27 0-13 0 26 0-1 0 17 0-53 1 20 0 18 0-17 0-16 0 53 0-55 0 22 0 2 0 2 0 26 1-31 0-11 0 18 0-4 0 30 0-65 0 40 0 2 0-15 0-10 0-24 0 49 0 2 0-29 0 20 0 50 0-42 0-1 1-14 0 11 0 6 0-19 0-2 0-9 0 41 0-23 0 32 0-23 0-1 1-13 0 2 0 28 0 6 0-11 0-35 0 14 0 34 0-13 0-32 0 52 0-29 0-4 0-43 1 62 0 3 0-36 1 38 0-7 0-40 0-3 1 40 0-31 0 54 0-71 0 18 0 7 0 16 0-47 0 24 1-18 0 32 0-51 0 42 1-9 0 42 0-26 1 41 0-51 0 9 0-39 0 62 0-45 0 45 0-31 0 18 0-47 1 25 0 6 0-43 0-1 0 5 0 67 0-22 0-24 0 10 0-12 0 27 1 0 0 15 0-47 0 18 0 29 0-26 0-12 0 11 0 1 0 5 0 34 0-49 0 6 0-4 1-16 0 25 0-5 0-16 0 8 0-23 0 46 0-8 0 22 0-27 0 31 0-30 0 12 0 9 0-24 1-4 0 13 0-39 0 57 0 19 0-52 0 19 0-20 0 12 0-41 1 24 0 34 0-3 0-4 0 32 0-44 1 1 0 10 0-4 0-3 0 44 0-59 0 48 0-61 0 39 0 29 0-50 0-22 0 61 0-14 0-14 1-33 0 41 0 24 0-48 0 5 0-36 0 64 0 11 0-19 0 14 0-62 0 35 1 48 0-12 0-17 0-44 0 55 0-10 0 8 0 9 0-7 0-35 0-34 1 51 0-54 0 34 0 29 0-33 0-32 0 55 1 19 0-55 0 19 0 5 0 7 0-1 0 45 0-33 0 7 0-8 1 6 0-12 0 15 0-16 0-7 0 24 0-35 0-19 0 10 0 17 0 17 0-7 0-41 1 39 0-20 0 33 0-57 0 30 0 6 0 7 1-42 0 60 0-68 0 38 0-9 0-11 0 18 1 30 0 13 0-27 0-28 0 51 0-38 0-4 0 14 0 17 1-54 0 40 0-9 0-37 0 22 0-4 0-7 0 21 0 11 1-41 0 63 0-18 0-4 0-8 0-19 0 63 0-3 0-29 0-30 0 25 0 1 1-38 0 44 0 30 0-21 0-21 0 7 0 4 0 29 0-17 0-14 0 8 0-17 0 8 0 45 0-15 0-35 0 50 0-51 1 48 0-55 0 31 0-20 0-14 0 33 0 28 0-34 0-34 0 26 0-37 0 56 0-20 1 14 0-25 0 23 0-51 0 47 0 20 0-28 0 30 1-30 0-28 0 26 0 6 0-40 0 17 0 28 0-35 0 17 0-21 0 32 0 35 0-54 1 14 0-15 0-14 0 46 0 30 0-78 0 24 0 11 0 6 1-33 0 14 0 23 0 3 0-24 0-3 0 30 0-53 0 64 0-4 0-29 1-2 0 3 0 18 0-17 0-11 0 35 0-69 0 76 0-14 0-55 0 14 0 40 1-25 0 36 0-59 0-14 0 38 0 14 0 0 0-11 0 31 1 14 0-19 0 3 0-50 0 7 0 42 0-44 1 11 0 17 0 23 0 11 0-51 0 50 0-67 1 42 0 30 0-43 0 34 0 5 0-63 0 3 0 13 1 19 0-4 0 3 0 5 0-48 0 5 0 26 0-25 0 30 0 12 0 14 0 19 0-25 0-1 0-19 0-30 0 41 1-55 0 79 0-62 0 35 0-6 0 6 0-5 0-36 0 34 0 9 1 29 0-65 0 45 0-41 0 51 0-60 0 74 0-30 0 26 0-66 0 8 1 20 0 13 0-57 0 30 0 26 0-38 0 46 0 5 0-42 0 36 0 16 1-31 0-44 0-2 0 61 0-33 0-13 0 35 0-13 0-15 0-9 0 25 0-18 1 37 0-38 0 14 0-17 0 38 0-35 0-6 0 50 0 27 0-82 0 24 0 32 0 16 1-66 0 38 0-17 0 22 0 2 0-14 0-20 0 39 0-62 0 6 0 3 0-14 1 37 0-28 0-5 0-3 0 36 0 11 0 28 0-65 0 22 1 12 0-21 0 43 0 21 0-64 0 1 0-7 1 6 0 46 0-14 0-56 0 93 0-55 0-1 0 31 0 5 1 11 0-71 0 34 0-17 0 11 0 39 0-53 0 14 0 16 0-16 0 25 0-35 0-38 0 2 0 52 0-33 0 50 1-8 0-49 0 26 0 25 0-21 0 21 0-11 0 7 0 5 0 23 1-52 0 37 0-44 0-26 0 62 0 10 0-36 0 0 0 24 0-3 0-34 1 27 0 30 0-85 0 68 0-24 0-2 0 26 0 11 0-31 0 13 1-38 0 48 0-23 0-30 0 31 1 0 0-9 0 22 0-19 0 3 0-8 0-7 0 25 0-7 0-19 0 24 0 1 0-32 0 31 0-6 0-3 0-26 0 22 0-15 1 26 0-17 0 6 0 11 1 11 0-20 0 32 0-46 0 5 0 21 0-7 0 10 0 4 0-26 0-21 1-4 0 20 0 29 0 12 0-1 0-22 0-16 0 54 1-52 0-18 0-7 0 39 0-43 0 68 0-48 0 2 0 32 0-62 0 84 0-43 1-5 0 50 0-40 0-27 0 21 0 15 0-14 0 37 1-32 0-13 0 19 0 23 0-19 0-30 0 64 0 0 0-63 0 20 1 5 0 30 0-1 0-39 0 1 0-31 0 75 0 11 0-60 0 37 0-31 0-38 0 85 0-65 1 20 0 12 0-12 0 33 0 7 0-64 0 19 0 38 0-46 0 45 0 3 0-20 0-24 0 31 1-33 0-29 0 93 0-48 0 20 0 28 0-93 0 66 0-9 0 14 0-30 0-33 0 14 0 55 1-26 0 46 0-47 0 13 0 2 0-40 0 41 0-60 0 14 0 51 0-55 1-3 0 12 0 31 0 35 0-7 0-47 0 31 0-7 0-6 1-19 0 40 0 13 0-31 0 15 0 11 0-58 0 42 0 2 0 13 0-79 1 47 0-33 0 33 0-26 0-20 0 71 0 20 0-26 0-7 0-41 0 45 1-12 0 25 0-42 0 30 0-62 0 51 0-37 0 10 0-16 0 12 1 45 0-52 0 49 0 17 0-36 0-22 0-13 0 38 0 14 0-37 0 11 1 57 0-78 0 14 0 2 0-8 0 52 0-40 0 6 0 13 0-50 0 32 0-18 0 10 1 18 0-46 0 74 0 0 0-8 0 1 0-17 0-49 0 56 0 31 0-61 0-22 0 1 1 26 0-22 0 52 0-26 0-28 0-3 0 19 0 10 0 37 0-35 0 9 0-39 1 0 0 20 0 29 0-52 0 29 0 35 0-61 0 77 0-64 0 56 0-30 0 30 0-84 0 25 1 35 0-43 0 5 0 52 0 10 0-8 0-69 0 48 0 33 0-63 0 22 1-30 0 84 0-90 0 35 0 25 0 6 0-55 0-18 0 55 1-12 0 26 0-7 0 9 0-32 0-24 0-9 0 39 0-21 1 40 0-48 0-11 0 67 0-24 0-5 0-17 0 8 0 37 0-70 0 85 0-24 0-11 0 9 0-5 0-2 0-9 1 2 0 8 0 19 0-59 0-16 0 83 0-27 0 21 0-77 1 93 0-19 0-65 0 58 0-10 0-48 0 35 0 3 0-2 0-12 0-31 0 72 0-58 1 27 0 48 0-44 1-22 0 12 0 4 0-10 0-8 0 7 1 10 0-37 0 43 0-21 0 50 0-6 1-7 0-32 0 18 0-6 0-15 0 17 0 39 0 0 0-56 0 4 0-7 1 46 0-10 0 1 0-16 0-11 0 16 0-20 0 8 0 1 1 11 0 4 0-16 0 24 0-29 0 13 0 36 0 7 0-55 0 29 0-40 0-9 0 51 0 4 0-46 0 40 0-14 1 19 0-38 0 16 0-14 0 37 0-64 0 69 0-33 0-1 0-37 0 35 0 18 0 0 1 21 0-10 0-6 0 7 0-58 0 82 0-42 0 37 0-44 0-41 0 23 0 63 0-61 0 13 1-14 0-20 0 22 0-3 0 12 0-16 0 25 1 42 0 9 0-27 0 17 0 2 0-7 0-22 0 9 0-17 0 10 0-20 0-14 0 45 0-5 0-49 0 21 1 59 0-24 0-18 0-27 0 39 0-53 0 35 0-25 0 14 1 12 0-2 0 38 0-30 0-1 0-22 0 36 0-33 0 26 0 1 0-9 0-17 0-32 1 55 0-5 0 7 0 17 0-26 0-10 0-20 0 55 0 0 0-15 0 7 1-6 0 20 0-37 0 32 0 11 0-41 0 11 0-22 0 47 0-44 0-1 1-3 0-25 0 34 0-21 0 28 0-56 0 52 0-23 0 3 0 2 0 20 0 14 0-49 1 48 0-12 0 4 0 37 0-25 0-7 0-12 0-40 0-4 0 55 0-20 1 52 0-28 0 24 0-4 0-46 0-39 0 13 0 24 0 42 0-60 0 17 0 29 0-34 0 12 0-1 0 36 0-31 0-22 1 43 0-31 0-19 0 2 0 5 0-12 1 27 0 7 0 49 0-47 0 27 0-68 0 61 0-37 0 12 0 29 0 22 1-52 0 8 0 12 0-30 0 23 0-30 0-2 0 29 1 18 0-18 0 23 0 1 0-81 0 53 0-34 0 47 0 11 0-44 0 69 1-30 0 12 0-48 0 12 0-6 0 60 0-78 0 34 0 5 0 21 0-57 0 21 0-31 0 21 1 46 0-21 0-39 0 28 0 15 0-37 0 23 1 6 0-14 0 35 0-27 0 20 0 25 0-58 1-4 0 38 0 15 0-37 0 31 0-22 0 39 0-50 0-19 1 7 0 50 0-51 0 12 0-17 0 1 0 57 0-72 0 40 0 21 0 11 0 10 0-57 0 17 0 3 0 34 0-33 0 9 1-6 0-65 0 19 0 15 0 66 0-47 0-8 0 5 1 23 0-54 0 51 0-22 0 26 0-24 0 5 0-29 0 21 0 29 0-31 0-20 0 62 1-64 0 39 0-17 0 38 0-31 0 29 0-2 0-47 0 32 0-15 0 4 0-5 0 50 0-46 0-34 1 5 0 76 0-37 0-15 0 7 0 5 0 7 0-15 0 11 0-47 0 51 0-42 1 27 0-34 0 32 0 5 0-18 0 21 1-51 0 35 0 31 1-62 0 36 0 41 0-5 0-29 0-4 0-42 0 60 0-48 0 22 0 19 1-9 0 18 0-9 0-10 0 11 0-45 0 67 0-50 0-2 0 30 0 10 1 29 0-64 0 37 0-54 0 16 0 21 0 4 0-22 0 9 0-33 0-16 0 62 0-36 0 19 0 19 1-27 0-15 0 49 0 32 0-29 0-30 0-23 0 14 1 5 0 37 0-8 0-9 0-20 1-17 0 78 0-57 0 21 0 9 0 2 1-29 0 27 0 0 0-12 0-29 0 9 0-15 0-11 0 81 0-40 0-42 0 79 0-38 1 7 0 8 0-47 0 18 0 20 0-33 0 42 0-18 0 4 0 1 1-18 0 9 0-40 0 59 0-27 0 13 0-25 0 13 0-1 0-3 1 7 0 50 0-27 0 1 0 11 0 12 0-63 0 14 0 38 0-55 0 8 0 60 0-26 0-24 0 55 1-22 0-3 0 17 0-31 0 3 0-30 0 11 1 16 0-58 0 17 0 26 0-19 0 35 0-22 0 14 0-52 0 35 0 24 1 24 0-5 0-33 0 10 0-4 0 11 1 9 0 14 0-54 0 61 0-65 0-16 0 59 0 27 0-34 0-5 0-47 0 42 0 44 1-30 0 0 0-31 0-31 0 43 0-1 0 8 0-46 1 13 0 14 0 0 0 19 0 7 0 7 0-60 0 50 0-21 0 2 1-20 0 3 0 31 0-16 0-2 0 47 0-65 0 67 0-57 1 16 0 32 0-4 0-42 0 47 0-13 0-7 0-15 0-12 0 32 0 30 0-87 0 33 0 50 0 6 0-51 0 5 0 20 0 10 0-30 1 35 0-55 0 44 0-3 0 4 0-7 0-5 0-40 0 71 0-39 0-20 0-24 0 59 0-11 1 16 0 6 0-27 0 10 0-22 0 32 0-2 0-28 1-7 0 39 0-46 0 16 0 15 1-8 0-15 0 10 0-25 0 25 0 34 0-53 0 25 0-35 0 40 0-34 1 37 0-14 0-27 0 70 0-41 0-27 0 16 0 25 0 28 1-1 0 11 0-37 0-60 0 57 0 16 0-35 1-29 0 61 0-8 0 7 0-32 0 3 0-5 0 63 0-70 0 53 0-58 0 5 0 22 0-27 1 19 0-4 0 23 0-7 0-21 0 7 1-14 0 15 0 41 0-43 0 28 0-62 0 57 0 3 0 8 0-37 0 15 0-2 0 39 0-73 0 70 0-15 1-1 0-38 0 47 0-25 0-16 0 43 0-42 0-7 0-10 0 18 0 30 0-57 0 23 1-23 0 82 0-33 0-36 0-2 0 20 0 21 0-16 0 25 0-27 1 7 0 18 0-37 0-2 0 3 0-30 0 19 0 30 0 31 0-89 0 8 1 60 0 32 0-43 0-49 0 94 0-11 0-76 0 84 1-66 0 12 0 6 0-38 0 48 0-11 0-21 0 52 0-13 0-49 0 48 1 0 0-32 0 37 0-33 0 1 0 25 0 28 0-19 0-71 1 60 0 28 0-15 0-54 0 36 0-24 0 8 0-3 0-18 0 40 0 26 0-69 0 36 0 14 0 31 1-75 0 1 0 28 0-10 0-13 0 0 0 0 0 46 0-31 0 13 0-42 0 17 0 18 1-45 0 29 0-6 0 43 0-3 0-2 0 2 0 27 0-33 0-34 0 24 0 10 1-2 0 4 0 4 0-13 0-44 0 24 0 41 0-36 0 0 0 19 0 20 0-56 1 43 0 16 0 3 0-34 0 30 0-39 0 18 0 19 1-47 0 65 0-41 0-47 0 21 0 15 0-12 0 7 0 18 1-6 0 6 0 5 0 25 0-46 0 10 0 7 0-16 0-7 0 5 0 22 0-9 0 1 1-49 0 26 0 46 0-31 0 2 0-45 0 73 0-10 0-53 0 82 0-56 0 14 0 2 0 19 0-19 0 17 1 9 0-46 0-13 0 18 0 44 0-53 0 25 0-14 0-21 0 6 0 0 1-8 0 2 0 3 0-17 0 20 0 64 0-17 0-44 1-9 0 77 0-31 0-42 0 74 0-16 1-21 0-39 0 37 0-20 0-1 0 55 0-15 0-25 0 17 0-4 1-36 0 19 0 18 0-52 0 44 0 4 0-15 0 32 0-27 0 27 0-18 0-15 0-10 0-1 0 7 0 27 0 2 0-17 1 10 0-37 0 15 0 16 0-18 0-28 0 25 0-18 0 5 0-24 0 51 0 6 1 4 0-9 0-33 0 23 0 44 0 6 0-27 0-13 1 10 0-1 0 6 0-25 0 18 0-5 0-14 0-42 0 23 0 30 0-29 0 54 0-19 0-24 0 32 1 3 0-21 0-7 0-26 0 68 0-70 0 57 0 28 0-72 1 44 0-1 0 5 0-29 0 13 0-49 0 17 1-6 0 4 0 65 0-21 0-14 0 2 0-28 0 24 0 0 0-27 0 7 0 34 0-4 0-39 1 45 0-26 0 5 0-13 0 13 0 19 0-67 0 39 0 11 0-28 0-22 1 71 0 1 0-11 0-30 0 18 0-10 0 15 1-10 0 24 0-54 0 46 0-18 0-34 0 7 0 39 0-3 0-13 0 53 0-51 0 57 1-44 0-34 0 37 0-29 0-3 0-1 1-15 0 22 0 31 0-23 0 15 0-55 0 71 0 27 0-35 0 21 1-54 0 39 0 6 0-9 0-48 0 16 0 35 0-62 0 23 0-11 0 24 1 13 0-6 0 0 0-3 0 3 0-2 0-8 0 27 0-42 0 70 0-38 0-13 0 0 0-3 0 5 0-15 0 4 0 32 1-18 0 16 1-62 0 53 0-17 0 5 0 23 0-36 0 28 0-7 0 0 0 5 0-49 1 74 0 1 0 4 0-48 0 0 0-38 0 73 0-41 0 23 0-5 0 25 0-6 1-23 0-42 0 41 0 0 0 27 0-9 0 1 0-57 0 47 0 46 0-16 0-80 0 78 0-15 1-16 0 18 0-21 0 7 0-5 0 11 0-32 1 0 0 22 0 22 0-48 0-8 0 64 0-54 0-19 0 25 0-30 1 70 0 20 0 0 0-27 0-42 0 8 0-6 0 56 0-30 0 9 1-6 0 0 0-23 0 5 0 23 0 12 0-39 0 25 0 0 0 12 0-49 0 35 1-8 0 44 0-51 0 14 0-35 0 15 0 6 1-31 0 37 0-20 0 58 0-50 0 37 0-57 0 38 0 24 0-67 0-12 0 40 0-14 1-6 0 15 0 51 0-19 0-8 0-28 1 15 0 10 0-9 0 18 0-26 0-31 0 88 0-55 0 47 0-54 0 11 0 8 0 10 0 13 1-48 0-14 0 26 0-24 0 18 0 60 0-46 0-28 1 37 0 17 0 7 0-20 0 23 0-50 0 0 0 25 0 29 0 2 0-60 0-1 0 64 0-88 0 30 0 40 0-36 1 2 0-4 0 4 0 0 0 15 0 10 0-15 0 34 0-1 0-27 0-22 0-32 0 55 0 15 1-11 0-61 0 2 0 71 0-41 0 3 0 24 0 7 0 0 1 27 0-52 0 38 0-17 0-12 0 33 0-10 0-16 0-28 1-23 0 40 0-35 0 30 0-10 0 8 0-24 0 21 0 14 0-33 1 35 0 9 0-23 0 2 0 6 0 46 0-58 0 46 0-27 0 5 1-31 0 19 0-16 0 49 0-10 0-24 0-4 0 28 0-20 1 21 0-18 0 14 0-36 0 50 0-27 0-24 0 58 0-53 0-10 1 26 0-34 0-11 0 65 0-45 0 49 0 13 0-16 1-13 0-29 0 50 0-23 0-13 0-13 0 31 0-8 0-16 0-25 1 33 0-28 0 52 0-3 0-53 0 62 0-28 0 34 0-58 0 14 0 29 0 26 1-58 0 25 0-52 0 39 0 23 0-49 1 35 0-33 0 9 0 25 0-43 0 59 0-7 0-42 0 32 1 13 0 7 0-15 0-18 0 9 0-33 0 27 0 32 0-27 0-35 0 51 0 10 0-29 0 3 1 2 0-31 0 56 0-7 0-24 0 25 0-37 0-17 0 20 0 29 0-14 1-33 0-1 0 58 0-51 0 57 1 21 0-37 0-51 0 13 0-3 0 30 0-10 0-39 0 79 0-15 1 7 0-23 0-3 0-6 0 33 0-52 0 16 0 45 0-25 0-14 0-38 0 56 1-6 0 24 0-16 0-61 0 63 0-43 0-10 0 29 0-15 0 20 1-27 0-6 0 45 0 25 0-3 0-21 0-56 0 22 0 46 0 15 0-16 0-48 0 51 0-30 0 20 0-1 1-29 0-13 0 62 0-13 0-49 0 18 0-29 0 44 0 39 0-47 0 12 0-13 1 41 0-20 0-16 0-21 0 44 0 26 0-65 0 17 0-11 0 38 0-25 1 27 0-11 0-18 0-8 0-36 0 55 0-33 0-11 0 3 0 51 0 2 0-26 1 14 0 2 0 6 0-13 0 15 0-23 0-15 0 36 0-66 0 63 0-13 0 5 1-16 0 35 0 11 0-44 0-15 0 8 0 53 0-29 0 13 0-63 0 35 0 26 0-34 0 15 0 40 1-90 0 83 0-52 0 56 0-81 0 69 0-25 0 34 0-71 0 14 0 47 0-7 1-43 0 36 0-61 0 85 0 10 0-24 0-25 0-41 0 40 0 10 1 26 0 2 0-15 0-3 0-35 0 2 0 3 0 22 0-17 0 7 0-26 0-4 1 28 0-28 0 37 0-11 0 42 0-30 0-2 1-54 0 52 0-18 0 20 0-5 0 13 0-1 0 35 1-51 0 19 0-34 0 30 0 32 0-55 0-36 0 72 0-43 0-15 0 11 0 38 0-21 0 24 1-41 0 8 0 5 0-25 0 32 0-15 0 10 0 24 0 14 0 0 0-19 0 8 1-12 0 2 0-18 0 35 0 2 0 4 0-42 0 3 0-8 0-6 0 51 1-32 0 12 0-34 0 34 0-17 0-31 0 46 0 30 1-15 0-35 0-3 0 18 0 9 0-1 1-3 0 17 0-29 0-26 0-2 0 19 0 31 0-20 0 0 0 16 0 25 0-30 0-18 0 10 1 3 0 0 0-23 1 4 0 53 0-8 0-43 0 37 0-51 0 23 0 39 0-47 0-9 0 11 0-7 0 21 0-1 0-33 0 18 1 4 0-19 0 64 0-61 0 16 0-17 0 40 0-24 0 29 0-21 0-2 1 14 0-33 0 4 0 5 0 30 0-26 0 12 0 7 0 4 0-43 0-12 0 21 1 52 0-31 0-34 0 42 0 22 0-53 0 50 0-76 1 60 0-7 0-53 0 49 0 46 0-54 1 7 0 23 0 16 0-73 0 14 0 1 0 12 0-34 0 5 1-13 0 2 0 34 0-14 0 58 0 8 0-77 0 42 0-19 0 24 0-21 0 13 1 31 0-22 0-44 0-1 0 0 0 67 0-37 0-37 0 51 0-58 0 47 0-24 1 65 0-33 0-52 0 73 0-51 0-1 0 9 0-9 0 44 0-18 0 8 0 0 0-20 1 39 0-34 0 32 0-52 0 24 0-12 0 12 0-7 0-8 1 51 0-53 0 65 0-68 0 5 0 16 0-3 1 15 0 3 0-33 0 8 0 14 0 13 0-49 0 31 0-13 0 3 0 61 0-6 1-1 0-17 0-32 0 1 0 44 0-6 0-37 0-3 0-19 0 27 0 11 0-48 0 24 0-21 0 69 0-15 0-22 1-3 0-2 0 13 0 3 0-39 0 25 1 35 0-44 0 10 0 7 0 42 0-55 0 23 0-13 0-28 0 20 1 17 0 2 0 25 0-83 0 82 0-32 0 37 0-63 0 57 0-63 0 0 0 27 0-16 0 26 0 22 0-32 1 31 0-18 0-62 0 48 0-24 0 30 0-40 0 15 0 25 0 15 0-49 1 65 0-46 0 39 0 12 0-43 0 0 0 0 0-22 0 37 0 2 0-21 1 38 0-35 0 23 0-15 0-30 0 42 0-24 0-1 0 18 0-42 0 41 0 11 0-16 0 33 0-26 1 25 0-66 0 30 0-6 0-5 0 7 0 11 0-22 0 15 0-37 0 9 0 34 0-9 0-14 1 16 0 25 0-60 0 75 0-64 0 9 0-8 0 7 0 7 0-30 0 54 0 9 0-10 0-33 0 51 0 20 1-58 0 1 0 0 0 21 0-21 1 3 0-10 0 10 0-7 0 36 0-10 1-11 0-41 0-4 0 31 0 16 0-48 0-2 0-6 0 60 0-27 0 11 0 8 1 23 0-24 0 28 0-52 0 24 0 34 1-47 0 24 0 9 0-33 0 17 0 0 1-7 0-11 0 15 0 13 0-21 0 29 0-1 1-32 0 5 0-16 0-12 0 65 0-26 0-1 0 43 0-45 0 0 0-1 0 25 1-24 0-54 0 61 0-30 0 50 0-79 0 79 0-24 0-31 0 48 0-66 0 19 1 68 0-50 0 29 0-27 0-12 0 33 0 8 0-40 0 39 0 5 1-23 0 9 0 11 0-21 0-52 0 55 0-39 0 18 0-8 0 0 0 31 0-16 0 13 0 6 0 27 0-50 0-6 0-16 0 62 1-59 0-12 0 25 0 37 0-69 0 67 0 18 0-87 0 23 0 9 0 62 0-17 0 6 0-25 0-52 0 22 0 28 0 11 0-39 0 3 0 21 0-17 1-14 0-12 0 39 0-1 0-49 0 10 0 52 0-17 0 29 0-5 0-7 0-29 0-23 0 58 1-10 0-29 0 5 0 28 0 14 0-22 0-45 0 82 0-15 0-23 0 17 0 25 0-17 1-27 0 4 0 36 0-34 0 2 0 42 0-98 0 57 0-5 0-8 1 0 0 31 0-28 0 20 0 7 0-14 0-35 0-17 0 38 0 32 0-48 1 51 0-40 0 51 0-73 0 16 0 22 0-20 0-20 0 73 0-39 0-21 0-8 0 48 1-8 0-19 0 30 0 23 0-80 0 34 0-47 0 53 0-29 0 22 0-42 0 44 1-30 0-18 0 40 0 45 0-41 0 35 0-44 0-3 0 16 0 29 0-25 0 2 0-37 0 7 0 6 1 0 0 7 0 34 0-27 0-10 0-3 0 52 0-7 1-11 0-55 0 20 0 25 0-30 0 1 0-29 0 86 0-23 0-30 0 7 0 30 1 0 0-71 0 58 0 8 0-11 0 28 0-64 0 28 0 20 0 8 0-46 0-6 1 20 0 13 0 17 0-28 0-12 0 43 0-31 0 33 0-1 0-71 0 22 0 40 0-51 1 63 0-51 0 25 0-8 0 23 0-19 0 48 0-68 0 12 0 11 0 8 0-4 0-31 0 32 1 33 0-40 0 6 0-33 0 63 0-74 0 57 0-52 0 41 0-38 0 69 0-22 0-10 1-58 0 43 0-1 0 26 0-37 0 41 0-42 0 25 0-7 1-10 0 41 0-32 0-13 0 17 1-43 0-13 0 9 0 45 0-55 0 18 0 11 0 54 0 3 0-9 0-53 0 1 0 3 0-4 0 19 0 21 1-22 0 28 0-38 0 14 0 37 0-36 0-20 0-16 0 7 0 30 1-38 0 90 0-21 0-61 0 50 0-6 0 10 0-35 0 27 0-31 1 31 0 27 0-47 0 29 0-68 0 46 0 51 0-99 1 23 0 29 0 13 0 12 0-47 0 30 0-16 0 22 0-12 0 12 1-35 0-7 0 46 0-19 0-7 0 21 0-47 0 50 0-68 0 46 0-46 0 36 0-4 0 50 0 3 0-50 0-31 1 74 0-44 0 9 0-24 0 6 0 64 0-77 0 9 0 55 0-74 0 84 0-70 0 80 0-2 0-26 0 6 1-47 0 28 0-27 0 11 0 1 0-10 0 59 0-42 0 34 1-57 0 64 0-41 0-7 0 47 0-46 0 47 0-56 0 17 1-33 0 2 0 52 0 2 0-45 0 34 0-23 0 35 0-9 0 4 0-17 0-20 1-2 0-12 0 54 0-50 0 53 0-61 0 34 0 7 0 7 0-6 0-35 0 27 0 1 0 31 0-20 1-13 0 15 0-8 0-16 0 19 0-13 1-9 0-3 0 12 0 39 0-28 0-12 0-10 0 48 0-27 0 12 0-51 1 72 0-71 0 31 0-30 0 39 0 9 0-49 0 65 0-17 0 31 0-62 0 69 0-43 0 30 0-50 0 38 1-26 0-47 0 4 0 57 0-34 0 24 0-27 0 28 0 22 0-9 1-25 0 3 0 0 0 40 0-24 0-44 0 34 0-30 0 22 0 28 0-23 1 8 0-41 0 23 0 41 0-20 0-2 0-32 0 14 0-3 0 12 0 35 0-17 0-23 0-37 0 21 1 6 0 29 0-59 0 59 0-62 0 78 0-36 0 15 0 8 0-35 0 25 0-12 0 35 0-56 0-8 1 50 0-40 0 59 0-33 0 37 0-54 0-26 0 8 0-5 1 26 0 55 0-37 0 9 0-4 0-8 0-2 0 16 0 7 0-75 0 47 0 23 1 6 0-49 0 63 0-63 0 44 0 19 0-19 0-27 0 10 0-9 1 30 0-74 0 59 0-1 0 18 0-26 0 25 0-12 0-17 0-33 0 4 0 21 0 31 0-42 1 28 0-13 0-6 0-24 1 78 0-19 0-52 0 20 0 37 1-37 0-23 0 53 0-25 1 3 0-1 0-43 0 90 1-23 0-21 0 9 0-14 0 9 0-2 0-43 0 0 0 25 0-3 1-18 0 44 0 15 0-38 0 44 0-74 0 40 0-15 0 66 0-26 0-12 0-28 0-3 0 20 0 11 1-5 0-7 0-34 0 41 0-49 0 54 0-11 0-18 0 48 0 15 0-25 0 9 1-7 0-38 0 54 0-9 0-15 0 15 0-20 0 1 0-12 0 7 0 47 0-18 0-2 0-30 0-20 1 74 0-34 0 24 0-52 0 33 0-18 0-40 0-6 0 49 0-5 1 1 0 5 0-23 0 26 0 6 0-2 0 13 0-18 0-18 0 16 1 36 0-48 0-28 0 56 0 4 0 11 0-38 0-14 0 27 0 21 0-35 0-37 1 74 0-73 0 7 0 39 0-36 0 47 0-6 0-23 0-7 0 47 0 10 0-61 0 26 1 8 0 5 0 26 0-22 0-23 0-13 0 4 0 29 0-11 0 18 0-48 0 50 1-2 0 5 0-58 0 78 0-56 0-7 0 18 0 16 0-29 1-4 0 3 0 4 0-12 0 20 0 24 0-9 0 20 0-28 0 31 0-33 0-42 1 80 0-18 0-34 0-9 0-38 0 66 1-15 0 12 0-19 0-32 0 40 0 42 0-49 0 14 0-60 0 23 0-8 1 66 0-48 0 29 0-52 0 29 0 1 0 11 0-19 0 17 0 41 1-34 0-29 0 37 0-31 0 37 0 1 0 32 0-80 0-12 0 93 0-56 0 26 0-17 0-14 0 21 0-18 1 36 0-30 0 42 0-87 0 40 0-13 0 12 0 32 0-61 0 47 0 26 0-72 1-2 0 80 0-14 0-7 0-11 0-28 0 41 1 7 0-23 0-19 0-8 0-11 0 65 0-29 0-2 0 14 0 14 0 0 0-52 0 16 0 43 0-18 0-69 0 56 0 36 0-68 0 15 1 29 0-29 0 46 0-31 0-45 0 50 0-28 0-27 0 89 0-63 0 3 0 70 0-5 0-53 0-13 0 28 0-10 0 34 1-8 0 24 0-73 0 27 0 26 0-48 0-20 0 86 0-15 0-35 1 6 0 45 0-69 0 27 0 5 0-2 0-33 0 9 0 24 0-22 1 17 0-37 0 44 0 22 0-51 0 47 0 21 0-24 0-22 0 15 0-32 0 22 1 22 0-6 0-16 0-46 0 38 0 36 0-31 0 14 0-28 0-4 0 8 0-8 0 55 0-65 0 20 1 27 0-45 0 20 0-6 0 8 0 19 0-49 0 44 0 13 0-26 0-18 0 13 0-1 0 7 0 37 0-55 0 25 0 7 1-47 0 46 0-16 0-13 0 3 0 15 0-4 0 12 0-6 0 11 0-23 1-26 0 49 0-15 0-26 0 69 0-36 0 13 0-22 0 45 0-36 0 22 1-40 0-13 0 14 0 6 0 14 0 15 0-1 0-21 0-26 0 50 1-39 0-7 0-18 0 43 0 18 0-15 0 16 0-2 0-27 0-16 0 27 0-37 1-2 0 46 0 8 0-40 0 6 0-8 0 13 0 24 0-7 0-1 0 14 0-78 0 50 1 4 0-11 0-5 0 23 0-15 0 26 0-38 0-4 0 40 0-4 1-62 0 83 0-4 0-48 0 6 0-6 0 35 0-46 0 22 0 5 0 10 1-58 0 3 0 55 0-13 0-30 0 28 0 21 0-40 0 6 0-13 0 28 0 25 1 9 0-40 0 33 0-54 0 15 0 8 0-22 0 80 0-26 0-28 1 4 0-5 0 27 0 30 0-78 0-8 0-6 0 51 0-37 1 25 0 8 0 14 0 18 0-55 0-19 0 48 0 18 1-20 0-3 0-44 0 52 0 35 0-73 0 10 0 56 0-30 0-13 0 37 0-62 0 16 0-7 0 64 1-37 0-22 0-37 0 86 0-67 0-5 0 28 0 40 0-73 1 23 0 21 0 8 0-16 0 5 0-40 0 3 0 17 0 4 0 16 0-10 0 18 0-28 1 22 0 10 0-34 0-14 0 24 0 1 0-23 0 36 0-20 0 3 0 18 0-33 0 31 0 18 0-10 0-41 0 13 0 7 0-36 0 18 1 56 0-35 0 6 0-9 0 23 0 36 0-70 0-9 0 11 0 31 0 25 0-70 0 28 1 18 0-23 0 16 0-15 0 16 0-50 0 50 0-42 0 32 0 38 0-15 0-4 0-31 0 48 1 0 0-5 0-33 0 15 0-15 0 16 0 5 0 20 0-7 0-54 0-9 0-17 0 19 0 7 0 46 1-52 0 35 0-8 0-10 0 13 0-8 1-16 0 46 0-17 0-46 0-3 0 22 0-8 0 42 0-50 0 13 0 11 1 32 0-32 0-12 0-19 0 54 0-42 0 61 0-50 0 27 0 28 0-15 0 19 0-85 0 63 0-33 1 49 0-23 0-9 0-19 0 26 0-16 0 19 0-11 0-10 0 52 0 8 0-32 0-14 0-16 0-18 0 24 1 26 0-16 0 18 0-7 0-18 0 3 0 32 0-34 0 21 0-38 1 35 0-61 1 42 0-3 0-35 0 54 0-38 0 44 0-50 0 73 0-72 1 33 0-37 0-3 0 23 0-11 0 47 0-5 0-21 0-48 0 46 0-13 0 11 0-26 0 18 0 46 1-25 0-11 0-37 0 34 0 26 0-12 0-2 0 0 0-31 1 62 0-90 0 48 0 29 0-44 0-2 0 11 0 49 0-10 1-28 0 11 0-19 0 26 0-33 0 20 0-18 0 32 0 2 0-60 0-11 1 73 0-63 0-4 0 45 0-34 0 6 0 65 0-19 0-47 0 31 0 7 0 14 0-13 0 13 0-28 0-17 1 3 0 11 0 50 0-77 0 74 0-21 0-6 0-8 0 7 0-14 0-6 0 3 0 24 0-49 1-13 0 44 0 15 0-8 0 18 0-25 0 42 1-43 0-32 0 44 0-46 0 31 0 9 1 3 0-38 0 18 0 28 0 23 0-8 0 4 0 14 1-45 0 18 0 7 0-13 0 36 0-56 0 2 0 10 0-19 0 24 0-58 1 47 0-8 0 43 0-17 0-31 0 35 0-40 0-5 0 25 0-1 0-13 0 11 0-24 0 49 0-32 0-3 1 22 0-39 0 66 0-59 0 51 0-63 0 50 0-15 0 9 0 21 0-24 0 14 0-2 0-3 0-48 0 31 0-11 1 53 0-20 0 10 0 11 0-23 0-32 0-8 0-3 1 34 0 18 0-32 0-6 0 24 0 37 0-29 0-20 0 2 0-24 0 52 0-17 0-50 0-17 0 74 0-6 0-35 1 45 0-65 0-4 0 61 0-6 0 32 0-92 0 40 0 10 0 16 0-17 0 38 0-90 1 14 0 11 0 73 0-15 0-58 0 49 0-10 0 16 0-12 0 7 0-12 0-2 0 12 0-26 1-44 0 77 0-34 0 24 0-36 0-9 0 51 0-2 0-2 0-19 0-16 0-5 0-20 0 84 0-57 0 32 0-51 0 24 1-28 0 45 0-43 0 25 0 9 0-19 0 7 0 54 0-32 0 6 0-39 0 26 1-29 0-7 0 14 0-6 0 54 0 7 0-37 0 15 0-52 1 48 0-53 0 30 0 33 0-5 0-23 0-24 0 22 0 40 0-31 0-13 0 5 0 26 0-21 1 20 0 11 0-42 0 28 1-28 0 18 0 39 0-23 0 31 0-100 0 52 0 5 0 37 1-40 0-16 0-38 0 67 0-50 0 12 0 9 0 12 1-22 0 6 0 42 0 20 0-38 0 37 0-65 0 53 0-27 0-42 0 29 0 18 1 12 0-42 0 33 0-10 0 17 0 7 0-21 0-4 0 49 0-37 0-41 0 2 0 3 1 31 0 20 0 3 0-23 0-19 0 13 0 22 0-19 0 15 0 16 1-37 0 19 0-34 0 16 0-1 0 7 0-11 0-31 0 1 0 25 1-15 0 13 0 38 0-43 0 17 0 7 0-40 0 77 0-45 0-12 0 9 0 23 0-10 1 0 0-22 0 22 0-24 0 5 0 32 0-19 0-23 0-31 0 43 0 12 1 40 0-90 0 59 0-25 0 51 0-12 0-38 0 12 0 10 0 29 0-39 1 1 0 23 0-20 0 13 0-35 0-5 0 6 1 24 0-4 0-10 0-15 0-15 0 77 0-27 0-17 0-5 0-6 0-12 0 26 0 7 1-35 0 57 0-4 0-28 0 11 0 13 0-49 0 32 0 15 0-21 0 2 0 1 1 26 0-28 0-3 0-15 0 18 0-18 0 39 0-5 0-43 1 16 0-6 0 60 0-73 0 42 0-35 0 7 0 0 0 61 0-33 0-14 0-19 1 53 0-17 0 32 0-72 0 24 0 10 0-27 0-12 0 4 1-17 0 28 0 48 0-43 0 39 0-2 0-50 0 4 0 29 0 42 0-87 0 17 0 30 0 13 0-51 0-8 0 28 1 21 0-25 0 11 0 8 0-4 0 23 0-33 0-40 0 89 0-88 0 54 0 8 0 14 1-68 0 16 0 19 0-34 0 32 0-16 0 2 0 15 0 23 0-27 1-17 0 6 0 24 0 11 0 24 0-46 0 22 0 11 0-25 0-17 0-21 0 47 1-3 0-23 0 16 0 31 0-6 0-63 0 64 0-11 0-32 1 33 0-26 0-6 0 18 0-10 0 11 0-47 1 63 0-1 0-26 0 15 0 10 0-51 0 60 0-11 0-70 0 11 0 43 0 11 0 7 1-25 0 23 0-10 0 37 0-63 0-2 0-6 0 20 1-18 0-13 0 68 0 6 0 1 0 6 0-50 0 13 0-22 1 39 0-56 0 16 0-6 0-1 0 13 0-14 0 16 0 9 0 30 0-59 0 24 0-19 0 52 0-36 0 7 0-44 1 47 0 38 0-39 0-13 0 32 0 23 0-66 0-5 0 6 0 23 0-14 0 8 1-14 0 26 0 24 0-26 0 9 0-35 0 10 0-20 0-13 0 52 0-40 0 72 0-79 0 66 1-81 0 63 0-38 0 37 0-8 0-20 0 1 0 20 1-12 0 17 0-8 0-16 0 28 0-24 0 0 0 4 1 0 0-20 0 72 0-55 0-14 0 25 0 14 0-45 0 0 0 14 0 38 0-47 0 26 0-36 1 83 0-17 0-31 0-14 0 19 0-12 0-7 0-25 0 13 0-14 0 16 0 19 1 17 0-36 0 20 0-34 0 67 0-37 1-16 0-19 0 21 0 22 0-8 0-3 0 7 0 1 0 21 0-3 0-30 1-4 0 8 0-20 0 70 0-34 0 2 0 39 0-48 1 13 0 19 0-41 0-24 0-2 0 11 0 1 0 51 0-29 0-29 0 28 0 9 0 29 0-40 1-31 0-9 0 72 0-8 0-49 0 31 1-10 0-31 0 32 0-20 0-2 0 48 0 17 0-76 0 36 0-12 0 23 0-28 0-12 1 32 0-1 0 4 0-31 0 67 0-74 0 51 0-30 0-33 0 59 0 18 0-26 0-2 1-25 0 58 0-28 0-50 0 39 0 12 0 17 0-17 0-19 0 8 0-43 0 7 0 14 0 54 0-7 0-25 0 20 1-15 0 6 0-57 0 22 0 44 0 30 0-7 0-47 0-18 0 29 0 32 0-24 0 24 0-15 0-54 1 9 0 55 0-31 0-2 0 41 0-42 0-26 0 51 0-44 0 15 0-4 1-23 0 65 0-7 0-12 0 7 0-43 0 9 0 44 0 11 0-79 0 22 0 12 0-14 0 4 1 35 0 4 0-69 0 41 0 1 0 3 0-10 0-13 0-3 0 37 0-36 0 29 1-55 0 41 0 3 0 27 0 18 0-33 0-56 0 36 0 1 0 22 0-45 0 53 0-40 0 71 0-68 0 39 1 14 0 6 0-57 0 4 0 16 0-39 0 42 0-18 0-5 1-14 0 16 0 26 0-40 0 75 0-27 1 11 0-45 0 8 0-3 0 57 0-94 0 33 0 54 0-71 0 33 0 41 0-81 0 79 1-35 0 22 0 4 0-33 0-20 0 34 0-16 0-4 0 14 0-19 0 50 1-13 0-46 0-19 0 39 0 3 0 26 0-28 0-8 0-18 1 73 0-58 0 11 0 13 0-17 0 14 0-37 0 46 1-60 0 80 0 5 0-9 0-18 0-51 0 31 0 24 0-31 0 11 0 34 1-13 0-28 0 17 0-46 0 66 0-27 0-22 0 19 0-5 0 19 0-4 1-44 0 5 0 55 0-26 0-10 0 21 0-6 0 0 1-27 0 24 0 33 0-68 0 50 0-50 1 59 0-10 0 2 0-4 0 4 0 9 0-40 0 41 1-28 0-35 0 33 0 19 0 11 0-4 0-61 0 68 0-58 0 37 0 30 0-46 1 40 0-17 0-19 0 32 0-21 0-18 0 1 0 20 0-12 0 43 0-34 1-27 0 15 0 11 0 22 0-2 0-38 1 25 0 7 0-53 0 26 0 48 0-38 0-26 0 33 0 28 0-67 1 6 0 51 0-43 0 16 0 28 0-52 0 6 0 28 0-23 0-28 0 21 0 69 1-46 0-30 0 36 0 36 0-29 0-38 0-4 0 38 0-24 0 34 0 12 0-25 0-27 0 41 0-32 1 11 0 8 0 3 0 9 0-26 0-8 0 3 0 31 0-42 1-21 0 33 0-37 0 89 0-36 0-41 0 14 0 15 0-1 0-23 0 69 0-63 0 7 0 41 1-56 0-6 0 23 0 36 0-62 0 34 0-29 0 30 0-26 0 44 0-12 0-13 1 17 0-11 0-32 0 2 0-14 0 24 0 45 0-43 0 35 0-58 0 25 1 24 0-47 0 56 1-6 0-56 0 13 0 0 0 13 0-4 0-7 0 8 0 52 0-13 0 14 0 12 1-15 0-23 0 37 0-22 0-15 0 28 0-53 0 38 0-6 0-41 0 14 0-2 0 38 0-37 1 10 0 35 0 16 0-34 0-8 0-12 0 23 0-10 0-3 0-27 1-2 0-6 0 12 0 29 0-11 0 17 0-25 0 9 0 0 0 4 0-12 0 40 0 19 1-3 0-49 0-23 0-8 0 59 0 27 0-7 0-22 0 18 0-2 0-54 0 30 0 31 1-34 0 32 0-49 0 34 0-9 0-16 0-17 0 16 0 2 0-5 0 43 0-28 0 5 0 32 0-49 1 43 0-40 0-39 0 36 0-29 1 37 0 13 0-15 0-21 0 22 0-31 0 22 0-2 0 21 0-39 0 3 0 32 1-23 0-34 0 43 0-9 0-17 0 55 0-63 0 53 1 18 0-41 0-33 0 53 0 6 0-7 0-23 0 4 0 28 0-54 0 33 0-6 0-5 0-9 1 23 0-28 0 2 0 33 0-12 0 46 0-33 0-4 0 3 0 4 0-12 0 5 1-26 0 44 0-26 0-5 0 46 0-47 0-19 0 37 0 14 0-7 1-37 0-25 0 49 0-17 0 3 0 47 0-42 0 12 0 19 0-14 0-43 0 72 0-84 0 22 0 19 0 27 0-2 0 8 1 10 0-15 0-41 0 37 0-8 0-8 0-1 0 13 0-3 0-19 0-18 0 38 0-32 0 26 0 7 1-20 0-38 0 72 0-50 0 17 0-25 0-18 0 47 0-25 0 28 0-44 0 49 0-10 0 32 1 8 0-67 0 14 0 23 0 1 0-1 0-4 0 7 0-18 0-23 1 59 0-69 0 70 0 0 0-34 0-8 0 20 0-22 0 6 0 45 1-29 0-34 0 49 0 6 0-38 0 7 0 18 0 5 0 4 1 2 0-23 0-50 0 81 0-21 0 6 0-16 0-13 0 5 0 28 0-14 0 2 0-4 0 2 0 0 0 25 1-85 0 76 0-33 0 34 0-52 0 32 0-20 0 7 0 33 0-12 0 5 0-21 0 9 0-14 0-16 1-21 0 25 0 34 0 35 0-42 0 5 0 30 0-73 0 52 1-62 0 13 0 62 0-49 0-33 0 70 0-30 0-21 0 24 0 1 0 1 0 28 0-8 0-36 0 7 0-27 0 15 0 37 0-12 0 41 1-50 0-9 0-21 0 39 0 7 0 6 0-21 0 24 0-10 0-8 0-2 0 42 0-84 0 54 0-35 1 14 0 20 0-11 0 23 0-26 0-18 0 55 0 0 0-65 1-5 0 74 0-23 0-5 0-11 0 23 0-31 0-6 0 47 0 7 0-13 0-19 0-10 0-22 0 15 1-7 0 60 0-18 0-26 0 16 0-42 0 24 0 51 0-72 0 6 0 29 0 7 1-21 0 38 0-24 0-42 0 40 0-12 0 3 0 25 0-54 0 31 0-10 1 30 0 17 0-17 0-14 0-27 0 10 0 1 0 8 0-8 0-1 0-1 0 41 0-23 0 9 0 14 0-38 1 14 0-11 0 31 1 7 0-19 0-26 0 5 0 28 0-44 1 9 0 6 0 32 0-59 0-24 0 23 0 71 1-25 0-37 0 66 0-75 0 24 0 16 1-14 0 25 0-40 0 18 0-15 0 52 0-1 0-65 0 46 1 3 0 2 0-53 0 35 0-10 0-8 0 58 0-51 0 6 0 4 0 35 0-24 0-46 0-1 1 44 0 14 0-63 0 19 0-21 0 45 0 2 0 11 0-42 0 58 0-9 0-33 0 43 1-6 0-20 0-23 0 0 0 18 0 37 0-28 0-22 0 18 0 11 0 28 0-20 0-54 0 4 0 17 0-21 1 43 0-42 0 29 0 36 0-41 0 9 0 11 0-5 0 13 1-32 0 45 0-39 0-25 0-6 0 3 0 58 0-46 0 36 0 25 0-46 0-31 1 34 0 17 0-59 0 75 0-4 0-9 0 26 0-26 0-17 0 26 0-64 0 26 0 16 0 41 1-71 0 37 0-50 0 36 0-3 0 30 1-24 0-26 0 16 0-11 0-18 0-15 0 45 0 19 0-37 0 0 0 17 0 2 1 16 0 12 0-17 0-4 0 10 0 5 0-31 0 37 0-11 0-30 0 39 0-22 0 24 0 13 0 14 0-53 0 16 1-27 0 47 0-63 0 40 0-20 0 50 0-64 0 42 0 4 0 3 1-22 0-4 0-32 0 19 0 40 0 16 0-39 0-17 0-19 0 68 0-49 1 10 0 25 0 2 0-39 0 10 0 30 0-58 0 77 0-1 0-51 1 12 0-21 0 22 0-5 0 24 0 3 0-25 0-6 0 2 0-8 0 32 1 31 0-48 0-13 0-13 0 19 0 49 0-81 0 25 0-16 0 45 0-17 0 8 0-22 0 16 0-12 0 18 1 19 0-17 0-11 0-12 0-10 0 16 0 4 0 20 0 7 0-17 0 23 1-32 0 10 0 34 0-29 0-33 0 71 0-47 0 24 0-54 0-20 0 39 0-11 1 31 0-14 0-7 0 15 0-5 0-7 0 7 0-39 0 44 0-28 0 9 1 12 0 33 0-31 0-50 0 44 0 48 0-6 0-47 0 50 0-45 0-7 0-9 0 11 0 4 0 12 0 44 1-70 0 62 0-66 0 56 0-69 0 56 0-29 0 0 0-24 0 57 0-58 0 50 0-5 0-29 0 21 0 51 1-13 0-34 0-2 0 13 0-22 0-13 0 19 0 38 0-7 0-15 0-12 0 4 0 1 0-29 0 50 0-53 0 37 1-36 0-14 0 8 0 38 0-64 0 50 0-33 0 18 0 27 0-23 0 7 0-9 0-24 1 40 0-31 0 48 0-9 0-1 0-42 0 19 0-18 0 37 0-44 0 25 0-9 1 10 0 45 0-37 0-25 0 47 0 5 0-30 0 6 0 19 0-41 0 57 0-26 1-27 0 42 0-41 0-21 0 34 0 28 0 11 0-53 0 27 0 25 0-65 0 33 0-3 0 8 1-30 0-5 0 52 0-57 0 12 0-21 0 20 0-3 0 8 1-10 0 32 0-6 0 21 0-41 0-2 0 32 0-57 0 41 0 1 0 45 0-32 0-13 1 30 0-71 0 37 0 26 0-34 0-22 0 11 0 10 0 6 0 29 1 8 0-61 0 12 0 13 0 28 0-61 0 53 1-17 0-8 0 41 0-62 0 35 0 15 0-1 1-42 0 64 0-28 0-37 0 6 0 59 0-60 0 53 0-17 0-12 0 24 0 30 0-71 0 16 0 36 1-31 0-42 0 16 0 74 0-102 0 33 0 54 0-48 0-6 1 13 0 6 0-28 0 29 0 5 0-7 0 30 0-15 0-16 1-21 0 9 0 26 0-4 0-34 0 6 0-16 0 76 0-25 0-20 1-27 0 74 0-44 0 20 0-29 0-14 0 71 0-26 0-2 0-21 0 41 0-21 1-4 0-11 0 2 0 22 0-37 0-5 0 41 0-50 0 62 0-40 1 1 0 9 0-22 0 17 0 18 0-65 0 67 0 11 0 8 0 5 1-28 0 3 0 6 0-41 0 37 0-36 0-28 0 91 0-28 0-33 0-11 1 20 0 35 0-34 0 19 0-25 0 27 0-3 0 18 0-44 0 57 0-69 0 66 0-28 0-31 0 67 0-29 0 21 0-78 0 58 1-43 0-12 0 26 0 18 0-27 0 57 0-9 0 10 0-46 0 22 0-9 1-21 0-29 0 29 0 10 0 15 0-32 0 1 0 11 1-11 0 31 0 9 0-6 0 2 0-41 0 76 0-51 1-4 0 0 0 27 0-9 0-8 0-11 1 29 0-1 0-37 0-22 0 37 0 37 0-61 0 37 0-3 0 4 0-11 0-16 0 22 0 24 0-49 0 40 0 2 0-54 0 44 1-45 0 0 0 42 0-57 0 63 0 15 0-41 0 26 0-32 0 13 0-2 0 38 0-26 1-9 0-2 0 0 0-13 0-8 0 41 0-25 0-23 0 22 0 4 0 26 0-11 0-40 0 46 1 2 0-67 0 44 0-12 0-18 0 26 0 34 0-34 1 20 0-55 0 24 0 35 0 10 0-44 0 31 0-15 0-56 0 43 0 18 0 4 1 22 0-20 0-14 0 24 0-37 0 21 0 7 0 5 0-36 1 8 0 24 0 5 0-5 0-44 0-11 0 22 0 17 0-26 0 54 0-25 0-8 1-16 0 17 0 15 0-13 0-3 0-16 0 71 0-30 0-27 0-4 0 42 1-34 0 6 0 21 0-7 0 12 0-30 0 6 0 13 0-52 1 18 0 53 0-83 0 54 0 42 0-59 0-13 1 11 0 13 0 18 0-30 0 35 0-43 0 17 0-38 0-6 0 56 0-24 0 41 0-2 0 3 0-17 1-15 0 5 0 0 0 6 0-12 0 16 0-35 0 54 0 2 0-56 0 43 0-36 1 5 0-41 0 61 0-15 0 4 0-3 1 28 0 24 0-24 0-25 0-26 0 44 0-22 1 6 0 8 0-16 0 34 0-7 0-24 0 26 0 2 0-6 1-49 0 0 0 72 0-34 0-27 0-14 0 38 0-27 0 15 0-32 0 28 0 40 1 15 0-8 0-70 0 49 0-1 0-20 0 10 0 17 0 4 0-4 0-5 0-39 0 13 1-35 0 15 0-13 0 37 0 10 0 18 0-30 0 10 0-18 0 43 0-47 0 43 0 7 0-27 0-14 1 31 0-41 0 42 0-31 0 5 0 36 0-52 0 46 0 25 0-61 0 2 0 54 0-37 1 3 0 18 0-42 0 38 0-76 0 39 0 34 0 14 0-40 0-12 0 41 1-30 0-31 0 48 0-10 0 2 0-24 0-21 0 12 0 56 1 7 0-64 0 42 0 8 0-60 0 88 0-39 0-46 0 21 0 14 0 25 0-33 0 24 0-31 0 15 0-20 1 29 0-9 0-24 0 22 0-20 0 1 0 8 0 64 0-23 1-73 0 29 0 36 0-31 0 16 0-42 0 23 0 55 0-50 0 25 0-56 0 56 0-25"/><path class="q" d="M112 1420l0-71 0-57 0-7 0-13 1 111 0-9 0-121 0-28 0 2 0 83 0 60 0-41 0 28 0 19 0-68 0 18 0 102 0-50 0-23 0 65 1-124 0 220 0-129 0-11 0-39 0-46 0 52 0 87 0-100 0-38 0-56 0 116 0-78 0-12 0 94 1-69 0 82 0-187 0 73 0 133 0 45 0-107 0-28 0 8 0 113 0-163 0 186 0-213 0 205 0-89 1-19 0 17 0 72 0-124 0 27 0 32 0 25 0-11 0 40 0-119 0 137 0 7 0-124 0 114 0 70 0-75 1 48 0-68 0-8 0 77 0-82 0-11 0 4 0 22 0-77 0 5 0 98 0-29 0 54 0-142 0 50 0 34 1-56 0-8 0 85 0-14 0 24 0-22 0-106 0 10 0 19 0 60 0-77 0 78 0-53 0-90 0 15 0 91 0-47 0-29 0 14 0 21 0 92 0-145 0-9 0 223 0 8 0-161 1 65 0 66 0-37 0-108 0 48 0 61 0-146 0 84 0 90 0 2 0-103 0 49 0-62 0-102 0 66 1 13 0 62 0-45 0 20 0-15 0 27 0 54 0 39 0-94 0-139 0 69 0 78 0 51 0-96 0-31 0 55 0 59 0-35 1 50 0-10 0-101 0-2 0 63 0-31 0 31 0-39 0-7 0-3 0 29 0-164 0 187 1-53 0 45 0 55 0-16 0-24 0-139 0 203 0-73 0-87 0 48 0 69 1-79 0 33 0 79 0 37 0-280 0 215 0-22 0-64 0 93 0-79 0 48 0 50 1-92 0 23 0-6 0-53 0 89 0-7 0 50 0-60 0 56 0-85 0-33 0-5 0 36 1-34 0 151 0-135 0 23 0 88 0-64 0-1 0 3 0 73 0-91 0 42 0-71 0 1 1 43 0-82 0-39 0 109 0-46 0 70 0 11 0 87 0-149 0 93 1-113 0-88 0 179 0-68 0 65 0 37 0-47 0 19 0-51 0 133 0-68 0-89 0-43 0-27 0 114 0-22 0 19 0 26 1 40 0-67 0 37 0-238 0 220 0-21 0 66 0-160 0 92 0-48 0 122 0-51 0-3 0-108 1 5 0-45 0 13 0 147 0 58 0-199 0 42 0-3 0 45 0 91 0 56 0-128 0-20 0-120 0 129 0 79 0-68 0-27 0 8 1 62 0-63 0 6 0-12 0-30 0-94 0 229 0-16 0-2 0 52 0-25 0-113 0 100 0-86 0-9 1 76 0 15 0-143 0 181 0-83 0 9 0-20 0-101 0 99 0-57 0-18 1 72 0 15 0 4 0-68 0-31 0 128 0-27 0-18 0 1 0 92 0-152 0 50 0 53 0-202 0 48 0 189 0-24 0-95 1 27 0-52 0 46 0 1 0-162 0 91 0 45 0-109 0 241 0-113 0-36 0-32 0 77 1 47 0 67 0-48 0-17 0 76 0-137 0 171 0-149 0 30 0-100 0-10 0-20 0 81 1-16 0 117 0-75 0 104 0-172 0 85 0 10 0-93 0 104 0-98 0 50 0-57 0 110 0-82 0 5 1 24 0-10 0-28 0 65 0-74 0 157 0-51 0-89 0 24 0-15 0 90 0 16 0-138 1 73 0 14 0-217 0 48 0 193 0-72 0-37 0 29 0 67 0 82 0-95 0 4 0 70 0-54 0-77 0-34 0 65 1 56 0-27 0-61 0-62 0 49 0 8 0 70 0-19 0-3 0 38 0-36 0 43 0-107 0-12 0 63 0-70 0 51 0 59 0-198 0 176 1-139 0 124 0-38 0-37 0 121 0-99 0 9 0 15 0-23 0 15 0 76 0 11 0 12 0-87 0-22 0-26 0 24 0 98 1-181 0 133 0-1 0-71 0 129 0-184 0 13 0 61 0 126 1-80 0-61 0 93 0-23 0 21 0-77 1-72 0 124 0-38 0-44 0-15 0-15 0 45 1 60 0-40 0 50 0 34 1-5 0-10 0-18 0 63 0-135 0-18 0 60 1 131 0-237 0 187 0-77 0 40 1 4 0 87 0-134 0 54 0-54 0-18 0-154 0 174 0-50 0 122 0-27 0-18 0-32 0-16 0 59 0 37 0-91 0-69 0 134 1-12 0-89 0 161 0-102 0 31 0-40 0-91 0 58 0-93 0 95 0-73 0 100 1-44 0 32 0 13 0 45 0 27 0 10 0-108 0-5 0-12 0 158 1-7 0-38 0-64 0-55 0-20 0 183 0-143 0-45 0 115 0-48 0-68 0 121 0-66 0 176 1-88 0-60 0-74 0 49 0 13 0-126 0 118 0-34 0 67 0-6 0 19 0 33 0-18 0 29 0-179 0 136 1 33 0-8 0-29 0 34 0-156 0 174 0-113 0 54 0-2 1-126 0 158 0-56 0 55 0-47 0 18 0 27 0-23 0-67 0-22 0 91 0-99 0 80 0-46 0 65 1-12 0-91 0 63 0 16 0-111 0 127 0-93 0 128 0-14 0-32 0-34 0-154 0 133 0 117 0-74 0 69 0-88 0-40 0-10 0 86 1-1 0 15 0-78 0 11 0 4 0-15 0-31 0 61 0 70 0-52 0 94 0-104 1-45 0 187 0-137 0-49 0 67 0 45 0-95 0 76 0-22 0 3 0-1 0-8 0-38 0-29 0 43 0 31 0 23 0-31 1-64 0 18 0 34 0 27 0-32 0 85 0-67 0-104 0 35 1 83 0 41 0 40 0-188 0 107 0 36 0-154 0 116 0 95 0-117 0-133 0 138 0 150 0-168 0 9 0 26 0-8 0 30 0-147 1 115 0-64 0-13 0 135 0-126 0 48 0 30 0 23 0 164 1-120 0-108 0-47 0 68 0 50 0-18 0 33 0-14 0-62 0-90 0 195 0-273 0 242 0-99 0 82 1-186 0 67 0 65 0 76 0-54 0-18 0 18 0-46 0 4 0 43 0 0 0 15 0-9 0-173 0 99 0-68 1 58 0 81 0-95 0 129 0-37 0 0 0 43 0-29 0 54 0-86 0-22 0 23 1 90 0-130 0 4 0 154 0-76 0 23 0-159 0 126 0-48 0 40 0 5 0 50 0-6 0 0 1-79 0 35 0-39 0-64 0 121 0-82 0 173 0-83 1-28 0-63 0 7 0 23 0 8 0 104 0-74 0 7 0-97 0-59 0 144 1 48 0-96 0 62 0 47 0-116 0-138 0 244 0-80 0 38 0 2 1 48 0-42 0 75 0-160 0 130 0 8 0-104 0 89 0-91 0 32 0 0 0-45 0 25 0 1 0 37 0-26 0 6 0 17 0-83 1 42 0 122 0-80 0-58 0 59 0-57 0-44 0 125 0-94 0 128 1-187 0 193 0-55 0-46 0 60 0 2 0-46 0 33 0-17 0-27 0 56 0 13 0 24 0-73 0-36 0 101 0-32 0-28 1-21 0-42 0-21 0 141 0-123 0 170 0-130 0-9 0 93 0-141 0 60 0 140 1-84 0-166 0 222 0-28 0-209 0 21 0 67 0 82 0-16 0 48 0-130 0-1 0-44 0 131 0 28 0-225 0 133 0 107 0-119 0-8 1 63 0-11 0-37 0 43 0-99 0 141 0 43 0-133 0-74 0 129 0 99 0-39 1-52 0-59 0 96 0-161 0 79 0 37 0-38 0 39 1-36 0 189 0-204 0 3 0 66 0-36 0 17 0-6 0 30 0 71 0-55 0-153 0 37 0-24 0-101 1 209 0-148 0-42 0 169 0-1 0 86 0-79 0-95 0-24 0 3 0 125 0 71 0-130 0 116 0-29 0-102 0 54 0-16 0-21 0 101 1-48 0-2 0-140 0 157 0 11 0-45 0 30 0-32 0-4 0 57 0-17 0 42 0 44 0-168 0-15 0-63 0 131 1-8 0 53 0-59 0 91 0-85 0 23 0 2 0-99 0 115 0-66 0-30 0-88 0 198 0 6 0 64 1-118 0 60 0-35 0 29 0-117 0 125 0-43 0 53 0-62 0 11 0-30 0 87 0-46 0-73 0 58 0 28 0-29 0-22 0 66 0-140 0 26 1 176 0-156 0 149 0-94 0-33 0-14 0 55 0-71 0 127 0-67 0 12 0 66 0 7 0-153 1 101 0-65 0 6 0-68 0 82 0-69 0 100 0 81 0-115 0 27 0-24 0 38 0-28 0 43 0 34 0-43 1 13 0 9 0-91 0 5 0 90 0 31 1-107 0-11 0-64 0 170 0-84 0 73 0 13 0-99 0-119 0 200 0-106 0-18 0 81 0-85 0 156 0-97 0 35 1-21 0-29 0 65 0-86 0 46 0-27 0 67 0 24 0-204 1 127 0-1 0-28 0 103 0-160 0 64 0-49 0 10 0 45 0 21 0-41 0 97 0-50 0-184 0 32 0 86 0 10 0 122 0-205 0 66 0 94 1-85 0 61 0 14 0-49 0-69 0 61 1-83 0 111 0-7 0 2 0 64 0-101 0 24 0 15 0 50 0 16 0-65 0 39 0 6 0 78 0-182 0 131 1-3 0-160 0 56 0 83 0-59 0 96 0-134 0 79 0-18 0 5 0 46 0 93 0-190 0 53 0-5 1-14 0 59 0-67 0 52 0-86 0 70 0-42 0 74 0-54 0 5 0-13 0-64 0 10 0-85 1 175 0 17 0-94 0 77 0-52 0 40 0-49 0-157 0 174 0-61 0 172 0 7 1-122 0-55 0 40 0 97 0-30 0 66 0-218 0 128 0 5 0-75 0 62 1-30 0-15 0 92 0-29 0-1 0-64 0-1 0 71 0-37 0-60 0 167 0-67 0 58 0 37 0-203 0-98 0 113 0 133 0-21 0-127 0 4 1 132 0-38 0 6 0-25 0 17 0 2 0-180 0 205 0 37 0-126 0 1 0-32 0 83 0-31 1-57 0 68 0 4 0 25 0-150 0 61 0 164 0-93 0 61 0 143 0-204 0 65 0-193 0-6 0 213 1-112 0-69 0 180 0-78 0-54 0 102 0-115 0 147 0-205 0 105 1 69 0-35 0 37 0-64 0-52 0 123 0-22 0-17 1-81 0 79 0-27 0 57 0 17 0-56 0 91 0-50 0-2 0 14 0 55 0-36 0-42 0-57 0 16 1 26 0-37 0 67 0 16 0-137 0 152 0-66 0 36 0-195 0 104 0 55 0-55 0 151 0-209 0-10 0 72 0 55 0 53 0-35 0-2 0 23 0-120 1 57 0-37 0 156 0-170 0-42 0 75 0 53 0-47 0 188 0-54 0-113 0-3 0 114 0-52 0 68 1-138 0 58 0-171 0 129 0-65 0 126 1-98 0 142 0-236 0 112 0 67 0-194 0 125 0-45 0 132 0-47 0-68 0 126 0-86 0-11 0-64 0 61 0 24 0-108 1 165 0-42 0-10 0 28 0 6 0-55 0 110 0-135 0-34 0 65 0 34 0-80 0 119 0-22 0-43 1 19 0-206 0 254 0 68 0-269 0 79 0 139 0-134 0 67 0-43 0 54 0 19 0-87 0 20 1-43 0 72 0 14 0-41 0-30 0 132 0-80 0 39 0 2 0-210 0 164 0-10 0 56 1-61 0 41 0-55 0-37 0 77 0 57 0-180 0 84 0 6 0-50 0 0 0 103 0-72 0 29 1 15 0-55 0-5 0 61 0-20 0-150 0 169 0-58 0-29 0 117 0-35 0-28 0 59 0-91 0 90 0 11 0-67 0-16 1-97 0 63 0 111 0-55 0 40 0-81 0 98 0-11 0-25 0-2 0 40 0-47 0 102 0-230 0 103 0 57 0-95 0 47 1-81 0 124 0-18 0 38 0-81 0 26 0 9 0 14 0 62 0-62 0 32 0 1 0 32 0-113 0-5 0 78 1-104 0 156 0-9 0-116 0 89 0-137 0 55 0 51 0 4 0 1 0-109 0 109 0-32 0-63 0 140 1-116 0-97 0 189 0-207 0 128 0-63 0 122 0-113 0 74 0 9 0-143 0 193 0-38 0 26 1 13 0-9 0-83 0 52 0 28 0 13 0-13 0-98 0 134 0-133 0 23 0-138 0 174 1-186 0 109 0 107 0-127 0 95 0 6 0 99 0-121 0-29 0 29 0 12 0 79 0-61 0 5 0-11 0 14 1-88 0 92 0 32 0-11 0-83 0 86 0-56 0 100 0-32 0-93 0 122 0-100 0-38 0 8 0 104 0-186 0 65 0 9 0 42 0-38 0 13 0 38 0-22 0 61 0-122 1 101 0 33 0 29 0 19 0-157 0 43 0 107 0-40 0-24 0-41 0-23 0 43 0 62 1-95 0 132 0-105 0-14 0 52 0-22 0-86 0 90 0 23 0 8 0-8 0-118 0 119 0-70 0-66 1-16 0 156 0 39 0-117 0 31 0-82 0 37 0 73 0-50 0 19 0 36 0 36 0 59 0-183 0 22 0-2 0 98 0-20 0-103 0 121 0-56 1-2 0 63 0 145 0-102 0-3 0-74 0 31 0-48 0-67 0 95 0-32 0-105 0 75 0 61 0-51 0 80 0-5 0-92 0 86 0-244 1 118 0 39 0 123 0-9 0-117 0-2 0-128 0 155 0-37 0 77 0-153 1 156 0-32 0 41 0-8 0 13 0-142 0 6 0 133 1-18 0 23 0 6 0 109 0-216 0 26 0-3 0-28 0 83 0 26 0-2 1-153 0 113 0 27 0-30 0 12 0-93 0 143 0-123 0 104 0-177 0 115 0-11 0 89 0-26 0-50 0 42 0-51 1-23 0-9 0-108 0 163 0-172 0 237 0-134 0 65 0 54 0-73 0 12 0 4 0 41 0-119 0 98 0 49 1-10 0-118 0 83 0-16 0-21 0-43 0 0 0 9 0-128 0 226 0-69 0 7 0-12 0 8 0 47 0-24 0-5 0 21 0-75 0 58 1-17 0 75 0-79 0-67 0 143 0-35 0-17 0 32 0-220 0 118 0 163 0-133 0 52 0-10 0 50 0 41 1 2 0-48 0-52 0 98 0-212 0 137 0-50 0 0 0 47 0-26 0-98 0 157 0-80 0 134 1-250 0 195 0-97 0 89 0-46 1-13 0-51 0-11 0 82 0 17 0-108 0 65 0 8 0-31 0 45 0 46 0-50 0 18 1-136 0 62 0 29 0-3 0 50 0-57 0 43 0-25 0 64 0-98 0 23 0 55 0 58 0-32 0-186 0 122 0 106 0-206 1 103 0-124 0 180 0-52 0-54 0 71 0-21 0 69 0-8 0-1 1-233 0 154 0-106 0 114 0-12 0 79 0-97 0 71 0-29 0-77 0 1 0-9 0 89 0-17 0 59 0-197 0 236 1-104 0 3 0 28 0 21 0-9 0-145 0 53 0 100 0 24 0-40 0 25 0-155 0 148 0-33 0 111 0-111 0-96 0 155 1-40 0 43 0-37 0-116 0 182 0-43 0-34 0 124 0-201 0 159 0-102 0 72 0-99 0 103 0-107 0-30 0 89 1-74 0 46 0-23 0 21 0-32 0-46 0 216 0-133 0 8 0-26 0-4 0 49 0 21 0-66 0 21 1-63 0 99 0-24 0-89 0 49 0 48 0-56 0 97 0-167 0 104 0-21 0 25 0 5 0 5 0 5 0 39 1-19 0-41 0 50 0-57 0 87 0-238 0 111 0 13 0 80 0-1 0 22 0-29 1-24 0-70 0 77 0 181 0-275 0-4 0 165 0-104 0-24 0 17 0 26 0 1 0 139 0-213 1 55 0 8 0-21 0 57 0-106 0 42 0-6 0 158 0-157 0 74 0-32 0 53 0-38 0 0 0-17 0 81 0-260 0 297 0-140 0-2 0 41 0-61 0 121 1-85 0 55 0-33 0-71 0 51 0 14 0 58 0-68 0 67 0-94 0 30 0 26 0-59 0 48 0-21 1 73 0-151 0 118 0 5 0-83 0 96 0-27 0-50 0-54 0-2 0 52 0-46 0 67 0-12 0-44 0 68 0-128 0 119 0 60 1-101 0-135 0 188 0-46 0 130 0-190 0 32 1 135 0-73 0-42 0-50 0 114 0 10 0-63 0-61 0 166 0-100 0 29 0 78 0 5 0-170 1-50 0 137 0-57 0-22 0 107 0-38 0 68 0-10 0 12 0-168 0 162 0 21 0-21 1-18 0 23 0-46 0 48 0-46 0-11 0 71 0-136 0 89 1-11 0 65 0-128 0 99 0-49 0-91 0 146 0-125 0 53 0 45 0-87 0 129 0 12 0-8 0-71 1-120 0 96 0 47 0 21 0-1 0 41 0-38 0-41 0-74 0 14 0-51 0 61 0-18 0 95 1-27 0-67 0 110 0-68 0 144 0-225 0 79 0 26 0 114 1-189 0 75 0-76 0 110 0 56 0-123 0 120 0-90 0 45 0-93 0 63 0-11 1 16 0-102 0 92 0 124 0-78 0-92 0 164 0-174 0 54 0 63 0-125 0 9 0 0 0 101 1-173 0 138 0 66 0-117 0 25 0-146 0 152 0-73 0 22 0 85 0-32 0-10 0 22 0 14 0-73 1-9 0 229 0-197 0-11 0 50 0-37 0-154 0 92 0 150 0-191 0 126 0-47 0-46 0 147 1-16 0-62 0-73 0 109 0 143 0-182 0 127 0-57 0 10 0-9 0-63 0 106 0-94 1 67 0-166 0 15 0 3 0 34 0 84 0 22 0 93 0-126 0 56 0-125 0 109 0-103 0-115 0 211 0-38 0-138 0 161 0-47 0-23 1 36 0 28 0 33 0 32 0-61 0-113 0 135 0-26 0-187 0 176 0 14 0-64 0-111 0 21 0 190 0-70 1-6 0-51 0 36 0 33 0-79 0 150 0-74 0 18 0-127 0 137 0-58 0-18 0 82 1-23 0-30 0 96 0-68 0-29 0 77 0-37 0 45 0-140 0-83 0 153 0-53 0 52 0-18 0 53 0-66 0 58 0 10 0 61 1-152 0 167 0-87 0 15 0-6 0 22 0-49 0-17 0 28 0-52 0 44 0-69 0 38 1 12 0-52 0 89 0 32 0-84 0-54 0 78 0 10 0-93 0 89 0 90 0-73 0-201 0 196 1-19 0 26 0-15 0-159 0 121 0 12 0 26 0-67 1 4 0 96 0-204 0 226 0-36 0 14 0-100 0-13 0 79 0-33 0-33 0 40 0 51 0-58 0 53 0-46 0 25 0-61 0-33 0 258 0-94 0 64 0-157 0-8 1-100 0 66 0 81 0-143 0 58 0-31 0 198 0-128 0-35 1 60 0-26 0 2 0 103 0-88 0-19 0 5 0-108 0-55 0 153 0 15 0-39 0-30 0 136 1-118 0 22 0 141 0-105 0 67 0-76 0 66 0-36 0-68 0 89 0-12 0 25 0-40 1 79 0-140 0 33 0 52 0-26 0-25 0 38 1-31 0-33 0 70 0-23 0-51 0 51 0 96 1-74 0-27 0 32 0 14 0-54 0-116 0-50 0 188 0-30 0 91 0-20 0 62 0-91 0 57 0-112 0 18 0-16 0-33 0 214 1-237 0-24 0 95 0-46 0 121 0-63 0-2 0-78 0 218 1-138 0 17 0 146 0-145 0 98 0-106 0 186 0-348 0 140 0 47 0-13 0-31 1 70 0 13 0-24 0-136 0 24 0-43 0 164 0-70 0 19 0-18 0 31 0-51 0-64 0-15 0 80 1-25 0 23 0-40 0 158 0-66 0 12 0-86 0 11 0 17 0-125 0 166 1 30 0 145 0-149 0-144 0 124 0 6 0-72 0 116 0 44 0-89 0-64 0-2 0-20 0 99 0-114 1 30 0 26 0 64 0-41 0 37 0-56 0 43 0-48 0 51 0-34 0-53 0 80 0-18 0-94 0 48 0 11 0 49 1-159 0 55 0 149 0-105 0 225 0-192 0 78 0-82 0 36 0-67 0 63 0-16 0 17 0-83 0 126 0-10 0-85 1 4 0 101 0-99 0 104 0-273 0 233 0-73 0 33 0-67 0-54 0-44 0 119 0 94 0-48 0 22 1-2 0-59 0 73 0-136 0 144 0 48 0-90 0-3 0 36 0-68 0-17 0 60 0 31 0-117 1 130 0-160 0 102 0-105 0 73 0-60 0 112 0-52 0 72 0-39 0 19 1-36 0 10 0 68 0-126 0 89 0 69 0-115 1 30 0 33 0-97 0-41 0 159 0-86 0-69 0 78 0-30 0 116 0-136 1 14 0-116 0 11 0 272 0-96 0-42 0 95 0-131 0 92 0 40 0-69 0-38 0-53 1 182 0-50 0-47 0 24 0-54 0-144 0 122 0 1 0 91 0 94 0-178 0-34 0 60 0-150 0 166 0-131 0 126 1 16 0 44 0-26 0-11 0-89 0 104 0-77 0 128 0-91 0 79 0-80 0 56 1-4 0-29 0-42 0-124 0 17 0 30 0 81 0 23 0-50 0 9 0-16 0 95 0-86 0 55 0 68 0-35 0 22 1-18 0 98 0-160 0 14 0-8 0-12 0-23 0 107 0-27 0-71 0 101 1-34 0-69 0 136 0-129 0-18 0 135 0-73 0-94 0 79 0 53 0 21 0-45 0 44 0-110 1 50 0 27 0 2 0-219 0 248 0-11 0-121 0 129 0 11 0-159 0-5 0-20 0 71 0 81 0-28 0 8 0-61 0 37 0 15 1-61 0 151 0-57 0-33 0 22 0-70 0 12 0 38 0-57 0 150 0-117 0-70 0 65 1 10 0 6 0-183 0 57 0 185 0-62 0-157 1 68 0 120 0 14 0-186 0 159 0-70 0 4 0 195 0-46 0-6 0 15 1-284 0 97 0 196 0-200 0 160 0 132 0-265 1 67 0-52 0 128 0-77 0 102 0-156 0 4 0 37 0-66 0-91 0 110 0 71 0-160 0 232 0-175 0 84 1-160 0 174 0 78 0-263 0 94 0 185 0-172 0 92 0-78 0-27 0 61 0 16 0-7 1-10 0-20 0-113 0 185 0-67 0 37 0 0 0-17 0 19 0-59 0 4 0-3 0 58 0-11 0-59 0-16 0 65 0-108 1 211 0-197 0 69 0 45 0 75 0-21 0 4 0-94 0 27 0 111 0-84 0-73 0 70 0-143 0 134 0-98 0 32 0 123 1-34 0-107 0 85 0 19 0 19 0-49 0-40 0 27 0 20 0 19 0 4 0 53 0-112 0 26 0-47 0 6 0 62 0 19 0-42 0 61 1-114 0-65 0 63 0 100 0-66 0 8 0-40 0 191 0-203 0 111 0-15 0-79 0 13 0-19 1 42 0 34 0-6 0-27 0 9 0-68 0 78 0 41 0 35 0-168 0 85 0 33 0 47 0-94 0-57 1 152 0-136 0 125 0-220 0 335 0-133 0-119 0-15 0 50 0 85 0-70 1 33 0-71 0 86 0-81 0 33 0-10 0 21 0-90 0-18 0-9 0-10 0 138 0 103 0-108 0-83 0 93 1-47 0-25 0 83 0-53 0 54 0 27 0-148 0 96 0 0 0-10 0 0 0-25 0 26 0 144 0-92 0 42 0-65 0-89 0 74 0 61 0-246 0 120 0 71 1 13 0-140 0 123 0 84 0-114 0 21 0-15 0-39 0-10 0 82 0-12 1-39 0 86 0-25 0 108 0-7 0-179 0 98 0 17 0-14 0 34 0-127 0 34 0 5 0 60 0-60 0-19 0-5 0 68 1-41 0 57 0-35 0 12 0-28 0 58 0 43 0-149 0 50 0-81 0 120 0-18 0-130 1 112 0-61 0 120 0-161 0 166 0 36 0-125 0 28 0 15 0 85 0-69 0-17 0-69 0 81 1-100 0 89 0-34 0 160 0-156 0 76 0-89 0-56 0-7 0 110 0-49 0 76 0-7 0-93 0-43 0 104 0 60 0-141 0 13 0-67 1 94 0 16 0-45 0 107 0-69 0 35 0 20 0-86 0 22 0-61 0 128 0-50 1-48 0-33 0 124 0-22 0 59 0 12 0-86 0-67 0 8 0 2 0 44 0-23 0 10 0 125 0-115 1-7 0-14 0-14 0 14 0-58 0 50 0-58 0 55 0 49 0 54 0-30 0 73 0-65 0 17 0-55 0 7 0-59 1 123 0-136 0 100 0-62 0-36 0 13 0 61 0-50 0 91 0-70 0 62 0-28 1-62 0-93 0-9 0 211 0 20 0-212 0 127 0 71 0-130 0 87 0-30 0-33 0 32 0 163 0-212 0 6 0 144 0-32 1-49 0 73 0 41 0-29 0-96 0-105 0 95 0-109 0 186 0-150 0 116 0-41 0-28 0-17 1 99 0-102 0-35 0 84 0 46 0-149 0 67 0-59 0 82 0-3 0-52 0 160 0-65 0-43 0 112 1-128 0 98 0-23 0-6 0-79 0 28 0-37 0 130 0-72 0-74 0 128 0-25 0-164 1 128 0-43 0 5 0 109 0-92 0-48 0 53 0-12 0 78 0-64 0 126 0-149 0 120 0-89 0 50 0-75 0-20 0 0 0 51 0 61 1-172 0 125 0-120 0 14 0 189 0-51 0-97 0-15 0 84 0-18 0-50 0 11 0 44 0 13 0 114 0-147 0-36 0-76 1 108 0 40 0-118 0 52 0 94 0 14 0-120 0 131 0-195 1 100 0 62 0-80 0 74 0-77 0 16 0 0 0 11 0-62 0-70 0 73 0 111 0 17 0 100 0-158 0-90 1 19 0 9 0 40 0-2 0 12 0 42 0-111 0 47 0 4 0 76 0-91 0 59 0 6 0-2 0-76 1 76 0 45 0-59 0 39 0-81 0 32 0 94 0-68 0-17 0-125 0 207 0 14 0-16 0-67 0-43 0-93 0 142 0-76 1 60 0 45 0-185 0 5 0-4 0 244 0-108 0-9 0 7 0-21 0-4 1-14 0-75 0 168 0-8 0-64 0 31 0-28 0 64 0 2 0 40 0-200 0 76 1 19 0-5 0-72 0 42 0 81 0 18 0-35 0-51 0-98 0-5 0 111 0 60 0 69 0-91 0 7 0-71 0-20 0 50 0 23 0-53 1 34 0 10 0 41 0-41 0 14 0-169 0 199 0 56 0-136 0 155 1-186 0 201 0-147 0-39 0 5 0 1 0-26 0 131 0-93 0 94 0-38 0 70 1-147 0 49 0 10 0 71 0-22 0-76 0-29 0 31 0 28 0 137 0-126 0 52 0-115 0 50 0 10 1 21 0-77 0 80 0-111 0 55 0 105 0-28 0-36 0-125 0 146 0-179 1 199 0-83 0 125 0-83 0-62 0-21 0 65 0-1 0 96 0-219 0 151 1 11 0-60 0 47 0-58 0 45 0-43 0 109 0-41 0 82 0-60 0-155 0 202 0-128 0 83 1-165 0 166 0-141 0 186 0 3 0-101 0-21 0 24 0 46 0-65 0 12 0 10 0 170 0-81 1-183 0 40 0 10 0 59 0-178 0 347 0-154 1-2 0-43 0 154 0-122 0 32 0-19 0-73 0 37 0-34 0 133 0-117 1-23 0 10 0 59 0-30 0 54 0-89 0 97 0-30 0-33 0 112 0-50 0-100 0 11 0-115 0 205 0-5 0 8 0-29 0 7 1 62 0-89 0 67 0-38 0-20 0-186 0 202 0-73 0 64 0-32 0 43 0-73 0-1 0 65 0 12 1-46 0 4 0 93 0-116 0-10 0 112 0-10 0-61 0-75 0 106 0 33 0-114 0-53 1 172 0-99 0 31 0 7 0 27 0-108 0 66 0-48 0-68 0 135 0-21 0 79 1-4 0-133 0 115 0 38 0 9 0-264 0 256 0-51 0-1 0-70 0 28 0 45 0-114 0 92 0 42 1-143 0 143 0-50 0 95 0-292 0 137 0 112 0-66 0-62 0 41 0 51 0-37 0-48 0 125 0 87 0-167 0 10 0 58 0-114 0 87 1-23 0-31 0 153 0-114 0 25 0-176 0 246 0-147 0 57 0 15 0 17 0-47 1-47 0 77 0-14 0-69 0 58 0-5 0-137 0 171 0-44 0 11 0-25 0 23 0 15 0-32 1 23 0-31 0 101 0-91 0 29 1-178 0 297 0-53 0-135 0 110 0-111 0 13 0-42 0 90 0-101 0 20 0 201 1-136 0-96 0 43 0 6 0 17 0 56 0-78 1 128 0-13 0-112 0 83 0-29 0 51 0 16 0-44 0 46 0-63 0 73 0-124 0 60 0 43 0-88 0 18 0-7 0-21 1 45 0-119 0 105 0-121 0 17 0 113 0-34 0 56 0-106 0 65 0-147 0 231 0-241 1 150 0 9 0 28 0 4 0-23 0-130 0 131 0 16 0 64 0-179 0 51 0-65 0 88 0 58 1 100 0-90 0-77 0 57 0 109 0-67 0 10 0-80 0-53 0-58 0 85 0 33 0 122 0-161 0 138 0-15 0-6 1-94 0 131 0-7 0-147 0-13 0 49 0-96 0 211 0-97 0-56 1 253 0-221 0 8 0-37 0 133 0-35 0-38 0-95 0 92 0-40 0 52 0-39 0-98 0 0 1 199 0 39 0-169 0-20 0 130 0-110 0-38 0 130 0 129 1-112 0-48 0 65 0-52 0-32 0 68 0-63 0-6 1-37 0 80 0 7 0-116 0 124 0-84 0 19 0-62 0-18 0 42 0-11 1 96 0-25 0-63 0 91 0-62 0 33 0 77 0-47 0-27 0-16 0 34 0 12 1-93 0 166 0-142 0 41 0-111 0 197 0-136 0 6 0 112 0-19 0-79 0 6 0-27 0 100 1-85 0 69 0 9 0-27 0-27 0 43 0-15 0-99 0 28 0-13 0 106 0 7 0-116 0 37 1 47 0-59 0 68 0-160 0 78 0 58 0-42 0-97 0 115 0-38 0-20 0 87 0-40 0-5 0-75 0-56 0 210 1-96 0 60 0-40 0 23 0 11 0 79 0-67 0-6 0 83 0-168 0 89 0 11 0 11 1-92 0 18 0-97 0 120 0 64 0-122 0 135 0-148 0 124 0-7 0 4 0-8 0-11 1-96 0 4 0 86 0 29 0 24 0-79 0-2 0 101 0-32 0-95 1 111 0-38 0-89 0 152 0-68 0-63 0-2 0 55 0-44 0-8 0 86 1-68 0 69 0-64 0-86 0 116 0 20 0-24 0 0 0-80 0 88 0-94 0 81 0-38 0 152 0-80 1-82 0 50 0-4 0 56 0-110 0 55 0 4 0-22 0 61 0-43 0-62 0 54 0 2 0 18 0-76 0 95 1-62 0 70 0-26 0-137 0 83 0 43 0 25 0-48 0-12 1 38 0 63 0-50 0 56 0-122 0 101 0-10 1 38 0-10 0 5 0-128 0-34 0-57 0 62 0 65 0 36 0-80 0 65 0-56 0-23 0 215 0-220 1 206 0-129 0 4 0-4 0 2 0 2 0 25 0-126 0 49 1-16 0 88 0 38 0 1 0-103 0-73 0 119 0 14 0 41 0-37 0-40 0-8 0 21 0-5 0 66 0-26 0-168 0 187 0-231 0 75 0 186 0-120 0 96 1-137 0 110 0-13 0-7 0 2 0 85 0-152 0 74 0 91 0-91 0 38 0-10 0-20 1 17 0 10 0-116 0 126 0 8 0-46 0-87 0 88 0-161 1 139 0-39 0 21 0 17 0 46 0-13 0-133 0 155 0-30 0-112 0 76 0-20 0-125 0 169 1-145 0 102 0-38 0 109 0-16 0-45 0-13 0 6 0-3 1 56 0-48 0 78 0 81 0-113 0-188 0 239 0-124 0 33 0-28 0 127 0-74 0 4 0-50 0 85 0-213 0-18 1 144 0 18 0-9 0 25 0-56 0 10 0 30 0 6 0-21 0-37 0 103 0-40 0 60 0-175 0 139 1-85 0 0 0 117 0-141 0 180 0-38 0-119 0 122 0-77 0 0 0-29 0 47 0 121 0-95 1-108 0-38 0 178 0-55 0 65 0-32 0-69 0 121 0-24 0-67 0-12 0-21 0 112 0-198 0 109 0 11 0-39 0 57 0-95 0 72 0-95 1 8 0 125 0 12 0-111 0 30 0-77 0 140 0-75 0 18 0 14 0-159 0-8 0 196 0 7 0-52 1-28 0 80 0 45 0-130 0 96 0-99 0 83 0-1 0 28 0 2 0-47 0 97 0-88 1 105 0-64 0 10 0-41 0 32 0-101 0 40 0-16 0 96 0-12 1-13 0-37 0 1 0 55 0-99 0 189 0-212 0 46 0 67 0-68 1 4 0-31 0 42 0-160 0 201 0-71 0 174 0-129 0-63 1 96 0-51 0-69 0 134 0-53 0-30 0 13 0-82 0 106 0 41 0-71 0 32 0-121 0 247 0-9 1-93 0 23 0-55 0-142 0 135 0 50 0-109 0 49 1-81 0 54 0 35 0 70 0 3 0-148 0 131 0-61 0-51 0 71 0-75 0 83 0-36 0 12 1 146 0-87 0-96 0 3 0 53 0 19 0-48 0-40 0 80 0 14 0-64 1 74 0 16 0 17 0-132 0 17 0 191 0-339 0 243 0 2 1-111 0-5 0-7 0-8 0 104 0-45 0 89 1-13 0-160 0 155 0-25 0-12 0-37 0 7 0 0 0-57 0 13 0 88 0 2 0-97 0 7 0 211 0-103 0 0 0-19 0-7 0-205 1 165 0 81 0-33 0 21 0 6 0-97 0-42 0 171 0-119 0 25 0-71 0 80 0-29 0 137 0-117 0 14 0-51 0 75 0-66 0-102 0 61 1 66 0-117 0 76 0 129 0-142 0 10 0-51 0 39 0 47 0 53 0 22 0-109 0-8 0 38 1 77 0-70 0 3 0 33 0 105 0-137 0-8 0-22 0 23 0-34 0 110 0-101 1 5 0 32 0 59 0-114 0-33 0 63 0 24 0-22 0 100 0-39 0-45 0-25 0 43 0 8 1-80 0-4 0 129 0-234 0 205 0-151 0 203 0-107 0-11 0 31 0-63 0 176 0-210 0 52 0 16 0 52 1-22 0 76 0-105 0 72 0-114 0 97 0-12 0 1 0-16 0-46 0 2 0 30 0 13 1 44 0-133 0 122 0-69 0 59 0-16 1 24 0-123 0 31 0-27 0 77 0 31 0 8 0-104 0 196 0-214 0 144 0 15 0-2 0-46 0 31 0-28 1-93 0 139 0-43 0 12 0-23 0-28 0-122 0 84 0 33 0 46 0-57 0 61 1-23 0-43 0 145 0-120 0 55 0-53 0 93 0-20 0-33 0-62 0-11 0-10 0 32 1 66 0-86 0 86 0-142 0 127 0-58 0 30 0 14 0-22 0 23 0-5 0-58 0-54 0 51 0 38 0 151 1-158 0-9 0 155 0-165 0-54 0 142 0-80 0 5 0-2 0 80 0-69 0-37 0 126 0-58 1-100 0 66 0 39 0-117 0 137 0-62 0 86 0 28 0-165 0-20 0 48 0 34 0 97 0-173 0 40 0 54 0 15 0 23 0-176 0 110 0 48 0 68 0-111 0 4 0 23 0-31 0-54 0 79 1-44 0 47 0-140 0 143 0-35 0 31 0-22 0 46 0-8 0-116 0 96 0-25 0 34 0-52 1-9 0 21 0 81 0-3 0-66 0 78 0-32 0-24 0-89 0 62 0-2 0-46 0 167 0-212 0 133 0-117 0 25 0 117 0-59 0-10 1 35 0-101 0 139 0-124 0 71 0 78 0-138 0 67 0-33 0-27 0 3 1-24 0 88 0 37 0 16 0-198 0 78 0-14 0 54 0 43 0-28 0-137 0 24 0 117 0 37 0-99 0-25 1 69 0 26 0 43 0-106 0 76 0-197 0 229 0 9 0-120 0 12 0 20 0 4 0 107 0-22 0-81 0 48 1-7 0-9 0-69 0 36 0 119 0-105 0-65 0 104 0-161 0 110 0-48 0 9 0 93 1-135 0 138 0-28 0-36 0-39 0 85 0 26 0-46 0 5 0-10 1-33 0-145 0 223 0-80 0 51 0-106 0 49 0-126 0 221 0-66 1-20 0 74 0-198 0 189 0-73 0 28 0 39 0-6 0-143 0 37 0 46 0 71 0 85 0-161 0-25 0 153 0-101 0 50 1 8 0-85 0 79 0-8 0 23 0 19 0-57 0-31 0-149 0 163 0-70 0 17 0 191 0-141 0-30 0 67 1-108 0-87 0 153 0 79 0 30 0-91 0 25 0-86 0 28 0 29 0 5 0 55 0-144 0 97 1-114 0 101 0 21 0-133 0 135 0-34 0 56 0-82 0-37 0 130 0 10 1-106 0 16 0 26 0-25 0 42 0 29 0 61 0-52 0-78 0 19 0-22 1 26 0 16 0-53 0 23 0 92 0-81 0-33 0-86 0 98 0-7 0 27 0-60 0 20 0 21 0-38 0 136 0-162 0 20 0 89 1-81 0 3 0 1 0 9 0-23 0 23 0-27 0 0 0 39 0-3 0 15 0 20 1-29 0-58 0 44 0-149 0 125 0-18 0-3 0 89 0 85 0-126 0 9 0-26 0 24 0-94 0 176 1 23 0-119 0 85 0-37 0 55 0-158 0 149 0-101 0 165 0-177 0 9 0 5 0 58 1-19 0 37 0-25 0-45 0-117 0 192 0-96 0 41 0 104 0-74 1 19 0-50 0 47 0-11 0 18 0-155 0 174 0-122 0 98 0-42 0-60 0 103 0-55 0-106 1 97 0-34 0 15 0-24 0-24 0 130 0 1 0-111 0 119 0-140 0 115 0 24 0-50 0-56 1-60 0 224 0-135 0-30 0 92 0-5 0-16 0-67 0 55 0 120 1-287 0 161 0 6 0-125 0 106 0 61 0 42 0-45 0 73 0-85 0 22 0 72 0-102 0 140 0-271 0-5 0 207 0-10 0-69 1 13 0-61 0 136 0-79 0-2 0-53 0 114 0-218 0 93 0 126 1 9 0-116 0 82 0-32 0 4 0 5 0-8 0-177 1 229 0-92 0 24 0-25 0-40 0 54 0 108 0-149 0 54 0-64 0 64 0-90 0-6 0 139 0 7 0-73 0-1 0-42 0 39 0 134 0-45 0-68 0-86 1 170 0-60 0-140 0 100 0 20 0 45 0 58 0-59 0-156 0 155 1-18 0-50 0-159 0 120 0 29 0-11 0 74 0 2 0 103 0-172 0 87 0-63 0 16 0-17 0-41 0 165 0-152 0 58 0-29 1 37 0-55 0-56 0 184 0-132 0 19 0 143 0-83 0-97 1 48 0 10 0-51 0-8 0 107 0-57 1 83 0-60 1-7 0-12 0-5 0 77 1-62 0-34 0 43 0 33 0-35 1-62 0 114 0-56 0 52 0-100 0-56 0 205 0-150 0 134 0-36 0 18 0-152 1 101 0-20 0-101 0 65 0 7 0 11 0 46 0-124 0 67 0-24 0 1 0 62 0-174 0 158 0-146 1 81 0 12 0 1 0 104 0 2 0-124 0-55 0 124 0 46 0-83 1 55 0-75 0 185 0-125 0-107 0 173 0-92 0-78 0 80 0-30 0 167 0-172 0 30 0-71 0 189 0-76 0-42 0-47 1 91 0-36 0-148 0 164 0-83 0-17 0 45 0-22 0 11 0-35 0 168 0-58 0-45 0-14 0-12 0 37 0 44 1 113 0-75 0-26 0 26 0-11 0-157 0 81 0 47 0-71 0 4 0 53 0-3 0 89 0-10 0-158 1 59 0 27 0-111 0 181 0-66 0-22 0-10 0 14 0 4 0 35 0-3 0-42 0 139 0-170 0 6 0 47 0 25 0 36 1-210 0 94 0 93 0-48 0 36 0-65 0 97 0-37 0-31 0 85 0-137 0-22 0 66 0 25 0-16 0 53 1-60 0 3 0 2 0 98 0-122 0 24 0 100 0-54 0 34 0 61 0-35 0-27 0-203 0 92 0 83 0-11 0-12 0-32 0 48 0-50 0 62 1-66 0-79 0 117 0 39 0-83 0 2 0 25 0 26 0 28 0-134 0 72 0-77 1 86 0-43 0 97 0-130 0 76 0-54 0 54 0 0 0 11 0-80 0 44 0-55 0-26 0 144 0-129 0 55 0 50 0-92 1 65 0 56 0-77 0 72 0-149 0 32 0 102 0 40 0-56 0-2 0 57 0-20 0 36 0-111 1 85 0-114 0 53 0 24 0 28 0-56 0 112 0-173 0 94 0-66 0-48 0-95 0 205 1-70 0 26 0 113 0-142 0 76 0-98 0 36 0 23 0 10 0-15 0 84 0 42 0-67 0-158 0 120 0-1 0-59 0-94 0 171 0 105 1-64 0-37 0 4 0-38 0-41 0 111 0-48 0-91 0 131 0-58 0 58 0-198 0 182 1 107 0-60 0-91 0-24 0-24 0 17 0 143 0-106 0-136 0 167 1-136 0 213 0-94 0 8 0-32 0-11 0-74 0 101 1-59 0 62 0-33 0 120 0-117 0-7 0 65 0 15 0-86 0 62 0-203 0 95 0 131 1-7 0 7 0-25 0-77 0 44 0-1 0 77 0 1 0-92 0 156 0-177 0-28 0 86 0 39 0-56 0 58 0-9 1-81 0 152 0-86 0-31 0-39 0 74 0-94 0 83 0 58 0-87 0 31 0 36 0-115 1 46 0 53 0-35 0 14 0 2 0-74 0 35 0 135 0-235 0-16 0 214 0-89 0 100 0-129 1 102 0-140 0 30 0-17 0 50 0 88 0-88 0 54 0-42 0 26 0-54 0 49 0-69 0-16 1 69 0 7 0 84 0-182 0 211 0-141 0 46 0-72 0 62 0-56 0-57 0 157 0 125 0-208 0 62 0-123 0 89 1 30 0-62 0 41 0 39 0-32 0-103 0 22 0-34 0 16 0 124 0-118 0 85 0-2 0 51 0-76 0-93 1 182 0-132 0 48 0-16 0 58 0-80 0 29 0-71 1 108 0-24 0 29 0-116 0 37 0 31 0 20 0-73 0 43 0 114 0-47 0-195 0 35 0 65 0 71 0-18 0-2 1 6 0 3 0-26 0-101 0 190 0-109 0 31 0-67 0 7 0 112 1 45 0-39 0-69 0 64 0-62 0 87 0-7 0-42 1-13 0-53 0 10 0 10 0-135 0 229 0-127 0 37 0 0 0 151 0-196 0 49 1-8 0-101 0 70 0 114 0-96 0 88 0 33 0-145 0 121 0-118 0 144 0-101 0 21 0 23 0-27 0-58 1 53 0-80 0 66 0 34 0 7 0 123 0-202 0-20 0 155 0-82 0 109 0-105 0 36 0-125 0 207 0-89 0 3 1-152 0 191 0-174 0 162 0-111 0 35 0 2 0 49 0 28 0-109 0 111 0-13 0-128 0 247 0-142 0-6 0 1 0-23 1-35 0 63 0 46 0-30 0 38 0-73 0-16 0 32 0 51 0-53 0 76 0-18 0-100 0 104 1-82 0-22 0 132 0-67 0 35 0-53 0-54 0 44 0-27 1-13 0-20 0 47 0 72 0-42 0-31 0-51 0 6 0 14 0-46 0 94 0 13 0-85 0 60 0 41 0-55 0 57 0-22 0 66 0-125 0 84 0-30 0-36 1 11 0 65 0-70 0-176 0 222 0-17 0-70 0 0 0 41 0-50 0 183 0-177 0 86 0-91 0 58 0-39 0 34 0-27 1-16 0-14 0 18 0 35 0 45 0 2 0-71 0 86 0-63 0 120 0-103 0 34 0-67 0 60 1-60 0 23 0 25 0-7 0-41 0 103 0-143 0 167 0-18 0-136 0 3 0-74 0 157 0-53 0 102 0-59 0-75 0-58 0 96 0-22 0-49 0 36 0 110 0-77 0 50 1-26 0-2 0 68 0-34 0-25 0 32 0-16 0-12 0 36 0-156 0 153 0-54 0-64 0 52 0 11 0-37 0 53 0-22 1-8 0 70 0-83 0 113 0-158 0 26 0-25 0 171 0-135 0 75 0-16 0-144 0 178 0 96 0-156 1-3 0 44 0 43 0-21 0-7 0-38 0 51 0-204 0 223 0-163 0 74 0 34 0 40 1 13 0-81 0 65 0-59 0-15 0 5 0 65 0-61 0 3 0-31 0-1 0-17 0 79 0-2 0 49 0-20 0-32 0-67 1 50 0-34 0 74 0-76 0 45 0-25 0-63 0 85 0-47 0-11 0 32 0 41 0-35 0-104 0 76 1-4 0 42 0 53 0 38 0-74 0-36 0 107 0 23 0-115 0 96 0-155 0 43 0 63 0-20 0 52 0-67 0-59 0 46 0 1 1-62 0-54 0 222 0-62 0-67 0 43 0-57 0 75 0-23 0-64 1 8 0-97 0 131 0 57 0-58 0 13 0-15 0 77 0-35 0 96 0-180 0 34 0 100 0-6 1 5 0-30 0-132 0 141 0-127 0 97 0-94 0 109 0-118 0 143 0-91 0 73 0-27 0-85 0 46 0 24 0 45 0-39 0 24 0-106 1-91 0 154 0-2 0-14 0-165 0 166 0-26 0 134 1-147 0 107 0-71 0-25 0 22 0-139 0 86 1 71 0 79 0-45 0-110 0 162 0-39 0-96 0-5 0 61 0 53 0-31 0-14 0-30 1 33 0-80 0 27 0 4 0 29 0 87 0-127 0 23 0-13 0 130 0-102 1 33 0 4 0-30 0-25 0-11 0 49 0-9 0-7 0-59 0-43 0 138 0-8 0-58 0 11 0-172 0 213 1-84 0 65 0 47 0-91 0-30 0 49 0 11 0-7 0 126 0-108 0 39 1-86 0 91 0-84 0 17 0 42 0 69 0-102 0 19 0-118 0 54 0-22 0 162 0-188 0-57 1 183 0-57 0 158 0-72 0-94 0 129 0-46 0-161 0 127 1 64 0-159 0 126 0-46 0 19 0-8 0 29 0-47 0 30 0-84 0 49 0 16 0-79 0 194 0-167 0 33 0 79 0-91 0 41 0 70 0-134 0-30 0 174 1-71 0-78 0 37 0 24 0 46 0-74 0 48 0 44 0-91 0 139 0-209 0 166 0-161 0 30 1-15 0 89 0-115 0 29 0-13 0 96 0-191 0 179 0 118 0-32 0 19 0-28 0-36 0 33 0-118 0 49 1-35 0 39 0 209 0-224 0 74 0-38 0-86 0 39 0 131 0-62 0-46 0 8 0-66 0-35 0-66 0 89 0 64 0-35 0 3 1 113 0 11 0-152 0 20 0 166 0-235 0 205 0-133 0-87 0 140 0 116 0-134 0 46 0-24 1 43 0-114 0 36 0 67 0-140 0 5 0 112 0-137 0 139 0-82 0 57 0 23 0 87 0-53 0-33 1-27 0 59 0-13 0 15 0-17 0-26 0 4 0-21 0 109 0-107 0-26 0 47 1-11 0 38 0 29 0-84 0 35 0-157 0 86 0 56 0-189 0 160 0 4 0 58 0-31 0-93 0 29 0 74 1-11 0-58 0 49 0-8 0 48 0 30 0-66 0 16 0-94 0 105 0-37 0 117 0-154 0-83 1 12 0 45 0-7 0 162 0-181 0 124 0-54 0 17 0 10 0 20 0-48 0-26 1 85 0-90 0 87 0-30 0 5 0-30 0-96 0 204 0-191 0 123 0 17 0-33 0-20 0 37 1-77 0 10 0 34 0-32 0-12 0 75 0-23 0-123 0 80 0 24 0 132 0-73 0 71 0-72 0-46 0-79 1 140 0 22 0-124 0 52 0 9 0-123 0 185 0-60 0 48 0-85 0 40 1-53 0-34 0 34 0 117 0-124 0 26 0-5 0-58 0 23 0-17 0 197 0-57 0-77 0-28 0-11 0 93 0-28 1-30 0-31 0 50 0-84 0 129 0-72 0 75 0-24 0-54 0 5 0 52 0 22 0-116 0 68 0 12 0-178 1 99 0 84 0-58 0-15 0-27 0 72 0 26 0-23 0 1 1-11 0 12 0-95 0 132 0-86 0 96 0-96 0 103 0-195 0 190 0-82 1 67 0-33 0-45 0 26 0-20 0 23 0-11 0 2 0-38 0 96 0 52 0-76 0-91 0 143 0-36 0 106 0-74 0 18 0-35 0 38 1-23 0-88 0 32 0-96 0 108 0-126 0 78 0 9 0-61 0 111 0 23 1-130 0 151 0-205 0 75 0 4 0 179 0-137 0-26 0 71 0-51 0-29 0 99 0 5 1-53 0 65 0-70 0-37 0 10 0 110 0-67 0 2 0-103 0 71 0 184 0-160 1 44 0-165 0 202 0-88 0 19 0-78 0 103 0-69 0 138 0-59 0-70 0 79 0-168 1 150 0 12 0 20 0-56 0 36 0-24 0 9 0-161 0 171 0-61 0-20 0-20 0 39 1 30 0-67 0 121 0-16 0-35 0 53 0 8 0-22 0-50 0 84 0-132 0 38 0 41 0 10 0-1 0-229 0 162 0 42 0-109 0 188 0-86 0 81 0-85 0 55 1-23 0-84 0 144 0 4 0-121 0 4 0-55 0 41 0 53 0 104 0-173 0 33 0 46 0 29 0-115 0-37 1 39 0-37 0 72 0 43 0 12 0-73 0 38 0 61 0 2 0-11 0-13 0-44 0-63 0 36 0 68 0-22 0-2 0-33 0 66 0 47 0-91 0 53 0 29 1-62 0-75 0 139 0-104 0 25 0 12 0 133 0-129 0 42 0-128 0 85 0-70 0-51 0 61 0-4 0-50 0 124 0-3 1-53 0 51 0 21 0-31 0 10 0-74 0 22 0 105 0-163 0 57 0 118 0-40 0-90 1 54 0-91 0 84 0-49 0 22 0 8 0-113 0 61 0 132 0 22 0-40 0-28 0 92 0-155 0 63 0-105 0 92 0-30 0 14 0 43 0-58 1 17 0 72 0-68 0 110 0-71 0-99 0 107 0-142 0 99 0-115 0 62 0 107 0-68 0-36 0-1 0 84 1-30 0 61 0-145 0 23 0 91 0-87 0 72 0 68 0-131 0-31 0 105 0 22 0-15 0 76 0-76 0 32 1 1 0-42 0 3 0-28 0 46 0-129 0 161 0-86 0 50 0-61 0-60 0-11 0 30 1-24 0 56 0-51 0 128 0-50 0-62 0 67 0-201 0 18 0 175 0 0 0-22 0-5 0 7 0 23 1-151 0 85 0 139 0-103 0 55 0-138 0 82 0 75 0-49 0 60 0-30 0-26 0 61 0-129 0 98 0-36 0-27 1 30 0-191 0 152 0 60 0-4 0-28 0 34 0-56 0-33 0 10 0 81 0-86 0 26 0 68 0-73 0 83 1-102 0 72 0-9 0-30 0-71 0 32 1 65 0 59 0-17 0-29 0 23 0 32 0-85 0 55 0-90 0 35 1-33 0 44 0 13 0-103 0 118 0-45 0 57 0-126 0 41 0 150 0-5 0 17 0-151 0 108 1-72 0 38 0-38 0-7 0 69 0-215 0 141 0 55 0-3 0-85 1-49 0 183 0-36 0-159 0 209 0-3 0-112 0-8 0-121 0 161 0-66 0 11 0 146 0-146 0 77 0-71 0 19 0-7 0-61 0 136 0-141 1 63 0 45 0-44 0-59 0 31 0-62 0 83 1 52 0-76 0 58 0-167 0 22 0 149 0 28 0-110 0 41 0 21 0-30 0 71 0-49 0-20 1 52 0-35 0-49 0 141 0 20 0-222 0 215 0-35 0-131 0 62 0-83 0 158 0-43 0 10 1-33 0-2 0 28 0-58 0 81 0-2 0-11 0-75 0 58 0 26 0 38 0 44 0-91 0 43 0-67 1 42 0-1 0-23 0-101 0 94 0 72 0-64 0-31 0 26 0 12 0-23 1-53 0 2 0-39 0 124 0 46 0-171 0 23 0 7 0-51 0 159 0-73 0-22 1 34 0-14 0 40 0-48 0 101 0-58 0-12 0-94 0 97 0-89 1 99 0-82 0 44 0 54 0-75 0 95 0 57 0-128 0-37 0 138 0 13 0 47 0-17 1-74 0-14 0-131 0 105 0 98 0-51 0-3 0-87 0-14 0 30 0 86 1 33 0-118 0 53 0-20 0 66 0-111 0 56 0-55 0-22 0-28 0 153 1-196 0 173 0-138 0 129 0-21 0-12 0-65 0 62 0 36 0 100 0-91 1-63 0-15 0-30 0 166 0-192 0-54 0 87 0 109 1 18 0 6 0-87 0-35 0-31 0 119 0 9 0 20 1-73 0-44 0-5 0 190 0-42 0-126 0 103 0-108 0 33 0-63 0 28 0 90 0-89 0-40 0-41 0 108 1-83 0 4 0 183 0-115 0 54 0-80 0 72 0-176 0 23 0 244 0-175 0 93 0-26 0 37 1-91 0-94 0 73 0 123 0-97 0 44 0 56 0-29 0-14 0 81 0-41 0-1 0-181 0 83 0-78 1 101 0-28 0 89 0-188 0 96 0 53 0 64 0-72 0 21 0-26 0-103 0 77 0 59 0-113 0 104 0 55 0-46 0-72 0 10 0 80 0-35 1-21 0 6 0 14 0-28 0 38 0 48 0-67 0-3 0-41 0 105 1-32 0-200 0 117 0 212 0-207 0 130 0-120 0-27 0 102 0-66 0-82 1 101 0-29 0 31 0 77 0-76 0 73 0-159 0 160 0-136 0 57 0 1 0-75 0 91 0-49 0 111 0 3 0-43 1 28 0 45 0-210 0 47 0 30 0 80 0-164 0 108 0 9 0 106 0-124 0-9 0 10 0 49 1-19 0 17 0-72 0 155 0-65 0-55 0 17 0-91 0 56 0-22 0 1 0 45 0-14 0-24 1-22 0 117 0-119 0-2 0-46 0 56 0 54 0 162 0-253 0 157 0 0 0-232 0 217 0 16 0-203 0 35 0 86 0 20 0-24 1-14 0 115 0-162 0 158 0-137 0 60 0-53 0 49 0-12 0-25 0-9 0 29 0-14 1 71 0 31 0-41 0 38 0-39 0 77 0-150 0-106 0 150 0 62 0 3 1-117 0 49 0-29 0-87 0 109 0 2 0-13 0-123 0 165 0-35 0-10 0-13 0-37 0 81 0 26 0-100 0 63 1 27 0-4 0-167 0 170 0-21 0 5 0 23 0 42 0-87 0-13 0-7 1 84 0-38 0 0 0 53 0-49 0-66 0 86 0-41 0-85 0 182 0-176 0 81 0 10 0 35 0-105 0 177 0-238 1 25 0 109 0-49 0-123 0 172 0-49 0 83 0-82 0 147 0-39 0-116 0-36 0 2 0 108 0 24 0-115 0 77 0-34 1-34 0-90 0 204 0-74 0-28 0 35 0-41 0 138 0-154 0 128 0-175 0 31 0 90 1 22 0-94 0 4 0 16 0-2 0-38 0 147 0-79 0-73 0 101 0-26 0 33 0-95 0 62 1 65 0-60 0-35 0-10 0 14 0 24 0-77 0 59 0 72 0 3 0-147 0 49 0 85 0-35 1-22 0 57 0-139 0 94 0-20 0 23 0-145 0 104 0-64 0 183 0-134 0 34 1 97 0-126 0 24 0 100 0-51 0 81 0-58 0-67 0 19 0 57 0-23 0-84 0 18 1 18 0 41 0 88 0-190 0 100 0-98 0 91 0 16 0-58 0 20 0 14 0 143 0-177 0-62 0 98 0-99 0 133 0-79 0-14 1 101 0-123 0 47 0 73 0 15 0-234 0 188 0-51 0 52 0-18 0-20 0 62 0 4 0-37 0-54 0-57 0 180 0 0 0-134 1-80 0 144 0-40 0 0 0 20 0 89 0 9 0-133 0 125 0-80 0-37 1 57 0 68 0-120 0-35 0 160 0-190 0 72 0-61 0 110 0-20 0-50 0 69 0 62 0-23 0 16 0-11 1-11 0 16 0 17 0-53 0-34 0-29 0 70 0 6 0 5 0-82 0 118 0-137 0-84 1 187 0-1 0-87 0-12 0 29 0-23 0 42 0-34 0 138 0 6 0-136 0 122 1-113 0-34 0 9 0 69 0 60 0-100 0 23 0 148 0-150 1 0 0-6 0-40 0 156 0-196 0 167 0-78 0 38 0-36 0-73 0 62 0-5 0 109 0-262 0-29 1 126 0 133 0-60 0 18 0 27 0-49 0 86 0-140 0 122 0-160 0 80 0-99 0 95 0-133 0 131 0 26 0-90 0-10 0 54 0-8 1 38 0-142 0 181 0-70 0-68 0 27 0 168 0-145 0 14 0 76 0 2 0-166 0 89 0 109 1-33 0-51 0-43 0 70 0-51 0 110 1-116 0-24 0 31 0 76 0-29 0-122 0 116 0-127 0 113 0-70 1 64 0 51 0-24 0 49 0-211 0 269 0 13 0 24 0-152 0 41 0 9 0-73 0 16 0-130 1 176 0-48 0 84 0-18 0-69 0-14 0 16 0-6 0 150 0-160 0-38 0 227 0-144 0 33 0 3 1-123 0 25 0 54 0 45 0-103 0 109 0-64 0 37 0-7 0 22 0-102 0-48 0 108 0-84 0-6 1 117 0-18 0 21 0-200 0 139 0-54 0 49 0 104 0-118 0 101 1-46 0-78 0 56 0-123 0 57 0 47 0 4 0 111 0-96 0-87 0 7 0 204 0-63 0-136 0 166 0-60 0-70 1-100 0 153 0 22 0-11 0-41 0 84 0-63 0 19 0-28 0 129 0-88 0-61 0-40 1 79 0 36 0-70 0 66 0-42 0 6 0-12 0-42 0 12 0 0 0-4 0-90 0 44 0 130 0 26 0-196 1 153 0-3 0-183 0 9 0 107 0 138 0-63 0-99 0 72 0-18 0 50 0-86 0-2 0 101 1-108 0 127 0-104 0 52 0 4 0 95 1-205 0 81 0-17 0 114 0-127 0 86 0-93 0 86 0-24 0-23 0 58 0-64 0-104 0 155 0-24 0-50 0 33 1 8 0 17 0 9 0 26 0-66 0 183 0-208 0 21 0 42 0-131 0 142 0-93 0 37 0-30 0-61 1 136 0-91 0 135 0-73 0 30 0-71 0 70 0-75 0 30 0 60 0-35 1-60 0-94 0 200 0-74 0-65 0 197 0-21 0-109 0 62 0-167 0 284 0-138 0-150 0 193 0 31 0-81 1-145 0 150 0 11 0 49 0-91 0-22 0 38 0-17 0 151 0-144 0 73 0-91 0 103 1-90 0 55 0-44 0-7 0-32 0 110 0-163 0 120 0 53 0-95 0 16 0 30 0-103 0 86 0 24 0-119 0 126 1-148 0 139 0-57 0 76 0 41 0-104 0-77 0 126 0 20 1-63 0-117 0 71 0 6 0 11 0 63 0-97 0 3 0-7 0 7 0 104 0-5 0-115 0 113 0-39 0-39 0 26 0 55 1-52 0-47 0 64 0 37 0-93 0 47 0 13 0 74 0 6 0-52 0-37 0 76 0-80 0-82 0 157 1-48 0-51 0 57 0-87 0 10 0 93 0-78 0 48 0-67 0-25 0 72 0 39 0-42 1 62 0-96 0 118 0 6 0-66 0-57 0-4 0 43 0-47 0 59 0-29 0-74 0 62 1 139 0-171 0-17 0 76 0 38 0-110 0 25 0 13 0 76 0 32 0-68 0-34 1 102 0-116 0 5 0 1 0-67 0 128 0 75 0 28 0-39 0 64 0-121 0-22 0-13 1-4 0 44 0 32 0-158 0 118 0-72 0 19 0 148 0-62 0-21 0-68 0 40 0-110 0 52 1 101 0-68 0 26 0 128 0-184 0 17 0 31 0-34 0 28 0 29 0-104 0 140 0-38 1-133 0 0 0 11 0 140 0-3 0-144 0 15 0 65 0 73 1-102 0 112 0-118 0 122 0-96 0 46 0 47 0-11 0-79 0 49 0 70 0-74 0 72 0-179 0 76 1-28 0 113 0-83 0 60 0 22 0-116 0-16 0 51 0 1 0-44 0 37 1 4 0 63 0-114 0 201 0-131 0 110 0-32 0-64 0 7 0-32 1 14 0 69 0-86 0-98 0 175 0-68 0-84 0 13 0 5 0-3 0 55 0 82 0-73 0-59 0-93 0 186 0 56 0-32 0-209 1 198 0-97 0 75 0-32 0 16 0 23 0-2 0-25 0-35 0 55 0-6 0-65 0-72 0 12 1 57 0 80 0-7 0-88 0 19 0 70 0-94 0 31 0 101 0-90 0-71 0 101 0-19 0-34 0 41 0 39 0-99 1 91 0-176 0 200 0 20 0-67 0-41 0-49 0 136 1-100 0 114 0 2 0-89 0 84 0-50 0-50 0 31 0-149 0 81 0-38 0 108 0-15 0 0 1-10 0-136 0 172 0-8 0-55 0 44 0 88 0-23 0-50 1 20 0 66 0-101 0-94 0 81 0-5 0 0 0 47 0 50 0 30 0-60 0-9 0-29 0 49 1-46 0 47 0-60 0 5 0-24 0 3 0 15 0-62 0 167 0-63 0-56 0 32 0 57 1 11 0-33 0-101 0 93 0-48 0 44 0-183 0 217 0-129 0 0 0 143 0-109 0 118 0-144 0 74 0-9 1-10 0-42 0 74 0-33 0 106 0-73 0-78 0 3 0 207 0-202 0 19 0-26 0 105 0-7 0-7 0 38 0-72 0 120 1-179 0 101 0 47 0-101 0-64 0 92 0-37 0 39 0 85 0-94 0 7 1 111 0-138 0-98 0 191 0-35 0-78 0 117 0-27 0 13 1 47 0-228 0 57 0 77 0 62 0-150 0-121 0 280 0-177 0-51 0 196 0-97 0 83 0-58 0 34 0-23 1 45 0 22 0-21 0-25 0-65 0 22 0 85 0-52 0-111 0 42 1-3 0 62 0 63 0-153 0 62 0 84 0-45 0 100 0-167 0 85 0-6 0 50 0-130 0 23 0-4 0 68 0-66 0 50 1-57 0 64 0 11 0 38 0-97 0 86 0-93 0 95 0-121 0 16 0-10 0 124 0 22 0-110 0 14 0-69 0 158 0-44 0-68 0 59 1 69 0-94 0-80 0 108 0 18 0-20 0-26 0 41 0-30 0-113 0 257 0-207 0-1 1 82 0 16 0-14 0-34 1 63 0-26 0-83 0-93 0 180 0-86 0 20 0-29 0 31 0-147 0 139 0 8 0 62 0-178 0 148 1-10 0-43 0-45 0 63 0 6 0 23 0-41 1-35 0 115 0-23 0-99 0 35 0 9 0 47 0-91 0 4 0 142 0 57 0-92 0-20 0-15 0-5 0 95 1-14 0 0 0-157 0 170 0-11 0-130 0-56 0 101 0 47 0-16 0-65 1 81 0-20 0 32 0 28 0-88 0 103 0-109 0 80 1-12 0 2 0-75 0 7 0 1 0-30 0 35 0-8 0 69 0-8 0-63 0 19 0 100 0-174 0-66 1 84 0 77 0-18 0 117 0-62 0-74 0 136 0-256 0 188 0-103 0-54 0 144 1-30 0 50 0-32 0 39 0-145 0-3 0 5 0 23 0 3 0-59 0 125 0 13 0-10 1-56 0 33 0-12 0 74 0-79 0-26 0-7 0 30 0 97 0-40 0-112 0 71 1-9 0 78 0-54 0 51 0-15 0-27 0-11 0 10 0-36 0-68 0 95 1-18 0 43 0-49 0-12 0-38 0-44 0 159 0 37 0-21 0-119 0-35 0 127 0-58 0-35 0-32 0 35 0 55 0-51 0 38 1 106 0-70 0 20 0-155 0 164 0-39 0 23 0-77 0 119 0-116 0 11 0-107 0 72 0-13 0 69 0-44 0 18 1 52 0-48 0 24 0-53 0 52 0-7 0 15 0-31 0 49 0-38 0 11 0 48 0-55 1 35 0-102 0 90 0 67 0-181 0 129 0 42 0-8 0 8 0-57 0 65 0-195 1 127 0 73 0-62 0 6 0-76 0 52 0 100 0 32 0-62 0-113 0 21 0-4 0-8 1 30 0-96 0 64 0 112 0-131 0 82 0-17 0-37 0-162 0 143 0 45 0-53 1 76 0-5 0-96 0 79 0-70 0-123 0 113 0 108 0-26 0-37 0-37 0 9 1 52 0-52 0 83 0-131 0 31 0 88 0-149 0 229 0-48 0-106 0 108 0-7 0-19 0-58 0 73 0-39 0-116 0 58 1 274 0-225 0 173 0-171 0-11 0 111 0-156 0-96 0 249 1-121 0 100 0-80 0-16 0 105 0-21 0-43 0-107 0 120 0-91 0 114 0-170 0 167 0-99 0 26 0 34 0 143 0-79 1-57 0-28 0-16 0 55 0 35 0-32 0 38 0-208 0 114 0 87 0-45 1 41 0-133 0 160 0-72 0 109 0-18 0 30 0-178 0-122 0 217 0-69 0 88 0-49 0-38 0 84 0-69 1 59 0-77 0 36 0-58 0 128 0-160 0 60 0 65 0-74 0 53 0-106 0 78 0 38 0 3 1-45 0-123 0 220 0-17 0-41 0 51 0-38 0 17 0-32 0-28 0 59 0-88 0-37 0 144 1-70 0-7 0-84 0 122 0-34 0 119 0-172 0 80 0 31 0-104 0 124 0-78 0 71 1-74 0-27 0 93 0 39 0-239 0 125 0-32 0 173 0-143 0 22 0-12 0 12 0-69 0 152 0-149 1 28 0 64 0-99 0 118 0-155 0 61 0 48 0-4 0-22 0-93 0 202 0-136 0 129 0-89 1 18 0-34 0-87 0 109 0-18 0-1 0-60 0 118 0-46 1-23 0-38 0-44 0 192 0-4 0-151 0 24 0 115 0-98 0-51 0 162 0-47 0-30 0-116 0 106 1-53 0 50 0-6 0 96 0-169 0 166 0-149 0 47 0-35 0 2 1-24 0 118 0-89 0 31 0 55 0-139 0 115 0 21 0-32 0-52 0 161 0-98 0-6 0 21 0-55 0 47 1-167 0 190 0-52 0 92 0-77 0 80 0-8 0-119 0-102 1 158 0 56 0-81 0-111 0 124 0 18 0-17 0-72 0 61 0-54 0 65 0-95 0 157 0-112 0 24 0 14 0 42 0-180 1 135 0 7 0 19 0 9 0 6 0-95 0 67 0 10 0-96 0 41 0 23 0 17 0 13 0 58 0-173 0-16 0 86 0-18 0 60 0 9 0-85 1 163 0-77 0-19 0-53 0 67 0 74 0-77 0 93 0 12 0-184 0-100 0 134 0-16 0 35 0 79 0-87 1 159 0-214 0 69 0 21 0 34 0-197 0 169 0-137 0 171 0 59 0-174 0 13 0-132 0 138 0 46 0 32 0-31 1-43 0 122 0-134 0 100 0-29 0-74 0 72 0-7 0 47 0-77 0 21 0-57 0 166 0-159 1-59 0 66 0-6 0 45 0 2 0 87 0-115 0 34 0 36 0 34 0-73 0 45 0-71 0 88 0-42 0-164 0 178 0-68 0 4 0 80 1-19 0-61 0 15 0 110 0 21 0-210 0 163 0-21 0-61 0 57 0 0 0-134 1 91 0-5 0-19 0 26 0 30 0 7 0-29 0-105 0 131 0 48 0 24 0-45 0-125 0 81 0 11 0-24 0-12 1-68 0 89 0-116 0 138 0-133 0 54 0 21 0-1 0 34 0-5 0-47 0 23 0 37 0-32 0 16 0-61 0 94 0-46 1-58 0 77 0-53 0-124 0 82 0 87 0 71 0-206 0 145 0 121 0-94 0 19 1-36 0-57 0 71 0-101 0 31 0-25 0 127 0-14 0 30 0-135 0 7 0-45 0 83 1-111 0 67 0 62 0 7 0 46 0-81 0-116 0 85 0 43 0 37 0-189 0 180 0-25 1-47 0 68 0-24 0 14 0-169 0 159 0-35 0-125 0 153 0 18 0-19 1 30 0 42 0-38 0 49 0-245 0 93 0 125 0 50 0-109 0-36 0 135 0-72 0 5 0-16 0 9 0-174 0 255 0-135 1 215 0-214 0 122 0-129 0 38 0 50 0 18 0-108 0 19 0-120 0 56 1 76 0 5 0 5 0 59 0-62 0 81 0-79 0-46 0-35 0-47 0 208 0-2 0-38 0-103 0 25 0 105 0-212 0 38 0 151 0 18 0-193 1 115 0 66 0-132 0 74 0-116 0 118 0 11 0 48 0-136 0 106 0-16 0-30 0-53 0 171 0-209 0 145 1-87"/></g>
<g filter="url(#bl)">
<path class="v" d="M74.9 578.6V784.3M102.2 578.6V784.3M123.5 578.6V784.3M142.2 578.6V784.3M163.8 578.6V784.3M182.1 578.6V784.3M200 578.6V784.3M205.8 578.6V784.3M222.1 578.6V784.3M237.2 578.6V784.3M245.9 578.6V784.3M254.4 578.6V784.3M260.9 578.6V784.3M274.4 578.6V784.3M285.6 578.6V784.3M287.1 578.6V784.3M295.6 578.6V784.3M302.3 578.6V784.3M308.4 578.6V784.3M316.7 578.6V784.3M321.1 578.6V784.3"/>
<path class="v" d="M55.6 681.5H332.1"/>
<path class="o" style="stroke-width:2.7" d="M57.2 681.5H71.5M73.1 680.1H74.5M76.1 679.9H101.8M103.4 679.9H123.1M124.7 679.9H141.8M143.4 679.7H161.2M162.8 681.5H163.4M165 681.5H181.7M183.3 681.5H199.6M201.2 678.7H205.4M207 680.1H221.7M223.3 682.3H236.8M238.4 679.1H240.7M242.3 682.1H245.5M247.1 682.8H254M255.6 682.8H260.5M262.1 680.1H274M275.6 681.5H285.2M286.8 681.5H286.7M288.3 683.2H295.2M296.8 678.7H301.9M303.5 682.8H308M309.6 679.4H316.3M317.9 683.5H320.7M322.3 680.1H330.5"/>
<path class="o" style="stroke-width:2.4000000000000004" d="M243.3 739h.3M298.1 702.4h.3M328.5 669.8h.3M328.5 710.6h.3M321.7 758.2h.3"/>
<rect class="f" x="55.6" y="578.6" width="276.5" height="205.7"/>
<path class="k" d="M55.6 578.6V784.3"/>
<path class="k" d="M52.8 578.6h2.8M52.8 612.9h2.8M52.8 647.2h2.8M52.8 681.5h2.8M52.8 715.7h2.8M52.8 750h2.8M52.8 784.3h2.8"/>
</g>
<g filter="url(#bt)"><text class="t" x="49.2" y="581.1">1.5</text><text class="t" x="49.2" y="615.4">1.0</text><text class="t" x="49.2" y="649.7">0.5</text><text class="t" x="49.2" y="684">0.0</text><text class="t" x="49.2" y="718.2">−0.5</text><text class="t" x="49.2" y="752.5">−1.0</text><text class="t" x="49.2" y="786.8">−1.5</text><text class="x" transform="translate(64.1 795.7) rotate(-60)" y="2">chr1</text><text class="x" transform="translate(87.6 795.7) rotate(-60)" y="2">chr2</text><text class="x" transform="translate(111.9 795.7) rotate(-60)" y="2">chr3</text><text class="x" transform="translate(131.9 795.7) rotate(-60)" y="2">chr4</text><text class="x" transform="translate(152.1 795.7) rotate(-60)" y="2">chr5</text><text class="x" transform="translate(172 795.7) rotate(-60)" y="2">chr6</text><text class="x" transform="translate(190.2 795.7) rotate(-60)" y="2">chr7</text><text class="x" transform="translate(202 795.7) rotate(-60)" y="2">chr8</text><text class="x" transform="translate(213 795.7) rotate(-60)" y="2">chr9</text><text class="x" transform="translate(228.7 797.3) rotate(-60)" y="2">chr10</text><text class="x" transform="translate(240.6 797.3) rotate(-60)" y="2">chr11</text><text class="x" transform="translate(249.2 797.3) rotate(-60)" y="2">chr12</text><text class="x" transform="translate(256.8 797.3) rotate(-60)" y="2">chr13</text><text class="x" transform="translate(266.8 797.3) rotate(-60)" y="2">chr14</text><text class="x" transform="translate(279.1 797.3) rotate(-60)" y="2">chr15</text><text class="x" transform="translate(285.5 797.3) rotate(-60)" y="2">chr16</text><text class="x" transform="translate(290.5 797.3) rotate(-60)" y="2">chr17</text><text class="x" transform="translate(298.1 797.3) rotate(-60)" y="2">chr18</text><text class="x" transform="translate(304.5 797.3) rotate(-60)" y="2">chr19</text><text class="x" transform="translate(311.7 797.3) rotate(-60)" y="2">chr20</text><text class="x" transform="translate(318 797.3) rotate(-60)" y="2">chr22</text><text class="x" transform="translate(325.5 796) rotate(-60)" y="2">chrX</text><text class="yl" transform="translate(29 686.9) rotate(-90)">Copy ratio (log2)</text><text class="lt" x="1.9" y="560.8">c</text><text class="tt" x="51.6" y="557">Ctrl</text></g></g>
<g><linearGradient id="gCR" x1="0" y1="0" x2="0" y2="1"><stop offset="0.000" stop-color="#585858" stop-opacity="0.001"/><stop offset="0.036" stop-color="#585858" stop-opacity="0.001"/><stop offset="0.071" stop-color="#585858" stop-opacity="0.002"/><stop offset="0.107" stop-color="#585858" stop-opacity="0.004"/><stop offset="0.143" stop-color="#585858" stop-opacity="0.007"/><stop offset="0.179" stop-color="#585858" stop-opacity="0.012"/><stop offset="0.214" stop-color="#585858" stop-opacity="0.023"/><stop offset="0.250" stop-color="#585858" stop-opacity="0.045"/><stop offset="0.286" stop-color="#585858" stop-opacity="0.091"/><stop offset="0.321" stop-color="#585858" stop-opacity="0.174"/><stop offset="0.357" stop-color="#585858" stop-opacity="0.301"/><stop offset="0.393" stop-color="#585858" stop-opacity="0.453"/><stop offset="0.429" stop-color="#585858" stop-opacity="0.589"/><stop offset="0.464" stop-color="#585858" stop-opacity="0.677"/><stop offset="0.500" stop-color="#585858" stop-opacity="0.707"/><stop offset="0.536" stop-color="#585858" stop-opacity="0.679"/><stop offset="0.571" stop-color="#585858" stop-opacity="0.595"/><stop offset="0.607" stop-color="#585858" stop-opacity="0.463"/><stop offset="0.643" stop-color="#585858" stop-opacity="0.314"/><stop offset="0.679" stop-color="#585858" stop-opacity="0.187"/><stop offset="0.714" stop-color="#585858" stop-opacity="0.102"/><stop offset="0.750" stop-color="#585858" stop-opacity="0.054"/><stop offset="0.786" stop-color="#585858" stop-opacity="0.029"/><stop offset="0.821" stop-color="#585858" stop-opacity="0.016"/><stop offset="0.857" stop-color="#585858" stop-opacity="0.010"/><stop offset="0.893" stop-color="#585858" stop-opacity="0.006"/><stop offset="0.929" stop-color="#585858" stop-opacity="0.003"/><stop offset="0.964" stop-color="#585858" stop-opacity="0.002"/><stop offset="1.000" stop-color="#585858" stop-opacity="0.001"/></linearGradient>
<clipPath id="cCR"><rect x="403.3" y="580.3" width="276.5" height="205.3"/></clipPath>
<g clip-path="url(#cCR)" fill="url(#gCR)">
<rect x="403.3" y="640.5" width="14.9" height="85"/>
<rect x="420.4" y="639.1" width="2.4" height="85"/>
<rect x="422.8" y="639.1" width="27.5" height="85"/>
<rect x="450.3" y="638.4" width="21.5" height="85"/>
<rect x="471.8" y="639.4" width="18.5" height="85"/>
<rect x="490.3" y="639.1" width="21.5" height="85"/>
<rect x="511.8" y="641.1" width="18.5" height="85"/>
<rect x="530.3" y="639.1" width="4.5" height="85"/>
<rect x="534.8" y="640.5" width="13.5" height="85"/>
<rect x="548.3" y="640.5" width="5.5" height="85"/>
<rect x="553.8" y="640.5" width="5.7" height="85"/>
<rect x="561.6" y="640.5" width="8.7" height="85"/>
<rect x="570.3" y="640.5" width="15" height="85"/>
<rect x="585.3" y="637.7" width="3.5" height="85"/>
<rect x="588.8" y="641.1" width="5" height="85"/>
<rect x="593.8" y="641.1" width="8.5" height="85"/>
<rect x="602.3" y="640.1" width="6.5" height="85"/>
<rect x="608.8" y="640.5" width="13.5" height="85"/>
<rect x="622.3" y="640.5" width="11.5" height="85"/>
<rect x="633.8" y="640.5" width="1.5" height="85"/>
<rect x="635.3" y="642.5" width="8.5" height="85"/>
<rect x="643.8" y="639.8" width="6.5" height="85"/>
<rect x="650.3" y="639.4" width="6" height="85"/>
<rect x="656.3" y="637.7" width="8.5" height="85"/>
<rect x="664.8" y="643.2" width="4.5" height="85"/>
<rect x="669.3" y="689.1" width="10.5" height="123.2" fill-opacity="0.57"/>
</g>
<g filter="url(#bp)" transform="scale(.5)"><path class="p" d="M807 1376l0-29 0 20 1-15 0 30 0-37 0 10 0 15 0-12 0 11 0 12 0 5 0-22 0-5 0 1 0 3 0 27 0-15 0-21 1 8 0-20 0 20 0 2 0-28 0 43 0 0 0-16 0 14 0-5 0-35 0 34 1-34 0 30 0-14 0 10 0 18 0-18 0 3 0 15 1-22 0 0 0 22 0-30 0-19 0 39 0 12 0-16 0 1 0-5 0 21 0 3 0-27 1 8 0-12 0 10 0 21 0-10 0-11 0-10 0 22 0-12 0-2 1 6 0-6 0 10 0 11 0 6 0-33 0 36 1-24 0-3 0-7 0 14 0 10 0-26 0-26 0 36 0 21 0-18 0 4 0 18 0-7 1 14 0-32 0-9 0 12 0-14 0 38 0-7 0-39 0 40 0-46 0 27 0 12 0 1 0-8 0-19 0 20 1-12 0-13 0 23 0 2 0-20 0 28 0-18 0-26 0 25 1 24 0-46 0 14 0-11 0 25 0 0 0 11 0 1 0-9 0-20 0 28 0-20 0-7 0 16 0-19 0 16 0-3 0-28 1 10 0 39 0-26 0 12 0 17 0-6 0-29 0 16 0 13 0-15 0-17 0 23 1-19 0 10 0-16 0-4 0 52 0-11 0-33 0 36 0-27 0 18 0-3 0-9 1-10 0 22 0-15 0-5 0-14 0 19 0 11 0-20 0 11 0 7 1-25 0 21 0 2 0-10 0 22 0-29 0 20 0-5 0-7 0-17 0 40 0-50 1 45 0 13 0-5 0-40 0 1 0 2 0 16 0-1 0-6 1-1 0 28 0-20 0 31 0-53 0 44 0-23 0 4 0 16 1-14 0 17 0-27 0 5 0 6 0-2 0 1 0 14 0-22 0-10 1 8 0-18 0-2 0 55 0-44 0-14 0 10 0 23 0-17 0 9 0 17 0-13 0-22 0 36 0-25 0 30 0 0 1-36 0 7 0-8 0 10 0 25 0-40 0 17 0 2 0 13 0-10 0 16 1 7 0-37 0 24 0-14 0 11 0-7 0 14 0-41 0 41 1 5 0-14 0-8 0-2 0-7 0 40 0-27 0-33 0 41 0-11 0-8 0-2 1-4 0 22 0-10 0-4 0 23 0-38 0 10 0 12 0 17 0-3 1-45 0 23 0-10 0 16 0 11 0-24 0-9 0 47 0-21 0-11 0-23 1 12 0 16 0-15 0 18 0 15 0-15 0-1 0-30 1 42 0 4 0-17 0 13 0-17 0 9 0-3 0-3 0 11 0-15 0 26 0-36 1 39 0-55 0 28 0 5 0 21 0-4 0-11 0 1 0-27 0 48 1-1 0-48 0 19 0 18 0-35 0 39 0-13 0-5 0-19 0 19 1 15 0-21 0 37 0-50 0 15 0-17 0 20 0-5 0 16 0 11 0-9 1-40 0 34 0-19 0-19 0 9 3 35 1-35 1 16 0-12 0 25 0 19 0-24 0 11 0 11 1-40 0 23 0-23 0 37 0-41 0 25 0-32 0 2 0 32 0 6 1-22 0 16 0-23 0 24 0 2 0-6 0 10 0-26 0-5 0 35 0-42 0 44 0-45 0 9 1 6 0 7 0-5 0-6 0 30 0-16 0-2 0-14 0 1 0-7 0 22 0-18 0 21 0-3 0-31 1 6 0 24 0 1 0-30 0 24 0 34 0-23 0-20 0 16 0-20 1 18 0-6 0 6 0-2 0 12 0-47 0 30 1 10 0 2 0-19 0-2 0 31 0-45 0 40 0 0 0-6 0 15 0-39 0 31 0 14 0-2 1-35 0-7 0 10 0 22 0-28 0 5 0 1 0-5 0-4 0 1 0 29 1-5 0-4 0-23 0 9 0 34 0-44 0 22 0-5 0 33 0-42 0 13 1 4 0-3 0-5 0-13 0-9 0 53 0-36 0-3 0 12 1-18 0 6 0 13 0-28 0 28 0 6 0-9 0 5 0-1 0-15 0-3 0-21 0 36 0-21 1 1 0 8 0 20 0 2 0 12 0 1 0-5 0-7 1-23 0 13 0 23 0-32 0 14 0-26 0 38 0-4 0-21 0-8 0 5 1 19 0-38 0 38 0-11 0-2 0-4 0-17 0-1 0 0 1 14 0 1 0 16 0-7 0 17 0 10 0-26 0 34 0-23 0-11 0 22 1-32 0 24 0-1 0 16 0-15 0-23 0 6 0 1 0 20 0-27 0-8 0 23 0-12 0 6 1-1 0 17 0-3 0-2 0-6 0-20 0 12 0-9 0-7 0 31 0-14 0-12 1 19 0-25 0 47 0-26 0-6 0 11 0 15 0-4 0-26 0 3 0-18 1 22 0 14 0-27 0 9 0-11 1 7 0 22 0 0 0-44 0 35 0 6 0-11 0 8 0 14 0-19 0-12 0-20 0 27 0-14 1 11 0 8 0-13 0-3 0-6 0 27 0-29 0 40 0-3 0 16 0-49 0 33 0-37 0 33 0-29 0 24 1-17 0 6 0 7 0-3 0-3 0-11 0 34 0-10 1-17 0-19 0 35 0-6 0-14 0 14 0-3 0 21 0 11 0-44 0 6 0 9 0-32 1 14 0 11 0-1 0 11 0-5 0-9 0-8 0-8 0 8 0 26 0-16 0-17 1 8 0 21 0-8 0 36 0-21 0 18 0-50 0 32 0-33 0 31 0-7 1 17 0-11 0 1 0 19 0-15 0-17 0 5 0-12 0 28 0-46 0 30 0 0 0-11 0 26 1-19 0 5 0 0 0 8 0-13 0-10 0 17 0-14 0-10 0 12 0 12 0 23 0-27 1-32 0 28 0-16 0-12 0 27 0 12 0-10 0 20 0-30 0-1 0 31 0-47 0 46 0-38 0 8 0 11 0 3 0 10 1-2 0-30 0 0 0 21 0 21 0-33 0 22 0-15 0 6 0-35 0 62 0-40 0 2 0 14 0-29 1 44 0 13 0-29 0-11 0 6 0-21 1 23 0-5 0 19 0-36 0-5 0 33 0-15 0 12 0-15 0 21 0 6 0 8 0-7 0-27 0-3 0 15 1 6 0 7 0-6 0 4 0-5 0-16 0-12 0 38 0 8 1-26 0 25 0-5 0-15 0 15 0-49 0 22 0-1 0 1 0 39 1-44 0-2 0 18 0-10 0-23 0 52 0-27 0-8 0 27 0-32 0 23 0-4 0-5 1-17 0 54 0-26 0-18 0-12 0 16 0 14 0-3 0-4 0-9 0 33 0-4 0-14 0 0 1 4 0 0 0-23 0 20 0-25 0-5 0-3 0-6 0 47 0-8 0-8 1-6 0 18 0-13 0-2 0 11 0-5 0 15 0-18 0 8 0-14 1-23 0 47 0-24 0-9 0 37 0-4 0-18 0 14 0 6 0-33 0-4 0 27 1 10 0-36 0 8 0 36 0-25 0-31 1 28 0 12 0-31 0 25 0 7 0-31 0 37 0-33 0 48 0-18 1-11 0-13 0-5 0-5 0 12 0 4 0-22 0 14 0 27 0-17 0 14 0-25 0 8 1 4 0 1 0-24 0 11 0 21 0-1 0 19 0-55 0 8 1-8 0 38 0-14 0 3 0-9 0 0 0-7 0 38 0-40 0 46 0-56 0 16 1 26 0-38 0 31 0-26 0-11 0 14 0 16 0 7 0 20 0-11 0-3 0-26 0 0 1 19 0 16 0-17 0 23 0-14 0-3 0-23 0 20 1-35 0 13 0 40 0 7 0-37 0 7 0-3 0-5 0 12 0 5 0-16 0-11 0 13 0 37 0-34 0 25 0-26 0-14 0 26 0-17 0-26 0 43 1-29 0 36 0-27 0 7 0-10 0 16 0 7 0-19 0 11 0 2 0-4 0-26 0 28 0-6 0 22 0-53 0 23 1 14 0 6 0 6 0-19 0 7 0-29 0 8 0 3 0-2 1 10 0 5 0 5 0-18 0 35 0-47 0 49 0-20 0-15 0 7 1-3 0 22 0 3 0 6 0-8 0-42 0 46 0-32 0 46 0-66 0 46 1-12 0 11 0-24 0 44 0-55 0 14 0 16 0-16 0-22 0 30 0 33 0-38 0 17 1-29 0 48 0-30 0-33 0 13 0 13 0 3 0-11 0 37 0-31 0 19 0-25 0 18 0-1 1-9 0 12 0-14 0 13 0-5 0-11 0 10 0-27 0 24 0 7 0 9 0-18 1-8 0 22 0-22 0 12 0 4 0 11 0 11 0-22 0 4 0 2 0-22 0 12 1 9 0-27 0 30 0 6 0-11 0 10 0-19 0-15 1 19 0-12 0 16 0 17 0-4 1-16 0 6 0-7 0 22 0-31 0-3 0 22 0 3 0-13 0 7 0 11 0-13 1-1 0 2 0 9 0-5 0-5 0 10 0 8 0 1 0-40 1 34 0-15 0 4 0-26 0 23 0-5 0 1 0 20 1-21 0-31 0 35 0-10 0 1 0 15 0 15 0-19 0 30 0-25 0-3 0-7 0 1 0-31 1 29 0 4 0-29 0 34 0-38 0 26 0-27 0 29 1 0 0-20 0 34 0-11 0 3 0 14 0 4 0 5 0-38 0 18 0-3 0-15 1 29 0-5 0-7 0-4 0-27 0 33 0-8 0 28 0-37 0 23 0-11 0-19 0 16 0-4 1-2 0 5 0 4 0-27 0 26 0 4 0 16 0 3 0-39 0 15 1 22 0 10 0-41 0-10 0 33 0-14 0-8 0-21 0 39 0-11 1 4 0 6 0-28 0 5 0 8 0-17 0 15 0 39 0-6 0-28 0 24 1-45 0 50 0-35 0 13 0-34 0 42 1-29 0-4 0 22 0 16 0 14 0-57 0 28 0-4 0 19 1-16 0-6 0 39 0-69 0 15 0 31 0-34 0 21 0 19 0-51 0 22 0 5 0-2 0 13 1-14 0 9 0 10 0-13 0-12 0-16 0 42 0 6 0-23 0 16 0-17 0 17 0 2 1-37 0 24 0 19 0-32 0 13 0-16 0 2 0 5 0-15 0 29 0 0 0 30 0-45 0 31 0-21 1 5 0-8 0-5 0-1 0-19 1 16 0 9 0 13 0 2 0-30 0 13 0 3 0 12 0-42 0 14 0 52 1-17 0-30 0 31 0-43 0 27 0-6 1 28 0-21 0-1 0 17 0-5 0-21 0 29 0-5 0 8 1-35 0 3 0-1 0 19 1-24 0 23 0-7 0 0 0-26 0 9 0 14 0 14 1-45 0 4 0 21 0 8 0-17 0 32 0-9 0 5 1 16 0-15 0-20 0 5 0 12 0-22 0 30 0 6 0-50 1 38 0 4 0 12 0-4 0-47 0 28 0-20 0 44 0-11 0-18 0 22 0-35 0 3 1 33 0-11 0-3 0 19 0-35 0 9 0 22 0-8 0-22 0 27 0-29 0 9 0 21 0-28 0 20 0 10 1 9 0-42 0 19 0-10 0 15 0-28 0 32 0-9 0-32 0 33 0-36 0 46 0-39 0 53 1-36 0 15 0-21 0 19 0 6 0-8 0-20 0 2 0 10 0 11 0-27 0 33 0-42 0 32 1-33 0 18 0 13 0 14 0-37 0-6 0 18 0 21 0-24 1 20 0 4 0 8 0-51 0 24 1 17 0-10 0 30 0-35 0 16 0-37 0 25 0-16 1 6 0 0 0 39 0-20 0-45 0 24 0-11 0 6 0 28 1-49 0 25 0-12 0 17 0-8 0 18 0 3 0-9 0-21 0 6 0 9 0 8 0-28 0 13 0 11 0-28 1 36 0 20 0-18 0-3 0-29 0 19 0 14 0-6 0-5 0-4 1 32 0-34 0-18 0 37 0-6 0-7 1-12 0 15 0-6 0 15 0 5 0-18 0 5 0-12 0 25 0-22 0-12 0 29 1-40 0 31 0 20 0-32 0 37 0-44 0 16 0-18 0 34 0 9 0-17 0-32 0 38 0-28 1 34 0-16 0 6 0-16 0 26 0-16 0 10 0-21 0 18 0 20 0-41 0 29 0-33 0 24 0-37 0 35 1-28 0 9 0 23 0-26 0-3 0 19 0 3 0 13 0-4 0 4 0-3 0-21 0 11 0 5 0-5 0 7 0-34 0 16 1-8 0-7 0 6 0-5 0 49 0-13 0-34 0 15 0-24 0 28 1 21 0-29 0-20 0 8 0 29 1 14 0-32 0 15 0-38 0 42 0 1 0-19 0 11 0-18 0 6 0 10 1 6 0-11 0-17 0 40 0-24 0-3 0 5 0 5 0-21 1 15 0 11 0 20 0-19 0-17 0 44 0-19 0 10 1-13 0-13 0 4 0 10 0-9 0 3 0-14 0 22 0 10 0-28 0-1 0 31 0-45 0 41 1-11 0-2 0-29 0 6 0 6 0-7 1 20 0-13 0 7 0-8 0-17 0 14 0 13 0 1 0-9 0 16 0-25 0-9 1 17 0 18 0 3 0-43 0 50 0-36 0 15 0-5 0 33 0-6 1-7 0 2 0-13 0 6 0 5 0-38 0 29 1 6 0 13 0-14 0-33 0 32 0 4 0 8 0-23 1 3 0-21 0 25 0 9 0-21 0 0 0 25 1-2 0-12 0-37 0 18 0 29 0 2 0-8 0-3 0-7 0-10 0 16 1-33 0 54 0-17 0 1 0-14 0 18 0-19 0 34 0-34 1 15 0 12 0 12 0-36 0-7 0 29 0-17 0 19 1 0 0-21 0-4 0-8 0 27 0-6 0 10 0-42 0 50 0-59 1 34 0 21 0-17 0 12 0 4 0-19 0 14 0-13 0 0 0-1 1-11 0 30 0-28 0 22 0-46 0 55 0-22 0-22 1 31 0-24 0 15 0-17 0 7 0 7 0-22 0 44 0-44 1 12 0 19 0-7 0-25 0 30 0 21 0-7 0-18 0-27 0 26 0 1 0 6 0-10 0 4 1 14 0-27 0 16 0-38 0 42 0 8 0-8 0-16 0 25 0-20 0 6 1 21 0-48 0 52 0-33 0 0 0 9 0 26 0-37 0 13 1 7 0 8 0-39 0-14 0 53 0-41 0 10 0 10 1-29 0 15 0 22 0-16 0 0 0-6 0 40 0-25 0-11 1 10 0-4 0 5 0-19 0 36 0-9 0 8 0-5 1 14 0-42 0 34 0-16 0 4 0 23 0-16 0-37 0 4 1 14 0 3 0-4 0-27 0 21 0 10 0 4 0 31 0-30 0-28 0 45 0-20 1-1 0-29 0 29 0-12 0 22 0-7 0-5 0 18 1-6 0 6 0-6 0 10 0-7 0-33 0 9 0-14 0 36 0 2 0-40 1 44 0-18 0 24 0-43 0 1 0 25 0 10 0 1 1-16 0 24 0-2 0-42 0 22 0-30 0 55 0-37 0-19 0 55 0-36 0 19 0-22 1 17 0-11 0 38 0-59 0 34 0-1 0-6 0 21 0-28 1 31 0-52 0 47 0 11 0-9 0-13 0-33 0 49 0-33 0-16 0 20 1 3 0-21 0 29 0 23 0-13 0-6 0 22 0-11 1-29 0-12 0 20 0-15 0 12 0-2 0 5 0-6 0 0 1 27 0-20 0 9 0-32 0 28 0-13 0-3 0 29 0-52 0 42 0 26 0-37 0-13 1 21 0-8 0-16 0 16 0 12 0-37 0 30 0 8 0 5 0 3 0-51 0 29 1-15 0-12 0 18 0-15 0 24 0 8 0 18 0-38 0-3 1 8 0-19 0 35 0-2 0-23 0 35 0-10 0-28 0 9 0 39 1-3 0-1 0-18 0 2 0 10 0 0 0 10 0-14 0-25 0 15 0-26 0 32 0 25 1-17 0-32 0 6 0 17 0 9 0-47 0 11 0 18 0 21 0-47 0 48 0-44 1 53 0-30 0 6 0-13 0 8 0 7 0 6 1-43 0 43 0-3 0 9 0-2 0-14 0 17 0-13 1-2 0-33 0 23 0 1 0 20 0-23 0 42 1-43 0 11 0 30 0-3 0-45 0 19 0 4 0-2 1-32 0 21 0-13 0 19 0 16 0-2 0-17 0 30 0-32 1 18 0 2 0-15 0 12 0-7 0 11 0-3 1-7 0-13 0 4 0 12 0-33 0 42 0-40 0-2 0 49 0-22 1 20 0-21 0-11 0 26 0 2 0-41 0 28 0-13 1 22 0-22 0 0 0 20 0-30 0 9 0 9 0-19 0-15 0 43 0 10 0-11 0-8 0-18 1-12 0 0 0 7 0 20 0 12 0 10 0-23 0 2 0-2 0 21 0-7 0-30 0 28 1-24 0 21 0-15 0-8 0 0 0 10 0 22 0-15 0-4 0-13 1 37 0-23 0-19 0 19 0-13 0 37 0-26 0-2 0-2 0 27 0-32 0 18 0-19 0 17 0-3 1 13 0-21 0 0 0 32 0-23 0 20 0-13 0-22 0 18 1-9 0 17 0-7 0 14 0 0 0-20 0-22 0 27 0 6 0-11 0 11 1-22 0 0 0 15 0 11 0-11 0-2 0-26 0 47 0-23 0-6 0 12 0 28 0-41 1-2 0 18 0-7 0 17 0-14 0 1 0 7 0-33 0 52 0-21 1 2 0-12 0-29 0 40 0 9 0-28 0 17 0-12 0 12 0 14 0-32 1 16 0-3 0-17 0 21 0 4 0-13 0-16 0-2 0 43 0-28 0 27 0-21 0-28 0 34 1-12 0 24 0 0 0-37 0 27 0-17 0-14 0 48 0-29 1 6 0-6 0-8 0-17 0 24 0 12 0-23 0 23 0 14 0-22 0-1 0 6 1-17 0-22 0 24 0 30 0-23 0-9 0 26 0-11 0-13 0 4 1-8 0 14 0-19 0 22 0 0 0-33 0 27 0 21 0-45 0-5 0 57 1-9 0 7 0-18 0-11 0 11 0-1 0 18 0-29 0-7 0-9 0 11 0-9 1 28 0-1 0 6 0-12 0 7 0-35 0 34 0-23 1 1 0 7 0 12 0-15 0 14 0 10 0-2 0-7 0-30 0 41 0 9 0 1 0-41 1-6 0 35 0-20 0-2 0 6 0-5 1-7 0 32 0-32 0-16 0 42 0 10 0-27 1 27 0-20 0 29 0-24 0 18 0-3 0-12 0 7 0 1 0 1 0 0 0-4 0 17 1-29 0-29 0 3 0 0 0 10 0 6 0-3 0-10 0 51 0-21 0 7 0 3 0 3 0 4 0 1 0-52 0 32 0-5 0-26 0 43 1-12 0-21 0-13 0 14 0 2 0 2 0 31 0-46 1 1 0 12 0-18 0 7 0 32 0-6 0-5 0 2 0 19 0-26 0-1 1-2 0-7 0 2 0 28 0-3 0 3 0-21 0 7 0-9 0 28 0-18 1 18 0 0 0-40 0 11 0-12 0 50 0-10 0-12 0 12 0 14 0-36 0-17 0 30 1-7 0-13 0 7 0 5 0 19 0 10 0-17 0-21 0 36 0-13 0-12 0-26 0 45 0-2 1-26 0-18 0 27 0 3 0-21 0 28 0-38 0 4 0 16 0 20 0-6 0-27 0 39 0-28 0 13 0 6 0-17 0 3 1 27 0-17 0 18 0-23 0-13 0 45 0-68 0 33 0-8 0-4 0-7 0-11 0 36 0-2 0 2 0-15 1 39 0-39 0 24 0 0 0-21 0 16 1 2 0-41 0 32 0-5 0-3 0 16 0 20 0-47 0 4 0 32 0-16 1 7 0-5 0 11 0 6 0-23 0 11 0-22 0 8 0-3 0-18 0 22 0-11 0-9 0 26 1 7 0 0 0-11 0 23 0-40 0 0 0 37 0-5 0 7 0-39 1 23 0 22 0-35 0 0 0 28 0-24 0 33 1-2 0-31 0 0 0 10 0 11 0 4 0-17 0 0 0 26 0-26 0-19 0 7 0 25 0 7 0-27 1 21 0-14 0 26 0-40 0-20 0 34 0-12 0 23 0-16 0 1 1 31 0-40 0 11 0-8 0-3 0 1 0-21 0 41 0 2 0-23 1 7 0 32 0-53 0 57 0-29 0-15 0 9 0-5 0 20 0-4 0-22 1-19 0 47 0-36 0 39 0-31 0 32 0-29 0 29 0-25 0 11 1-20 0 33 0-2 0-14 0-16 0 24 0-3 0 7 0-15 0-6 0 5 0-7 0 4 0-18 0 1 1 50 0-32 0 18 0-15 0 3 0-25 0 12 0 23 0-4 0 5 0-18 0 25 1-26 0-23 0 15 0-13 0 23 0 17 0-15 0 8 0-6 0 7 0 21 0-19 0 2 0 5 1-38 0 29 0 26 0-26 0-3 0 5 0-10 0 14 0-12 0-8 1 7 0-6 0 13 0 10 0-6 0 2 0-4 1-8 0-7 0 16 0-7 0 9 0 6 0-13 1 5 0-1 0 21 0-27 0 4 0 8 0 7 0-14 0 20 0 2 0-6 0-49 0 35 0-17 1 0 0-3 0 41 0-11 0-39 0 7 0 27 0 12 0-22 0 11 1-13 0-6 0 5 0-12 0-6 0 10 0 6 0 5 0 7 0-15 1-28 0 17 0 35 0 1 0 14 0-20 0-2 0-11 0 8 0 1 0-15 0-10 0 27 1-27 0 30 0-31 0 29 0-34 0 22 0 18 0-24 0-6 0 26 0-28 0 16 0 15 0-5 1-34 0 34 0-17 0 25 0-43 0 5 0-14 0 30 0-14 1 0 0 0 0-7 0 34 0-35 0 40 0-27 0 27 0-35 0 17 0-19 1 40 0-7 0-4 0 12 0-7 0-15 0-10 0-12 0 41 0-24 0 12 0 13 1-11 0 6 0-12 0 15 0-19 0 26 0-28 0-23 0 31 0-10 1 15 0-15 0 13 0 12 0-21 0 32 0-35 1 6 0-34 0 55 0-44 0 26 0-8 0 0 0-29 0 33 0 5 0-2 0-4 0-6 1 12 0 7 0 7 0-37 0-3 0 12 0 15 0 22 0-45 0 16 0-10 0 14 1-8 0-18 0 14 0 15 0-8 0-18 0 46 0-30 0 6 0-20 0-1 0 28 0-2 1 6 0 0 0-20 0-2 0 2 0-13 0 48 0 4 1-7 0-32 0-1 0-3 0 13 0-17 0 33 0 6 0-31 1 8 0-7 0-16 0 26 0 2 0 13 0-17 0-8 0 30 0-35 0 17 0-33 0 37 0-17 1-1 0 2 0 27 0-7 0-11 0-30 0 41 0-25 0 5 0-12 0 27 0-4 0-26 0-3 1 6 0-16 0 30 0-16 0 18 0 8 0-12 0 31 0-31 0-1 0 2 1-24 0 31 0 22 0-31 0 0 0-12 0 14 0 2 0-15 0 47 0-6 0-10 1-1 0-33 0 25 0 10 0 2 0-5 0-13 0 9 0-20 0 13 1-2 0-20 0 13 0 7 0 1 0-3 0 21 1-46 0 27 0 26 0-3 0-27 0-6 0 47 0-30 0-7 0 26 0-48 0 21 0-16 1 11 0 28 0-23 0 18 0-27 0 43 0-55 0 11 1 1 0 2 0-2 0-13 0 8 0 2 0 30 0-22 0 11 1 3 0 18 0-54 0 46 0-37 0 22 0-14 0 44 1-3 0-10 0-2 0-46 0 39 0 18 0-26 0 9 0-21 0 16 0-9 0 4 0-15 0 22 1-2 0 3 0 17 0-10 0-41 0 34 0-32 0 27 0-26 0 32 0 2 0-12 0 3 1 1 0 5 0-3 0 12 0-24 0 3 0 8 0-7 1 4 0-20 0 10 0-22 0 6 0 14 0 16 0-13 1 29 0-18 0-14 0 0 0 1 0 12 0 14 0-30 0 46 0-21 1-33 0 38 0 1 0-32 0 18 0-10 0-14 0 21 0 1 0 24 1-15 0-8 0-27 0 16 0 22 0-32 0 12 0 4 0 6 0-11 0-8 0 12 1-9 0-5 0 27 0-27 0 11 0 2 0-14 0 21 0 13 0-44 0 33 0 10 0-5 0-12 0 34 0-4 0-32 0 35 1-36 0 13 0 16 0-28 0 2 0-25 1 9 0 44 0-27 0 4 0-19 0 6 0-1 0-18 1 23 0 4 0 19 0-46 0 44 0 11 0-31 0-4 0 9 1-20 0 38 0-16 0-16 0 27 0-30 0 42 0-51 0 41 0-19 0 5 0-12 0-4 1 34 0-17 0-7 0 11 0-4 0 11 1-12 0-39 0 22 0 5 0-23 0 19 0 11 0 9 0-25 0 8 1 15 0-36 0 50 0-31 0 26 0-12 0-3 0 24 0-34 0 25 1-30 0 15 0 5 0-28 0 2 0-10 0 18 0 36 0-29 0 7 0 7 0-32 0 25 1 2 0 27 0-39 0 11 0 14 0 0 0 9 0-47 0 31 0 4 0-40 0 26 0-9 0 23 1-1 0-11 0 22 0-30 0 42 0-2 0-19 0-23 0 10 0 10 0-5 0-1 0 10 1-31 0 50 0-48 0 27 0-18 0 16 0 11 0-4 0-47 0 39 0-35 0 20 0 12 1-22 0 37 0-16 0-3 0 7 0-5 0-27 0 4 1-4 0 39 0 8 0-20 0 0 0-1 0 9 0 5 0-3 0-4 0 23 0-57 0 15 1 26 0-49 0 53 0-17 0 6 0-31 0 17 1-4 0-13 0 14 0 22 0-1 0-16 0 22 0-35 0 18 0 16 0-15 0-3 1-6 0 9 0-12 0 25 0-14 0 33 0-34 0-16 0-13 0 31 0 33 0-33 0-17 0 6 1 10 0 31 0-39 0 29 0-25 0 22 0-27 1 3 0-12 0 26 0-8 0-31 0 15 1 17 0-7 0-28 0 51 0-29 0 24 0 7 0-19 0 1 1 14 0-32 0 5 0-1 0 27 0 14 0-20 0-32 0 41 0-18 0 4 0 4 0 4 0-3 1-42 0 24 0 4 0-6 0 23 0-5 0 17 0-18 0-5 0 29 0-47 0 37 0-46 0 45 0-39 0-9 1 41 0 6 0 4 0 4 0-19 0-26 0-7 1 40 0-26 0 38 0-38 0 20 0-17 0 14 0-2 0 1 1-7 0 11 0 0 0 5 0-46 0 30 0 3 0-4 0 7 1-11 0-5 0-21 0 21 0 17 1-11 0 7 0-3 0 4 0 0 0-8 0 31 0 0 0-45 0 2 0 28 0-15 0-2 0 19 1-19 0 4 0-26 0 31 0-12 0-15 0 30 0-31 0 24 0 35 0-16 1-15 0-20 0 25 0-10 0 9 0-12 0 14 0 13 0-14 0-1 0-4 1 3 0 3 0-40 0 36 0-2 0 1 0 8 0-11 0 0 0 15 0-4 0-10 1-11 0-18 0 10 0 14 0 9 0 6 0-34 0 11 1-6 0 14 0 0 0-12 0-11 0 0 0-3 1 60 0-10 0-1 0 3 0-22 0-8 0 2 1-8 0 23 0 3 0-15 0 0 0 25 0-34 0 29 0-5 0-31 0 12 0 30 0-32 1 27 0-22 0-17 0 6 0 16 0-16 0-2 0-10 0 30 0 17 0-18 0-18 0 11 0 3 1 30 0-37 0 19 0-27 0 39 0-38 0 8 0-10 0 15 0 11 0-17 1 21 0-2 0-1 0 26 0-65 0 50 0-13 0-37 0 30 0 22 0-29 0 33 0-15 0 16 0-15 1-28 0 13 0 23 0-49 0 2 0 50 0-4 0-1 0-20 0 4 0 20 1-33 0 31 0-46 0 53 0-40 0 0 0 36 0-37 0-1 0 11 0 24 0-4 0-25 1 3 0 20 0-23 0-11 0 22 0 19 0 4 0-52 0 42 0-20 0 18 0 1 0-11 1-35 0 44 0-11 0-19 0 28 0 14 0-43 0 6 0 8 0-17 0 16 0 19 0 10 1-20 0-17 0 11 0 24 0-9 0 9 0-10 0-38 0 14 0 28 1 16 0-17 0 3 0-12 0-11 0 26 0-33 0-1 0 28 0-9 0 3 0 7 0-5 0 4 1-12 0 15 0-13 0-7 0-13 0-6 0 5 0 1 0 15 0-33 0 19 0 2 0 20 0-9 0 12 1-14 0 3 0-14 0 32 0-6 0-5 0-23 0 3 0 33 0-16 1 15 0-37 0 7 0 2 0 12 0 11 0 3 0-42 0 38 1 10 0-11 0-16 0 22 0-12 0-10 0 2 0 20 1 0 0 1 0 3 0-17 0-17 0 43 0-37 0 26 0-30 1 6 0 3 0 7 0 1 0 12 0 1 0 16 0-42 0-3 0 6 0-15 0 27 0-2 0-9 0-7 0 44 0-59 1 45 0-19 0-5 0 3 0 31 0-23 0-18 0 23 0-21 1 27 0-31 0 36 0-19 0 3 0 4 0-13 0-11 0 18 1 3 0 15 0-5 0-7 0 0 0-12 1 8 0-17 0 20 0 6 0 20 0-46 0 9 1 8 0 1 0-10 0 7 0-2 0-3 0-17 0-12 1 29 0 20 0-52 0 49 0-18 0 36 0-14 0-14 0-19 0 28 0 0 0-8 1-25 0 16 0 26 0-38 0-2 0 44 0-43 0-4 0 31 0-29 1 51 0-45 0 18 0 2 0-13 0-2 0 14 0-4 0 3 0-30 0 17 1-4 0 1 0 36 0-46 0 27 0 2 0-44 0 21 0 9 0-5 0-12 0 28 0-10 1 20 0-13 0 1 0-4 0 11 0 3 0-20 0-13 0-1 0 20 0 30 0-24 0-7 1-1 0 12 0-9 0-3 0 1 0-3 2-7 3 32 0-37 0 42 0-2 0-11 0-36 0 9 0 32 0-47 0 47 0-45 0 2 0 40 0-44 0 9 1 5 0 3 0 1 0 13 0-9 0 34 0-5 0-41 0 20 0 21 0-20 0-14 0 14 0 23 0-32 1 27 0-17 0-28 0 45 0-5 0-17 0 16 0-32 0-1 0 31 0-26 0 12 1 9 0-2 0-24 0 17 0-21 0 2 0 18 0 0 0-22 0-6 0 1 0-1 0 49 1-25 0 22 0-41 0 43 0-42 0 31 0 12 0-30 0-7 0 52 0-54 0 39 0-16 1-17 0 44 0 1 0-23 0-22 0 12 0-26 0 20 0 15 0-5 0-23 0 40 0-29 0 37 0-15 0-38 0 2 0 15 0 2 0 4 0-4 1 2 0 24 0 11 0-43 0 22 0-5 0-13 0 8 0 23 0-22 1 12 0-8 0 4 0-3 0-19 0-7 0 15 0 3 0 19 0 10 0-24 0 21 0-4 0-37 0 52 0-27 1-18 0-1 0 9 0-22 0 54 0-29 0-19 0 32 0-35 1 29 0-21 0 19 0-13 0 2 0 5 0 33 0-30 0-11 1 25 0-30 0 8 0-8 0 20 0-7 0-12 0 6 0 14 0-4 0-7 0-11 1 29 0-24 0-14 0 17 0 12 0 26 0-48 0 21 0-14 0 20 0-33 0 37 0-20 0-11 1 34 0-20 0 5 0 20 0-21 1 28 0-23 0-17 0 30 0-16 0 12 0-13 0-10 0-25 0 38 0-1 1 21 0-25 0-7 0 1 0 7 0-28 0 21 0 5 1 5 0-8 0 31 0-23 0-9 0-2 0 31 0-27 0-8 0 12 0 0 0 26 1 1 0-8 0-23 0 30 0 5 0-20 0-16 0-5 0 41 0-12 0 14 1-52 0-2 0 52 0-51 0-1 0 10 0-7 0 38 0-18 0-8 1 6 0-27 0 27 0 12 0-28 0 30 0-37 0 8 0 12 0 9 0-15 0 39 0-16 0-14 0 13 1-5 0-11 0 10 0 5 0-27 0 29 0-11 0-30 0 49 0-35 0 39 0-24 1 0 0-11 0-11 0 34 0-19 0-12 0-3 0 47 0-21 0-8 0 13 0-40 0 43 0-18 0 4 0-1 1 15 0-16 0-7 0 23 0-14 0 8 0-8 0-8 0 0 0-12 0 19 0 23 0-44 0 20 0-5 0 24 1-31 0 23 0-26 0 36 0-16 0 26 0 1 0-34 0 9 0-23 0 14 0 25 0-33 0 41 1-12 0-20 0 13 0-12 0 7 0-11 0-3 0-16 0 29 0-6 0 15 0-10 0-3 0-3 0 0 0 6 1-16 0 28 0-6 0-10 0-13 0 19 0 26 0-33 0-20 1 46 0-13 0 15 0-26 0-17 0 17 0 15 0 9 0-55 1 35 0 9 0 0 0 1 0-23 0 34 0-13 0-34 0 21 0-1 0-16 1-8 0 40 0-8 0 4 0-14 0 17 0-15 0 4 0-5 0 15 1-16 0 1 0-13 0 19 0-20 0 12 0 25 0-7 0-24 0-7 0 9 0-19 0 37 0-39 0 52 0-36 1-12 0 12 0 5 0 21 0-11 0-4 0-5 0 8 0 17 0-35 0 22 0 15 0-52 0 59 1-51 0 23 0 3 0 26 0-22 0-27 0 23 0 4 0 10 1-39 0 24 0-3 0-14 0 50 0-24 0-35 0 2 0 8 0 1 0-3 0 13 1 17 0-3 0-22 0-8 0 29 0-44 0 50 0-39 0 22 0-25 0 47 0-4 0-3 0-38 1 22 0-7 0-1 0 4 0-18 0-1 0 22 0 6 0-2 0-10 0-2 0 17 0 4 0-33 1 25 0 15 0-12 0-30 0 9 0 12 0 33 0-12 0-33 0 17 0 22 0-14 1-42 0 39 0-9 0 2 0 9 0-32 0 34 0-4 0-24 0 19 0-3 0-16 0 50 1-64 0 1 0 9 0 7 0 43 0-45 1 14 0-26 0 34 0-11 0-7 0 18 0-12 0-16 0-4 0 12 0 28 0-8 1 1 0 3 0 23 0-22 0-17 0 22 0-17 0 4 0 22 0-39 0 12 1 16 0-32 0 25 0-13 0 19 0-15 1-7 0 10 0-2 0-15 0 20 0 14 0-18 0-12 1-8 0 42 0-13 0 24 0-36 0 19 0-11 0-2 0-29 0 59 0-24 1-22 0 38 0-27 0-13 0 50 0-44 0-8 0 35 0 1 0 2 0-29 0-15 0 39 0-16 0 18 1-48 0 11 0 23 0-11 0 19 0-8 0-29 0 40 0-31 0 6 1 33 0-34 0 16 0 11 0-33 0 15 1 12 0 21 0-59 0 34 0 6 0-16 0-7 0 15 0 21 0-4 1-13 0 26 0-23 0-21 0 26 0 13 0-47 0-7 0 24 0 7 0-3 0 6 0 7 0 16 0-8 0-11 0-27 0 26 0-23 0-14 0 47 1-8 0-7 0-19 0-1 0-21 0-2 0 20 0 32 0 7 0-32 0-9 0 20 0-3 0 28 0-37 0-21 1 14 0 3 0 10 0-20 0 8 0-1 0 33 1-23 0 5 0 28 0-58 0 24 0 12 0 10 1-34 0 16 0-6 0 7 0-18 0 4 0 6 0 40 0-6 0-16 0-8 0 14 1-45 0 3 0 24 0-8 0-17 0 11 0-19 0 59 0-30 1 19 0-4 0-3 0-8 0-4 0 30 0-40 0 41 0-13 0-47 0 44 0-11 1-5 0 22 0-31 0 44 0-25 0-2 0-28 0 13 0 26 0 11 0-11 0-36 0 29 0 12 1 1 0-12 0-31 0 29 0-7 0 26 0 5 0-46 0 42 0-20 0 4 1 7 0-34 0 37 0 10 0-46 0 4 0 21 0-1 0-27 0 25 0 13 0-6 1 4 0 10 0-32 0 1 0 6 0 19 0-31 0 11 0-2 1 14 0 2 0-18 0 2 0-15 0 13 0-7 0-5 0 33 0 25 0-25 0-33 0 36 1-5 0-26 0-12 0 18 0-8 0 18 0 10 0-8 1-18 0 39 0-18 0 0 0 24 0 6 0-14 0 2 0-35 0 24 1 15 0-24 0-26 0 14 0 16 0 1 0-14 0 23 0-45 0 38 0-5 0-6 0 5 1-12 0 6 0-10 0 1 0-3 0 1 0 34 0-14 0-3 0 4 0 0 0 6 0-2 0 10 1-46 0 11 0 32 0-27 0 1 0 12 0-2 0 26 0-41 0 4 0 9 0-17 1-14 0 13 0 46 0-9 0 6 0-23 0 7 0-4 0 2 0-15 1 21 0-31 0 10 0 11 0-14 0 9 0 32 0-46 0 23 0-5 0 34 0-18 0-2 0-48 0 3 1 10 0 44 0-38 0 33 0-21 0-14 0-7 0 30 0-6 0-26 0 45 0-40 1-11 0 1 0 44 0-5 0-6 0 12 0 7 0-35 0 22 0-1 0-19 1 10 0-15 0 23 0-5 0-4 1-8 0 9 0-11 0 12 0 4 0-12 0 29 0-38 1 33 0-6 0-12 0 18 0-25 0-13 0 31 0 16 0-38 1 24 0-32 0 15 0 12 0-3 0-8 0-24 1 29 0-26 0 44 0-36 0 13 0 13 0 3 0-32 0 12 0-6 0 20 0 3 0-14 1-3 0 16 0-12 0-10 0-5 0 23 0 16 0 12 0-37 0 15 0 10 0-37 0 38 0-23 0 5 1 13 0-14 0-6 0-4 0 0 0 17 0 3 0-17 0 5 0-8 0-14 0 41 0 0 0 12 1-9 0-2 0-32 0 21 0-16 0 29 0-16 0 0 0-18 0-8 0 18 0 25 1-44 0 43 0-12 0 4 0-11 0-26 0 1 0 41 0-8 0-35 0 30 0-10 1-6 0 18 0-3 0 3 0-21 0 17 0-9 0-8 0 15 0-14 0-15 0 39 0-18 0 15 0 1 1-20 0 45 0-1 0-41 0 17 0 1 0 3 0-23 0 2 0 27 0-5 0-13 1-21 0 47 0-24 0-10 0-6 0 2 0-4 0 2 0 8 0-19 0 3 0 15 1-15 0 46 0-30 0-12 0 6 0 12 0 27 0-30 0 19 0 4 0-6 0-19 1-5 0 9 0-14 0 45 0-19 0-12 0-16 0 27 0 21 0-41 0 1 1 14 0-16 0-19 0 23 0 9 0-12 0 6 0 17 0-39 0 34 0 4 0-21 0-21 1 33 0-14 0 18 0 6 0 8 0-16 0-22 0 16 0 17 0-23 0 8 1-9 0 5 0 7 0-17 0 27 0-29 0 45 0-29 0 20 0-23 0-16 0 0 0-3 0 16 0-27 0 34 1-15 0 18 0 9 0-8 0-12 0 9 0-3 0 10 0 3 0 1 0-11 0-20 0 34 0-9 1 18 0-3 0-48 0 40 0-21 0 20 0-17 0 20 0-30 0 30 0 0 0-45 0 26 0-5 0 5 0-6 1-26 0 33 0-5 0 1 0-12 0 17 0 19 0-7 0-9 0 7 0-11 0-10 0 1 0 18 1-12 0-27 0 23 0 22 0-11 0 19 0-32 0 8 0-11 0 8 0-1 0-1 0-20 0 17 0 25 1 10 0-27 0 7 0-3 0-18 0 0 0 25 0-2 0-10 0 0 0-15 0-7 0 24 0 3 0 16 1-45 0 9 0-2 0 17 0 9 0-36 0 22 1 27 0 12 0-59 0 1 0 28 0-21 0 1 0 40 0-51 0 2 1 33 0 8 0-39 0-1 0 43 0-10 0 0 0-21 0 17 0-11 0 3 0-9 0 15 0-17 0 33 0-21 1 2 0 7 0-3 0 15 0-14 0-10 0-2 0 2 0 13 0-3 0-27 0 25 1 6 0-9 0-7 0-23 0 43 0 15 0-34 0 0 0 30 1-2 0-19 0-26 1 56 0-14 0-34 0 27 0 3 0-26 0-10 0 36 0 9 0-18 0-29 0 17 0 28 0-15 0 8 0-7 1-14 0 36 0-41 0 42 0-8 0-6 0-39 0 26 0 31 0-43 0-9 0 15 0-21 1 14 0 3 0 5 0-28 0 7 0 36 0 15 0-9 0-6 0-17 0-5 0-16 0 28 0 22 1-31 0 5 0 18 0-6 0-9 0 22 0-31 0 30 0-27 0-12 0 20 0-18 0 4 1 31 0-13 0 21 0-11 0-35 0 37 0-2 0 1 1-5 0 7 0 2 0-28 0-24 0-5 0 44 0-28 0-8 0 9 1 9 0-4 0 14 0 12 0-36 0 13 0 1 0 9 0 2 0-28 0 30 0-12 1 35 0-6 0-42 0 29 0 10 0-14 0-7 0-13 0 11 0-9 0 20 1 7 0-13 0 32 0-60 0 55 0-8 0-9 0-33 0 12 0-4 0 16 1 4 0-10 0 5 0-8 0-12 0 22 0 1 0-19 0-1 0 36 0-14 0 12 0-24 1 17 0-22 0 0 0-6 0 23 0 2 0-4 0 12 1-20 0 3 0-16 0 35 0-45 0 7 0 46 0-45 0 43 1-27 0 15 0 2 0-18 0 4 0-11 0 17 0 5 0 0 0 13 0-36 0 1 0 32 0-8 0-17 0-2 1 21 0-13 0-28 0 13 0 4 0 5 0 8 0-36 1 37 0-16 0 6 0-29 0 14 0-10 0 51 1-48 0 52 0-20 0-9 0-20 0 41 0-34 0 6 1 3 0 11 0-2 0 8 0 3 0-12 1 16 0-31 0 22 0 16 0 12 0-50 0 9 0-17 0 31 1-6 0 16 0-24 0 21 0 0 0-45 0 40 0-1 0 8 0-9 0-11 1-3 0 14 0-12 0 22 0-18 0 16 0-13 0 2 0-39 0 18 0-5 0 19 0 4 0 18 1-14 0-18 0 26 0-6 0 11 0 10 1-29 0-31 0 28 0-13 0-10 0 40 0-30 0 16 0 12 1-35 0 31 0 0 0-12 0 10 0-15 0 9 0-20 1 30 0-13 0-29 0 17 0 7 0 26 0-23 0 30 0-19 0-18 0 1 0 5 0-16 1 36 0 14 0-7 0-31 0-4 0-5 0 9 0 10 0-12 1 40 0-40 0 15 0-28 0 5 0 28 0-18 0 17 0-40 0 28 0-9 0 46 0-2 0-40 0-14 1-5 0 32 0-7 0 37 0-16 0-15 0 9 0-19 0-5 0 27 0-30 0-10 1 50 0-7 0-3 0-47 0 55 0-7 0-18 0-3 0-5 1 39 0-37 0-18 0 19 0 4 0 7 0 14 0-22 0 5 0 8 0 3 0-22 0 0 0 30 0-18 0 21 1-21 0 20 0-20 0-11 0 33 0-10 0-31 0 16 1 0 0-10 0 30 0-10 0-1 0-6 0-21 0-10 0 11 1 24 0-21 0 19 0-16 0 8 0-16 0 13 0-14 0 0 0 25 0-25 0 23 0-15 0-1 1 11 0 25 0 1 0-2 0 3 0-30 0-13 0 15 1 11 0 16 0-31 0 19 0 0 0-13 0 13 0 19 0-37 0 18 0-14 1 4 0 3 0 10 0-20 0 37 0-35 0 32 0-34 0 12 1-11 0-7 0 18 0-3 0-14 0-15 0 38 0-29 0 49 0-41 0-20 0 34 0 3 0-11 0-29 1 68 0-7 0-40 0 11 0 21 0-38 0 17 0 6 0-30 1 7 0-7 0 41 0-25 0 24 0-19 0 5 0-8 1 32 0-12 0-3 0-32 0 14 0-13 0 9 0 25 0-19 0-2 0-7 0 14 0-6 0 2 0 6 1 1 0-6 0 37 0-34 0-1 0 3 0 6 0 0 0-8 0-5 0 27 0 5 0-14 0-44 1 39 0 13 0-21 0-4 0 11 0 9 0-7 0 4 0-22 0 11 0-36 0 23 0 24 0-13 0-10 1 14 0-28 0 23 0 20 0 1 0-10 0-7 0 9 0-7 1-15 0 14 0-12 0-2 0 28 0-21 0 15 0 21 0-16 0-31 0 18 1-26 0 55 0-57 0 30 0-9 0 2 0 23 0-13 0-23 0 36 0-27 0 0 0-18 0 25 0 7 0 9 1-8 0-15 0-8 0 10 0 10 0 1 0-18 1 9 0 31 0-37 0-15 0 28 0 6 0-13 0 12 0-10 1 15 0-17 0 11 0 1 0-14 0 23 0-21 0 5 0 12 0-39 0 32 0 23 0-48 0 30 0-20 1 33 0-52 0 2 0 4 0-7 0 14 0 1 0 9 0 20 0-17 1-31 0 1 0-3 0 38 1-32 0 23 0 16 0-19 0-9 0 8 0 30 0-2 0-52 1 21 0-2 0 12 0 17 0 3 0-3 0-12 0 3 0-6 0-9 0 42 0-19 1-7 0-6 0-2 0-12 0-6 0 41 0-51 0 46 0 7 0-24 0-1 0 4 0-17 0 13 0-7 1-3 0 11 0 22 0 7 0-55 0 45 0-1 0-1 0-12 0-36 1 40 0-22 0 36 0-17 0 2 0 23 0-20 0-23 0 31 0-11 0-26 1-2 0 32 0-9 0-17 0 8 0-14 0 56 0-21 1-16 0 6 0-1 1-7 0 23 0-47 0 20 0 29 0-43 0 33 0-4 0 13 1-27 0 30 0-24 0 1 0-7 0-16 0 31 0-6 0-1 0-9 0 40 0-29 0-32 1 62 0-28 0-23 0 24 0 24 0-52 0 54 0-12 0-22 1 28 0-14 0-21 0 9 0 5 0 3 0 1 1-19 0 18 0-17 0 8 0 15 0-43 0 38 1-2 0 4 0-9 0-16 0 44 0-31 0 0 0-11 0 1 0 17 0-28 0 20 0-4 1-3 0 25 0-47 0 36 0 13 0-28 0-7 0 8 0 5 0 27 0-4 0-12 0-23 1 37 0-11 0-13 0 2 0 10 0-22 0 38 0-17 0-14 0-4 0 23 0 16 1-52 0 33 0-24 0 13 0 18 0-28 0-9 0-13 1 45 0-28 0 3 0 16 0 13 0-24 0-6 0 9 0-13 0 7 1 21 0-33 0 31 0-23 0 3 0 12 0 5 0-18 0 7 0 22 0-20 0-5 1 15 0 16 0 9 0-22 0-27 0-15 0 31 0-8 0 0 0-2 1-4 0 14 0-5 0 22 0-20 0-6 0 8 0 0 0-2 0 17 0-31 1-18 0 46 0-26 0 11 0 26 0-8 0-5 0-20 0 5 0-12 0 44 1-15 0 20 0-20 0-28 0 12 0 29 0-31 0 31 0-3 0-8 1-49 0 36 0 7 0 2 1-4 0-16 0-8 0 10 0 6 0-10 0 7 0-9 0 13 0 9 0 7 0-33 1 25 0 25 0-52 0 13 0 3 0 6 0-8 0-24 0 34 1-9 0-7 0 5 0 4 0 14 0 11 0-47 0 23 0 1 1-3 0-25 0 11 0 27 0 0 0-12 0-8 0 29 0-22 1-2 0 5 0-8 0 24 0-26 0 23 0-23 0 41 0-47 0 36 0-54 0 27 0 38 1-13 0-15 0-25 0 51 0-35 0 11 0-31 0 25 0 7 0-17 0 2 0 8 0-19 1 25 0-12 0-26 0 53 0 4 0-39 0 14 0 10 0-32 0 35 0-3 0-33 0 18 1 34 0-18 0-17 0-5 0 23 0-22 0 14 0 4 0 2 0 0 0-2 0-6 0 23 1-14 0-24 0-2 0 12 0 15 0 6 0-3 0-21 0-6 0 28 0 14 0-24 1-27 0 15 0-22 0 18 0 30 0 13 0-24 0 16 0-6 0-17 0-2 0-13 1 2 0-6 0 9 0 19 0 4 0-20 0 3 0 5 0 0 1-18 0 18 0 2 0 23 0-54 0 28 0 11 0-29 0 22 0 9 0-32 0 6 0-1 1 25 0-16 0-11 0 22 0 3 0 11 0-9 0-14 0-33 0 32 0 8 0-21 0-19 1 41 0 1 0 10 0-6 0-45 0 12 0 47 0-38 1 24 0-26 0 15 0-24 0 26 0 21 0-19 0 20 1-33 0-6 0 15 0-5 0 2 0 3 0-15 0 28 0-38 0 43 0-30 0 15 0-8 0 3 0-13 1 27 0-31 0 27 0-14 0-13 0 32 0 8 0 5 0-26 0-5 0 0 1-21 0 41 0-14 0 6 0 6 0-18 0 19 0-7 0-1 0-8 0 7 0 22 0-44 0 23 0-29 0 4 0 16 0-17 0 30 0 2 1-21 0 13 0-4 0 0 0 13 0 2 0-10 1 0 0-25 0 30 0-12 0-7 0 26 0 3 0-36 0-1 0 3 0 10 0 29 1-40 0-17 0 9 0 12 0 9 0-11 0 36 0-31 0 7 0 4 0 14 0-29 0-10 0 39 0-20 1-9 0 22 0-20 0 16 0 13 0 14 0-38 0 39 0-16 1 1 0-33 0 40 0-24 0-17 0 38 0-40 0 17 0-11 0 27 0-11 0-11 1-12 0 10 0 5 0 10 0 20 0-27 0 10 0-23 0-16 0 17 0-17 0 24 1 27 0-24 0-5 0-2 0-8 0 22 0-18 0-25 0 41 1-17 0-10 0 43 0-19 0-23 1 22 0-1 0-36 0 11 0 18 0 10 0-16 0 12 0-6 1 6 0 28 0-17 0 11 0-5 0-12 0-24 0 11 0-4 0 35 0-22 0-26 1 37 0-12 0 10 0-3 0-19 0 16 0 6 0 1 0 17 0-42 0-14 0 22 0-5 0 24 0 2 1-6 0 8 0-40 0 36 0 4 0-20 0 3 0 12 0-10 0 6 0-18 0-19 0 48 0-26 1 4 0 22 0-11 0-16 0 4 0-23 0 54 0-35 0 23 0-7 0 11 1-36 0 21 0 15 0-12 0 0 0 12 0-30 0 32 0-32 0-10 0 41 0-7 1-23 0 7 0 7 0 1 0 0 0 2 0-22 0 15 0 0 0-13 0 2 0-2 0 22 0-18 1 21 0-23 0 24 0 6 0-19 0 26 0-15 0-3 0-13 0 19 0-4 0 8 1 16 0-19 0 6 0-26 0 18 0-18 0 22 0-21 0-6 0 6 0 25 1-11 0 5 0-33 0 6 0-13 0 47 0-15 0-19 0 21 0 7 0-32 1 24 0 19 0-12 0-31 0 2 0 44 0-33 0 9 0 15 0-46 0 31 0-13 0 6 0-4 0 19 0 7 0-53 1 34 0-8 0 20 0 4 0-34 0 2 0 10 0 7 0-1 1 3 0 10 0-15 0-6 0 38 0-65 0 57 0-37 0 18 0-7 0 2 0-2 1-3 0 9 0 7 0-11 0 24 0-9 0 16 0-37 1 3 0 11 0 4 0 5 0-19 0 23 0-38 0 37 1 9 0-8 0-18 0 37 0-38 0-9 0 15 0 2 0-13 1 5 0 36 0-60 0 37 0 12 0-1 0 7 0-18 0 8 0-32 1 48 0-20 0-34 0 41 0-10 0 3 0 8 0-8 0-24 0-2 0 9 0 29 0-18 0 27 0-22 1 1 0-8 0 8 0-12 0 0 0-13 0 2 0 8 0-2 0 33 0-46 0 32 0-10 1 14 0 0 0-18 0 3 0 11 0-23 0 5 0 8 0-16 0-1 0 4 0 11 0-11 1 36 0-34 0-8 0 18 0-20 0 7 0 15 0 1 0-5 1-5 0-21 0 46 0-45 0 54 0-47 1 164 0-22 0 21 0 16 0-19 1 2 0-2 0-42 0 14 0-6 0 9 0 19 0-27 0 51 0-54 0 35 1 12 0-30 0-20 0 5 0-3 0 33 0-32 1 19 0-17 0 39 0-8 0-7 0-10 0-15 1-7 0 14 0 41 0-1 0 2 0-52 0 57 0-21 0-18 0-8 1 6 0 27 0 10 0-23 0 27 0-26 0-16 0 32 1-45 0 7 0 42 0 9 0-18 0-33 0-1 0 17 0 16 0 0 0-5 0 21 0-58 1 26 0 36 0-22 0-6 0 12 0-31 0 9 0 34 0-25 0 15 0-41 1 4 0 30 0-20 0-21 0 21 0-19 0 35 0 27 0-30 0 10 0-26 1 19 0 13 0-54 0 49 0 0 0-49 0 53 0-16 0 12 0-25 1 12 0-21 0 36 0-22 0 27 1-49 0 51 0 8 0-46 0 21 0 7 0 16 0 4 0-9 1 1 0-28 0 17 0-30 0 9 0 21 0-9 0 0 0 0 1-19 0 36 0-11 0-16 0 12 0 11 0-31 0-5 0 25 0-1 0 5 0-12 0 33 0-26 0-20 1 9 0 20 0-30 0 13 0-14 0-17 0 14 0-4 0 49 0-15 0 6 0-46 0 56 0-15 1 18 0-40 0 7 0 10 0-23 0 27 0-26 0 26 0 1 0 5 0-41 0 38 0 5 0 8 0-51 0 42 1 8 0-9 0-24 0-10 0-19 0 37 0 10 0-7 0-15 0-6 0 50 1-62 0 40 0-21 0 40 0-3 0-27 1-1 0 11 0-6 0-19 0 13 0-21 0 44 0-38 1 16 0-14 0 46 0-27 0 16 0-16 0-18 0 6 0 30 0-45 1 24 0 18 0-33 0-8 0 21 0 1 0-2"/><path class="q" d="M808 1330l0 66 0-5 0 19 0-121 0 166 0 28 0-134 1 29 0-2 0-69 0 58 0-56 0 34 1 44 0-67 0 81 0-53 0 82 0-98 0-20 0 14 0 26 0-22 0 53 0-69 1 189 0-95 0-78 0 57 0-107 0 47 0-4 0 105 1-19 0-20 0 35 0 14 1-7 0-77 0 46 0-58 0 0 0-23 0 75 0-82 0 31 1 96 0-37 0-95 0 115 0-95 1 68 0-18 0 40 0-78 0 51 0-24 0-106 0 96 0 24 0-77 0 43 0 11 1 24 0-6 0-96 0 57 0 27 0-9 0-45 1 74 0 7 0-61 0 92 0-64 0 19 0-62 0 28 0 0 0 106 0-48 0-59 1 49 0-13 0-49 1 0 0 40 0-79 0 37 0 50 0-3 1-15 0-28 0 198 0-150 0-3 0-20 0 6 0-17 1 15 0 34 0-13 0-21 1-25 0 48 0 89 0-84 0-32 0-57 1 170 0-72 0-51 0 82 0-133 0 37 0 93 1-43 0 27 0-7 0-83 0 47 0-45 1 111 0 15 0-162 0 114 0-77 0 65 0-83 0 85 1-29 0-9 0 38 0 17 1-84 0 75 0 38 1-85 0 76 0-25 0-11 0-45 0 84 0-88 0 45 0-56 0 29 1-19 0-16 0 62 0 19 0 5 0-31 0-21 1-8 0 62 0 10 1 13 0 38 0-117 0-47 1 62 0 31 0-63 0-27 0 46 0 39 0-49 0 17 1-8 0 14 0 4 0-36 0 32 0 22 1 9 0-111 0 92 0 13 0-65 1 0 0 27 0-25 0-4 1 67 0 27 0-18 0 58 0-172 4 54 1 1 0 22 0-57 1 56 0 26 0-35 0-74 0 120 0-27 0-42 0 84 0-90 1 12 0 46 0-36 0 54 0-68 0 20 1 38 0 44 0-115 0 25 0-8 0-11 0 58 0-34 1 113 0-103 0-25 0 16 0 46 0-21 0-33 0-22 0 21 1-11 0-4 0 76 0-43 0 66 0-82 0 2 0 24 0 29 1-23 0-13 0 19 0 51 0-23 0 12 0-39 1-72 0 61 0 20 0-43 0-25 0 28 0 72 0-13 1-68 0-61 0 49 0 7 0-18 1 87 0-85 0 81 0 85 0-85 0-77 1 88 0-91 0-15 0 80 0-31 0 49 0-39 0 22 0 24 1-35 0 14 0-98 0 27 0 73 0-11 1-70 0 96 0-90 0 31 0 81 0-76 0-36 1-9 0 24 0 83 0 32 0-123 0 8 0-12 0 57 1 18 0-73 0 42 0-57 0 28 0 52 1-71 0 22 0 50 0 22 0-13 0-35 0-3 0-1 0 57 0-7 1-29 0-4 0-33 0 2 0-71 0 43 0 14 0 103 0-49 1-62 0 35 0 74 0-58 0 11 0-16 0 35 1-97 0 3 0 82 0-68 0 18 0 35 0-24 1 26 0-18 0-25 0 47 0-34 0-70 0 65 1-52 0 112 0-54 0 5 0 26 0-25 0-35 1 7 0 7 0-7 0 34 0-21 1-14 0 77 0-37 0 28 0-51 0-26 1 67 0-4 0-32 0 54 1-21 0-41 0 36 0 43 0-30 0-58 0 87 0 12 0-23 0-47 0-46 0 19 0 9 0 51 0-118 0 48 1 29 0-11 0 42 0-95 0 220 0-105 0 122 0-254 1 78 0-34 0 63 1-102 0 60 1 1 0-32 0 42 0 11 0-53 0 113 0-64 0 57 0-41 1 30 0-45 0-50 0 66 0-18 0-6 0 18 0 4 1-17 0 46 0-59 0-22 0 42 0-36 0-13 0 71 0-95 1 146 0-33 0 20 0 38 0-158 0 50 0 41 0-33 1-15 0 64 0 10 0-37 0 61 1-66 0 24 0-30 0-9 0-36 0 66 0-23 0 65 0-55 0-60 1 93 0-56 0-32 1 16 0 11 0-1 0-40 0 82 1-34 0 6 0 21 0-61 0 46 0-43 0-40 1 123 0-90 0 80 0-3 0-37 0-64 0 62 0-64 0 60 0-50 0 105 0-140 1 84 0-28 0-6 0 55 0 63 0-112 0 20 0 40 0-33 0 41 1 37 0-39 0-39 0 32 0-34 0 15 0 51 0-85 0 96 1-95 0 82 0-48 1-1 0-41 0 30 0 45 1 40 0-94 0 87 0-72 0 38 0-66 0 49 0 41 0-21 1 20 0-29 0 44 0-63 0-63 0 2 0 135 0-73 0-73 0 18 0 11 0 8 1-33 0 91 0-24 0 32 0 10 0-2 0-108 1 93 0-72 0 63 0 4 0-42 0-25 1 39 0 26 0-13 0 22 0-77 0 30 0 6 0-39 0 20 0 49 1-70 0 42 0-22 0 60 0-22 0 3 0 74 0-55 0-23 1-12 0-1 0 25 0-66 0 60 1-15 0-76 0 227 0-130 0 30 0-124 0 163 0-118 0 10 0 14 1 45 0-85 0 105 0 8 0-116 0-20 0 99 0-38 0 96 0-43 1-52 0-55 0 46 0 68 0-127 0 45 0 86 0-76 1 42 0-51 0 99 0-130 0 89 0-98 0 134 1-79 0 39 0-26 1 83 0-111 0-45 0 157 0-62 0-10 0 49 1-53 0 33 0-23 0 23 0-41 0-51 0 45 0 45 1-22 0-1 0 3 0-62 1 54 0-28 0 11 0-19 1 40 0-3 0 22 0-27 0 10 1-48 0-20 0 5 0 51 0 15 0 127 0-183 1 74 0 0 1-101 0 52 0-23 0 42 0 122 0-141 0-3 0-1 0 43 0-66 1 55 0-41 0-27 0 172 0-145 0-30 1 15 0 2 0-21 0 86 0-4 0-35 0 43 0 9 1-92 0 51 0 12 0 53 0-27 0-45 0-37 0-13 1 141 0-68 1 29 0-94 0 54 0-1 0 46 1-5 0-93 0 91 0-85 0-7 0 75 0-45 0 20 0-40 1 68 0-88 0 16 0 7 0 75 0-86 0 60 0-68 0 47 0 40 0 93 0-119 1 157 0-97 0-63 0 34 0-71 0 66 0 0 0 0 0-40 0 96 1-49 0-113 0 113 0-7 0 52 0-72 1-100 0 92 0-47 0 92 0-103 1 65 0-19 0-31 0 44 0 39 0-50 0 2 1 23 0-30 0-15 0-40 0 74 0 25 0-82 0 110 0-178 0 95 0-5 1 20 0 8 0 8 0-122 0 128 1-72 0 87 1-29 0-55 0 55 0-40 0 43 1 9 0-13 0 28 0-37 0 141 0-110 0-76 1 12 0 56 0-12 0-27 0 21 0 142 0-184 0 29 1 47 0 5 0-32 0-80 0 151 0-55 1-27 0 11 0-17 0-35 0 62 0 2 0-2 0 19 1-64 0 37 0 8 0-28 1 21 0 67 0-45 0-72 1 33 0 53 0-120 0 38 0 83 0 4 0-38 0-30 1 60 0-28 0-46 1 21 0-7 0-22 0 27 0 109 0-118 1 54 0-26 0-40 0-16 0 49 0-42 0-10 0 108 0-99 0-3 1 37 0-31 0 83 0-2 0-85 0 10 0 167 1-152 0-7 0 62 1-21 0-23 0 1 0 54 0-74 0 35 1-45 0 57 0-69 0 30 0 14 1-37 0 11 0 33 0-35 0 9 0 20 0 44 0-63 0-12 0 67 0-115 0 148 0-107 0 73 0-19 1 25 0-14 0-72 0 43 0 41 0-32 0 4 0 43 1 66 0-115 0 47 0-129 0 82 0-22 1-6 0 59 0-36 0 93 0-144 0 77 1 4 0-23 0-43 0 125 0-58 1 26 0-30 0-63 0 25 0 43 0 4 1-68 0-61 1 214 0-96 0-33 0-77 0 79 0-18 0 57 0-72 0-5 0 101 0 20 1-127 0 55 0-126 0 260 0-181 0 48 0 2 0-26 0 81 0-89 0 28 1-20 0 48 0-74 0 102 0-49 0 33 0-18 0-57 0 72 1-23 0 47 0-100 0 19 0 42 0-45 0 56 1-115 0 75 0-31 0-1 0 79 0 45 0-118 0 48 1 24 0-27 0-23 0 43 0 47 0-25 0-74 0-39 0 5 0-61 0 233 0-93 0-2 1-11 0 22 0 18 0-85 1 27 0-30 0 78 0-34 0 13 0-60 1-16 0 91 0-4 0 31 0-59 0 87 0-129 1 15 0 17 0 46 0-19 0-20 0 68 0-71 0 1 1 150 0-81 0-72 0-31 0 76 0-14 0 10 1-65 0-33 0 72 0-49 0 50 0-24 0-57 0 101 1 61 0-141 0 7 1 66 0 18 1 9 0-52 0 33 0-50 0 27 0 22 0-10 0-100 0 55 0-33 1 80 0 4 0-67 1 85 0 11 0-184 0 189 0-35 0-30 1 10 0-4 0 10 0-27 0 45 1-79 0 21 0 33 0 8 0 36 0-96 0 77 0-26 0-8 0 49 0-43 0 31 0-27 1-44 0 85 0-21 0-5 0 23 0-50 0-31 0 14 0 55 1-24 0-53 0 54 0-52 0 65 0-21 0 26 1 41 0-20 0-14 0-56 0 24 1 36 0 11 0-7 0-5 0-27 0 8 0-22 0-19 0 50 1-45 0-15 0 79 0-8 0 31 0-25 0 23 0-49 0-41 0 90 0-46 0-66 1 45 0 35 0-9 0-63 0 53 0 11 0 2 0-10 0-34 0-37 1 60 0-48 0 77 1 2 0-62 0 54 0 49 0-81 0 20 0 39 0-51 0-10 1-63 0 141 0-70 0-5 0 15 0-1 1 29 0-81 0 69 0-28 0 7 0 1 0-36 0-35 0 15 0 5 1 37 0-3 0 45 0 79 1-54 0-110 0 89 0-53 0-19 0 52 1 20 0 20 0-52 0-47 0 26 0 31 1-20 0-5 0 35 0-53 1 32 0-56 0 71 0-81 0 74 0 56 0-81 0 12 0 137 1-102 0-52 0-2 0 68 1 24 0-79 0 24 0-24 0-8 0 32 0 7 0-62 0 9 1-32 0 96 0-81 0-8 0 39 0 62 0-58 0 33 0-50 0-31 0 108 0-84 0 74 1-121 0 38 0 28 0 64 1-64 0 74 0-45 0-3 0-15 0-67 0-7 0 193 0-122 1 66 0-86 0-61 0 95 0-11 0 51 0-55 1 30 0 6 0-42 0-11 0 80 0-20 0 55 0-60 0-15 1 12 0-86 0 42 0-36 0 85 0-18 0 18 1 1 0-42 0-22 0 31 0 106 0-114 0 36 0-71 0 58 0-56 0 63 0 2 0-8 0-53 1-7 0-2 0 77 0-69 0-11 0 24 0 22 0 94 1-66 0 0 0-37 0-58 0 70 0 6 1 24 0-64 0 33 1-57 0 46 0-26 0 87 0 39 0-121 1 28 0 60 0-54 0 35 0-43 0 8 0 17 0 8 0-72 1 75 0 18 0-95 0 86 0-43 0 19 0-24 1-41 0 60 0-46 0-5 0-16 0 32 0 40 0-69 0 136 0-97 1 18 0 30 0 7 0 13 0-18 0-24 1 19 0-59 0 40 0-77 0 18 0-57 0 20 0 142 0 6 1-28 0-2 0-113 0 173 0-139 0 37 0 12 0-25 1 27 0-3 0-14 0-29 1 26 0 40 0 24 0-83 0 56 0-7 0 7 0-55 0-23 0 56 1 54 0 14 0 65 0-137 0 17 0 18 0-19 0 38 1-2 0-91 0-19 0 81 1 12 0 30 0-68 0 39 1-13 0-39 0-9 0-30 0 114 1-74 0 147 0-156 1-51 0 182 0-48 0 3 1-136 0 81 0 46 0-82 0 74 0 126 0-83 0-71 1-59 0 32 0-53 0 31 1 99 0-26 0 20 0-70 0-16 0 55 0 25 1-42 0-54 0 26 0-14 0 64 0-8 0 84 0-153 0 15 0 9 0 48 1 36 0-61 0-61 0 24 0 10 0 11 0 19 0-24 0-33 0 5 0 41 1 2 0 20 0 50 0-3 0-71 0-110 1 115 0 38 0-12 0-22 0 21 0 47 0-108 0-5 0 85 0-28 0-107 0 32 1 92 0-10 0 43 0-52 0-50 1 105 0-10 0-7 0 104 0-151 0 32 0 7 0-45 0-15 0 14 0-1 1-32 0 49 0-19 0-8 0-3 0 5 0 26 0 17 0-1 0-67 0-2 1 44 1 184 0-270 0 18 0 70 1 24 0-9 0-31 0 34 0-49 0 9 0 33 0-28 1 23 0-90 0 188 0-166 0-6 1 24 0 112 0-84 0 8 0-24 0 11 0 51 0-17 1-8 0-14 0 34 0 7 0-33 0-28 0 19 1 22 0 15 0-34 0 12 0 72 0-115 0 48 0-30 0 18 1 29 0-66 0-3 0 90 0-78 0-38 0 54 0-75 1 78 0 81 0-80 0-37 0 41 0-68 0 22 0 73 0-49 0 22 0 43 1-84 0 21 0 24 0 5 0-60 0-3 0 91 0-6 1-16 0 29 0-90 0-30 0 9 0 52 0 47 1 0 0-2 0-53 0-29 0 52 0-37 0 17 0-14 0-9 1 80 0-84 0 89 0-9 0-99 0 92 0-82 1 43 0-43 0 73 0-14 0-6 0 20 0-53 1 99 0-41 0 6 0-24 0 41 0-12 1-63 0-26 0 18 0 52 0 29 0-36 0 69 0-79 0 9 1 3 0-46 0 62 0-16 0 76 1-53 0 3 0-83 0 43 0 33 0-20 0 47 1-65 0 2 0 70 1-22 0-83 0-29 0 117 0 37 0-63 0 31 0-65 0 12 1 47 0-52 0 25 0 114 0-126 0 69 1 90 0-157 0-48 0 74 0-30 0 25 0-57 1 9 0 3 0 69 0-18 0-71 0 89 1-76 0 68 0-58 0-32 0 143 0-82 1 15 0 14 0-15 0-10 0-33 0-22 0 0 0-13 0 37 0 86 1-114 0 32 0-38 0 38 0-47 0 42 1 0 0 15 0-25 1-40 0 80 0-39 0 31 0 12 0-2 0 32 0-70 1 41 0 14 0-50 0 37 0 157 0-172 0 19 1-39 0 100 0-75 0-18 1 73 0-67 0-18 0 8 0 9 0-3 1-21 0 26 0 10 0-49 0 81 0-57 0 5 0 7 0 14 0-26 0-22 1 110 0-85 0 45 0-132 0 134 1-70 0 91 0 38 0-103 0-62 0 95 0-6 1-6 0 4 0-18 0-6 0-56 0 91 0-45 0-28 0 15 1 83 0-93 0 9 0 4 0 80 0-97 0-10 0 16 0 23 0 53 0-83 0 39 1-37 0 21 0-28 0 14 0 65 0-72 0-15 1 89 0 34 0-55 0-47 0 34 0 24 1-38 0 101 0-75 0 35 0-64 0-87 0 80 0 15 0-44 1 83 0 0 0-36 0 9 0-64 0-4 1 75 0-79 0 138 1-41 0-24 0-110 0 50 0 111 0 17 0 37 0-55 0-37 0-32 1 30 0 16 0 5 0-18 0-15 0-5 1-2 0 49 1-11 0 12 0-10 0-52 0 23 0 15 1-50 0 143 1-39 0-87 0 23 0-2 0 0 1 33 0-57 0-19 0 51 0 60 0-121 1 41 0 28 0-12 0 21 0 25 1-93 0 97 0-107 0 19 0 63 0-28 0 51 0-35 0-78 1 11 0 98 0-134 0 5 0 91 0 26 0-19 1 0 0-87 0-28 0 143 0-42 0 2 0 43 0-68 0-36 0 46 1-48 0-80 0 193 0-101 0 30 0 53 0-5 0-69 1 71 0-6 0-81 0 94 0-46 0 23 0 11 0-115 1 104 0-53 0 70 0-30 0-95 0 60 0 57 0-110 1 53 0 35 0 4 0 4 0 48 0-109 0 57 0 10 0 43 1-84 0 21 0-13 0 47 0-88 1 68 0-69 0 87 0-12 0-12 1-49 0 89 0-52 0 42 0-39 0-3 0-58 0 15 0 63 0-39 1 214 0-185 0-90 0 92 0-17 0 33 0-37 0 29 1-121 0 77 0 27 0 25 1-78 0 28 0 29 0-25 0-38 0 60 0-31 1-7 0 98 0-100 0 28 0-9 0-21 0-17 1 80 0 25 0-86 0 39 0 18 0-49 0 64 1-54 0 44 0-18 0-37 0 88 1-26 0-32 0 10 0-61 1 68 0 41 0-15 0-7 0-18 0-28 0 45 0-40 0 12 0-8 1-6 0-28 0 5 0-65 0 137 0-78 0 19 0 10 0-45 0 46 0 5 1-28 0 78 0-55 0 57 0-97 1-5 0 32 0 61 0-59 0 37 0-71 0 8 0 46 1-41 0 11 0 20 0-13 0 136 0-108 0 37 1-42 0 4 0 92 0-108 0 47 0-21 0-69 0 31 1 97 0-67 0-21 0 88 0-86 1-86 0 125 0-14 0-6 0 11 0-41 1 66 0 23 0-114 0 47 0-40 0 31 0 51 0 3 1-92 0-42 0 176 0-130 0-38 0 111 0-5 0-100 0 63 0 5 0 15 0-35 1 72 0-122 0 105 0-14 0-59 0 115 0-149 1 65 0-43 0 76 0-12 0 53 0-26 1 18 0-119 0 72 0 37 0 4 0-104 1 125 1-51 0 23 0-27 0-54 0 38 0-22 0 2 0 2 1 74 0-130 0 129 0-12 0-76 1 22 0 58 0-60 0 21 0 4 0-27 0-7 0 8 0 22 0 94 0-69 0-77 1-12 0 76 0-1 0-26 0 84 0-46 0-42 0 54 0 4 0-85 1 118 0-105 0-5 0 59 1-10 0-88 0 146 0 63 0-131 0-34 0 19 0 0 0 0 0-21 0 64 0-51 1 29 0 10 0-40 0-41 1 111 0-47 0-8 0 35 1 61 0 15 0-46 0-91 0 83 0-77 0 45 0-48 0-50 0 34 1 76 0-46 0 37 0-67 0 87 0-43 0 70 1-63 0 7 0-25 0 74 0-90 0-47 0 39 1 74 0-79 0 12 0-6 0 35 0-42 1 39 0-35 0 2 0 29 0-69 0 83 0-127 0 75 0-13 1-4 0 120 0-19 0-91 0 81 0-57 0 63 0-82 0 90 0-13 0-12 1-36 0-78 0 92 0-32 0 73 0-59 0 41 0 17 0 8 1-106 0 56 0 22 0 27 0-14 0 50 0-97 0 25 1 5 0 3 0 14 0-19 0-43 0 81 0-105 0 38 0 86 0-157 0 168 0-86 1 6 0 22 0-62 0-4 0 44 0 23 0 83 0-71 0-52 0-16 1-59 0 100 0-49 0 51 0 43 0-66 0 2 0 85 0-65 0-95 0 70 0-31 0-63 1 65 0 60 0-50 0 112 0-126 0 144 0-62 0 14 0-102 0 6 0 106 0-34 0 2 1-43 0 6 0 5 0-29 0 11 0 72 0-61 1-40 0 58 0 26 0-72 0 68 0 25 1-71 0 6 0 126 0-89 0-26 0 49 1-14 0-51 0 69 0 5 0-45 0-72 0 144 0-81 0 50 0-143 0 83 1-130 0 97 0 64 1 1 0-52 0 67 0-93 0 29 0-7 0 6 1-3 0-4 0-4 0 18 0 0 1 25 0 22 0-23 0 39 0 61 0-80 0 41 1-21 0-73 0-68 0 55 0 50 1-48 0 30 0-16 0-18 2 40 1 6 1 80 0-14 0-73 0-9 1 9 0-44 0 46 0 47 0 23 0-43 0-65 1 53 0-36 0 2 0 12 0 12 0-53 1 44 0-41 0 85 0-41 0 37 0-12 0 3 1-64 0-9 0 43 0 12 0 1 0-15 0-52 0 32 0 9 1 43 0-16 0-11 1 16 0 49 0-91 0-94 0 216 1-119 0-42 0 102 0-57 0 79 0-49 0 22 1-9 0-41 0 62 0-86 0 103 0-22 0-49 0 50 0-51 0-3 0 15 0 6 1 60 0-42 0-9 0 19 0 23 0-79 0 70 0-64 0 16 0 29 1 16 0-89 0-11 0 73 0 7 0-21 1-45 0 56 0 15 0-164 0 168 0 16 0-85 1 144 0-170 0 86 0 108 0-137 0 65 0-55 1-4 0-10 0-3 0 50 0-30 0 24 0-59 0 31 0-39 0 73 0-69 0 40 0-49 1 39 0 45 0-14 0-28 1-13 0 55 0-64 1 10 0-12 0 15 0 38 0 0 0-80 0 75 0-155 0 201 1-129 0 29 0 40 0-35 0 69 0-15 1-31 0-2 1 59 0-114 0 68 0 10 1-29 0 48 0 28 0-20 0-65 0-79 0 102 0-39 0-14 0 12 1 35 0-110 0 97 0 6 0-35 0 30 1 11 0 35 0 4 0 54 0-197 0 83 1 42 0-7 0-50 0 13 0 32 0 26 0-72 0 45 0-26 0 4 0 44 1-15 0 21 0-41 0-10 0-43 0 40 0 5 1 17 0 20 0 29 0-60 0 19 0 11 0 48 0-55 0-70 1 24 0-4 0 15 0-4 0 57 0 8 1-31 0 20 0-119 0 49 0-7 1 99 0-84 0 17 0 8 0-40 0 63 1-23 0 9 0-1 0 153 0-132 0-61 0-5 0 74 0-3 0-28 0-63 0 80 0-56 1-27 0 92 0 17 1-76 0 80 0-26 0-68 0 66 1-18 0 21 0 29 0 39 0-33 0-85 1 63 0-25 0 31 0-27 0 17 0-17 0 9 0-51 0 5 0 31 1 28 0-117 0 156 0-46 1-71 0 21 0 20 0-17 0-10 1-3 0 34 0-20 0 22 1-89 0 161 0-13 0-41 1-89 0 89 0-63 0 51 0-32 1-26 0 90 0-74 0 64 0-9 0-28 1-34 0 73 0-37 0 56 0 91 0-155 0-72 0 113 0 0 0-137 1 59 0 82 0 87 0-176 0 55 0-40 1 1 0-17 0 104 0-97 0 116 0-81 1 54 0-13 0-55 0-14 0-5 0 71 0-29 1 79 0-65 0 28 0 33 0-70 0 33 0 50 1-80 0-67 0 30 0 49 0-58 1 124 0-88 0 3 0 8 0 161 0-184 0-35 0 58 0-48 1 13 0 36 0 4 0-47 0 169 0-171 0 81 1-55 0-54 0 26 0 68 0-30 0 32 0-27 0-62 1 55 0 41 0-8 1-39 0-132 0 142 0-51 0 12 0 33 0-38 0 113 0-79 1-12 0-21 0 11 1 1 0 64 0-79 0-4 0 11 0-7 1 135 0-69 0-27 0 45 1-21 0 24 0-25 0-75 0 57 0-5 0-27 0 94 0 11 1-98 0 64 0-20 0 33 0-138 0 55 0-5 1-36 0 35 0 93 0-12 0-30 0-37 0 20 0 11 1-30 0 20 0 119 0-112 0 6 0-18 0-16 0 18 0 7 0 0 1 1 0 11 0 36 0-18 0-58 0 95 1-109 0 37 0 17 0-91 0-9 0 121 0-81 1 45 0-35 0 75 0-77 0 33 0 92 0-126 0-15 0 36 1-18 0 15 0 31 0 6 0 43 0-8 1-60 0 2 0 129 0-32 1-90 0-50 0 5 0-1 0 10 1 77 0-92 0 100 0-33 1-5 0-39 0 39 0 157 0-133 1-30 0 37 0-60 0-59 0 128 0-125 0 75 1-2 0 28 0 5 0 14 0-43 0-47 0-2 0 51 1-8 0-17 0-16 0 42 0 36 0-51 0 29 1-66 0 58 0-40 0-40 0 100 1-32 0-37 0 88 0-64 0 73 0-87 0 85 1-67 0 88 0-115 0 13 0 8 1 28 0 32 0 45 0-99 0 72 0-67 0-66 0 135 0-118 1 31 0 5 0-30 0 31 0-25 0 9 0 10 0 12 0 75 0-54 0-69 1 96 0-15 0 24 0-65 0 91 0-46 0 23 0-33 0 0 0-70 1 75 0 3 0-51 0 15 0-25 0 34 0-46 1 95 0-12 0-18 0-7 0 36 0-78 1 41 0-33 0 61 0-60 0 30 0 33 0 19 0-96 1 10 0 36 0-52 0-87 0 199 0-19 0-84 0 76 1 47 0-72 0 82 0-59 0-68 1 21 0 132 0-45 0-75 0 44 0 10 0-106 0 102 0 16 1-47 0-16 0-22 0 0 1-30 0-20 0 90 0-71 0 16 0-32 0 96 0-70 0 69 0-22 0 109 0-117 1 35 0 2 0-58 0 25 0-21 0 53 0-84 0 34 0 36 0-36 0-33 0-30 1 28 0 64 0-20 0 17 0 22 0-44 0 10 1-64 0 84 0 10 0 8 1-31 0-8 0 6 0-21 0 31 0 41 0-73 0-90 0 80 0 106 0-80 1-5 0-36 0 147 1-61 0-56 0 13 0 33 0-120 0 111 1-84 0 131 0-47 0-16 0 44 0-38 0 88 1-131 0 47 0 25 0-98 0 36 0-8 0 61 0-33 0 12 0-55 0 127 1-132 0 79 0-15 0-14 1-62 0 3 0 94 0-18 0-34 0-76 0 63 0 50 0-53 0 55 0 14 0 121 1-181 0 47 0-28 0 37 0-57 0 29 0-13 1 42 0-42 0 29 0-38 0-26 0 63 1-97 0 76 0-15 0-15 0 11 0-15 0 17 0-22 0 48 1 16 0-9 0-2 0-94 0 34 0 76 0-25 0 91 1-71 0-19 0-34 0 11 0-7 0 34 0 49 0-42 0 3 0 9 0-61 0 17 0 3 0 13 1 4 0 30 0-19 0-79 0 12 0 75 0 5 0-23 1-43 0 36 0 23 1-17 0 14 0 24 0-87 0 1 1 83 0-70 0 31 0-23 0 46 1-35 0 23 0-47 0-65 0 114 0 49 0-81 0 64 1 3 0-80 0 47 1 0 0-68 0 60 0-17 1-62 0 81 0 21 1-24 0 23 0-63 0 95 0-122 1 92 0-94 0 13 0 77 0-29 0-47 0 32 0-3 0 6 0-24 0-11 0 69 0-103 1 69 0-1 0 15 0-101 0 86 0 25 0 31 1-34 0-47 0 26 0 46 0-83 1 18 0 23 0-51 0 4 0 52 0-84 1 90 0 14 0-25 1-24 0 33 0-12 0 60 0-20 0 1 0 16 0 62 1-110 0 41 0-72 0-15 0 62 0-49 0 54 0-132 0 140 0 9 1 40 0-65 0-83 0 84 0 27 1-83 0 26 0-37 0 73 0 3 0 47 1-90 0 87 0-25 0 16 0-55 1 45 0-20 0-95 0 59 0 32 1-31 0 44 0-106 0 52 0 47 0-165 0 68 1 37 0 19 0 13 0 80 0-111 0 9 0 29 0-5 0-39 1 67 0-67 0 4 0-1 0 1 1 45 0-46 0-45 0 120 0 32 0-51 0-22 0 5 0-58 0 83 0-26 0 13 0 23 1 23 0-59 0-18 0-6 0 54 0-31 0 34 0-26 0-30 0-21 0 1 0 31 1 47 0-64 0-1 0 6 0 32 1 97 0-48 0-39 0 25 0-135 0 149 1-44 0 16 0-98 0 14 0 52 0-29 0 28 0-21 0 33 0-47 1 80 0-36 0-25 0-13 0 98 0-19 0-39 0-29 0-41 1 54 0-18 0 36 0-25 0 23 0-34 0-3 0-145 1 198 0-28 0-54 0-51 1 42 0 35 0-4 0 5 0 60 0-57 0-21 0 133 1-78 0-32 0-29 0 230 0-177 0 6 0-45 0 4 1 79 0-90 0 33 0 55 1-106 0 109 0-81 0 23 0-21 0 67 0-36 0-38 0 112 0-106 0 93 0-96 1 87 0-42 0 29 0-23 0-11 0-30 0 66 0 4 1 14 0-34 0-50 0 41 0-60 0 58 0 21 0-93 0 83 0-11 0-14 1-41 0-4 0 83 0-91 0 48 0 5 1 54 0-36 0-64 0 75 0 13 0-35 0-23 0 30 1 6 0-45 0 47 0-14 0 50 0 3 0-110 0 5 0 35 0-20 1-33 0 76 0-12 0 25 0-30 1 71 0-21 0-89 0-2 0 116 1-15 0-87 0 24 0-61 0 119 0-63 0-39 0 47 0 63 1-68 0 43 0-31 0 31 0-38 0-58 0 47 1 26 0-37 0 45 0-60 1 20 0-17 0-12 1 52 0-34 0 27 0 49 0 28 0-26 0-80 0-12 1 118 0-119 0 132 0-117 0 28 0-39 1 73 0-12 0-35 0 3 0-5 0 23 0-67 1 56 0-46 0 66 0 19 0 4 0-45 0 38 0-19 0 27 0-42 0 29 1-3 0 95 0-140 0 55 0-42 1 34 0-49 0 51 0 39 0-94 0 35 1-50 0 81 0-7 0-18 0 7 0-43 0 133 0-143 1 28 0 49 0-66 0-14 0 77 0 13 0-51 0-1 0 20 0-8 0 35 0-37 1 30 0-61 0 22 0 5 0-30 0 101 0-116 0 39 0-59 0 22 1 147 0-92 0 1 0 93 0-134 0 0 1 131 0-67 0-41 0-3 0-26 0 64 0-126 1 111 0-31 0 60 0-55 0 82 1 2 0-53 0-71 0 47 0 31 0-66 0 48 0 52 0-80 0-3 0 58 0-45 0-35 0 64 0 32 1 60 0-140 0 67 0-33 1-25 0 23 0-15 0 29 0-14 0 40 0 55 0-72 0-129 0 133 1-41 0 52 0-61 0-2 0 78 0-66 0-12 0 11 0-65 1 125 0-80 0 8 0 57 1-63 0 3 0 9 0 5 0 21 0-13 1-12 0 116 0-85 0-66 1-4 0 179 0-67 0-101 0-28 1 10 0 138 0-119 0 7 1 25 0-26 0-2 0 26 0 75 0-27 0-54 0 25 0-57 1 100 0-98 0 73 0-71 0 65 0-19 0-5 1 39 0-29 0-14 0-50 0 2 0-5 0 13 0 107 0-31 0-16 1-60 0-21 0 49 0 33 0-1 0-59 0 27 0 114 0-65 0-15 0 8 1-81 0 20 0 70 0-91 0-21 0 109 1-61 0-21 0 20 0 3 0 10 1-29 0 47 0-17 0 4 0-6 0 52 0 3 0 17 0-38 0 29 0-57 0-28 0-11 1 60 0-9 0 80 0-123 0 41 0-55 1 68 0-16 0 0 0-8 0 34 0-23 0-16 0 10 0 14 1 3 0 68 0-81 0 33 0-45 1 17 0 28 0-46 0 61 0-10 0 22 1-43 0-23 0-11 0 56 0-118 0 129 0 1 1-43 0 8 0-47 0-9 0 84 1-8 0-14 1-3 0-45 0 1 0 73 0-58 0 22 0 0 0 87 0-72 0-13 1 17 0 48 0-61 0 37 0-72 0-50 0 66 1 64 0-51 0 17 0 20 0-50 1 10 1-70 0 37 0 25 0-1 0-31 0-89 0 118 1-30 0 41 0-52 0 53 0-51 0-28 0 103 0-31 0-17 0-40 1 68 0-60 0 42 0 5 0-12 0-25 0 58 0-39 0 3 1 129 0-105 0 5 0-96 0 87 0 48 0-20 0-83 0 82 0-70 0 54 1-27 0 15 0 4 0-76 0 109 0-83 0 0 0 50 0 27 0 29 1 29 0-84 0 17 0-24 0-10 0 46 0 28 1-92 0 18 0 3 0 43 0 29 0-51 0-15 1-29 0 35 0-53 0 58 0 45 0-99 0 48 0-104 0 133 0-79 1 59 0-97 0 126 0-14 0-6 0-75 0 36 0-20 1 48 0 33 0-27 0-60 0 55 0 59 1-18 0-28 0-42 0 34 0 25 0-29 0 131 0-164 0 17 0-20 0 42 1-99 0 102 0 9 0-78 0 94 0-88 1 58 0-106 0 60 0 11 0-36 0 32 0-2 0 25 0-48 0 42 0-47 1 98 0-72 0 6 0 42 0-41 0 48 0 29 0-57 1 29 0 5 0-115 0 125 1-33 0-41 1-18 0-12 0 62 0-40 0 163 0-188 0 57 0-7 0-5 0 21 1-4 0 40 0 18 0-28 0-32 0-77 0 54 0-77 0 51 1 30 0-12 0-7 0 90 0-23 0 136 0-183 0-38 0 8 0 52 0-5 0-55 0 32 0 7 0 46 0-98 0 26 1 109 0-25 0-35 0-43 0 95 0-60 1 90 0-158 0 146 0-104 1-25 0-8 0 88 0-57 0 21 0 13 0 28 1 51 0-102 0-35 0 91 0-7 0-41 0-12 0 11 1 5 0 36 0-36 0 35 0-71 0-2 1 53 0 38 0-7 0 0 0 3 0-56 0 15 1 15 0-4 0-24 0 52 0-34 0-29 0 76 0-5 0-46 0-113 0 111 1-21 0 86 0-47 1 35 0-76 0-18 1 47 0 49 0-28 0-49 0-11 0 15 1 41 0-49 0 116 0-44 0 0 0-79 0 76 0 45 0-75 0-61 0 59 1 8 0-39 0 30 0-73 0 59 0 29 0 109 0-119 1 42 0-138 0 40 0 74 0-68 0 123 0-160 1 83 0 171 0-159 0-63 0 46 0 11 0-34 1 144 0-33 0-14 0 119 0-18 0-95 1 90 0-49 0-17 0-22 0 8 0 89 0-70 0 56 0-25 0-92 0 5 1 77 0 33 0 0 0-224 0 181 0-31 0 0 1-5 0 19 0 66 0-94 0 94 0-82 1 62 0 44 0-73 0-71 0 124 0-44 1-45 0 90 0-67 0-6 0 60 0-79 0-15 0 19 0-38 1 32 0 83 0-91 0 92 0-188 0 69 0-72 0 92 0 108 0-3 1-44 0 56 0-112 0 22 0 12 0-15 0 33 0-46 0 63 0-70 1-66 0 151 0-68 0 45 1 42 0-62 0 76 0-101 0 58 1-85 0 93 0-88 0 62 0-5 0-38 0 43 0-37 0 64 0 23 1-141 0 57 0-21 0 27 0 13 1-84 0 154 0-39 0 45 0-297 0 296 0-47 0-125 1 171 0-83 0-19 0 111 0-1 0-30 0-137 0 103 1 49 0-2 0-49 0-2 0 39 0-35 0-32 0 15 0 75 0-53 0 10 1-25 0-37 0 86 1 18 0-103 0 69 0-61 0 77 0-22 0-97 0 118 0-78 0 73 0-18 0 11 0-28 0 36 1-82 0 57 0-28 0 7 0 33 0-65 0 52 0-142 1 154 0-1 0 39 0-80 0 71 0-8 0-14 0 2 0-89 1 108 0-9 0-78 0 32 0 32 0-42 0 64 0-89 0 38 1 60 0-171 0 118 0 60 0-39 0-106"/></g>
<g filter="url(#bl)">
<path class="v" d="M423.1 580.3V785.6M450.4 580.3V785.6M471.7 580.3V785.6M490.4 580.3V785.6M512 580.3V785.6M530.3 580.3V785.6M548.2 580.3V785.6M554 580.3V785.6M570.3 580.3V785.6M585.4 580.3V785.6M594.1 580.3V785.6M602.6 580.3V785.6M609.1 580.3V785.6M622.6 580.3V785.6M633.8 580.3V785.6M635.3 580.3V785.6M643.8 580.3V785.6M650.5 580.3V785.6M656.6 580.3V785.6M664.9 580.3V785.6M669.3 580.3V785.6"/>
<path class="v" d="M403.3 683H679.8"/>
<path class="o" style="stroke-width:2.7" d="M404.9 683H419.2M420.8 681.6H422.2M423.8 681.6H449.5M451.1 680.9H470.8M472.4 681.9H489.5M491.1 681.6H511.1M512.7 683.6H529.4M531 681.6H533.9M535.5 683H547.3M548.9 683H553.1M554.7 683H569.4M571 683H584.5M586.1 680.2H588M589.6 683.6H593.2M594.8 683.6H601.7M603.3 682.6H608.2M609.8 683H621.7M623.3 683H632.9M634.5 683H634.4M636 685H642.9M644.5 682.3H649.6M651.2 681.9H655.7M657.3 680.2H664M665.6 685.7H668.4M670 750.7H678.2"/>
<path class="o" style="stroke-width:2.4000000000000004" d="M497.9 712.4h.3M499.2 712.4h.3M537.1 696h.3M625.4 674.7h.3M591.5 704.8h.3M604.5 716.5h.3M646.2 714.8h.3M638.5 754.1h.3"/>
<rect class="f" x="403.3" y="580.3" width="276.5" height="205.3"/>
<path class="k" d="M403.3 580.3V785.6"/>
<path class="k" d="M400.5 580.3h2.8M400.5 614.5h2.8M400.5 648.7h2.8M400.5 683h2.8M400.5 717.2h2.8M400.5 751.4h2.8M400.5 785.6h2.8"/>
</g>
<g filter="url(#bt)"><text class="t" x="396.9" y="582.8">1.5</text><text class="t" x="396.9" y="617">1.0</text><text class="t" x="396.9" y="651.2">0.5</text><text class="t" x="396.9" y="685.5">0.0</text><text class="t" x="396.9" y="719.7">−0.5</text><text class="t" x="396.9" y="753.9">−1.0</text><text class="t" x="396.9" y="788.1">−1.5</text><text class="x" transform="translate(412.4 797) rotate(-60)" y="2">chr1</text><text class="x" transform="translate(435.9 797) rotate(-60)" y="2">chr2</text><text class="x" transform="translate(460.2 797) rotate(-60)" y="2">chr3</text><text class="x" transform="translate(480.2 797) rotate(-60)" y="2">chr4</text><text class="x" transform="translate(500.3 797) rotate(-60)" y="2">chr5</text><text class="x" transform="translate(520.2 797) rotate(-60)" y="2">chr6</text><text class="x" transform="translate(538.4 797) rotate(-60)" y="2">chr7</text><text class="x" transform="translate(550.2 797) rotate(-60)" y="2">chr8</text><text class="x" transform="translate(561.2 797) rotate(-60)" y="2">chr9</text><text class="x" transform="translate(577 798.6) rotate(-60)" y="2">chr10</text><text class="x" transform="translate(588.9 798.6) rotate(-60)" y="2">chr11</text><text class="x" transform="translate(597.5 798.6) rotate(-60)" y="2">chr12</text><text class="x" transform="translate(605 798.6) rotate(-60)" y="2">chr13</text><text class="x" transform="translate(615 798.6) rotate(-60)" y="2">chr14</text><text class="x" transform="translate(627.3 798.6) rotate(-60)" y="2">chr15</text><text class="x" transform="translate(633.7 798.6) rotate(-60)" y="2">chr16</text><text class="x" transform="translate(638.7 798.6) rotate(-60)" y="2">chr17</text><text class="x" transform="translate(646.2 798.6) rotate(-60)" y="2">chr18</text><text class="x" transform="translate(652.7 798.6) rotate(-60)" y="2">chr19</text><text class="x" transform="translate(659.9 798.6) rotate(-60)" y="2">chr20</text><text class="x" transform="translate(666.2 798.6) rotate(-60)" y="2">chr22</text><text class="x" transform="translate(673.7 797.3) rotate(-60)" y="2">chrX</text><text class="yl" transform="translate(379.8 695.8) rotate(-90)">Copy ratio (log2)</text></g></g>
</svg></body></html>
